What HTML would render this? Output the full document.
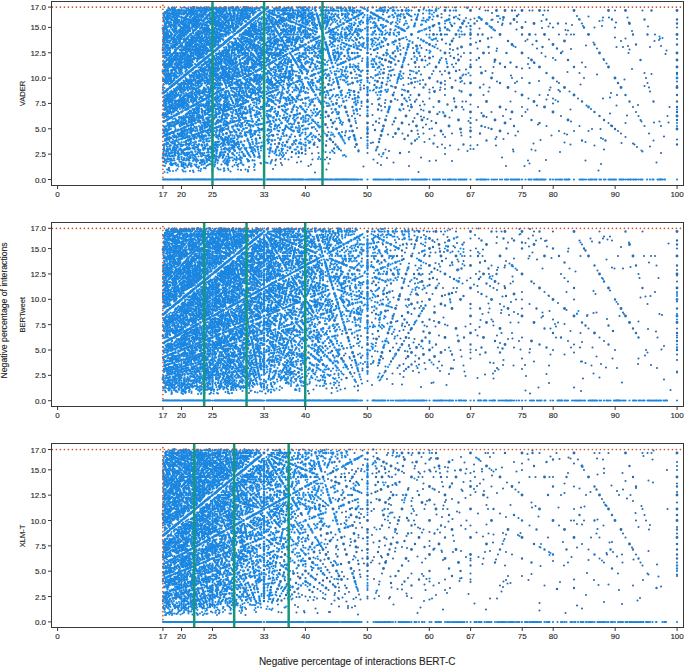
<!DOCTYPE html><html><head><meta charset="utf-8"><style>
html,body{margin:0;padding:0;background:#fff;}
body{width:685px;height:668px;overflow:hidden;}
svg{display:block;}
text{font-family:"Liberation Sans",sans-serif;fill:#262626;stroke:#262626;stroke-width:.12px;}
.xt{font-size:8px;text-anchor:middle;}
.yt{font-size:8px;text-anchor:end;}
.pl{font-size:7.6px;text-anchor:middle;}
.yl{font-size:8.67px;text-anchor:middle;}
.xl{font-size:10px;text-anchor:middle;}
.sp{fill:none;stroke:#383838;stroke-width:1;}
.tk{fill:none;stroke:#383838;stroke-width:1;}
.grn{stroke:#17967b;stroke-width:2.5;}
.sc path{fill:none;stroke:#1a86e0;stroke-linecap:round;}
.sc path.iso{stroke:#2a6cb0;}
.dot{fill:none;stroke:#cf5428;stroke-width:1.7;stroke-dasharray:0 4;stroke-linecap:round;}
</style></head><body><svg width="685" height="668" viewBox="0 0 685 668"><g class="sc" transform="scale(.5)"><path class="iso" d="M745 15h0m1 0h0m83 0h0m63 0h0m18 0h0m49 3h0m-136 3h0m148 0h0m5 0h0m54 0h0m29 0h0m6 0h0m24 0h0m7 0h0m134 0h0m55 0h0m-301 5h0m-138 1h0m37 1h0m-117 1h0m271 0h0m49 1h0m-167 0h0m-20 1h0m255 1h0m-160 0h0m183 1h0m-400 1h0m106 1h0m323 0h0m12 0h0m37 0h0m-323 1h0m17 1h0m36 2h0m-44 0h0m-22 0h0m-54 0h0m-42 1h0m160 0h0m-226 1h0m197 1h0m129 0h0m116 0h0m-148 2h0m-17 0h0m-38 0h0m-220 0h0m456 1h0m26 0h0m-321 1h0m-28 1h0m96 0h0m95 0h0m32 0h0m32 0h0m-20 3h0m-140 0h0m-135 0h0m335 2h0m92 1h0m-199 0h0m-164 0h0m173 2h0m83 0h0m41 0h0m124 0h0m-270 1h0m-342 0h0m217 1h0m74 2h0m98 1h0m5 1h0m-146 0h0m-91 0h0m-39 0h0m404 1h0m46 7h0m-162 0h0m-6 0h0m-9 0h0m-15 0h0m-47 0h0m-177 0h0m-4 0h0m-16 0h0m-21 0h0m66 5h0m311 1h0m-247 0h0m-147 1h0m415 1h0m-310 0h0m-34 0h0m447 1h0m-256 1h0m-43 0h0m-4 3h0m191 0h0m67 0h0m-122 3h0m-235 0h0m-153 2h0m93 0h0m173 2h0m-225 2h0m332 0h0m150 1h0m-66 0h0m-391 0h0m-98 0h0m264 2h0m202 0h0m13 0h0m54 0h0m-457 2h0m-17 0h0m-19 0h0m68 1h0m80 0h0m39 0h0m80 0h0m120 0h0m-52 1h0m-242 0h0m359 1h0m-353 1h0m-53 0h0m-79 0h0m-52 0h0m159 1h0m452 0h0m-340 1h0m132 1h0m132 3h0m-174 0h0m-105 0h0m-50 0h0m-29 0h0m-144 0h0m46 2h0m530 0h0m-415 1h0m-115 0h0m-59 0h0m98 3h0m61 0h0m190 1h0m-169 0h0m-56 0h0m-16 0h0m33 3h0m174 0h0m49 0h0m-381 1h0m98 1h0m69 0h0m315 0h0m1 2h0m-97 0h0m-158 0h0m-12 0h0m-90 1h0m-127 1h0m265 2h0m175 1h0m-95 1h0m144 1h0m-301 0h0m-53 0h0m197 1h0m-115 1h0m-37 0h0m-87 0h0m-51 2h0m405 3h0m-184 0h0m-26 0h0m-54 0h0m-58 0h0m-11 0h0m-7 0h0m-50 0h0m-5 0h0m283 2h0m-15 1h0m-276 1h0m496 0h0m-332 1h0m-13 1h0m-99 1h0m-95 0h0m-101 1h0m214 0h0m29 0h0m23 0h0m81 0h0m-91 1h0m-170 0h0m425 1h0m154 2h0m-130 0h0m-174 0h0m-178 1h0m496 1h0m-439 0h0m-129 0h0m-22 1h0m64 0h0m43 0h0m22 0h0m42 0h0m310 0h0m-405 1h0m136 1h0m16 0h0m81 0h0m-300 1h0m20 2h0m550 2h0m-124 0h0m-124 0h0m-20 0h0m-124 0h0m-69 0h0m-14 0h0m-51 0h0m-7 0h0m-55 0h0m-73 0h0m618 3h0m-403 1h0m65 1h0m167 1h0m-188 0h0m104 1h0m40 0h0m80 0h0m240 0h0m-433 1h0m-91 0h0m200 2h0m88 0h0m177 0h0m-366 1h0m-112 1h0m23 0h0m321 1h0m-194 0h0m-77 0h0m-83 1h0m-79 1h0m54 1h0m507 0h0m65 0h0m-56 3h0m-197 0h0m-122 0h0m-98 0h0m-15 0h0m-37 0h0m-101 2h0m162 1h0m-31 1h0m258 1h0m-18 0h0m-219 0h0m39 1h0m381 2h0m-161 0h0m-19 0h0m-89 0h0m-54 0h0m-392 1h0m274 1h0m-71 0h0m-172 1h0m606 0h0m12 4h0m-138 0h0m-17 0h0m-112 0h0m-77 0h0m-69 0h0m399 5h0m-14 2h0m-50 0h0m-50 0h0m-49 0h0m-198 0h0m-154 1h0m85 0h0m303 1h0m-260 0h0m-77 0h0m-21 0h0m36 1h0m24 0h0m-102 1h0m30 2h0m123 0h0m63 0h0m16 0h0m7 0h0m89 0h0m95 0h0m-346 3h0m-164 0h0m500 1h0m-362 1h0m78 1h0m27 0h0m92 0h0m335 1h0m-436 1h0m234 0h0m99 0h0m60 0h0m-417 1h0m-54 0h0m8 2h0m97 0h0m57 0h0m32 0h0m88 0h0m222 0h0m73 0h0m-648 2h0m-28 2h0m57 0h0m87 0h0m375 0h0m-41 1h0m-86 0h0m-43 0h0m-85 0h0m-85 0h0m-79 2h0m56 0h0m28 0h0m57 0h0m368 3h0m-221 0h0m-68 0h0m-319 2h0m299 0h0m257 1h0m-475 3h0m509 1h0m-534 0h0m-24 1h0m8 0h0m69 0h0m233 0h0m38 0h0m78 0h0m155 0h0m58 0h0m-493 1h0m131 1h0m-74 1h0m-51 0h0m-19 1h0m112 0h0m-182 1h0m-49 0h0m145 1h0m166 0h0m260 2h0m-328 0h0m-90 2h0m74 0h0m382 1h0m-36 0h0m-141 0h0m-443 0h0m-53 0h0m662 2h0m29 0h0m-86 1h0m-34 0h0m-459 0h0m-46 0h0m73 3h0m33 0h0m34 0h0m224 0h0m-330 1h0m476 1h0m100 1h0m-33 0h0m-130 0h0m-66 0h0m-429 2h0m71 0h0m235 0h0m-29 1h0m-95 0h0m-191 0h0m59 1h0m263 0h0m-113 1h0m-5 1h0m325 0h0m17 0h0m-366 3h0m-201 1h0m484 0h0m30 0h0m29 0h0m59 0h0m-200 1h0m-379 1h0m27 0h0m238 1h0m-117 2h0m42 0h0m57 0h0m112 0h0m113 0h0m113 0h0m56 0h0m-462 1h0m-253 1h0m55 0h0m138 0h0m110 0h0m248 0h0m-31 2h0m-72 0h0m-108 0h0m-54 0h0m-179 0h0m-100 2h0m52 0h0m27 0h0m659 0h0m-77 1h0m-258 0h0m-52 0h0m-51 0h0m-104 0h0m-64 2h0m480 0h0m-195 2h0m-16 0h0m-132 0h0m495 1h0m-273 1h0m-531 0h0m757 1h0m-654 1h0m-164 0h0m360 2h0m322 0h0m-42 1h0m-383 0h0m-4 1h0m501 0h0m23 1h0m-199 0h0m-421 0h0m-96 1h0m719 1h0m-128 0h0m-257 0h0m71 1h0m234 1h0m-197 0h0m-51 0h0m-41 0h0m400 2h0m-26 1h0m-399 0h0m-165 0h0m-75 0h0m-16 2h0m116 0h0m155 0h0m57 2h0m-176 1h0m146 0h0m109 0h0m37 0h0m145 0h0m75 2h0m-212 0h0m-319 0h0m-70 0h0m-107 0h0m203 1h0m157 0h0m350 1h0m-258 0h0m-310 0h0m-66 1h0m167 0h0m302 0h0m202 2h0m-555 0h0m-32 0h0m-66 0h0m-32 0h0m-13 1h0m266 1h0m-279 0h0m147 1h0m-220 4h0m45 1h0m14 0h0m407 1h0m-162 0h0m-188 0h0m120 1h0m-114 2h0m-99 0h0m-9 1h0m25 0h0m48 0h0m25 0h0m97 0h0m345 1h0m-564 1h0m23 0h0m321 0h0m184 0h0m115 0h0m-267 1h0m-45 0h0m-257 1h0m711 2h0m-526 0h0m-193 0h0m-73 1h0m41 0h0m193 0h0m304 1h0m-402 0h0m-135 0h0m680 1h0m-580 1h0m-179 0h0m108 1h0m13 0h0m198 0h0m287 2h0m-37 0h0m-194 0h0m-201 0h0m-152 1h0m262 0h0m-229 1h0m48 4h0m107 1h0m-162 0h0m-9 1h0m27 0h0m688 1h0m-817 1h0m45 0h0m654 0h0m-583 1h0m-35 0h0m-74 1h0m450 0h0m-207 1h0" stroke-width="4.20"/><path class="iso" d="M900 21h0m124 0h0m279 0h0m-269 11h0m-126 3h0m446 4h0m-65 0h0m-65 0h0m-65 0h0m-66 0h0m-144 8h0m72 0h0m95 0h0m238 0h0m-413 5h0m-37 0h0m-14 3h0m278 0h0m-387 4h0m148 10h0m27 0h0m9 0h0m79 0h0m222 0h0m29 0h0m-319 8h0m-92 2h0m189 3h0m-57 0h0m-56 0h0m-343 3h0m101 0h0m636 4h0m-82 0h0m-83 0h0m-289 0h0m77 5h0m108 0h0m29 3h0m-199 0h0m-167 3h0m374 6h0m-109 0h0m-72 0h0m-113 0h0m-113 0h0m-11 0h0m63 4h0m-78 2h0m102 1h0m167 3h0m-50 0h0m-144 2h0m517 2h0m-145 0h0m-339 2h0m-19 1h0m-87 0h0m187 2h0m143 0h0m47 0h0m-68 2h0m-209 2h0m357 5h0m-115 0h0m-23 0h0m-115 0h0m17 8h0m-111 1h0m292 3h0m261 0h0m-572 5h0m-123 10h0m216 2h0m125 3h0m59 0h0m177 0h0m-385 3h0m-78 0h0m-24 1h0m211 5h0m-113 0h0m-197 0h0m71 4h0m202 4h0m-206 2h0m637 5h0m-103 0h0m-447 0h0m-153 5h0m257 2h0m-99 0h0m21 6h0m334 0h0m95 0h0m48 0h0m47 0h0m-459 6h0m-137 0h0m-129 2h0m725 3h0m-649 0h0m51 5h0m43 0h0m555 5h0m-165 0h0m-606 0h0m17 3h0m275 1h0m-40 0h0m364 4h0m-408 4h0m-129 4h0m401 0h0m145 0h0m146 0h0m-528 3h0m-38 0h0m-36 0h0m120 3h0m69 0h0m138 0h0m145 6h0m-196 0h0m-65 0h0m-339 3h0m606 3h0m-247 0h0m-233 2h0m73 2h0m137 5h0m-144 4h0m-243 0h0m162 3h0m-215 2h0m239 2h0m50 0h0m402 3h0m-47 0h0m-191 0h0m-143 0h0m-164 3h0m92 0h0m109 3h0m-44 0h0m-152 2h0m256 0h0m427 0h0m-702 2h0m103 3h0m-152 4h0m8 3h0m35 0h0m71 0h0m-133 3h0m20 2h0m196 0h0m-272 5h0" stroke-width="4.80"/><path class="iso" d="M804 21h0m34 0h0m52 0h0m51 0h0m52 0h0m17 0h0m34 0h0m35 0h0m69 0h0m69 0h0m34 0h0m103 0h0m-479 11h0m-66 3h0m198 0h0m21 4h0m-195 0h0m45 8h0m47 0h0m48 0h0m95 0h0m191 0h0m-393 5h0m55 3h0m123 0h0m310 14h0m-177 0h0m-88 0h0m-30 0h0m-59 0h0m-59 0h0m-29 0h0m-30 0h0m-15 0h0m-44 0h0m-110 10h0m86 0h0m330 3h0m-225 0h0m-128 7h0m83 0h0m82 0h0m83 0h0m82 0h0m-273 3h0m90 2h0m431 12h0m-155 0h0m-155 0h0m-77 0h0m-77 0h0m-104 0h0m-51 0h0m124 10h0m495 4h0m-291 0h0m-73 0h0m-73 0h0m-73 0h0m-73 0h0m11 5h0m48 0h0m524 9h0m-137 0h0m-138 0h0m-138 0h0m-69 0h0m-68 0h0m-184 0h0m115 8h0m228 4h0m-65 0h0m-131 0h0m-65 0h0m33 10h0m124 0h0m62 0h0m62 0h0m123 0h0m124 0h0m-475 7h0m-50 3h0m59 0h0m59 0h0m59 0h0m59 0h0m-284 3h0m21 6h0m113 0h0m113 0h0m112 0h0m113 0h0m113 0h0m112 0h0m-485 8h0m-53 0h0m-108 0h0m27 7h0m51 0h0m52 0h0m103 0h0m103 0h0m104 0h0m-80 13h0m-95 0h0m-95 0h0m-96 0h0m-47 0h0m-62 4h0m131 2h0m-246 5h0m88 0h0m44 0h0m45 0h0m88 0h0m89 0h0m88 0h0m89 0h0m17 10h0m-82 0h0m-83 0h0m-82 0h0m-166 0h0m-41 0h0m5 8h0m78 0h0m77 0h0m78 0h0m77 0h0m387 0h0m-218 8h0m-146 0h0m-73 0h0m-73 0h0m-73 0h0m-73 0h0m-101 6h0m69 0h0m69 0h0m69 0h0m206 0h0m-359 3h0m51 3h0m65 0h0m66 0h0m65 0h0m456 6h0m-433 0h0m-124 0h0m-124 0h0m-27 4h0m59 0h0m59 0h0m118 0h0m59 0h0m59 0h0m-209 5h0m-56 0h0m-282 0h0m93 4h0m108 0h0m54 0h0m54 0h0m-234 3h0m132 4h0m-21 3h0m-65 3h0m-16 3h0m70 2h0m85 0h0m-158 5h0" stroke-width="5.80"/><path d="M388 14h0m25 0h0m74 0h0m37 0h0m74 0h0m13 0h0m37 0h0m286 1h0m-1 0h0m-140 0h0m-27 0h0m-42 0h0m-1 0h0m-62 0h0m-15 0h0m-44 0h0m-4 0h0m-4 0h0m-70 0h0m-10 0h0m-1 0h0m-12 0h0m-29 0h0m-30 0h0m-12 0h0m-11 0h0m-5 0h0m-5 0h0m-6 0h0m-7 0h0m-15 0h0m-11 0h0m-3 0h0m-18 0h0m-1 0h0m2 1h0m13 0h0m20 0h0m12 0h0m3 0h0m9 0h0m18 0h0m5 0h0m4 0h0m16 0h0m14 0h0m13 0h0m12 0h0m10 0h0m10 0h0m6 0h0m10 0h0m9 0h0m17 0h0m3 0h0m15 0h0m9 0h0m17 0h0m9 0h0m35 0h0m35 0h0m4 0h0m13 0h0m7 0h0m8 0h0m3 0h0m26 0h0m26 0h0m2 0h0m19 0h0m31 0h0m35 0h0m87 0h0m-58 1h0m-97 0h0m-21 0h0m-32 0h0m-27 0h0m-14 0h0m-4 0h0m-20 0h0m-32 0h0m-16 0h0m-12 0h0m-17 0h0m-3 0h0m-10 0h0m-6 0h0m-7 0h0m-11 0h0m-15 0h0m-15 0h0m-1 0h0m-14 0h0m-2 0h0m-10 0h0m-6 0h0m-12 0h0m-6 0h0m-14 0h0m-4 0h0m-5 0h0m-9 0h0m-6 0h0m-1 0h0m-23 0h0m-11 0h0m-5 0h0m-5 0h0m-8 0h0m-26 0h0m-11 0h0m5 1h0m3 0h0m39 0h0m13 0h0m11 0h0m1 0h0m7 0h0m4 0h0m26 0h0m3 0h0m8 0h0m25 0h0m6 0h0m5 0h0m15 0h0m2 0h0m20 0h0m19 0h0m14 0h0m8 0h0m33 0h0m1 0h0m18 0h0m42 0h0m25 0h0m38 0h0m142 0h0m-25 1h0m-203 0h0m-35 0h0m-53 0h0m-25 0h0m-52 0h0m-20 0h0m-19 0h0m-9 0h0m-44 0h0m-6 0h0m-4 0h0m-19 0h0m-18 0h0m-5 2h0m1 0h0m2 0h0m1 0h0m21 0h0m5 0h0m11 0h0m10 0h0m9 0h0m2 0h0m1 0h0m2 0h0m7 0h0m2 0h0m2 0h0m1 0h0m8 0h0m22 0h0m7 0h0m15 0h0m1 0h0m2 0h0m5 0h0m1 0h0m7 0h0m2 0h0m1 0h0m1 0h0m1 0h0m7 0h0m4 0h0m10 0h0m2 0h0m1 0h0m7 0h0m4 0h0m18 0h0m6 0h0m1 0h0m2 0h0m2 0h0m7 0h0m2 0h0m2 0h0m7 0h0m7 0h0m2 0h0m9 0h0m1 0h0m4 0h0m1 0h0m1 0h0m1 0h0m10 0h0m19 0h0m19 0h0m5 0h0m3 0h0m6 0h0m1 0h0m4 0h0m1 0h0m1 0h0m7 0h0m2 0h0m2 0h0m3 0h0m16 0h0m7 0h0m10 0h0m8 0h0m4 0h0m37 0h0m31 0h0m6 0h0m2 0h0m14 0h0m42 0h0m11 0h0m43 0h0m-230 2h0m-143 0h0m-43 0h0m-1 0h0m-98 0h0m-9 0h0m-11 0h0m-42 1h0m14 0h0m8 0h0m5 0h0m2 0h0m10 0h0m2 0h0m8 0h0m9 0h0m7 0h0m7 0h0m2 0h0m8 0h0m21 0h0m2 0h0m10 0h0m8 0h0m7 0h0m16 0h0m10 0h0m4 0h0m2 0h0m11 0h0m1 0h0m8 0h0m12 0h0m13 0h0m12 0h0m37 0h0m10 0h0m4 0h0m1 0h0m7 0h0m97 0h0m4 0h0m10 0h0m48 0h0m101 1h0m-94 0h0m-32 0h0m-29 0h0m-18 0h0m-70 0h0m-6 0h0m-8 0h0m-25 0h0m-16 0h0m-3 0h0m-28 0h0m-15 0h0m-14 0h0m-27 0h0m-14 0h0m-9 0h0m-31 0h0m-16 0h0m-12 0h0m-19 0h0m-4 0h0m-12 0h0m-6 0h0m-25 0h0m-2 0h0m-5 1h0m8 0h0m10 0h0m7 0h0m3 0h0m21 0h0m10 0h0m6 0h0m18 0h0m27 0h0m16 0h0m6 0h0m20 0h0m16 0h0m8 0h0m2 0h0m34 0h0m1 0h0m15 0h0m2 0h0m17 0h0m3 0h0m12 0h0m17 0h0m17 0h0m27 0h0m74 0h0m19 0h0m46 0h0m1 1h0m-45 0h0m-62 0h0m-20 0h0m-8 0h0m-33 0h0m-6 0h0m-10 0h0m-3 0h0m-8 0h0m-8 0h0m-6 0h0m-8 0h0m-6 0h0m-47 0h0m-1 0h0m-12 0h0m-8 0h0m-24 0h0m-15 0h0m-1 0h0m-20 0h0m-15 0h0m-36 0h0m-28 0h0m-9 0h0m-12 0h0m-10 0h0m25 1h0m30 0h0m3 0h0m10 0h0m27 0h0m6 0h0m9 0h0m42 0h0m4 0h0m6 0h0m15 0h0m12 0h0m14 0h0m40 0h0m35 0h0m76 0h0m2 0h0m116 0h0m14 0h0m48 1h0m-34 0h0m-33 0h0m-93 0h0m-27 0h0m-48 0h0m-3 0h0m-24 0h0m-7 0h0m-4 0h0m-27 0h0m-2 0h0m-24 0h0m-5 0h0m-15 0h0m-31 0h0m-5 0h0m-34 0h0m-21 0h0m-20 0h0m-13 0h0m-5 0h0m-22 0h0m-4 0h0m-6 0h0m-9 0h0m-12 0h0m-9 1h0m6 0h0m61 0h0m7 0h0m11 0h0m13 0h0m14 0h0m28 0h0m19 0h0m9 0h0m5 0h0m6 0h0m22 0h0m32 0h0m7 0h0m35 0h0m32 0h0m6 0h0m28 0h0m61 0h0m6 0h0m65 1h0m-47 0h0m-48 0h0m-64 0h0m-16 0h0m-9 0h0m-5 0h0m-7 0h0m-5 0h0m-12 0h0m-7 0h0m-2 0h0m-80 0h0m-17 0h0m-1 0h0m-7 0h0m-24 0h0m-11 0h0m-10 0h0m-3 0h0m-5 0h0m-4 0h0m-13 0h0m-5 0h0m-25 0h0m-33 0h0m-12 0h0m28 1h0m1 0h0m48 0h0m15 0h0m42 0h0m3 0h0m70 0h0m4 0h0m49 0h0m9 0h0m18 0h0m40 0h0m40 0h0m46 0h0m80 0h0m14 0h0m162 0h0m-85 1h0m-45 0h0m-44 0h0m-22 0h0m-88 0h0m-45 0h0m-66 0h0m-3 0h0m-19 0h0m-4 0h0m-18 0h0m-16 0h0m-6 0h0m-23 0h0m-17 0h0m-39 0h0m-4 0h0m-53 0h0m-8 0h0m-44 0h0m-5 0h0m-14 1h0m4 0h0m12 0h0m7 0h0m19 0h0m1 0h0m34 0h0m25 0h0m21 0h0m2 0h0m12 0h0m1 0h0m15 0h0m16 0h0m3 0h0m23 0h0m55 0h0m10 0h0m17 0h0m12 0h0m2 0h0m6 0h0m25 0h0m14 0h0m62 0h0m15 0h0m46 0h0m46 1h0m-47 0h0m-44 0h0m-3 0h0m-14 0h0m-18 0h0m-15 0h0m-16 0h0m-25 0h0m-68 0h0m-6 0h0m-24 0h0m-9 0h0m-8 0h0m-42 0h0m-5 0h0m-11 0h0m-29 0h0m-5 0h0m-16 0h0m-25 0h0m-8 0h0m-4 0h0m-27 0h0m-10 0h0m-2 0h0m-7 0h0m-12 1h0m33 0h0m18 0h0m18 0h0m8 0h0m22 0h0m6 0h0m8 0h0m45 0h0m3 0h0m24 0h0m9 0h0m18 0h0m18 0h0m9 0h0m7 0h0m2 0h0m21 0h0m6 0h0m9 0h0m2 0h0m2 0h0m23 0h0m18 0h0m15 0h0m14 0h0m5 0h0m11 0h0m54 0h0m85 0h0m113 0h0m40 1h0m-84 0h0m-121 0h0m-45 0h0m-33 0h0m-31 0h0m-50 0h0m-9 0h0m-20 0h0m-29 0h0m-30 0h0m-4 0h0m-12 0h0m-9 0h0m-3 0h0m-11 0h0m-1 0h0m-45 0h0m-4 0h0m-8 0h0m-20 0h0m-15 0h0m-89 0h0m9 1h0m17 0h0m20 0h0m37 0h0m5 0h0m44 0h0m24 0h0m15 0h0m9 0h0m38 0h0m16 0h0m20 0h0m25 0h0m49 0h0m102 0h0m401 0h0m-304 1h0m-54 0h0m-61 0h0m-76 0h0m-4 0h0m-35 0h0m-9 0h0m-27 0h0m-38 0h0m-22 0h0m-5 0h0m-27 0h0m-16 0h0m-22 0h0m-28 0h0m-2 0h0m-8 0h0m-5 0h0m-26 0h0m-2 0h0m-2 0h0m-48 0h0m-10 0h0m1 1h0m17 0h0m7 0h0m11 0h0m27 0h0m1 0h0m11 0h0m34 0h0m1 0h0m12 0h0m3 0h0m17 0h0m36 0h0m28 0h0m11 0h0m19 0h0m1 0h0m11 0h0m54 0h0m35 0h0m17 0h0m9 0h0m10 0h0m12 0h0m145 0h0m37 0h0m112 0h0m199 1h0m-358 0h0m-3 0h0m-49 0h0m-60 0h0m-12 0h0m-25 0h0m-24 0h0m-61 0h0m-12 0h0m-8 0h0m-60 0h0m-57 0h0m-9 0h0m-14 0h0m-23 0h0m-1 0h0m-30 0h0m-15 0h0m-13 0h0m-1 0h0m-16 0h0m42 1h0m3 0h0m18 0h0m11 0h0m16 0h0m48 0h0m11 0h0m8 0h0m4 0h0m31 0h0m14 0h0m10 0h0m23 0h0m13 0h0m6 0h0m42 0h0m68 0h0m90 0h0m39 0h0m39 0h0m-196 1h0m-56 0h0m-24 0h0m-33 0h0m-29 0h0m-18 0h0m-44 0h0m-6 0h0m-13 0h0m-15 0h0m-23 0h0m-11 0h0m-1 0h0m-33 0h0m-9 0h0m-14 0h0m-13 0h0m-3 0h0m-9 0h0m10 1h0m22 0h0m5 0h0m48 0h0m7 0h0m25 0h0m35 0h0m29 0h0m30 0h0m77 0h0m38 0h0m5 0h0m9 0h0m1 0h0m12 0h0m25 0h0m3 0h0m20 0h0m7 0h0m37 0h0m14 0h0m53 0h0m48 1h0m-108 0h0m-43 0h0m-40 0h0m-53 0h0m-4 0h0m-13 0h0m-15 0h0m-7 0h0m-4 0h0m-9 0h0m-16 0h0m-30 0h0m-15 0h0m-26 0h0m-9 0h0m-10 0h0m-25 0h0m-9 0h0m-10 0h0m-7 0h0m-7 0h0m-2 0h0m-13 0h0m-3 0h0m-10 0h0m-3 0h0m-26 0h0m-2 0h0m-4 0h0m-11 0h0m-15 0h0m-15 0h0m-3 0h0m14 1h0m5 0h0m4 0h0m33 0h0m8 0h0m11 0h0m11 0h0m24 0h0m13 0h0m8 0h0m14 0h0m20 0h0m23 0h0m7 0h0m4 0h0m22 0h0m53 0h0m139 0h0m144 1h0m-76 0h0m-4 0h0m-91 0h0m-8 0h0m-8 0h0m-4 0h0m-24 0h0m-12 0h0m-14 0h0m-3 0h0m-16 0h0m-22 0h0m-3 0h0m-37 0h0m-14 0h0m-5 0h0m-10 0h0m-4 0h0m-11 0h0m-4 0h0m-35 0h0m-2 0h0m-6 0h0m-4 0h0m-36 0h0m-9 0h0m-6 0h0m-31 0h0m-9 0h0m-17 0h0m-32 0h0m30 1h0m8 0h0m1 0h0m23 0h0m9 0h0m10 0h0m9 0h0m2 0h0m16 0h0m9 0h0m53 0h0m2 0h0m31 0h0m13 0h0m13 0h0m67 0h0m11 0h0m15 0h0m20 0h0m120 0h0m180 0h0m-73 1h0m-58 0h0m-1 0h0m-122 0h0m-38 0h0m-57 0h0m-30 0h0m-27 0h0m-17 0h0m-2 0h0m-12 0h0m-15 0h0m-3 0h0m-11 0h0m-15 0h0m-17 0h0m-12 0h0m-19 0h0m-12 0h0m-9 0h0m-4 0h0m-15 0h0m-13 0h0m-1 0h0m-19 0h0m-30 0h0m-4 0h0m-9 0h0m16 1h0m3 0h0m8 0h0m10 0h0m4 0h0m16 0h0m23 0h0m47 0h0m24 0h0m20 0h0m5 0h0m40 0h0m31 0h0m21 0h0m42 0h0m21 0h0m21 0h0m21 0h0m63 0h0m42 0h0m21 0h0m13 0h0m-92 1h0m-96 0h0m-21 0h0m-2 0h0m-12 0h0m-18 0h0m-20 0h0m-11 0h0m-23 0h0m-45 0h0m-10 0h0m-30 0h0m-20 0h0m-29 0h0m-10 0h0m-33 0h0m-39 1h0m15 0h0m29 0h0m11 0h0m3 0h0m8 0h0m20 0h0m17 0h0m4 0h0m3 0h0m3 0h0m3 0h0m15 0h0m41 0h0m6 0h0m2 0h0m45 0h0m20 0h0m29 0h0m92 0h0m75 0h0m19 0h0m188 0h0m187 0h0m-338 1h0m-11 0h0m-24 0h0m-23 0h0m-35 0h0m-58 0h0m-31 0h0m-5 0h0m-11 0h0m-40 0h0m-31 0h0m-3 0h0m-16 0h0m-34 0h0m-17 0h0m-17 0h0m-13 0h0m-4 0h0m-64 0h0m-20 0h0m-10 0h0m-14 0h0m-10 0h0m-9 1h0m39 0h0m1 0h0m10 0h0m11 0h0m6 0h0m46 0h0m21 0h0m15 0h0m66 0h0m1 0h0m28 0h0m9 0h0m27 0h0m34 0h0m339 0h0m-102 1h0m-62 0h0m-67 0h0m-3 0h0m-62 0h0m-54 0h0m-5 0h0m-24 0h0m-12 0h0m-3 0h0m-112 0h0m-13 0h0m-47 0h0m-2 0h0m-4 0h0m-7 0h0m-24 0h0m-30 0h0m-18 1h0m70 0h0m5 0h0m9 0h0m15 0h0m8 0h0m2 0h0m4 0h0m5 0h0m3 0h0m6 0h0m14 0h0m3 0h0m11 0h0m11 0h0m1 0h0m25 0h0m10 0h0m9 0h0m18 0h0m19 0h0m9 0h0m9 0h0m3 0h0m52 0h0m8 0h0m97 0h0m124 1h0m-27 0h0m-39 0h0m-84 0h0m-17 0h0m-44 0h0m-11 0h0m-29 0h0m-90 0h0m-11 0h0m-3 0h0m-80 0h0m-27 0h0m-6 0h0m-3 0h0m-38 0h0m-6 0h0m35 1h0m15 0h0m2 0h0m42 0h0m24 0h0m17 0h0m9 0h0m8 0h0m64 0h0m36 0h0m17 0h0m17 0h0m33 0h0m17 0h0m17 0h0m134 0h0m-61 1h0m-56 0h0m-14 0h0m-78 0h0m-54 0h0m-26 0h0m-20 0h0m-5 0h0m-14 0h0m-7 0h0m-4 0h0m-15 0h0m-17 0h0m-14 0h0m-15 0h0m-27 0h0m-8 0h0m-11 0h0m-21 0h0m-6 0h0m-40 1h0m11 0h0m9 0h0m10 0h0m20 0h0m21 0h0m50 0h0m7 0h0m14 0h0m10 0h0m2 0h0m13 0h0m5 0h0m9 0h0m12 0h0m40 0h0m13 0h0m38 0h0m40 0h0m13 0h0m28 0h0m21 0h0m81 0h0m1 0h0m37 1h0m-55 0h0m-18 0h0m-9 0h0m-46 0h0m-145 0h0m-6 0h0m-18 0h0m-4 0h0m-9 0h0m-12 0h0m-61 0h0m-5 0h0m-37 0h0m-9 0h0m-35 0h0m-10 0h0m-4 0h0m-15 0h0m17 1h0m8 0h0m6 0h0m19 0h0m1 0h0m5 0h0m11 0h0m14 0h0m2 0h0m4 0h0m35 0h0m2 0h0m9 0h0m14 0h0m2 0h0m8 0h0m15 0h0m10 0h0m17 0h0m34 0h0m5 0h0m30 0h0m15 0h0m15 0h0m66 0h0m10 0h0m90 0h0m30 0h0m83 1h0m-162 0h0m-39 0h0m-22 0h0m-17 0h0m-26 0h0m-13 0h0m-13 0h0m-51 0h0m-33 0h0m-51 0h0m-7 0h0m-21 0h0m-19 0h0m-8 0h0m-7 0h0m-68 0h0m-14 0h0m-14 0h0m-4 0h0m-5 1h0m11 0h0m19 0h0m27 0h0m11 0h0m15 0h0m4 0h0m12 0h0m36 0h0m57 0h0m7 0h0m8 0h0m12 0h0m18 0h0m15 0h0m19 0h0m57 0h0m9 0h0m1 0h0m34 0h0m11 0h0m34 0h0m19 0h0m71 0h0m105 1h0m-146 0h0m-15 0h0m-5 0h0m-60 0h0m-7 0h0m-16 0h0m-2 0h0m-17 0h0m-1 0h0m-3 0h0m-7 0h0m-7 0h0m-2 0h0m-8 0h0m-30 0h0m-8 0h0m-3 0h0m-16 0h0m-6 0h0m-18 0h0m-9 0h0m-20 0h0m-7 0h0m-13 0h0m-3 0h0m-17 0h0m-21 0h0m-9 0h0m-9 0h0m-18 0h0m-7 0h0m-6 0h0m-5 0h0m-2 0h0m-13 0h0m-8 0h0m-5 0h0m-16 0h0m-5 0h0m-4 0h0m-6 0h0m-1 0h0m-5 0h0m-1 0h0m-5 0h0m-7 0h0m-11 0h0m-4 0h0m15 1h0m12 0h0m9 0h0m2 0h0m4 0h0m44 0h0m1 0h0m15 0h0m30 0h0m1 0h0m13 0h0m13 0h0m2 0h0m8 0h0m2 0h0m3 0h0m2 0h0m11 0h0m10 0h0m9 0h0m23 0h0m6 0h0m26 0h0m38 0h0m26 0h0m30 0h0m66 0h0m39 0h0m-15 1h0m-72 0h0m-144 0h0m-31 0h0m-8 0h0m-5 0h0m-40 0h0m-20 0h0m-30 0h0m-1 0h0m-8 0h0m-13 0h0m-6 0h0m-7 0h0m-4 0h0m-47 0h0m-3 0h0m-2 0h0m1 2h0m13 0h0m12 0h0m16 0h0m23 0h0m5 0h0m12 0h0m17 0h0m1 0h0m5 0h0m11 0h0m4 0h0m2 0h0m27 0h0m2 0h0m3 0h0m1 0h0m1 0h0m15 0h0m1 0h0m3 0h0m3 0h0m8 0h0m8 0h0m11 0h0m26 0h0m10 0h0m20 0h0m4 0h0m13 0h0m4 0h0m1 0h0m15 0h0m2 0h0m29 0h0m1 0h0m1 0h0m2 0h0m2 0h0m2 0h0m3 0h0m23 0h0m3 0h0m2 0h0m15 0h0m29 0h0m9 0h0m7 0h0m11 0h0m28 0h0m61 0h0m60 0h0m5 0h0m-422 2h0m-106 0h0m-3 0h0m-14 0h0m-13 0h0m-1 0h0m-4 0h0m-5 0h0m-25 1h0m3 0h0m3 0h0m5 0h0m7 0h0m7 0h0m10 0h0m1 0h0m22 0h0m5 0h0m2 0h0m2 0h0m27 0h0m10 0h0m9 0h0m8 0h0m14 0h0m13 0h0m18 0h0m6 0h0m3 0h0m22 0h0m25 0h0m6 0h0m107 0h0m28 0h0m22 0h0m77 0h0m526 1h0m-628 0h0m-66 0h0m-14 0h0m-3 0h0m-12 0h0m-27 0h0m-2 0h0m-15 0h0m-38 0h0m-15 0h0m-34 0h0m-27 0h0m-2 0h0m-13 0h0m-2 0h0m-4 0h0m-23 0h0m-25 0h0m-21 0h0m-6 0h0m-8 0h0m4 1h0m10 0h0m52 0h0m9 0h0m24 0h0m31 0h0m38 0h0m15 0h0m49 0h0m14 0h0m13 0h0m6 0h0m28 0h0m11 0h0m10 0h0m11 0h0m10 0h0m11 0h0m22 0h0m22 0h0m88 0h0m-53 1h0m-49 0h0m-25 0h0m-49 0h0m-11 0h0m-14 0h0m-13 0h0m-62 0h0m-12 0h0m-4 0h0m-84 0h0m-8 0h0m-35 0h0m-18 0h0m-47 1h0m3 0h0m11 0h0m17 0h0m25 0h0m5 0h0m19 0h0m8 0h0m2 0h0m5 0h0m12 0h0m40 0h0m13 0h0m3 0h0m34 0h0m13 0h0m48 0h0m27 0h0m6 0h0m56 0h0m74 0h0m19 0h0m39 0h0m518 0h0m-5 1h0m-516 0h0m-52 0h0m-25 0h0m-27 0h0m-5 0h0m-15 0h0m-31 0h0m-1 0h0m-34 0h0m-13 0h0m-21 0h0m-2 0h0m-39 0h0m-2 0h0m-17 0h0m-38 0h0m-14 0h0m-8 0h0m-15 0h0m-3 0h0m-6 0h0m-23 0h0m-7 0h0m-8 0h0m-30 0h0m-18 0h0m-15 0h0m-2 0h0m15 1h0m15 0h0m10 0h0m12 0h0m47 0h0m26 0h0m13 0h0m15 0h0m9 0h0m13 0h0m7 0h0m5 0h0m15 0h0m59 0h0m36 0h0m1 0h0m37 0h0m76 0h0m29 0h0m95 0h0m-5 1h0m-49 0h0m-72 0h0m-7 0h0m-86 0h0m-42 0h0m-30 0h0m-3 0h0m-21 0h0m-3 0h0m-22 0h0m-4 0h0m-3 0h0m-7 0h0m-3 0h0m-1 0h0m-13 0h0m-13 0h0m-13 0h0m-13 0h0m-12 0h0m-1 0h0m-7 0h0m-6 0h0m-27 0h0m-5 0h0m-13 0h0m-1 0h0m-4 0h0m-5 0h0m-10 0h0m-6 0h0m-9 0h0m-26 0h0m17 1h0m37 0h0m5 0h0m9 0h0m17 0h0m36 0h0m24 0h0m23 0h0m7 0h0m1 0h0m47 0h0m15 0h0m15 0h0m1 0h0m8 0h0m7 0h0m89 0h0m20 0h0m161 0h0m453 0h0m-547 1h0m-24 0h0m-2 0h0m-53 0h0m-16 0h0m-35 0h0m-4 0h0m-12 0h0m-24 0h0m-26 0h0m-2 0h0m-1 0h0m-13 0h0m-3 0h0m-4 0h0m-32 0h0m-65 0h0m-27 0h0m-7 0h0m-2 0h0m-15 0h0m-26 0h0m-8 0h0m-17 0h0m-17 0h0m-10 1h0m3 0h0m30 0h0m27 0h0m15 0h0m8 0h0m13 0h0m12 0h0m90 0h0m4 0h0m19 0h0m5 0h0m2 0h0m26 0h0m25 0h0m36 0h0m19 0h0m8 0h0m39 0h0m56 0h0m112 0h0m-86 1h0m-119 0h0m-38 0h0m-70 0h0m-11 0h0m-3 0h0m-60 0h0m-48 0h0m-36 0h0m-12 0h0m-12 0h0m-12 0h0m-39 1h0m6 0h0m19 0h0m6 0h0m7 0h0m6 0h0m2 0h0m16 0h0m8 0h0m61 0h0m4 0h0m18 0h0m20 0h0m3 0h0m23 0h0m13 0h0m8 0h0m7 0h0m18 0h0m3 0h0m3 0h0m22 0h0m3 0h0m30 0h0m31 0h0m69 0h0m10 0h0m21 0h0m21 0h0m38 0h0m27 1h0m-88 0h0m-13 0h0m-67 0h0m-22 0h0m-72 0h0m-13 0h0m-4 0h0m-34 0h0m-5 0h0m-42 0h0m-42 0h0m-17 0h0m-52 0h0m-5 0h0m-15 0h0m-23 0h0m-6 0h0m-3 0h0m-2 0h0m3 1h0m22 0h0m3 0h0m10 0h0m43 0h0m6 0h0m3 0h0m60 0h0m14 0h0m11 0h0m18 0h0m143 0h0m24 0h0m24 0h0m17 0h0m31 0h0m66 0h0m29 0h0m-110 1h0m-19 0h0m-36 0h0m-25 0h0m-12 0h0m-8 0h0m-5 0h0m-55 0h0m-31 0h0m-5 0h0m-17 0h0m-29 0h0m-4 0h0m-25 0h0m-9 0h0m-7 0h0m-27 0h0m-13 0h0m-14 0h0m-32 0h0m-13 0h0m-1 0h0m-1 0h0m-14 0h0m-2 0h0m-13 0h0m110 1h0m88 0h0m26 0h0m321 1h0m-84 0h0m-29 0h0m-4 0h0m-7 0h0m-5 0h0m-22 0h0m-14 0h0m-25 0h0m-16 0h0m-6 0h0m-16 0h0m-45 0h0m-9 0h0m-26 0h0m-3 0h0m-12 0h0m-7 0h0m-37 0h0m-10 0h0m-14 0h0m-2 0h0m-24 0h0m-21 0h0m-12 0h0m-12 0h0m-12 0h0m-18 0h0m-29 0h0m-2 0h0m-19 0h0m-2 0h0m-2 0h0m4 1h0m4 0h0m20 0h0m24 0h0m15 0h0m21 0h0m4 0h0m11 0h0m2 0h0m5 0h0m21 0h0m20 0h0m2 0h0m9 0h0m5 0h0m1 0h0m8 0h0m1 0h0m4 0h0m15 0h0m41 0h0m37 0h0m38 0h0m15 0h0m6 0h0m53 0h0m15 0h0m26 1h0m-30 0h0m-47 0h0m-32 0h0m-19 0h0m-18 0h0m-18 0h0m-6 0h0m-7 0h0m-20 0h0m-20 0h0m-34 0h0m-1 0h0m-17 0h0m-10 0h0m-6 0h0m-25 0h0m-12 0h0m-6 0h0m-36 0h0m-7 0h0m-11 0h0m-19 0h0m-15 0h0m-4 1h0m27 0h0m5 0h0m10 0h0m67 0h0m67 0h0m46 0h0m10 0h0m13 0h0m10 0h0m17 0h0m48 0h0m61 0h0m4 0h0m17 0h0m65 0h0m227 0h0m-233 1h0m-49 0h0m-20 0h0m-37 0h0m-24 0h0m-61 0h0m-36 0h0m-25 0h0m-1 0h0m-7 0h0m-6 0h0m-15 0h0m-13 0h0m-16 0h0m-27 0h0m-16 0h0m-1 0h0m-10 0h0m-5 0h0m-20 0h0m-2 0h0m-3 0h0m-9 0h0m-4 0h0m-15 0h0m-22 0h0m-15 1h0m9 0h0m3 0h0m16 0h0m4 0h0m31 0h0m5 0h0m3 0h0m14 0h0m8 0h0m24 0h0m6 0h0m5 0h0m14 0h0m2 0h0m7 0h0m20 0h0m14 0h0m5 0h0m66 0h0m27 0h0m45 0h0m18 0h0m9 0h0m36 0h0m-103 1h0m-14 0h0m-35 0h0m-6 0h0m-70 0h0m-50 0h0m-36 0h0m-45 0h0m-16 0h0m-4 0h0m-3 0h0m-6 0h0m-5 1h0m23 0h0m17 0h0m18 0h0m8 0h0m1 0h0m8 0h0m13 0h0m16 0h0m16 0h0m16 0h0m3 0h0m12 0h0m1 0h0m16 0h0m16 0h0m17 0h0m40 0h0m23 0h0m17 0h0m29 0h0m40 0h0m47 0h0m-17 1h0m-15 0h0m-1 0h0m-49 0h0m-9 0h0m-54 0h0m-4 0h0m-43 0h0m-28 0h0m-5 0h0m-11 0h0m-6 0h0m-52 0h0m-21 0h0m-7 0h0m-1 0h0m-14 0h0m-8 0h0m-7 0h0m-2 0h0m-4 0h0m-4 0h0m-23 0h0m-11 0h0m-6 0h0m8 1h0m27 0h0m9 0h0m6 0h0m7 0h0m13 0h0m18 0h0m6 0h0m30 0h0m17 0h0m3 0h0m9 0h0m6 0h0m18 0h0m51 0h0m10 0h0m9 0h0m9 0h0m27 0h0m35 0h0m36 0h0m15 0h0m2 0h0m42 0h0m-22 1h0m-32 0h0m-36 0h0m-24 0h0m-51 0h0m-5 0h0m-20 0h0m-59 0h0m-24 0h0m-51 0h0m-29 0h0m-3 0h0m-35 0h0m-19 0h0m0 1h0m44 0h0m10 0h0m4 0h0m7 0h0m19 0h0m8 0h0m52 0h0m4 0h0m25 0h0m20 0h0m9 0h0m20 0h0m9 0h0m35 0h0m12 0h0m33 0h0m9 0h0m84 0h0m66 0h0m32 0h0m26 1h0m-193 0h0m-20 0h0m-27 0h0m-32 0h0m-19 0h0m-2 0h0m-14 0h0m-9 0h0m-15 0h0m-7 0h0m-7 0h0m-5 0h0m-20 0h0m-30 0h0m-4 0h0m-48 0h0m-7 0h0m-3 0h0m-2 0h0m-9 0h0m-5 0h0m-3 0h0m-43 1h0m15 0h0m27 0h0m21 0h0m14 0h0m9 0h0m8 0h0m10 0h0m8 0h0m1 0h0m16 0h0m12 0h0m6 0h0m17 0h0m14 0h0m9 0h0m12 0h0m17 0h0m88 0h0m3 0h0m53 0h0m95 0h0m6 0h0m65 1h0m-27 0h0m-158 0h0m-20 0h0m-12 0h0m-7 0h0m-9 0h0m-43 0h0m-1 0h0m-12 0h0m-1 0h0m-9 0h0m-2 0h0m-27 0h0m-9 0h0m-10 0h0m-3 0h0m-21 0h0m-10 0h0m-23 0h0m-3 0h0m-26 0h0m-11 0h0m-3 0h0m-7 0h0m-2 0h0m-5 0h0m-4 0h0m-2 0h0m-5 0h0m-17 0h0m-38 0h0m-5 0h0m11 1h0m35 0h0m6 0h0m11 0h0m55 0h0m32 0h0m52 0h0m4 0h0m136 0h0m188 2h0m-191 0h0m-1 0h0m-1 0h0m-20 0h0m-6 0h0m-34 0h0m-44 0h0m-3 0h0m-1 0h0m-4 0h0m-10 0h0m-6 0h0m-2 0h0m-3 0h0m-8 0h0m-29 0h0m-2 0h0m-5 0h0m-22 0h0m-14 0h0m-7 0h0m-6 0h0m-3 0h0m-23 0h0m-1 0h0m-4 0h0m-1 0h0m-2 0h0m-2 0h0m-34 0h0m-5 0h0m-6 0h0m-4 0h0m-2 0h0m-1 0h0m-12 0h0m-1 0h0m-1 0h0m-2 0h0m-2 0h0m-4 0h0m-4 0h0m11 1h0m4 0h0m27 0h0m45 0h0m10 0h0m9 0h0m10 0h0m15 0h0m26 0h0m34 0h0m5 0h0m25 0h0m48 0h0m10 0h0m171 1h0m-99 0h0m-19 0h0m-51 0h0m-32 0h0m-14 0h0m-33 0h0m-12 0h0m-25 0h0m-5 0h0m-23 0h0m-10 0h0m-7 0h0m-11 0h0m-1 0h0m-1 0h0m-11 0h0m-1 0h0m-19 0h0m-2 0h0m-4 0h0m-25 0h0m-5 0h0m-5 0h0m-5 0h0m-5 0h0m25 1h0m6 0h0m9 0h0m10 0h0m3 0h0m16 0h0m18 0h0m1 0h0m13 0h0m20 0h0m24 0h0m10 0h0m17 0h0m20 0h0m30 0h0m9 0h0m8 0h0m2 0h0m13 0h0m2 0h0m4 0h0m55 0h0m15 0h0m130 1h0m-249 0h0m-14 0h0m-12 0h0m-35 0h0m-5 0h0m-5 0h0m-6 0h0m-22 0h0m-63 0h0m-4 0h0m-24 0h0m-3 0h0m-4 0h0m-4 0h0m-18 0h0m-6 0h0m-7 1h0m5 0h0m17 0h0m28 0h0m1 0h0m37 0h0m14 0h0m14 0h0m13 0h0m22 0h0m13 0h0m9 0h0m4 0h0m13 0h0m25 0h0m7 0h0m4 0h0m4 0h0m86 0h0m25 0h0m26 0h0m76 0h0m7 1h0m-60 0h0m-23 0h0m-29 0h0m-34 0h0m-20 0h0m-30 0h0m-27 0h0m-6 0h0m-76 0h0m-33 0h0m-9 0h0m-5 0h0m-20 0h0m-8 0h0m-13 0h0m-2 0h0m-22 0h0m-21 0h0m-11 1h0m16 0h0m19 0h0m15 0h0m22 0h0m25 0h0m69 0h0m19 0h0m28 0h0m11 0h0m104 0h0m38 0h0m20 0h0m18 1h0m-64 0h0m-38 0h0m-16 0h0m-10 0h0m-9 0h0m-24 0h0m-64 0h0m-10 0h0m-2 0h0m-42 0h0m-1 0h0m-15 0h0m-34 0h0m-10 0h0m-14 0h0m-3 0h0m-7 0h0m-11 0h0m-1 0h0m-8 0h0m-5 0h0m-14 1h0m21 0h0m48 0h0m2 0h0m9 0h0m35 0h0m11 0h0m1 0h0m9 0h0m4 0h0m32 0h0m12 0h0m1 0h0m10 0h0m16 0h0m124 0h0m32 0h0m12 0h0m69 0h0m53 1h0m-50 0h0m-49 0h0m-111 0h0m-30 0h0m-16 0h0m-27 0h0m-2 0h0m-4 0h0m-13 0h0m-37 0h0m-23 0h0m-34 0h0m-5 0h0m-4 0h0m-17 0h0m-11 0h0m-10 0h0m-48 0h0m-13 0h0m7 1h0m7 0h0m12 0h0m2 0h0m7 0h0m28 0h0m5 0h0m1 0h0m39 0h0m14 0h0m5 0h0m45 0h0m22 0h0m22 0h0m22 0h0m28 0h0m46 0h0m28 0h0m24 0h0m93 1h0m-38 0h0m-4 0h0m-63 0h0m-38 0h0m-25 0h0m-42 0h0m-5 0h0m-37 0h0m-22 0h0m-20 0h0m-43 0h0m-4 0h0m-5 0h0m-16 0h0m-7 0h0m-23 0h0m-10 0h0m-7 0h0m-7 0h0m-5 0h0m-20 0h0m-5 0h0m-5 0h0m-1 1h0m7 0h0m1 0h0m20 0h0m13 0h0m3 0h0m9 0h0m34 0h0m3 0h0m10 0h0m7 0h0m20 0h0m36 0h0m3 0h0m5 0h0m9 0h0m57 0h0m16 0h0m20 0h0m13 0h0m80 0h0m133 1h0m-45 0h0m-42 0h0m-73 0h0m-5 0h0m-19 0h0m-68 0h0m-11 0h0m-6 0h0m-25 0h0m-2 0h0m-31 0h0m-9 0h0m-48 0h0m-42 0h0m-13 0h0m-20 0h0m-12 0h0m-15 0h0m-21 1h0m11 0h0m23 0h0m64 0h0m25 0h0m101 0h0m44 0h0m62 0h0m150 1h0m-64 0h0m-70 0h0m-59 0h0m-14 0h0m-10 0h0m-8 0h0m-19 0h0m-29 0h0m-21 0h0m-16 0h0m-26 0h0m-18 0h0m-7 0h0m-9 0h0m-5 0h0m-11 0h0m-16 0h0m-1 0h0m-10 0h0m-21 0h0m-16 0h0m-25 0h0m-1 1h0m29 0h0m1 0h0m19 0h0m14 0h0m10 0h0m34 0h0m4 0h0m30 0h0m52 0h0m14 0h0m24 0h0m14 0h0m68 0h0m105 0h0m144 0h0m-133 1h0m-106 0h0m-18 0h0m-12 0h0m-6 0h0m-7 0h0m-11 0h0m-21 0h0m-20 0h0m-13 0h0m-13 0h0m-8 0h0m-15 0h0m-7 0h0m-11 0h0m-12 0h0m-6 0h0m-16 0h0m-17 0h0m-19 0h0m-2 0h0m-5 0h0m-4 0h0m-1 0h0m-7 0h0m-27 0h0m-6 0h0m-3 0h0m-4 0h0m-32 0h0m-1 0h0m0 1h0m8 0h0m25 0h0m22 0h0m35 0h0m17 0h0m24 0h0m71 0h0m28 0h0m8 0h0m191 0h0m47 0h0m-122 1h0m-13 0h0m-7 0h0m-22 0h0m-100 0h0m-21 0h0m-11 0h0m-22 0h0m-3 0h0m-13 0h0m-1 0h0m-5 0h0m-9 0h0m-15 0h0m-9 0h0m-3 0h0m-20 0h0m-10 0h0m-44 0h0m-15 0h0m-12 0h0m6 1h0m1 0h0m9 0h0m15 0h0m77 0h0m27 0h0m17 0h0m8 0h0m4 0h0m23 0h0m6 0h0m6 0h0m13 0h0m9 0h0m8 0h0m35 0h0m33 0h0m38 0h0m53 0h0m177 0h0m-151 1h0m-225 0h0m-12 0h0m-10 0h0m-18 0h0m-51 0h0m-14 0h0m-15 0h0m-1 0h0m-7 0h0m-8 0h0m-6 0h0m-26 0h0m-15 0h0m-2 0h0m-7 1h0m11 0h0m7 0h0m5 0h0m6 0h0m4 0h0m12 0h0m9 0h0m3 0h0m13 0h0m43 0h0m23 0h0m33 0h0m18 0h0m7 0h0m4 0h0m4 0h0m24 0h0m23 0h0m8 0h0m11 0h0m28 0h0m54 0h0m2 0h0m29 0h0m46 0h0m102 1h0m-50 0h0m-150 0h0m-60 0h0m-9 0h0m-33 0h0m-28 0h0m-10 0h0m-10 0h0m-23 0h0m-18 0h0m-9 0h0m-27 0h0m-22 0h0m-3 0h0m-8 0h0m-10 0h0m-10 0h0m-33 0h0m-12 1h0m8 0h0m5 0h0m9 0h0m3 0h0m23 0h0m2 0h0m13 0h0m32 0h0m10 0h0m22 0h0m6 0h0m70 0h0m37 0h0m13 0h0m19 0h0m40 0h0m93 0h0m-19 1h0m-6 0h0m-75 0h0m-28 0h0m-75 0h0m-10 0h0m-37 0h0m-22 0h0m-19 0h0m-8 0h0m-11 0h0m-11 0h0m-10 0h0m-11 0h0m-10 0h0m-1 0h0m-17 0h0m-2 0h0m-23 0h0m-3 0h0m-5 0h0m-4 2h0m1 0h0m10 0h0m1 0h0m14 0h0m15 0h0m4 0h0m2 0h0m2 0h0m3 0h0m20 0h0m10 0h0m2 0h0m1 0h0m8 0h0m9 0h0m18 0h0m4 0h0m15 0h0m1 0h0m19 0h0m12 0h0m12 0h0m2 0h0m25 0h0m10 0h0m3 0h0m8 0h0m21 0h0m22 0h0m3 0h0m38 0h0m43 0h0m31 0h0m28 0h0m3 0h0m-174 1h0m-49 0h0m-94 0h0m-6 0h0m-28 0h0m-9 0h0m-19 0h0m-39 0h0m21 1h0m14 0h0m7 0h0m6 0h0m39 0h0m3 0h0m10 0h0m12 0h0m14 0h0m13 0h0m3 0h0m11 0h0m10 0h0m30 0h0m24 0h0m37 0h0m20 0h0m5 0h0m51 0h0m95 0h0m-63 1h0m-17 0h0m-34 0h0m-3 0h0m-65 0h0m-17 0h0m-16 0h0m-9 0h0m-8 0h0m-1 0h0m-20 0h0m-30 0h0m-17 0h0m-17 0h0m-33 0h0m-18 0h0m-1 0h0m-16 0h0m-17 0h0m-3 0h0m-2 1h0m13 0h0m25 0h0m24 0h0m25 0h0m26 0h0m37 0h0m11 0h0m23 0h0m79 0h0m105 0h0m71 1h0m-25 0h0m-54 0h0m-27 0h0m-27 0h0m-41 0h0m-5 0h0m-45 0h0m-17 0h0m-75 0h0m-27 0h0m-15 0h0m-4 0h0m-22 0h0m-4 0h0m-15 0h0m-11 0h0m-27 0h0m28 1h0m9 0h0m44 0h0m45 0h0m26 0h0m9 0h0m177 0h0m67 0h0m34 0h0m-3 1h0m-133 0h0m-32 0h0m-75 0h0m-27 0h0m-21 0h0m-6 0h0m-30 0h0m-23 0h0m-20 0h0m-3 0h0m-1 0h0m-16 0h0m-13 0h0m-9 0h0m-39 0h0m-6 0h0m16 1h0m7 0h0m52 0h0m1 0h0m3 0h0m3 0h0m6 0h0m12 0h0m8 0h0m11 0h0m11 0h0m7 0h0m26 0h0m9 0h0m2 0h0m58 0h0m12 0h0m8 0h0m81 0h0m12 0h0m150 0h0m4 1h0m-132 0h0m-17 0h0m-1 0h0m-8 0h0m-25 0h0m-28 0h0m-13 0h0m-9 0h0m-4 0h0m-20 0h0m-7 0h0m-11 0h0m-24 0h0m-4 0h0m-13 0h0m-14 0h0m-26 0h0m-26 0h0m-16 0h0m-33 0h0m-37 0h0m-15 0h0m-14 0h0m1 1h0m28 0h0m4 0h0m14 0h0m1 0h0m11 0h0m3 0h0m29 0h0m4 0h0m25 0h0m11 0h0m16 0h0m3 0h0m11 0h0m56 0h0m33 0h0m5 0h0m31 0h0m25 0h0m43 0h0m75 0h0m-312 1h0m-114 1h0m4 0h0m12 0h0m5 0h0m6 0h0m5 0h0m10 0h0m10 0h0m7 0h0m23 0h0m8 0h0m4 0h0m25 0h0m2 0h0m4 0h0m5 0h0m7 0h0m9 0h0m6 0h0m12 0h0m38 0h0m15 0h0m48 0h0m65 0h0m274 0h0m-286 1h0m-37 0h0m-9 0h0m-27 0h0m-10 0h0m-6 0h0m-21 0h0m-6 0h0m-4 0h0m-41 0h0m-15 0h0m-27 0h0m-2 0h0m-12 0h0m-4 0h0m-2 0h0m-25 0h0m-16 0h0m-13 0h0m-18 0h0m-19 0h0m-9 0h0m5 1h0m56 0h0m32 0h0m4 0h0m44 0h0m16 0h0m4 0h0m3 0h0m9 0h0m33 0h0m16 0h0m4 0h0m12 0h0m48 0h0m17 0h0m26 0h0m13 0h0m13 0h0m78 0h0m593 1h0m-422 0h0m-5 0h0m-235 0h0m-43 0h0m-90 0h0m-38 0h0m-7 0h0m-1 0h0m-35 0h0m-24 0h0m-8 0h0m-3 0h0m-12 0h0m-2 0h0m-6 0h0m-17 0h0m-17 0h0m-26 0h0m-26 0h0m-5 1h0m20 0h0m19 0h0m8 0h0m4 0h0m6 0h0m7 0h0m11 0h0m3 0h0m25 0h0m25 0h0m20 0h0m29 0h0m7 0h0m12 0h0m21 0h0m22 0h0m115 0h0m67 0h0m-94 1h0m-34 0h0m-47 0h0m-53 0h0m-7 0h0m-6 0h0m-5 0h0m-21 0h0m-6 0h0m-23 0h0m-6 0h0m-23 0h0m-23 0h0m-10 0h0m-10 0h0m-5 0h0m-1 0h0m-10 0h0m-10 0h0m-6 0h0m-6 0h0m-11 0h0m-3 1h0m17 0h0m19 0h0m56 0h0m2 0h0m5 0h0m9 0h0m16 0h0m11 0h0m1 0h0m2 0h0m11 0h0m13 0h0m50 0h0m7 0h0m15 0h0m3 0h0m10 0h0m16 0h0m25 0h0m25 0h0m157 0h0m-5 1h0m-102 0h0m-6 0h0m-50 0h0m-42 0h0m-16 0h0m-18 0h0m-50 0h0m-4 0h0m-18 0h0m-19 0h0m-1 0h0m-18 0h0m-24 0h0m-10 0h0m-32 0h0m-31 0h0m-23 1h0m1 0h0m3 0h0m14 0h0m3 0h0m10 0h0m1 0h0m14 0h0m2 0h0m17 0h0m4 0h0m8 0h0m38 0h0m4 0h0m7 0h0m17 0h0m13 0h0m73 0h0m3 0h0m4 0h0m3 0h0m2 0h0m103 0h0m-64 1h0m-35 0h0m-89 0h0m-36 0h0m-12 0h0m-89 1h0m18 0h0m38 0h0m10 0h0m1 0h0m12 0h0m8 0h0m3 0h0m16 0h0m43 0h0m6 0h0m14 0h0m3 0h0m18 0h0m15 0h0m17 0h0m11 0h0m11 0h0m3 0h0m46 0h0m14 0h0m50 0h0m4 0h0m32 0h0m60 0h0m22 0h0m-6 2h0m-20 0h0m-6 0h0m-179 0h0m-33 0h0m-6 0h0m-41 0h0m-13 0h0m-4 0h0m-3 0h0m-14 0h0m-1 0h0m-7 0h0m-1 0h0m-25 0h0m-8 0h0m-5 0h0m-6 0h0m-22 0h0m-1 0h0m-12 0h0m-34 0h0m-8 0h0m-1 0h0m-11 0h0m-1 0h0m-12 0h0m-1 0h0m-5 0h0m-4 0h0m-5 0h0m-6 0h0m-1 0h0m3 1h0m30 0h0m16 0h0m12 0h0m4 0h0m12 0h0m3 0h0m15 0h0m15 0h0m28 0h0m26 0h0m9 0h0m35 0h0m17 0h0m53 0h0m62 0h0m15 0h0m114 1h0m-72 0h0m-37 0h0m-12 0h0m-30 0h0m-1 0h0m-20 0h0m-41 0h0m-42 0h0m-12 0h0m-14 0h0m-3 0h0m-30 0h0m-23 0h0m-27 0h0m-42 0h0m-30 0h0m-1 0h0m-9 0h0m-1 0h0m-19 1h0m2 0h0m11 0h0m5 0h0m20 0h0m9 0h0m21 0h0m14 0h0m2 0h0m20 0h0m8 0h0m11 0h0m13 0h0m53 0h0m5 0h0m10 0h0m20 0h0m5 0h0m26 0h0m55 0h0m81 0h0m15 0h0m15 0h0m30 0h0m60 0h0m84 1h0m-359 0h0m-24 0h0m-13 0h0m-17 0h0m-11 0h0m-6 0h0m-18 0h0m-12 0h0m-56 0h0m-4 0h0m-13 0h0m-11 0h0m-7 0h0m-5 0h0m-24 0h0m-5 0h0m-7 0h0m14 1h0m8 0h0m14 0h0m12 0h0m2 0h0m16 0h0m57 0h0m19 0h0m61 0h0m67 0h0m93 0h0m80 0h0m20 0h0m40 0h0m-100 1h0m-67 0h0m-30 0h0m-17 0h0m-5 0h0m-12 0h0m-12 0h0m-14 0h0m-10 0h0m-5 0h0m-30 0h0m-25 0h0m-12 0h0m-14 0h0m-9 0h0m-9 0h0m-2 0h0m-1 0h0m-2 0h0m-37 0h0m-8 0h0m-30 0h0m-15 0h0m-26 0h0m-1 0h0m-6 1h0m8 0h0m8 0h0m1 0h0m10 0h0m58 0h0m51 0h0m10 0h0m2 0h0m8 0h0m5 0h0m38 0h0m21 0h0m6 0h0m41 0h0m89 0h0m30 0h0m72 1h0m-55 0h0m-73 0h0m-113 0h0m-15 0h0m-25 0h0m-32 0h0m-22 0h0m-2 0h0m-3 0h0m-29 0h0m-54 0h0m-5 0h0m-30 0h0m4 1h0m1 0h0m9 0h0m19 0h0m7 0h0m24 0h0m4 0h0m13 0h0m15 0h0m1 0h0m3 0h0m21 0h0m19 0h0m10 0h0m3 0h0m55 0h0m7 0h0m23 0h0m126 1h0m-59 0h0m-16 0h0m-42 0h0m-34 0h0m-11 0h0m-15 0h0m-31 0h0m-3 0h0m-14 0h0m-33 0h0m-4 0h0m-7 0h0m-16 0h0m-31 0h0m-4 0h0m-17 0h0m-4 0h0m-3 0h0m-7 0h0m-9 0h0m-13 0h0m1 1h0m10 0h0m20 0h0m2 0h0m7 0h0m3 0h0m68 0h0m13 0h0m12 0h0m9 0h0m1 0h0m4 0h0m83 0h0m7 0h0m32 0h0m78 0h0m43 1h0m-115 0h0m-14 0h0m-46 0h0m-66 0h0m-4 0h0m-14 0h0m-31 0h0m-42 0h0m-25 0h0m-17 0h0m-1 1h0m23 0h0m45 0h0m9 0h0m30 0h0m30 0h0m16 0h0m53 0h0m12 0h0m57 0h0m6 0h0m5 0h0m132 1h0m-171 0h0m-38 0h0m-10 0h0m-9 0h0m-16 0h0m-13 0h0m-29 0h0m-19 0h0m-18 0h0m-48 0h0m-16 0h0m-13 0h0m-19 0h0m-2 1h0m1 0h0m12 0h0m2 0h0m11 0h0m32 0h0m22 0h0m7 0h0m50 0h0m66 0h0m34 0h0m29 0h0m177 0h0m-22 2h0m-42 0h0m-127 0h0m-3 0h0m-6 0h0m-9 0h0m-22 0h0m-1 0h0m-6 0h0m-13 0h0m-18 0h0m-18 0h0m-13 0h0m-6 0h0m-1 0h0m-2 0h0m-4 0h0m-6 0h0m-32 0h0m-3 0h0m-3 0h0m-7 0h0m-13 0h0m-24 0h0m-11 0h0m-18 0h0m-2 0h0m-24 1h0m10 0h0m26 0h0m20 0h0m3 0h0m1 0h0m48 0h0m4 0h0m27 0h0m27 0h0m54 0h0m44 0h0m2 0h0m19 0h0m145 0h0m-151 1h0m-12 0h0m-20 0h0m-32 0h0m-25 0h0m-23 0h0m-15 0h0m-14 0h0m-4 0h0m-24 0h0m-16 0h0m-2 0h0m-10 0h0m-3 0h0m-14 0h0m-9 0h0m-11 0h0m-11 0h0m-11 0h0m-14 0h0m10 1h0m9 0h0m4 0h0m24 0h0m2 0h0m5 0h0m18 0h0m26 0h0m32 0h0m1 0h0m22 0h0m4 0h0m41 0h0m33 0h0m55 0h0m22 0h0m22 0h0m67 0h0m69 1h0m-28 0h0m-28 0h0m-110 0h0m-3 0h0m-2 0h0m-16 0h0m-15 0h0m-5 0h0m-90 0h0m-62 0h0m-32 0h0m-38 0h0m-49 1h0m8 0h0m18 0h0m70 0h0m3 0h0m9 0h0m86 0h0m45 0h0m98 0h0m72 0h0m73 0h0m2 1h0m-64 0h0m-6 0h0m-38 0h0m-18 0h0m-25 0h0m-18 0h0m-48 0h0m-15 0h0m-27 0h0m-1 0h0m-13 0h0m-9 0h0m-18 0h0m-25 0h0m-43 0h0m-34 0h0m-7 0h0m-33 0h0m-18 0h0m-7 0h0m-10 0h0m-1 1h0m16 0h0m3 0h0m41 0h0m2 0h0m4 0h0m27 0h0m27 0h0m27 0h0m8 0h0m11 0h0m20 0h0m89 0h0m168 1h0m-40 0h0m-132 0h0m-30 0h0m-40 0h0m-8 0h0m-15 0h0m-27 0h0m-9 0h0m-8 0h0m-1 0h0m-13 0h0m-25 0h0m-9 0h0m-15 0h0m-8 0h0m-46 0h0m-5 0h0m-4 1h0m21 0h0m53 0h0m7 0h0m16 0h0m12 0h0m8 0h0m10 0h0m31 0h0m2 0h0m21 0h0m21 0h0m17 0h0m5 0h0m64 0h0m130 0h0m15 0h0m-21 1h0m-17 0h0m-36 0h0m-17 0h0m-83 0h0m-41 0h0m-36 0h0m-6 0h0m-14 0h0m-14 0h0m-1 0h0m-35 0h0m-9 0h0m-28 0h0m-25 0h0m-9 0h0m-36 0h0m-17 0h0m7 1h0m7 0h0m15 0h0m15 0h0m7 0h0m23 0h0m1 0h0m15 0h0m60 0h0m6 0h0m40 0h0m13 0h0m62 0h0m43 0h0m14 0h0m39 0h0m-128 1h0m-53 0h0m-10 0h0m-11 0h0m-15 0h0m-6 0h0m-52 0h0m-1 0h0m-20 0h0m-3 0h0m-8 0h0m-4 0h0m-17 0h0m1 1h0m26 0h0m34 0h0m11 0h0m2 0h0m32 0h0m15 0h0m5 0h0m24 0h0m-23 1h0m-14 0h0m-62 0h0m-29 0h0m-14 0h0m-24 1h0m2 0h0m7 0h0m3 0h0m18 0h0m27 0h0m4 0h0m4 0h0m18 0h0m6 0h0m2 0h0m22 0h0m5 0h0m3 0h0m39 0h0m6 0h0m26 0h0m6 0h0m5 0h0m86 0h0m12 0h0m5 0h0m9 0h0m7 0h0m3 0h0m79 0h0m6 0h0m-161 1h0m-112 0h0m-4 0h0m-18 0h0m-52 0h0m-22 0h0m-16 0h0m-15 0h0m-32 0h0m3 1h0m21 0h0m1 0h0m24 0h0m34 0h0m9 0h0m1 0h0m14 0h0m19 0h0m17 0h0m8 0h0m10 0h0m7 0h0m1 0h0m25 0h0m15 0h0m2 0h0m152 0h0m24 0h0m-45 1h0m-7 0h0m-68 0h0m-3 0h0m-31 0h0m-42 0h0m-19 0h0m-19 0h0m-1 0h0m-21 0h0m-20 0h0m-9 0h0m-25 0h0m-4 0h0m-16 0h0m-34 0h0m-12 0h0m-13 1h0m19 0h0m29 0h0m6 0h0m37 0h0m20 0h0m30 0h0m7 0h0m23 0h0m78 0h0m115 0h0m127 1h0m-100 0h0m-3 0h0m-17 0h0m-20 0h0m-43 0h0m-40 0h0m-10 0h0m-10 0h0m-41 0h0m-31 0h0m-8 0h0m-42 0h0m-8 0h0m-20 0h0m-9 0h0m-16 0h0m-9 0h0m-13 0h0m-12 0h0m-1 0h0m-20 0h0m-17 0h0m8 1h0m50 0h0m14 0h0m14 0h0m9 0h0m6 0h0m18 0h0m33 0h0m20 0h0m25 0h0m22 0h0m22 0h0m2 0h0m43 0h0m71 1h0m-54 0h0m-37 0h0m-16 0h0m-99 0h0m-27 0h0m-15 0h0m-33 0h0m-1 0h0m-14 0h0m-22 0h0m-21 0h0m-6 0h0m-6 0h0m2 1h0m4 0h0m21 0h0m8 0h0m2 0h0m12 0h0m27 0h0m1 0h0m23 0h0m16 0h0m21 0h0m37 0h0m1 0h0m29 0h0m49 0h0m40 0h0m-4 1h0m-26 0h0m-54 0h0m-28 0h0m-10 0h0m-28 0h0m-14 0h0m-28 0h0m-17 0h0m-10 0h0m-10 0h0m-6 0h0m-9 0h0m-14 0h0m-9 0h0m-31 0h0m61 1h0m81 0h0m45 0h0m12 0h0m24 0h0m49 0h0m24 0h0m49 0h0m146 0h0m291 0h0m-299 1h0m-97 0h0m-131 0h0m-43 0h0m-5 0h0m-19 0h0m-29 0h0m-15 0h0m-9 0h0m-11 0h0m-28 0h0m-4 0h0m-16 0h0m-16 0h0m-16 0h0m-10 0h0m-11 0h0m-4 0h0m-4 0h0m-8 1h0m4 0h0m2 0h0m13 0h0m20 0h0m18 0h0m21 0h0m7 0h0m4 0h0m13 0h0m109 0h0m13 0h0m254 1h0m-151 0h0m-14 0h0m-4 0h0m-72 0h0m-36 0h0m-2 0h0m-50 0h0m-8 0h0m-19 0h0m-70 0h0m-6 0h0m-5 0h0m-14 0h0m-3 0h0m-16 0h0m-2 0h0m-10 0h0m7 1h0m28 0h0m51 0h0m33 0h0m42 0h0m133 0h0m90 1h0m-8 0h0m-67 0h0m-19 0h0m-75 0h0m-41 0h0m-30 0h0m-62 0h0m-1 0h0m-15 0h0m-1 0h0m-12 0h0m-7 0h0m-7 0h0m-5 0h0m-7 0h0m-9 0h0m-10 0h0m-12 1h0m16 0h0m42 0h0m31 0h0m38 0h0m33 0h0m25 0h0m46 0h0m164 0h0m-66 1h0m-87 0h0m-21 0h0m-15 0h0m-16 0h0m-32 0h0m-15 0h0m-55 0h0m-23 0h0m-25 0h0m-38 1h0m21 0h0m1 0h0m13 0h0m1 0h0m36 0h0m9 0h0m7 0h0m12 0h0m9 0h0m32 0h0m4 0h0m168 1h0m-71 0h0m-20 0h0m-1 0h0m-38 0h0m-12 0h0m-20 0h0m-21 0h0m-8 0h0m-21 0h0m-58 0h0m-13 0h0m-4 0h0m-2 0h0m-15 0h0m-6 0h0m10 1h0m11 0h0m9 0h0m14 0h0m51 0h0m13 0h0m20 0h0m19 0h0m53 0h0m56 0h0m94 1h0m-115 0h0m-1 0h0m-59 0h0m-40 0h0m-4 0h0m-14 0h0m-17 0h0m-8 0h0m-13 0h0m-15 0h0m-1 0h0m-9 0h0m-10 0h0m-5 0h0m-5 0h0m-7 0h0m-12 0h0m-17 1h0m8 0h0m10 0h0m18 0h0m9 0h0m8 0h0m1 0h0m14 0h0m16 0h0m5 0h0m36 0h0m17 0h0m25 0h0m30 0h0m5 0h0m4 0h0m26 0h0m3 0h0m22 0h0m12 0h0m11 0h0m43 0h0m2 0h0m22 0h0m45 0h0m-198 1h0m-39 0h0m-4 0h0m-73 0h0m-16 0h0m-10 0h0m-9 0h0m-9 0h0m-2 0h0m-7 0h0m-13 0h0m-13 1h0m15 0h0m14 0h0m77 0h0m14 0h0m2 0h0m6 0h0m1 0h0m25 0h0m41 0h0m3 0h0m15 0h0m2 0h0m25 0h0m23 0h0m24 0h0m62 0h0m-174 1h0m-21 0h0m-29 0h0m-6 0h0m-27 0h0m-11 0h0m-13 0h0m-28 0h0m-14 0h0m-22 1h0m14 0h0m5 0h0m14 0h0m25 0h0m24 0h0m5 0h0m7 0h0m19 0h0m17 0h0m16 0h0m2 0h0m9 0h0m25 0h0m80 0h0m-46 1h0m-22 0h0m-43 0h0m-23 0h0m-12 0h0m-9 0h0m-4 0h0m-39 0h0m-47 0h0m-11 0h0m-7 0h0m-2 1h0m10 0h0m19 0h0m5 0h0m8 0h0m1 0h0m11 0h0m4 0h0m6 0h0m2 0h0m21 0h0m7 0h0m9 0h0m8 0h0m5 0h0m12 0h0m18 0h0m15 0h0m12 0h0m15 0h0m6 0h0m20 0h0m31 0h0m778 1h0m-740 0h0m-7 0h0m-36 0h0m-7 0h0m-43 0h0m-44 0h0m-28 0h0m-13 0h0m-43 0h0m-4 0h0m-56 1h0m3 0h0m34 0h0m51 0h0m10 0h0m12 0h0m3 0h0m9 0h0m51 0h0m271 0h0m24 1h0m-179 0h0m-113 0h0m-14 0h0m-56 0h0m-23 0h0m-5 0h0m-18 0h0m-13 0h0m-29 0h0m-18 1h0m13 0h0m20 0h0m14 0h0m3 0h0m25 0h0m1 0h0m12 0h0m2 0h0m54 0h0m23 0h0m14 0h0m20 0h0m1 0h0m16 0h0m58 0h0m31 0h0m74 0h0m-173 1h0m-93 0h0m-9 0h0m-1 0h0m-18 0h0m-64 0h0m-8 0h0m-2 0h0m-8 1h0m39 0h0m19 0h0m2 0h0m11 0h0m1 0h0m17 0h0m5 0h0m30 0h0m4 0h0m52 0h0m113 0h0m7 0h0m28 0h0m7 0h0m4 0h0m202 0h0m7 0h0m-208 1h0m-53 0h0m-69 0h0m-43 0h0m-98 0h0m-27 0h0m-41 0h0m-20 1h0m16 0h0m16 0h0m17 0h0m3 0h0m3 0h0m27 0h0m81 0h0m5 0h0m6 0h0m20 0h0m115 0h0m251 0h0m-152 1h0m-108 0h0m-54 0h0m-39 0h0m-6 0h0m-27 0h0m-13 0h0m-3 0h0m-6 0h0m-14 0h0m-12 0h0m-16 0h0m-48 0h0m-16 0h0m2 1h0m4 0h0m26 0h0m10 0h0m30 0h0m3 0h0m23 0h0m10 0h0m71 0h0m23 0h0m102 0h0m38 0h0m-263 1h0m-3 0h0m-27 0h0m-5 0h0m-6 0h0m-12 0h0m-27 0h0m-18 0h0m-11 0h0m-15 0h0m4 1h0m1 0h0m19 0h0m19 0h0m34 0h0m5 0h0m8 0h0m2 0h0m10 0h0m19 0h0m9 0h0m51 0h0m19 0h0m40 0h0m19 0h0m26 0h0m3 0h0m79 0h0m-62 1h0m-9 0h0m-7 0h0m-25 0h0m-38 0h0m-14 0h0m-1 0h0m-6 0h0m-57 0h0m-31 0h0m-40 0h0m-7 0h0m-9 0h0m-7 0h0m-3 0h0m-47 1h0m35 0h0m27 0h0m12 0h0m50 0h0m66 0h0m38 0h0m46 0h0m5 0h0m8 0h0m12 0h0m-93 1h0m-94 0h0m-12 0h0m-29 0h0m-66 0h0m-1 0h0m-7 0h0m4 1h0m11 0h0m14 0h0m17 0h0m21 0h0m2 0h0m22 0h0m10 0h0m52 0h0m3 0h0m26 0h0m4 0h0m20 0h0m13 0h0m26 0h0m14 0h0m63 0h0m-5 1h0m-25 0h0m-14 0h0m-11 0h0m-26 0h0m-2 0h0m-23 0h0m-76 0h0m-25 0h0m-11 0h0m-14 0h0m-2 0h0m-57 0h0m-27 0h0m-5 1h0m38 0h0m34 0h0m28 0h0m38 0h0m6 0h0m6 0h0m14 0h0m36 0h0m19 0h0m94 0h0m32 1h0m-80 0h0m-7 0h0m-8 0h0m-6 0h0m-36 0h0m-12 0h0m-21 0h0m-25 0h0m-16 0h0m-12 0h0m-21 0h0m-15 0h0m-10 0h0m-35 0h0m-19 0h0m-4 1h0m5 0h0m15 0h0m25 0h0m57 0h0m56 0h0m14 0h0m10 0h0m30 0h0m44 0h0m15 0h0m-80 1h0m-110 0h0m-46 0h0m-3 0h0m-42 0h0m16 1h0m6 0h0m31 0h0m3 0h0m4 0h0m2 0h0m18 0h0m1 0h0m48 0h0m63 0h0m43 0h0m6 0h0m30 0h0m73 0h0m-89 1h0m-31 0h0m-14 0h0m-27 0h0m-27 0h0m-15 0h0m-2 0h0m-35 0h0m-2 0h0m-22 0h0m-1 0h0m-19 0h0m-40 0h0m-3 0h0m-21 0h0m24 1h0m1 0h0m15 0h0m5 0h0m9 0h0m3 0h0m11 0h0m1 0h0m60 0h0m12 0h0m17 0h0m10 0h0m116 0h0m11 0h0m84 0h0m-29 1h0m-12 0h0m-260 0h0m-29 0h0m-9 0h0m-18 0h0m-3 0h0m-6 0h0m-18 1h0m22 0h0m6 0h0m17 0h0m11 0h0m13 0h0m15 0h0m27 0h0m4 0h0m11 0h0m1 0h0m24 0h0m11 0h0m59 0h0m41 0h0m17 0h0m24 0h0m56 1h0m-50 0h0m-173 0h0m-28 0h0m-14 0h0m-6 0h0m-7 0h0m-3 0h0m-22 0h0m-3 0h0m-25 0h0m-8 0h0m-5 0h0m-7 1h0m4 0h0m2 0h0m4 0h0m4 0h0m17 0h0m5 0h0m13 0h0m17 0h0m31 0h0m4 0h0m46 0h0m3 0h0m138 0h0m8 0h0m49 0h0m674 0h0m-773 1h0m-125 0h0m-45 0h0m-46 0h0m-11 0h0m-17 0h0m16 1h0m21 0h0m12 0h0m29 0h0m38 0h0m23 0h0m22 0h0m12 0h0m13 0h0m1 0h0m16 0h0m3 0h0m35 0h0m10 0h0m31 0h0m15 1h0m-17 0h0m-146 0h0m-86 0h0m-17 0h0m-2 0h0m-1 0h0m-24 0h0m-5 1h0m6 0h0m6 0h0m11 0h0m14 0h0m8 0h0m1 0h0m21 0h0m8 0h0m11 0h0m3 0h0m55 0h0m11 0h0m11 0h0m105 1h0m-79 0h0m-28 0h0m-3 0h0m-18 0h0m-8 0h0m-16 0h0m-30 0h0m-9 0h0m-11 0h0m-18 0h0m-9 0h0m-15 0h0m-36 1h0m12 0h0m59 0h0m54 0h0m15 0h0m13 0h0m5 0h0m113 0h0m756 0h0m-712 1h0m-178 0h0m-52 0h0m-52 0h0m-12 0h0m2 1h0m22 0h0m10 0h0m7 0h0m15 0h0m1 0h0m9 0h0m21 0h0m22 0h0m25 0h0m19 0h0m41 0h0m33 0h0m7 0h0m3 0h0m43 0h0m11 1h0m-68 0h0m-11 0h0m-44 0h0m-67 0h0m-37 0h0m-42 0h0m-4 1h0m1 0h0m52 0h0m11 0h0m11 0h0m4 0h0m47 0h0m2 0h0m60 0h0m23 0h0m19 0h0m4 0h0m16 1h0m-1 0h0m-37 0h0m-187 0h0m-5 0h0m-3 0h0m-5 0h0m-36 1h0m9 0h0m27 0h0m3 0h0m13 0h0m58 0h0m23 0h0m61 0h0m44 0h0m51 0h0m135 0h0m-160 1h0m-64 0h0m-75 0h0m-27 0h0m-18 0h0m-2 0h0m-43 0h0m-4 0h0m-12 0h0m-10 0h0m-15 0h0m34 1h0m49 0h0m14 0h0m9 0h0m6 0h0m75 0h0m42 0h0m3 0h0m27 1h0m-11 0h0m-29 0h0m-20 0h0m-17 0h0m-3 0h0m-12 0h0m-58 0h0m-1 0h0m-29 0h0m-1 0h0m-8 0h0m-11 0h0m-11 0h0m-9 0h0m-7 0h0m-3 0h0m-35 1h0m2 0h0m31 0h0m8 0h0m14 0h0m10 0h0m6 0h0m21 0h0m7 0h0m30 0h0m25 0h0m25 0h0m2 0h0m32 0h0m25 0h0m124 0h0m7 0h0m36 0h0m-351 1h0m-49 1h0m12 0h0m1 0h0m15 0h0m4 0h0m49 0h0m9 0h0m19 0h0m20 0h0m9 0h0m21 0h0m8 0h0m10 0h0m29 0h0m55 0h0m3 0h0m92 1h0m-28 0h0m-52 0h0m-6 0h0m-86 0h0m-23 0h0m-25 0h0m-32 0h0m-19 0h0m-7 0h0m-31 0h0m-49 1h0m10 0h0m18 0h0m4 0h0m15 0h0m20 0h0m100 0h0m150 1h0m-47 0h0m-65 0h0m-47 0h0m-75 0h0m-57 0h0m-4 0h0m-26 0h0m10 1h0m9 0h0m18 0h0m8 0h0m9 0h0m11 0h0m31 0h0m14 0h0m52 0h0m13 0h0m107 1h0m-55 0h0m-2 0h0m-44 0h0m-78 0h0m-28 0h0m-13 0h0m-2 0h0m-55 0h0m0 1h0m26 0h0m5 0h0m5 0h0m4 0h0m14 0h0m10 0h0m30 0h0m33 0h0m28 0h0m27 0h0m18 0h0m9 0h0m76 0h0m43 0h0m-35 1h0m-108 0h0m-13 0h0m-27 0h0m-43 0h0m-8 0h0m-3 0h0m-5 0h0m-3 0h0m-8 0h0m-3 0h0m-41 0h0m-36 0h0m-1 1h0m17 0h0m18 0h0m5 0h0m27 0h0m6 0h0m11 0h0m22 0h0m1 0h0m22 0h0m12 0h0m36 0h0m34 0h0m29 0h0m48 1h0m-53 0h0m-81 0h0m-44 0h0m-6 0h0m-46 0h0m-20 0h0m-6 0h0m-21 0h0m-13 0h0m8 1h0m16 0h0m6 0h0m9 0h0m10 0h0m14 0h0m2 0h0m13 0h0m4 0h0m206 0h0m10 0h0m76 0h0m9 0h0m129 0h0m-381 1h0m-4 0h0m-18 0h0m-2 0h0m-93 0h0m-3 0h0m6 1h0m10 0h0m34 0h0m13 0h0m21 0h0m34 0h0m14 0h0m87 0h0m141 0h0m-202 1h0m-28 0h0m-2 0h0m-15 0h0m-8 0h0m-25 0h0m-1 0h0m-51 0h0m-24 0h0m-11 1h0m107 0h0m9 0h0m4 0h0m25 0h0m61 0h0m100 0h0m49 0h0m149 0h0m372 0h0m-508 1h0m-73 0h0m-24 0h0m-24 0h0m-38 0h0m-35 0h0m-9 0h0m-21 0h0m-17 0h0m-11 0h0m-3 0h0m-97 0h0m-10 0h0m44 1h0m73 0h0m81 0h0m26 0h0m102 0h0m49 1h0m-95 0h0m-104 0h0m-173 1h0m13 0h0m46 0h0m48 0h0m14 0h0m9 0h0m44 0h0m75 0h0m-112 1h0m-13 0h0m-15 0h0m-9 0h0m-23 0h0m-34 0h0m-49 1h0m23 0h0m12 0h0m38 0h0m42 0h0m19 0h0m222 1h0m-60 0h0m-18 0h0m-11 0h0m-1 0h0m-11 0h0m-22 0h0m-28 0h0m-15 0h0m-25 0h0m-21 0h0m-1 0h0m-13 0h0m-10 0h0m-67 0h0m-14 0h0m-15 0h0m-15 0h0m8 1h0m94 0h0m12 0h0m3 0h0m59 0h0m100 0h0m117 1h0m-45 0h0m-92 0h0m-62 0h0m-37 0h0m-120 0h0m-1 0h0m-19 0h0m-11 0h0m-3 0h0m13 1h0m16 0h0m1 0h0m1 0h0m13 0h0m9 0h0m34 0h0m9 0h0m8 0h0m26 0h0m31 0h0m85 0h0m16 1h0m-43 0h0m-36 0h0m-43 0h0m-14 0h0m-35 0h0m-7 0h0m-25 0h0m-5 0h0m-6 0h0m-32 0h0m-35 1h0m14 0h0m15 0h0m33 0h0m21 0h0m26 0h0m4 0h0m12 0h0m11 0h0m3 0h0m4 1h0m-3 0h0m-38 0h0m-3 0h0m-10 0h0m-19 0h0m-12 0h0m-19 0h0m-12 0h0m-4 0h0m-7 0h0m-9 1h0m28 0h0m27 0h0m81 0h0m41 0h0m14 0h0m41 0h0m-44 1h0m-43 0h0m-10 0h0m-3 0h0m-45 0h0m-9 0h0m-64 0h0m-19 1h0m7 0h0m57 0h0m30 0h0m20 0h0m33 0h0m100 0h0m6 0h0m22 0h0m-104 1h0m-30 0h0m-10 0h0m-9 0h0m-20 0h0m-20 0h0m-2 0h0m-29 0h0m-28 0h0m-23 1h0m18 0h0m27 0h0m33 0h0m77 0h0m6 0h0m4 0h0m29 0h0m89 1h0m-48 0h0m-86 0h0m-19 0h0m-27 0h0m-1 0h0m-11 0h0m-8 0h0m-22 0h0m-8 0h0m-28 1h0m6 0h0m16 0h0m22 0h0m70 0h0m42 0h0m27 0h0m30 0h0m187 0h0m188 0h0m-349 1h0m-3 0h0m-128 0h0m-27 0h0m-3 0h0m-9 0h0m-25 0h0m-2 0h0m-6 0h0m-37 0h0m6 1h0m43 0h0m55 0h0m36 0h0m18 0h0m54 0h0m100 1h0m-100 0h0m-6 0h0m-36 0h0m-97 0h0m-9 0h0m-64 0h0m-1 0h0m-6 0h0m-9 0h0m-4 1h0m10 0h0m87 0h0m41 0h0m81 0h0m115 1h0m-103 0h0m-52 0h0m-9 0h0m-137 0h0m-29 0h0m-9 1h0m6 0h0m67 0h0m27 0h0m6 0h0m9 0h0m75 0h0m143 1h0m-181 0h0m-46 0h0m-12 0h0m-7 0h0m-34 0h0m-17 0h0m-17 0h0m8 1h0m3 0h0m16 0h0m12 0h0m20 0h0m4 0h0m65 0h0m92 0h0m6 0h0m-23 1h0m-31 0h0m-114 0h0m-37 0h0m-40 0h0m36 1h0m15 0h0m62 0h0m78 0h0m248 0h0m-299 1h0m-61 0h0m-15 0h0m-16 0h0m-15 0h0m-21 1h0m30 0h0m3 0h0m12 0h0m23 0h0m22 0h0m15 0h0m34 0h0m20 0h0m65 0h0m5 0h0m121 0h0m-3 1h0m-128 0h0m-89 0h0m-44 0h0m-15 0h0m-39 0h0m-20 0h0m-2 0h0m-1 0h0m-12 0h0m-4 0h0m-1 1h0m12 0h0m32 0h0m14 0h0m40 0h0m3 0h0m25 0h0m30 0h0m276 1h0m-71 0h0m-126 0h0m-85 0h0m-28 0h0m-18 0h0m-14 0h0m-24 0h0m-17 0h0m-38 0h0m-2 0h0m-5 1h0m21 0h0m21 0h0m62 0h0m34 0h0m28 0h0m15 0h0m49 0h0m73 0h0m-173 1h0m-3 0h0m-51 0h0m-53 0h0m10 1h0m13 0h0m31 0h0m9 0h0m7 0h0m4 0h0m13 0h0m35 0h0m4 0h0m-10 1h0m-23 0h0m-115 0h0m-7 0h0m12 1h0m2 0h0m12 0h0m8 0h0m12 0h0m38 0h0m3 0h0m3 0h0m59 0h0m16 0h0m76 0h0m66 0h0m5 0h0m-161 1h0m-46 0h0m-3 0h0m-24 0h0m-65 1h0m23 0h0m3 0h0m19 0h0m5 0h0m9 0h0m3 0h0m12 0h0m33 0h0m56 0h0m39 0h0m-35 1h0m-4 0h0m-39 0h0m-7 0h0m-5 0h0m-35 0h0m-40 0h0m-7 0h0m-23 0h0m-4 0h0m-5 1h0m46 0h0m19 0h0m3 0h0m45 0h0m90 0h0m-47 1h0m-41 0h0m-33 0h0m-19 0h0m-44 0h0m-23 0h0m-3 0h0m-6 1h0m34 0h0m2 0h0m30 0h0m21 0h0m128 0h0m-10 1h0m-49 0h0m-11 0h0m-21 0h0m-21 0h0m-5 0h0m-23 0h0m-35 0h0m68 1h0m46 0h0m54 0h0m6 1h0m-91 0h0m-40 0h0m-27 0h0m-12 0h0m-23 0h0m-16 0h0m8 1h0m23 0h0m15 0h0m42 0h0m33 0h0m24 0h0m32 0h0m-24 1h0m-55 0h0m-5 0h0m-2 0h0m-5 0h0m-11 0h0m-14 0h0m-4 0h0m-19 0h0m-5 0h0m-9 0h0m-14 1h0m3 0h0m22 0h0m10 0h0m4 0h0m22 0h0m13 0h0m40 0h0m13 0h0m5 0h0m13 0h0m23 0h0m-55 1h0m-82 0h0m-20 0h0m-26 0h0m3 1h0m33 0h0m29 0h0m21 0h0m16 0h0m47 1h0m-47 0h0m-31 0h0m-16 0h0m-16 0h0m-9 0h0m18 1h0m19 0h0m114 0h0m-139 1h0m28 1h0m11 0h0m3 0h0m24 0h0m21 1h0m-45 0h0m-56 1h0m47 0h0m23 0h0m51 1h0m-35 0h0m-4 0h0m-99 0h0m-2 0h0m-2 0h0m3 1h0m28 0h0m92 0h0m39 0h0m-47 1h0m-52 0h0m-11 0h0m-34 0h0m-12 1h0m6 0h0m55 0h0m47 0h0m-77 1h0m-4 0h0m-38 1h0m6 1h0" stroke-width="4.20"/><path d="M425 14h0m50 0h0m312 1h0m-17 0h0m-70 0h0m-18 0h0m-6 0h0m-23 0h0m-13 0h0m-10 0h0m-11 0h0m-13 0h0m-23 0h0m-6 0h0m-41 0h0m-74 0h0m-118 1h0m38 0h0m12 0h0m7 0h0m46 0h0m11 0h0m38 0h0m77 0h0m-39 1h0m-15 0h0m-14 0h0m-46 0h0m-38 0h0m-7 0h0m-6 0h0m-35 0h0m-36 0h0m95 1h0m27 0h0m12 0h0m144 0h0m52 0h0m245 3h0m-100 0h0m-51 0h0m-6 0h0m-2 0h0m-39 0h0m-25 0h0m-32 0h0m-51 0h0m-19 0h0m-15 0h0m-6 0h0m-12 0h0m-14 0h0m-35 0h0m-3 0h0m-11 0h0m-10 0h0m-15 0h0m-13 0h0m-2 0h0m-17 0h0m-1 0h0m-16 0h0m-1 0h0m-3 0h0m-14 0h0m-15 0h0m-6 0h0m-10 0h0m-9 0h0m-14 0h0m-5 0h0m-6 0h0m-2 3h0m13 0h0m40 0h0m24 0h0m38 0h0m98 0h0m197 1h0m-141 0h0m-94 0h0m-62 0h0m-3 0h0m-6 0h0m-8 0h0m-40 0h0m-54 0h0m3 1h0m11 0h0m22 0h0m2 0h0m48 0h0m1 0h0m46 0h0m18 0h0m37 0h0m74 0h0m28 0h0m34 0h0m49 0h0m18 0h0m134 1h0m-45 0h0m-171 0h0m-10 0h0m-22 0h0m-45 0h0m-23 0h0m-1 0h0m-21 0h0m-40 0h0m-28 0h0m-33 0h0m-10 0h0m-33 0h0m-14 0h0m-4 0h0m-6 0h0m-14 0h0m29 1h0m17 0h0m34 0h0m25 0h0m13 0h0m63 0h0m25 0h0m1 0h0m24 0h0m13 0h0m63 0h0m25 0h0m165 1h0m-29 0h0m-58 0h0m-86 0h0m-29 0h0m-29 0h0m-26 0h0m-30 0h0m-74 0h0m-32 1h0m108 0h0m133 0h0m67 0h0m34 0h0m33 0h0m-211 1h0m-146 0h0m-18 0h0m-36 0h0m-18 0h0m-61 0h0m7 1h0m40 0h0m40 0h0m26 0h0m14 0h0m40 0h0m90 0h0m194 1h0m-89 0h0m-133 0h0m-66 0h0m-6 0h0m-38 0h0m-4 0h0m-18 0h0m-53 0h0m-13 0h0m154 1h0m222 1h0m-303 0h0m-52 0h0m-49 1h0m18 0h0m48 0h0m14 0h0m9 0h0m54 0h0m35 0h0m1 0h0m28 0h0m116 0h0m53 0h0m28 0h0m28 0h0m-18 1h0m-116 0h0m-61 0h0m-59 0h0m-20 0h0m-11 0h0m-9 0h0m-19 0h0m-2 0h0m-18 0h0m-58 0h0m-1 0h0m-1 0h0m-19 0h0m34 1h0m37 0h0m313 1h0m-218 0h0m-32 0h0m-18 0h0m-4 0h0m-38 0h0m-23 0h0m-4 0h0m-48 0h0m18 1h0m1 0h0m11 0h0m14 0h0m4 0h0m88 0h0m1 0h0m18 0h0m53 0h0m7 0h0m46 0h0m282 1h0m-243 0h0m-25 0h0m-48 0h0m-25 0h0m-72 0h0m-21 0h0m-4 0h0m-121 0h0m-6 1h0m7 0h0m32 0h0m39 0h0m129 0h0m33 0h0m126 1h0m-96 0h0m-193 0h0m-16 0h0m-16 0h0m-44 1h0m27 0h0m7 0h0m51 0h0m4 0h0m10 0h0m8 0h0m10 0h0m6 0h0m21 0h0m27 0h0m64 0h0m19 0h0m2 0h0m26 0h0m38 0h0m77 1h0m-175 0h0m-2 0h0m-50 0h0m-70 0h0m-6 0h0m-29 0h0m-34 0h0m-18 0h0m-12 2h0m33 0h0m22 0h0m4 0h0m69 0h0m10 0h0m13 0h0m31 0h0m48 0h0m13 0h0m43 0h0m8 0h0m31 0h0m96 0h0m79 0h0m-480 1h0m28 1h0m13 0h0m40 0h0m11 0h0m40 0h0m29 0h0m17 0h0m4 0h0m79 0h0m3 0h0m148 1h0m-54 0h0m-74 0h0m-7 0h0m-54 0h0m-17 0h0m-28 0h0m-35 0h0m-1 0h0m-20 0h0m-7 0h0m-27 0h0m-8 0h0m-21 0h0m-21 0h0m-21 0h0m-23 0h0m6 1h0m42 0h0m44 0h0m21 0h0m372 1h0m-113 0h0m-131 0h0m-81 0h0m-29 0h0m-3 0h0m-6 0h0m-34 0h0m-73 0h0m-23 1h0m13 0h0m4 0h0m19 0h0m15 0h0m9 0h0m8 0h0m38 0h0m48 0h0m23 0h0m10 0h0m13 0h0m70 0h0m1 0h0m46 0h0m47 0h0m-198 1h0m-160 1h0m104 0h0m62 0h0m10 0h0m15 0h0m47 0h0m62 0h0m51 0h0m11 0h0m-71 1h0m-129 0h0m-4 0h0m-70 0h0m-14 0h0m-5 0h0m-18 0h0m-19 0h0m-41 1h0m99 0h0m21 0h0m137 0h0m26 0h0m185 0h0m-200 1h0m-17 0h0m-17 0h0m-96 0h0m-4 0h0m-17 0h0m-17 0h0m-25 0h0m-42 0h0m-5 0h0m-11 0h0m-17 0h0m-4 1h0m46 0h0m84 0h0m46 0h0m47 0h0m16 0h0m29 0h0m92 0h0m160 0h0m92 0h0m46 0h0m-323 1h0m-53 0h0m-29 0h0m-20 0h0m-63 0h0m-71 0h0m-8 0h0m-68 1h0m25 0h0m48 0h0m73 0h0m15 0h0m94 0h0m91 0h0m37 0h0m73 0h0m72 0h0m37 0h0m-167 1h0m-172 0h0m-198 0h0m19 1h0m26 0h0m26 0h0m51 0h0m233 0h0m103 0h0m-227 1h0m-39 0h0m-29 0h0m-34 0h0m-11 0h0m-22 0h0m-23 0h0m-1 0h0m-21 0h0m-68 0h0m-28 1h0m40 0h0m28 0h0m20 0h0m12 0h0m23 0h0m17 0h0m15 0h0m2 0h0m18 0h0m45 0h0m20 0h0m20 0h0m203 0h0m-235 1h0m-76 0h0m-91 0h0m9 1h0m383 2h0m-43 0h0m-163 0h0m-4 0h0m-8 0h0m-2 0h0m-23 0h0m-23 0h0m-29 0h0m-2 0h0m-2 0h0m-5 0h0m-27 0h0m-7 0h0m-8 0h0m-23 0h0m-3 0h0m-21 0h0m-2 0h0m-2 0h0m-19 0h0m-1 0h0m-5 0h0m-6 0h0m-1 0h0m-31 3h0m12 0h0m9 0h0m55 0h0m29 0h0m8 0h0m243 1h0m-45 0h0m-192 0h0m-18 0h0m-52 0h0m-39 0h0m-10 1h0m5 0h0m21 0h0m22 0h0m20 0h0m29 0h0m16 0h0m22 0h0m20 0h0m2 0h0m21 0h0m16 0h0m6 0h0m13 0h0m31 0h0m43 0h0m4 0h0m240 1h0m-124 0h0m-75 0h0m-99 0h0m-148 0h0m-25 0h0m-6 0h0m-27 1h0m5 0h0m35 0h0m210 0h0m58 0h0m57 0h0m152 1h0m-103 0h0m-183 0h0m-63 0h0m-12 0h0m-82 0h0m-56 0h0m-29 1h0m76 0h0m19 0h0m38 0h0m77 0h0m288 1h0m-86 0h0m-199 0h0m-79 0h0m-51 0h0m-77 0h0m-2 1h0m30 0h0m62 0h0m258 1h0m-108 0h0m-13 0h0m-73 0h0m-15 0h0m-9 0h0m-25 0h0m-68 0h0m-5 0h0m-12 0h0m-12 0h0m-8 0h0m41 1h0m25 0h0m56 0h0m19 0h0m4 0h0m324 0h0m-284 2h0m-37 0h0m-26 0h0m-20 0h0m-1 0h0m-15 0h0m-6 0h0m-18 0h0m-24 0h0m-42 0h0m123 1h0m31 0h0m134 0h0m151 0h0m-146 1h0m-47 0h0m-24 0h0m-95 0h0m-52 0h0m-8 0h0m-27 0h0m-6 0h0m-3 0h0m-3 1h0m19 0h0m55 0h0m19 0h0m18 0h0m23 0h0m33 0h0m92 0h0m-77 2h0m-143 0h0m-17 0h0m-12 0h0m-7 0h0m-31 0h0m-11 0h0m134 1h0m63 0h0m16 0h0m22 0h0m128 1h0m-68 0h0m-24 0h0m-35 0h0m-12 0h0m-43 0h0m-36 0h0m-37 0h0m-1 0h0m-35 0h0m-11 0h0m-35 0h0m-12 0h0m-15 0h0m13 1h0m13 0h0m32 0h0m9 0h0m24 0h0m33 0h0m211 0h0m33 0h0m-59 1h0m-26 0h0m-118 0h0m-39 0h0m-40 0h0m-31 0h0m-8 0h0m-22 0h0m115 1h0m9 0h0m27 0h0m117 0h0m108 0h0m134 0h0m-499 1h0m-44 0h0m14 1h0m96 0h0m46 0h0m46 0h0m23 0h0m15 0h0m54 0h0m10 0h0m105 0h0m100 1h0m-160 0h0m-20 0h0m-80 0h0m-40 0h0m-12 0h0m-28 0h0m-120 0h0m6 1h0m53 0h0m88 0h0m53 0h0m18 0h0m221 1h0m-63 0h0m-127 0h0m-64 0h0m-16 0h0m-32 0h0m-63 0h0m-38 0h0m-31 0h0m-28 1h0m8 0h0m6 0h0m37 0h0m81 0h0m27 0h0m8 0h0m18 0h0m26 0h0m27 0h0m26 0h0m53 0h0m26 0h0m-84 1h0m-113 0h0m-29 0h0m-5 0h0m-14 0h0m-30 0h0m-38 0h0m-11 0h0m-31 0h0m73 1h0m32 0h0m141 0h0m70 0h0m-228 1h0m-78 0h0m3 3h0m28 0h0m2 0h0m8 0h0m12 0h0m39 0h0m2 0h0m3 0h0m22 0h0m14 0h0m8 0h0m22 0h0m9 0h0m44 0h0m33 0h0m20 0h0m5 0h0m49 0h0m4 0h0m32 0h0m-155 2h0m-49 0h0m-93 0h0m-41 0h0m-19 0h0m-7 0h0m-9 1h0m8 0h0m43 0h0m19 0h0m15 0h0m34 0h0m3 0h0m31 0h0m26 0h0m25 0h0m14 0h0m2 0h0m3 0h0m99 0h0m-21 1h0m-65 0h0m-22 0h0m-26 0h0m-104 0h0m-22 0h0m-22 0h0m-22 0h0m-21 0h0m60 1h0m26 0h0m25 0h0m126 0h0m89 1h0m-58 0h0m-33 0h0m-30 0h0m-21 0h0m-54 0h0m-13 0h0m-33 0h0m-15 0h0m-19 0h0m-33 0h0m47 1h0m188 0h0m168 0h0m76 0h0m-351 1h0m-36 0h0m-6 0h0m-8 0h0m-14 0h0m-39 0h0m-1 0h0m-45 0h0m40 1h0m30 0h0m237 1h0m-50 0h0m-50 0h0m-162 1h0m37 0h0m111 0h0m213 1h0m-30 0h0m-59 0h0m-48 0h0m-11 0h0m-29 0h0m-30 0h0m-8 0h0m-69 0h0m-11 0h0m-10 0h0m-21 0h0m-12 0h0m-9 0h0m-21 0h0m-19 0h0m7 1h0m5 0h0m48 0h0m1 0h0m10 0h0m22 0h0m439 1h0m-72 0h0m-73 0h0m-134 0h0m-67 0h0m-6 0h0m-34 0h0m-29 0h0m-4 0h0m-2 0h0m-34 0h0m-6 0h0m-37 0h0m-4 0h0m-20 0h0m-6 0h0m-4 0h0m-9 2h0m24 0h0m21 0h0m21 0h0m20 0h0m41 0h0m42 0h0m20 0h0m42 0h0m28 0h0m36 1h0m-218 0h0m-13 0h0m-44 1h0m26 0h0m27 0h0m2 0h0m42 0h0m126 0h0m81 1h0m-47 0h0m-143 0h0m-8 0h0m-40 0h0m-82 1h0m16 0h0m16 0h0m65 0h0m3 0h0m38 0h0m81 0h0m9 0h0m32 0h0m20 0h0m129 1h0m-300 0h0m-1 0h0m-70 0h0m-8 0h0m-22 0h0m-14 1h0m72 0h0m20 0h0m31 0h0m303 1h0m-17 0h0m-46 0h0m-50 0h0m-20 0h0m-71 0h0m-23 0h0m-25 0h0m-2 0h0m-28 0h0m-39 0h0m-35 0h0m-49 0h0m-29 1h0m6 0h0m20 0h0m5 0h0m34 0h0m1 0h0m37 0h0m43 0h0m80 0h0m49 0h0m71 0h0m-156 1h0m-14 0h0m-34 0h0m-77 0h0m-62 0h0m142 1h0m231 2h0m-5 0h0m-7 0h0m-86 0h0m-24 0h0m-78 0h0m-4 0h0m-12 0h0m-16 0h0m-30 0h0m-1 0h0m-74 0h0m-19 0h0m-14 0h0m83 1h0m81 1h0m-66 0h0m-5 0h0m-26 0h0m-15 0h0m-27 0h0m-3 0h0m-21 1h0m50 0h0m20 0h0m15 0h0m4 0h0m7 0h0m12 0h0m20 0h0m25 0h0m17 0h0m127 1h0m-67 0h0m-23 0h0m-84 0h0m-6 0h0m-7 0h0m-38 0h0m-45 0h0m41 1h0m156 0h0m13 0h0m27 0h0m27 0h0m91 1h0m-67 0h0m-159 0h0m-159 0h0m9 1h0m21 0h0m57 0h0m57 0h0m19 0h0m283 1h0m-166 0h0m-26 0h0m-51 0h0m-144 0h0m-33 0h0m12 1h0m25 0h0m50 0h0m12 0h0m26 0h0m27 0h0m1 0h0m65 0h0m1 0h0m64 0h0m80 0h0m-194 1h0m-75 0h0m-56 0h0m1 2h0m22 0h0m65 0h0m119 0h0m-71 1h0m-64 0h0m-2 0h0m-20 0h0m-87 0h0m-20 1h0m59 0h0m14 0h0m89 0h0m78 0h0m176 1h0m-320 0h0m-36 0h0m-7 0h0m-43 0h0m-16 1h0m36 0h0m77 0h0m51 0h0m253 1h0m-64 0h0m-95 0h0m-118 0h0m-52 0h0m-54 1h0m29 0h0m47 0h0m37 0h0m13 0h0m26 0h0m162 1h0m-82 0h0m-23 0h0m-21 0h0m-21 0h0m-7 0h0m-54 0h0m-18 0h0m-5 0h0m-13 0h0m-29 0h0m-24 0h0m-18 0h0m-18 0h0m-18 0h0m67 1h0m15 0h0m53 0h0m57 0h0m-24 1h0m-150 1h0m49 0h0m36 0h0m22 0h0m10 0h0m70 0h0m25 0h0m19 0h0m62 0h0m10 0h0m-142 2h0m-45 0h0m-123 1h0m18 0h0m87 0h0m26 0h0m44 0h0m122 0h0m-14 1h0m-48 0h0m-15 0h0m-10 0h0m-10 0h0m-62 0h0m-25 0h0m-8 0h0m-7 0h0m-33 0h0m-68 0h0m33 1h0m196 0h0m121 0h0m-264 1h0m-69 0h0m19 1h0m120 0h0m60 0h0m-11 1h0m-24 0h0m-47 0h0m-24 0h0m-48 0h0m-71 0h0m88 1h0m122 0h0m84 0h0m52 1h0m-49 0h0m-10 0h0m-59 0h0m-108 0h0m-20 0h0m-32 0h0m-3 0h0m-4 0h0m-59 0h0m1 1h0m30 0h0m14 0h0m6 0h0m58 0h0m43 0h0m33 0h0m159 1h0m-70 0h0m-24 0h0m-69 0h0m-94 0h0m-23 0h0m-24 0h0m72 1h0m39 0h0m213 0h0m-33 1h0m-144 0h0m-24 0h0m-33 0h0m-30 0h0m-29 0h0m-7 0h0m-51 1h0m46 0h0m45 0h0m69 0h0m-9 1h0m-37 0h0m-58 0h0m-19 0h0m-22 0h0m-17 0h0m0 1h0m214 0h0m84 2h0m-8 0h0m-25 0h0m-70 0h0m-17 0h0m-135 0h0m-12 0h0m-11 0h0m-4 0h0m-33 0h0m136 1h0m79 1h0m-19 0h0m-18 0h0m-19 0h0m-55 0h0m-37 0h0m-40 0h0m-17 1h0m89 0h0m22 0h0m66 0h0m43 1h0m-190 0h0m-3 0h0m-28 0h0m25 1h0m156 0h0m146 0h0m36 0h0m73 0h0m-265 1h0m-43 0h0m-43 0h0m-44 0h0m-16 0h0m-6 0h0m-22 1h0m124 0h0m225 1h0m-54 0h0m-207 0h0m-22 0h0m-31 0h0m-18 0h0m-20 1h0m21 0h0m43 0h0m85 0h0m65 0h0m106 0h0m-180 1h0m-87 0h0m-30 1h0m80 0h0m26 0h0m50 0h0m3 0h0m52 0h0m77 1h0m-84 0h0m-21 0h0m-84 0h0m-42 0h0m-63 0h0m-7 1h0m38 0h0m52 0h0m74 0h0m31 0h0m-190 1h0m-11 1h0m3 0h0m6 0h0m42 0h0m15 0h0m47 0h0m56 0h0m95 0h0m103 0h0m9 0h0m-288 2h0m-51 0h0m-27 0h0m-7 0h0m-2 0h0m5 1h0m4 0h0m36 0h0m90 0h0m52 0h0m-118 1h0m-43 0h0m-27 1h0m2 0h0m31 0h0m9 0h0m20 0h0m38 0h0m2 0h0m82 0h0m34 0h0m16 0h0m50 0h0m142 2h0m-173 0h0m-50 0h0m-148 0h0m-56 1h0m59 0h0m39 0h0m98 0h0m109 1h0m-33 0h0m-15 0h0m-70 0h0m-65 0h0m-120 1h0m48 0h0m25 0h0m48 0h0m25 0h0m12 0h0m12 0h0m73 0h0m42 1h0m-39 0h0m-24 0h0m-42 0h0m-29 0h0m-79 0h0m-2 0h0m-13 0h0m-5 0h0m-29 0h0m-8 0h0m-21 0h0m37 1h0m346 1h0m-87 0h0m-64 0h0m-32 0h0m-8 0h0m-55 0h0m-26 0h0m-14 0h0m-8 0h0m-59 2h0m58 0h0m18 0h0m19 0h0m38 0h0m18 0h0m19 0h0m57 0h0m68 1h0m-164 0h0m-23 0h0m-47 0h0m-70 0h0m-12 0h0m150 1h0m46 0h0m78 0h0m31 0h0m-157 1h0m-37 0h0m-92 0h0m12 1h0m38 0h0m7 0h0m46 0h0m-16 1h0m-32 0h0m-12 0h0m-47 0h0m96 1h0m30 0h0m181 0h0m-183 1h0m-2 0h0m-43 0h0m-2 0h0m-21 0h0m-5 0h0m-17 0h0m-23 0h0m-31 1h0m255 1h0m-65 0h0m-23 0h0m-8 0h0m-44 0h0m-31 0h0m-48 0h0m-5 0h0m-23 2h0m2 0h0m35 0h0m17 0h0m69 1h0m-43 0h0m-44 0h0m-22 0h0m-15 1h0m64 0h0m29 0h0m58 0h0m115 0h0m29 0h0m144 0h0m-150 1h0m-150 0h0m-35 0h0m-93 0h0m3 1h0m34 0h0m17 0h0m15 0h0m48 0h0m5 0h0m101 0h0m162 1h0m-28 0h0m-113 0h0m-28 0h0m-28 0h0m-57 0h0m-141 0h0m-1 1h0m49 0h0m62 0h0m22 0h0m84 2h0m-7 0h0m-54 0h0m-22 0h0m-55 0h0m-27 0h0m-49 0h0m-7 0h0m96 1h0m50 1h0m-41 0h0m-48 0h0m-53 0h0m19 1h0m80 0h0m54 0h0m216 0h0m-33 1h0m-220 0h0m-120 0h0m115 2h0m34 0h0m53 0h0m53 0h0m52 0h0m-88 2h0m-26 0h0m-77 0h0m-7 0h0m-71 0h0m-10 2h0m13 0h0m6 0h0m19 0h0m38 0h0m-33 1h0m-13 0h0m-6 0h0m-15 0h0m-13 1h0m38 0h0m169 0h0m37 0h0m75 0h0m-67 1h0m-167 0h0m-60 0h0m41 1h0m164 2h0m-73 0h0m-80 0h0m-11 0h0m-58 1h0m18 0h0m35 0h0m76 1h0m-47 0h0m-119 0h0m86 1h0m36 0h0m84 1h0m-23 0h0m-47 0h0m-47 0h0m-59 1h0m17 0h0m70 0h0m87 0h0m-40 1h0m-81 0h0m-45 0h0m-32 2h0m4 0h0m46 0h0m22 0h0m47 0h0m66 0h0m163 1h0m-100 0h0m-33 0h0m-67 0h0m-37 1h0m66 0h0m45 0h0m-212 1h0m-13 1h0m76 0h0m6 0h0m5 0h0m119 0h0m11 0h0m5 0h0m49 0h0m-166 1h0m-109 1h0m64 0h0m28 0h0m15 0h0m156 1h0m-64 0h0m-63 0h0m-98 1h0m15 0h0m27 0h0m20 0h0m141 2h0m-46 0h0m-6 0h0m-72 0h0m-3 0h0m-104 1h0m61 0h0m101 0h0m20 0h0m61 0h0m17 1h0m-61 0h0m-151 0h0m-52 1h0m20 0h0m14 0h0m66 0h0m123 1h0m-118 0h0m-49 0h0m-63 2h0m78 0h0m84 1h0m-58 0h0m-69 0h0m62 2h0m-32 1h0m-37 0h0m-18 0h0m-1 0h0m26 1h0m55 0h0m55 0h0m28 0h0m165 0h0m-277 1h0m-40 1h0m62 0h0m54 0h0m216 0h0m-206 1h0m-77 0h0m-21 1h0m81 0h0m26 0h0m53 0h0m-35 1h0m-51 0h0m-9 0h0m-43 0h0m-31 2h0m2 0h0m23 0h0m11 0h0m40 0h0m-61 1h0m-50 0h0m5 1h0m42 0h0m8 0h0m67 1h0m-73 0h0m-6 0h0m-18 0h0m-28 2h0m357 0h0m48 0h0m-199 1h0m-70 0h0m-47 0h0m-6 0h0m-41 0h0m-23 0h0m107 1h0m49 1h0m-142 1h0m45 0h0m65 1h0m-139 1h0m194 1h0m-195 0h0m17 1h0m128 0h0m64 0h0m-70 1h0m-42 0h0m-52 0h0m-11 0h0m65 1h0m303 0h0m-234 2h0m-162 0h0m36 1h0m220 0h0m-67 1h0m-22 0h0m-40 0h0m-75 0h0m18 1h0m259 1h0m-248 0h0m-59 0h0m-33 1h0m46 0h0m2 0h0m72 0h0m80 0h0m150 0h0m-126 1h0m-36 0h0m-73 0h0m-18 0h0m-79 0h0m-10 0h0m13 1h0m18 0h0m-39 1h0m28 2h0m35 0h0m103 0h0m51 0h0m52 0h0m-46 1h0m-67 0h0m-67 0h0m-51 0h0m30 1h0m50 0h0m152 1h0m-59 0h0m-33 0h0m-149 1h0m76 0h0m127 0h0m32 0h0m-105 1h0m-31 0h0m-31 0h0m-31 0h0m-44 0h0m7 2h0m30 0h0m61 0h0m60 0h0m45 0h0m-54 1h0m-118 0h0m-24 1h0m57 0h0m76 0h0m29 0h0m-10 1h0m-84 0h0m-62 1h0m28 0h0m27 0h0m28 0h0m73 1h0m-81 0h0m-53 0h0m-6 1h0m-6 1h0m-25 0h0m-10 1h0m30 0h0m20 0h0m5 0h0m76 0h0m-14 1h0m-97 0h0m-24 0h0m-4 1h0m143 0h0m23 0h0m-14 1h0m-46 0h0m-23 0h0m-17 0h0m-5 0h0m40 1h0m67 0h0m-51 1h0m-118 1h0m128 0h0m-48 1h0m-5 0h0m-62 0h0m37 1h0m21 0h0m55 0h0m-88 1h0m-23 1h0m39 4h0m-45 4h0m31 0h0m79 1h0" stroke-width="4.80"/><path d="M388 15h0m63 0h0m15 0h0m23 0h0m4 0h0m42 0h0m24 0h0m-120 1h0m-40 1h0m42 0h0m431 4h0m-13 0h0m-42 0h0m-31 0h0m-10 0h0m-7 0h0m-5 0h0m-29 0h0m-30 0h0m-5 0h0m-7 0h0m-10 0h0m-17 0h0m-14 0h0m-9 0h0m-12 0h0m-14 0h0m-6 0h0m-14 0h0m-17 0h0m-10 0h0m-7 0h0m-35 0h0m-29 0h0m-5 0h0m-7 0h0m-10 0h0m-8 0h0m-10 0h0m-13 0h0m-6 0h0m-4 0h0m-11 0h0m-15 0h0m-6 0h0m-13 0h0m-10 0h0m-8 0h0m-10 0h0m-7 0h0m-5 0h0m-3 0h0m31 6h0m7 0h0m22 0h0m23 0h0m316 1h0m-25 0h0m-25 0h0m-76 0h0m-25 0h0m-102 0h0m-25 0h0m-76 0h0m-50 0h0m3 1h0m29 0h0m28 0h0m29 0h0m29 0h0m29 0h0m29 0h0m28 0h0m29 0h0m115 0h0m27 1h0m-67 0h0m-34 0h0m-33 0h0m-67 0h0m-33 0h0m-34 0h0m-33 0h0m-34 0h0m-33 0h0m166 1h0m279 1h0m-40 0h0m-40 0h0m-40 0h0m-40 0h0m-40 0h0m-40 0h0m-40 0h0m-40 0h0m-40 0h0m-40 0h0m-40 0h0m-19 1h0m45 0h0m22 0h0m66 0h0m155 0h0m334 2h0m-99 0h0m-100 0h0m-49 0h0m-50 0h0m-24 0h0m-25 0h0m-25 0h0m-25 0h0m-25 0h0m-24 0h0m-25 0h0m-25 0h0m-25 0h0m-24 0h0m-25 0h0m-25 0h0m-25 0h0m2 1h0m29 0h0m56 0h0m28 0h0m28 0h0m85 0h0m28 0h0m56 0h0m-112 1h0m-10 0h0m-137 0h0m-58 2h0m10 0h0m11 0h0m22 0h0m33 0h0m32 0h0m33 0h0m32 0h0m33 0h0m33 0h0m32 0h0m33 0h0m32 0h0m33 0h0m65 0h0m131 0h0m65 0h0m-435 2h0m-97 0h0m-24 0h0m-25 0h0m-24 0h0m-10 1h0m38 0h0m39 0h0m39 0h0m38 0h0m39 0h0m39 0h0m39 0h0m38 0h0m39 0h0m39 0h0m38 0h0m155 0h0m-491 1h0m-102 1h0m56 0h0m2 0h0m53 0h0m32 0h0m23 0h0m27 0h0m14 0h0m14 0h0m82 0h0m-243 1h0m-57 2h0m15 0h0m16 0h0m8 0h0m24 0h0m24 0h0m8 0h0m16 0h0m16 0h0m31 0h0m32 0h0m16 0h0m48 0h0m47 0h0m48 0h0m48 0h0m47 0h0m-128 3h0m-54 0h0m-54 0h0m-27 0h0m-68 0h0m-40 0h0m-26 0h0m-27 0h0m-27 0h0m67 1h0m355 1h0m-75 0h0m-37 0h0m-38 0h0m-37 0h0m-38 0h0m-37 0h0m-38 0h0m-37 0h0m-38 0h0m-38 0h0m126 1h0m23 0h0m494 2h0m-124 0h0m-62 0h0m-31 0h0m-31 0h0m-62 0h0m-62 0h0m-62 0h0m-62 0h0m-21 0h0m-10 0h0m-31 0h0m-21 0h0m-10 0h0m-10 0h0m-21 0h0m-31 0h0m135 1h0m228 1h0m-53 0h0m-105 0h0m-26 0h0m-27 0h0m-26 0h0m-53 0h0m-26 0h0m-27 0h0m-26 0h0m19 2h0m23 0h0m23 0h0m22 0h0m23 0h0m46 0h0m46 0h0m23 0h0m23 0h0m46 0h0m46 0h0m46 0h0m46 0h0m46 0h0m91 0h0m-455 1h0m-61 0h0m-45 1h0m36 0h0m37 0h0m36 0h0m37 0h0m36 0h0m36 0h0m37 0h0m36 0h0m37 0h0m-3 1h0m-60 0h0m-31 0h0m-30 0h0m-30 0h0m-30 0h0m-30 0h0m-31 0h0m-30 0h0m-30 0h0m-30 0h0m21 1h0m25 0h0m104 0h0m51 0h0m26 0h0m52 0h0m27 1h0m-225 0h0m-13 1h0m60 0h0m324 4h0m-15 0h0m-29 0h0m-18 0h0m-12 0h0m-15 0h0m-8 0h0m-6 0h0m-30 0h0m-25 0h0m-4 0h0m-6 0h0m-9 0h0m-15 0h0m-12 0h0m-17 0h0m-10 0h0m-8 0h0m-12 0h0m-8 0h0m-7 0h0m-8 0h0m-6 0h0m-5 0h0m-25 0h0m-25 0h0m-4 0h0m-6 0h0m-9 0h0m-15 0h0m-12 0h0m-17 0h0m-13 0h0m-5 0h0m-12 0h0m-8 0h0m-7 0h0m-8 0h0m32 4h0m25 0h0m27 0h0m138 1h0m-152 0h0m-60 1h0m25 0h0m74 0h0m25 0h0m25 0h0m25 0h0m74 0h0m105 1h0m-57 0h0m-58 0h0m-29 0h0m-28 0h0m-29 0h0m-29 0h0m-29 0h0m-29 0h0m-28 0h0m-29 0h0m10 1h0m35 0h0m34 0h0m34 0h0m35 0h0m34 0h0m35 0h0m34 0h0m34 0h0m35 0h0m69 0h0m-143 1h0m-191 0h0m-72 1h0m43 0h0m21 0h0m21 0h0m43 0h0m43 0h0m42 0h0m22 0h0m21 0h0m43 0h0m43 0h0m-143 2h0m-90 0h0m-7 0h0m-24 0h0m-73 0h0m6 1h0m19 0h0m10 0h0m28 0h0m28 0h0m28 0h0m28 0h0m28 0h0m29 0h0m28 0h0m28 0h0m28 0h0m56 0h0m57 0h0m56 0h0m56 0h0m-354 2h0m-143 1h0m33 0h0m34 0h0m33 0h0m34 0h0m33 0h0m34 0h0m33 0h0m67 0h0m-107 1h0m-95 0h0m-24 0h0m-24 0h0m-48 0h0m10 3h0m28 0h0m13 0h0m14 0h0m7 0h0m21 0h0m20 0h0m7 0h0m14 0h0m14 0h0m7 0h0m20 0h0m42 0h0m13 0h0m28 0h0m41 0h0m41 0h0m42 0h0m82 0h0m-304 2h0m-47 0h0m-94 0h0m-29 1h0m33 0h0m33 0h0m32 0h0m33 0h0m32 0h0m33 0h0m33 0h0m32 0h0m33 0h0m-258 1h0m-48 1h0m27 0h0m27 0h0m26 0h0m27 0h0m27 0h0m27 0h0m27 0h0m27 0h0m27 0h0m27 0h0m54 0h0m54 0h0m54 0h0m54 0h0m-311 2h0m-46 0h0m-46 0h0m-45 0h0m-13 1h0m37 0h0m3 0h0m40 0h0m40 0h0m40 0h0m40 0h0m40 0h0m40 0h0m80 0h0m40 0h0m40 0h0m-255 1h0m-202 1h0m31 0h0m32 0h0m32 0h0m32 0h0m31 0h0m32 0h0m64 0h0m63 0h0m-197 1h0m-26 0h0m-27 0h0m-26 0h0m-53 0h0m25 1h0m12 0h0m28 0h0m17 0h0m23 0h0m22 0h0m23 0h0m-82 1h0m-62 4h0m16 0h0m15 0h0m4 0h0m6 0h0m13 0h0m8 0h0m5 0h0m26 0h0m26 0h0m5 0h0m8 0h0m13 0h0m10 0h0m15 0h0m16 0h0m10 0h0m13 0h0m8 0h0m31 0h0m31 0h0m20 0h0m11 0h0m15 0h0m26 0h0m13 0h0m77 0h0m39 0h0m26 0h0m-485 3h0m88 1h0m87 0h0m-59 1h0m-101 0h0m-25 0h0m-16 1h0m30 0h0m60 0h0m31 0h0m30 0h0m30 0h0m91 0h0m30 0h0m87 1h0m-38 0h0m-37 0h0m-38 0h0m-37 0h0m-38 0h0m-37 0h0m-38 0h0m-37 0h0m-38 0h0m-38 0h0m10 1h0m171 0h0m288 2h0m-50 0h0m-49 0h0m-50 0h0m-49 0h0m-50 0h0m-49 0h0m-25 0h0m-25 0h0m-25 0h0m-24 0h0m-25 0h0m-25 0h0m-25 0h0m147 1h0m191 1h0m-177 0h0m-27 0h0m-3 0h0m-59 0h0m-29 0h0m-30 0h0m-17 2h0m36 0h0m37 0h0m24 0h0m12 0h0m12 0h0m25 0h0m24 0h0m12 0h0m36 0h0m25 0h0m12 0h0m36 0h0m37 0h0m36 0h0m-356 2h0m4 1h0m29 0h0m57 0h0m29 0h0m29 0h0m29 0h0m28 0h0m188 2h0m-48 0h0m-48 0h0m-47 0h0m-48 0h0m-24 0h0m-8 0h0m-16 0h0m-47 0h0m-48 0h0m-24 0h0m-24 0h0m26 1h0m21 0h0m20 0h0m262 1h0m-36 0h0m-35 0h0m-36 0h0m-35 0h0m-35 0h0m-36 0h0m-35 0h0m-36 0h0m-35 0h0m-35 0h0m12 2h0m29 0h0m3 0h0m25 0h0m22 0h0m6 0h0m28 0h0m13 0h0m23 0h0m49 0h0m28 0h0m169 0h0m-320 1h0m-83 4h0m13 0h0m11 0h0m7 0h0m8 0h0m20 0h0m27 0h0m7 0h0m11 0h0m10 0h0m4 0h0m9 0h0m23 0h0m12 0h0m15 0h0m19 0h0m28 0h0m7 0h0m11 0h0m23 0h0m34 0h0m35 0h0m46 0h0m23 0h0m23 0h0m-410 3h0m83 1h0m45 0h0m45 0h0m-2 1h0m-27 0h0m-27 0h0m-27 0h0m-27 0h0m-26 0h0m-27 0h0m-27 0h0m19 1h0m33 0h0m34 0h0m33 0h0m34 0h0m33 0h0m34 0h0m33 0h0m-183 1h0m-57 0h0m-8 1h0m45 0h0m44 0h0m44 0h0m44 0h0m45 0h0m44 0h0m44 0h0m44 0h0m-153 1h0m-105 0h0m-27 0h0m-26 0h0m-27 0h0m-26 0h0m17 3h0m33 0h0m33 0h0m32 0h0m33 0h0m32 0h0m33 0h0m33 0h0m65 0h0m196 0h0m-305 2h0m-51 0h0m-26 0h0m-78 0h0m-25 0h0m-19 1h0m43 0h0m42 0h0m43 0h0m43 0h0m42 0h0m43 0h0m43 0h0m43 0h0m128 0h0m-80 2h0m-64 0h0m-31 0h0m-64 0h0m-32 0h0m-32 0h0m-31 0h0m-32 0h0m-32 0h0m-32 0h0m-31 0h0m5 1h0m50 0h0m26 0h0m935 4h0m-557 0h0m-21 0h0m-83 0h0m-20 0h0m-62 0h0m-41 0h0m-21 0h0m-21 0h0m-10 0h0m-6 0h0m-25 0h0m-25 0h0m-16 0h0m-9 0h0m-12 0h0m-12 0h0m-9 0h0m-10 0h0m-6 0h0m-25 0h0m-21 0h0m-4 0h0m-6 0h0m2 4h0m24 0h0m21 0h0m3 0h0m18 0h0m20 0h0m84 0h0m95 1h0m-61 0h0m-30 0h0m-15 0h0m-15 0h0m-30 0h0m-31 0h0m-30 0h0m-30 0h0m-30 0h0m8 2h0m20 0h0m40 0h0m20 0h0m20 0h0m40 0h0m40 0h0m80 0h0m40 0h0m40 0h0m40 0h0m-290 1h0m-48 0h0m-24 0h0m-2 2h0m30 0h0m29 0h0m30 0h0m29 0h0m30 0h0m29 0h0m59 0h0m59 0h0m-27 3h0m-39 0h0m-39 0h0m-39 0h0m-38 0h0m-39 0h0m-39 0h0m-38 0h0m-2 1h0m29 0h0m115 0h0m57 0h0m29 0h0m-117 1h0m-119 4h0m29 0h0m9 0h0m19 0h0m19 0h0m9 0h0m28 0h0m28 0h0m10 0h0m18 0h0m19 0h0m38 0h0m37 0h0m19 0h0m113 0h0m18 0h0m-372 3h0m-22 0h0m32 1h0m27 0h0m28 0h0m27 0h0m28 0h0m124 1h0m-36 0h0m-37 0h0m-72 0h0m-37 0h0m-36 0h0m-37 0h0m-36 0h0m64 1h0m364 2h0m-108 0h0m-54 0h0m-54 0h0m-27 0h0m-27 0h0m-54 0h0m-27 0h0m-26 0h0m-54 0h0m75 1h0m240 1h0m-35 0h0m-36 0h0m-35 0h0m-35 0h0m-71 0h0m-36 0h0m-35 0h0m-35 0h0m-2 1h0m79 0h0m278 4h0m-52 0h0m-51 0h0m-17 0h0m-35 0h0m-34 0h0m-17 0h0m-18 0h0m-8 0h0m-26 0h0m-34 0h0m-18 0h0m-17 0h0m-8 0h0m20 3h0m25 0h0m26 0h0m25 0h0m50 0h0m51 0h0m39 2h0m-100 0h0m-29 0h0m-5 0h0m-33 0h0m-2 0h0m-32 0h0m-33 0h0m-12 2h0m25 0h0m50 0h0m49 0h0m25 0h0m25 0h0m49 0h0m50 0h0m49 0h0m50 0h0m-138 2h0m-33 0h0m-33 0h0m-32 0h0m-33 0h0m-32 0h0m-33 0h0m-33 0h0m15 1h0m73 0h0m-64 1h0m-37 2h0m8 0h0m15 0h0m16 0h0m32 0h0m32 0h0m16 0h0m24 0h0m23 0h0m48 0h0m48 0h0m47 0h0m48 0h0m-291 3h0m-24 0h0m-40 1h0m31 0h0m31 0h0m31 0h0m31 0h0m124 0h0m-187 1h0m-19 0h0m-29 1h0m46 0h0m45 0h0m46 0h0m46 0h0m46 0h0m46 0h0m46 0h0m46 0h0m-174 2h0m-121 0h0m-30 0h0m-30 0h0m-30 0h0m13 1h0m113 0h0m724 2h0m-398 0h0m-177 0h0m-89 0h0m-44 0h0m-29 0h0m-15 0h0m-15 0h0m-29 0h0m-30 0h0m-15 0h0m10 4h0m29 0h0m86 0h0m252 1h0m-42 0h0m-86 0h0m-43 0h0m-42 0h0m-43 0h0m-43 0h0m-42 0h0m-43 0h0m68 2h0m28 0h0m28 0h0m323 3h0m-165 0h0m-41 0h0m-42 0h0m-27 0h0m-14 0h0m-41 0h0m-42 0h0m-41 0h0m-32 3h0m54 0h0m26 0h0m108 0h0m116 1h0m-40 0h0m-40 0h0m-40 0h0m-40 0h0m-40 0h0m-40 0h0m-40 0h0m-29 2h0m26 0h0m80 0h0m79 0h0m69 2h0m-39 0h0m-39 0h0m-25 0h0m-13 0h0m-39 0h0m-26 0h0m-13 0h0m-38 0h0m-5 3h0m25 0h0m123 1h0m-38 0h0m-37 0h0m-38 0h0m-38 0h0m-2 1h0m25 0h0m25 0h0m25 0h0m74 0h0m138 3h0m-73 0h0m-72 0h0m-37 0h0m-36 0h0m-25 0h0m-12 0h0m-36 0h0m19 2h0m72 0h0m186 1h0m-36 0h0m-35 0h0m-35 0h0m-36 0h0m-35 0h0m-36 0h0m-35 0h0m-35 0h0m28 3h0m35 0h0m34 0h0m34 0h0m69 0h0m35 0h0m-132 2h0m-68 0h0m-13 1h0m33 0h0m34 0h0m33 0h0m67 0h0m120 3h0m-65 0h0m-66 0h0m-32 0h0m-33 0h0m-65 0h0m-33 0h0m-5 3h0m31 0h0m32 0h0m32 0h0m302 3h0m-124 0h0m-62 0h0m-62 0h0m-31 0h0m-31 0h0m-21 0h0m-41 0h0m-31 0h0m-5 2h0m30 0h0m60 0h0m61 0h0m109 2h0m-59 0h0m-29 0h0m-30 0h0m-59 0h0m-29 0h0m-30 0h0m-7 3h0m2 0h0m29 0h0m28 0h0m58 0h0m217 2h0m-56 0h0m-56 0h0m-57 0h0m-28 0h0m-84 0h0m-28 0h0m-29 0h0m-5 2h0m111 0h0m154 2h0m-108 0h0m-54 0h0m-53 0h0m-27 0h0m-27 0h0m21 2h0m27 0h0m26 0h0m278 1h0m-52 0h0m-51 0h0m-103 0h0m-52 0h0m-52 0h0m-25 0h0m15 4h0m50 0h0m49 0h0m50 0h0m49 0h0m50 0h0m99 0h0m-303 1h0m-73 0h0m19 2h0m24 0h0m24 0h0m24 0h0m24 0h0m47 0h0m48 0h0m48 0h0m28 3h0m-92 0h0m-46 0h0m-46 0h0m-45 0h0m-46 0h0m86 1h0m171 2h0m-89 0h0m-44 0h0m-22 0h0m-22 0h0m-44 0h0m-45 0h0m-7 2h0m43 0h0m42 0h0m43 0h0m43 0h0m85 0h0m26 2h0m-41 0h0m-42 0h0m-41 0h0m-41 0h0m-42 0h0m-41 0h0m-8 3h0m40 0h0m40 0h0m80 0h0m160 0h0m-95 2h0m-39 0h0m-39 0h0m-38 0h0m-39 0h0m-39 0h0m-38 0h0m-8 2h0m38 0h0m38 0h0m37 0h0m38 0h0m-11 1h0m-73 0h0m-37 0h0m-36 0h0m29 2h0m35 0h0m36 0h0m35 0h0m36 0h0m35 0h0m-81 2h0m-34 0h0m-75 1h0m33 0h0m67 0h0m-9 2h0m-65 0h0m-33 0h0m-5 1h0m31 0h0m32 0h0m64 0h0m31 0h0m-164 1h0m-5 2h0m90 0h0m23 1h0m-94 1h0m57 0h0m55 4h0m-132 0h0m51 4h0m-26 7h0" stroke-width="5.80"/><path d="M326 359h0m1 0h0m1 0h0m1 0h0m1 0h0m1 0h0m1 0h0m2 0h0m1 0h0m1 0h0m2 0h0m1 0h0m1 0h0m2 0h0m1 0h0m2 0h0m1 0h0m2 0h0m2 0h0m1 0h0m1 0h0m1 0h0m1 0h0m1 0h0m1 0h0m1 0h0m1 0h0m1 0h0m1 0h0m3 0h0m3 0h0m1 0h0m1 0h0m1 0h0m1 0h0m2 0h0m1 0h0m1 0h0m1 0h0m1 0h0m1 0h0m1 0h0m1 0h0m1 0h0m1 0h0m1 0h0m1 0h0m1 0h0m1 0h0m1 0h0m1 0h0m1 0h0m1 0h0m2 0h0m1 0h0m1 0h0m1 0h0m1 0h0m1 0h0m1 0h0m1 0h0m1 0h0m1 0h0m1 0h0m1 0h0m1 0h0m1 0h0m1 0h0m1 0h0m1 0h0m1 0h0m1 0h0m1 0h0m1 0h0m1 0h0m1 0h0m1 0h0m2 0h0m1 0h0m1 0h0m1 0h0m1 0h0m1 0h0m4 0h0m4 0h0m1 0h0m2 0h0m1 0h0m1 0h0m1 0h0m1 0h0m1 0h0m1 0h0m1 0h0m2 0h0m1 0h0m1 0h0m1 0h0m1 0h0m1 0h0m1 0h0m1 0h0m1 0h0m1 0h0m1 0h0m1 0h0m1 0h0m2 0h0m1 0h0m1 0h0m1 0h0m1 0h0m1 0h0m2 0h0m2 0h0m1 0h0m1 0h0m1 0h0m2 0h0m2 0h0m1 0h0m1 0h0m1 0h0m1 0h0m1 0h0m1 0h0m1 0h0m1 0h0m1 0h0m1 0h0m1 0h0m1 0h0m1 0h0m1 0h0m2 0h0m2 0h0m1 0h0m1 0h0m1 0h0m2 0h0m1 0h0m1 0h0m2 0h0m1 0h0m1 0h0m1 0h0m1 0h0m1 0h0m1 0h0m1 0h0m1 0h0m1 0h0m1 0h0m1 0h0m2 0h0m1 0h0m1 0h0m1 0h0m1 0h0m1 0h0m1 0h0m1 0h0m1 0h0m1 0h0m1 0h0m2 0h0m1 0h0m4 0h0m5 0h0m1 0h0m1 0h0m1 0h0m1 0h0m1 0h0m1 0h0m1 0h0m1 0h0m1 0h0m1 0h0m1 0h0m1 0h0m1 0h0m1 0h0m1 0h0m1 0h0m1 0h0m1 0h0m1 0h0m2 0h0m1 0h0m1 0h0m1 0h0m1 0h0m1 0h0m1 0h0m1 0h0m1 0h0m1 0h0m1 0h0m2 0h0m1 0h0m1 0h0m1 0h0m1 0h0m1 0h0m1 0h0m1 0h0m1 0h0m2 0h0m1 0h0m1 0h0m2 0h0m2 0h0m1 0h0m1 0h0m1 0h0m1 0h0m1 0h0m1 0h0m1 0h0m1 0h0m1 0h0m1 0h0m2 0h0m1 0h0m1 0h0m1 0h0m1 0h0m1 0h0m1 0h0m1 0h0m1 0h0m1 0h0m1 0h0m1 0h0m1 0h0m1 0h0m4 0h0m3 0h0m2 0h0m1 0h0m1 0h0m1 0h0m2 0h0m1 0h0m1 0h0m1 0h0m1 0h0m1 0h0m1 0h0m1 0h0m1 0h0m1 0h0m1 0h0m2 0h0m2 0h0m1 0h0m1 0h0m1 0h0m1 0h0m1 0h0m1 0h0m1 0h0m1 0h0m1 0h0m2 0h0m2 0h0m1 0h0m1 0h0m1 0h0m1 0h0m2 0h0m1 0h0m1 0h0m1 0h0m3 0h0m1 0h0m1 0h0m1 0h0m1 0h0m2 0h0m3 0h0m1 0h0m1 0h0m1 0h0m1 0h0m1 0h0m1 0h0m1 0h0m1 0h0m1 0h0m2 0h0m1 0h0m1 0h0m1 0h0m1 0h0m1 0h0m1 0h0m1 0h0m1 0h0m1 0h0m1 0h0m1 0h0m1 0h0m1 0h0m1 0h0m1 0h0m1 0h0m2 0h0m1 0h0m1 0h0m2 0h0m1 0h0m1 0h0m1 0h0m2 0h0m1 0h0m1 0h0m1 0h0m2 0h0m1 0h0m2 0h0m2 0h0m4 0h0m3 0h0m11 0h0m12 0h0m2 0h0m1 0h0m1 0h0m2 0h0m2 0h0m1 0h0m1 0h0m2 0h0m3 0h0m2 0h0m3 0h0m2 0h0m2 0h0m2 0h0m3 0h0m1 0h0m1 0h0m1 0h0m1 0h0m1 0h0m1 0h0m4 0h0m5 0h0m4 0h0m2 0h0m2 0h0m2 0h0m3 0h0m2 0h0m1 0h0m4 0h0m1 0h0m4 0h0m1 0h0m6 0h0m3 0h0m1 0h0m3 0h0m1 0h0m2 0h0m3 0h0m2 0h0m2 0h0m2 0h0m2 0h0m1 0h0m1 0h0m3 0h0m1 0h0m1 0h0m1 0h0m2 0h0m5 0h0m7 0h0m1 0h0m2 0h0m3 0h0m2 0h0m1 0h0m3 0h0m1 0h0m1 0h0m6 0h0m4 0h0m5 0h0m3 0h0m1 0h0m1 0h0m1 0h0m3 0h0m4 0h0m1 0h0m3 0h0m5 0h0m2 0h0m2 0h0m2 0h0m2 0h0m3 0h0m1 0h0m3 0h0m1 0h0m8 0h0m12 0h0m2 0h0m1 0h0m4 0h0m1 0h0m2 0h0m2 0h0m2 0h0m2 0h0m1 0h0m3 0h0m4 0h0m6 0h0m4 0h0m3 0h0m4 0h0m6 0h0m4 0h0m6 0h0m3 0h0m1 0h0m2 0h0m5 0h0m1 0h0m2 0h0m2 0h0m2 0h0m3 0h0m1 0h0m2 0h0m2 0h0m2 0h0m1 0h0m5 0h0m7 0h0m6 0h0m1 0h0m3 0h0m2 0h0m5 0h0m2 0h0m2 0h0m1 0h0m1 0h0m1 0h0m1 0h0m3 0h0m2 0h0m2 0h0m1 0h0m1 0h0m2 0h0m2 0h0m2 0h0m9 0h0m1 0h0m5 0h0m5 0h0m3 0h0m4 0h0m2 0h0m2 0h0m2 0h0m5 0h0m3 0h0m1 0h0m3 0h0m1 0h0m1 0h0m1 0h0m9 0h0m11 0h0m2 0h0m3 0h0m1 0h0m3 0h0m4 0h0m5 0h0m3 0h0m2 0h0m1 0h0m2 0h0m4 0h0m2 0h0m2 0h0m6 0h0m3 0h0m6 0h0m3 0h0m6 0h0m3 0h0m1 0h0m3 0h0m3 0h0m1 0h0m2 0h0m2 0h0m7 0h0m1 0h0m2 0h0m1 0h0m3 0h0m1 0h0m4 0h0m4 0h0m2 0h0m2 0h0m2 0h0m1 0h0m4 0h0m1 0h0m3 0h0m2 0h0m1 0h0m4 0h0m4 0h0m2 0h0m2 0h0m9 0h0m6 0h0m5 0h0m2 0h0m8 0h0m2 0h0m2 0h0m1 0h0m1 0h0m1 0h0m1 0h0m2 0h0m4 0h0m1 0h0m24 0h0" stroke-width="4.40"/><path class="iso" d="M957 457h0m103 1h0m-21 0h0m-294 0h0m155 1h0m-75 1h0m22 1h0m438 2h0m-86 0h0m-93 0h0m-38 0h0m-65 0h0m-10 0h0m-81 0h0m-30 0h0m-15 0h0m-8 0h0m-5 0h0m33 6h0m152 0h0m-89 1h0m-102 0h0m-19 1h0m237 0h0m-331 1h0m473 1h0m12 0h0m-226 1h0m-99 0h0m-53 1h0m364 2h0m-25 0h0m-99 0h0m-25 0h0m-33 0h0m-66 0h0m-17 0h0m-143 1h0m417 1h0m-340 0h0m-52 0h0m-18 0h0m267 2h0m21 0h0m66 0h0m65 0h0m-134 1h0m94 1h0m-315 1h0m-112 0h0m35 1h0m98 0h0m38 0h0m88 0h0m242 0h0m-207 1h0m-58 0h0m-79 0h0m-101 1h0m29 0h0m495 0h0m-514 1h0m-57 1h0m398 0h0m-257 3h0m-57 0h0m208 1h0m36 0h0m148 1h0m-470 0h0m138 1h0m-97 1h0m15 1h0m51 0h0m73 0h0m185 0h0m217 0h0m-388 2h0m-185 2h0m160 0h0m195 2h0m-231 0h0m-17 1h0m68 0h0m109 1h0m-194 0h0m-10 0h0m-51 0h0m28 1h0m-13 1h0m25 2h0m460 3h0m-8 0h0m-14 0h0m-52 0h0m-75 0h0m-102 0h0m-94 0h0m-24 0h0m-12 0h0m-81 0h0m-44 0h0m299 4h0m-46 1h0m-29 0h0m-136 0h0m-168 0h0m191 2h0m159 0h0m139 0h0m-201 3h0m-85 0h0m-10 1h0m-174 1h0m555 1h0m-427 1h0m-53 1h0m34 0h0m167 0h0m-218 1h0m30 3h0m69 0h0m29 0h0m54 0h0m27 0h0m303 0h0m-433 2h0m381 1h0m-37 1h0m-215 0h0m-13 0h0m89 2h0m54 0h0m90 0h0m17 0h0m108 3h0m-320 0h0m-40 0h0m-119 0h0m-40 0h0m-53 1h0m413 0h0m-44 2h0m-192 0h0m-78 0h0m-133 3h0m529 2h0m-155 0h0m-144 0h0m-26 0h0m-93 0h0m-14 0h0m509 3h0m-329 2h0m-125 1h0m61 0h0m356 2h0m-38 0h0m-75 0h0m-75 0h0m-188 0h0m-137 0h0m30 2h0m40 1h0m60 2h0m420 2h0m-218 0h0m-110 0h0m-206 0h0m-165 0h0m102 2h0m50 1h0m-63 1h0m86 0h0m48 0h0m47 0h0m72 0h0m24 0h0m47 0h0m-120 2h0m-174 2h0m73 0h0m162 1h0m-29 0h0m-25 0h0m-138 0h0m69 4h0m21 0h0m7 0h0m73 0h0m-142 3h0m149 1h0m226 1h0m-478 0h0m43 1h0m402 0h0m167 2h0m-44 0h0m-177 0h0m-44 0h0m-45 0h0m-88 0h0m-44 0h0m-59 2h0m338 2h0m-326 0h0m-65 0h0m21 1h0m69 1h0m-54 0h0m261 1h0m204 1h0m-203 0h0m-125 1h0m32 0h0m286 0h0m-518 1h0m14 1h0m494 0h0m-133 4h0m-104 0h0m-12 0h0m-221 0h0m-45 0h0m-5 2h0m593 2h0m-510 0h0m178 1h0m94 2h0m-139 1h0m318 1h0m-59 0h0m-177 0h0m-59 0h0m-234 1h0m27 2h0m49 1h0m166 1h0m-139 0h0m-125 1h0m95 2h0m102 1h0m38 0h0m65 0h0m89 3h0m-130 0h0m-227 1h0m323 1h0m-71 2h0m218 1h0m-53 0h0m-108 0h0m-108 0h0m-233 0h0m258 1h0m185 0h0m167 2h0m-35 0h0m-283 0h0m-71 0h0m-142 0h0m-35 0h0m230 2h0m157 0h0m149 0h0m-85 2h0m-65 0h0m-88 0h0m-199 3h0m196 0h0m-332 2h0m463 1h0m-108 1h0m-123 0h0m-22 1h0m-93 2h0m-73 0h0m-3 1h0m194 0h0m291 0h0m-161 2h0m-79 0h0m-16 0h0m-277 0h0m31 2h0m30 0h0m324 1h0m-188 0h0m-113 1h0m62 0h0m-72 1h0m31 1h0m46 0h0m92 0h0m125 2h0m-181 0h0m-60 0h0m-17 0h0m-44 0h0m149 1h0m395 3h0m-177 0h0m-76 0h0m195 1h0m-507 1h0m-87 0h0m105 1h0m14 0h0m130 0h0m190 2h0m-342 0h0m513 1h0m-151 3h0m-137 0h0m-21 0h0m-319 2h0m61 0h0m39 0h0m210 3h0m-39 0h0m-40 0h0m-37 0h0m-83 0h0m-73 1h0m36 1h0m-49 2h0m335 0h0m68 0h0m87 0h0m116 0h0m39 0h0m-536 1h0m-71 1h0m42 0h0m12 0h0m224 0h0m-9 1h0m-187 0h0m-21 4h0m230 0h0m98 0h0m72 0h0m-44 2h0m-337 1h0m173 1h0m-223 0h0m-25 0h0m41 1h0m355 2h0m-310 0h0m-20 1h0m510 2h0m-621 0h0m-47 1h0m525 2h0m-25 0h0m-18 0h0m-114 0h0m-32 0h0m-98 0h0m-33 0h0m-79 0h0m-62 0h0m-30 1h0m152 1h0m-26 0h0m240 1h0m263 1h0m-282 0h0m-100 0h0m-51 1h0m31 0h0m31 0h0m154 0h0m124 0h0m62 0h0m-391 2h0m-91 0h0m-55 1h0m60 0h0m480 2h0m-147 0h0m-89 0h0m-118 0h0m-284 1h0m135 1h0m-101 0h0m25 2h0m244 0h0m141 0h0m28 0h0m225 0h0m-64 2h0m-459 0h0m-143 0h0m56 2h0m179 0h0m270 0h0m-494 1h0m67 3h0m46 0h0m129 0h0m103 0h0m181 0h0m52 0h0m77 3h0m-347 0h0m-99 0h0m-161 2h0m417 1h0m-2 0h0m-94 0h0m-190 0h0m-48 0h0m150 2h0m191 1h0m-184 0h0m-138 0h0m-107 2h0m65 0h0m395 0h0m74 0h0m-409 1h0m-29 0h0m-136 1h0m304 0h0m44 0h0m252 0h0m-119 1h0m-85 0h0m-71 0h0m-100 0h0m-43 0h0m-128 0h0m15 2h0m441 2h0m-508 0h0m91 1h0m40 0h0m40 0h0m119 0h0m240 0h0m80 0h0m-408 1h0m-181 0h0m-59 0h0m185 1h0m193 0h0m-47 1h0m-371 0h0m99 2h0m265 1h0m-110 0h0m-54 0h0m-18 0h0m121 1h0m425 0h0m0 2h0m-516 0h0m-129 1h0m478 1h0m-201 0h0m-201 0h0m-26 0h0m-90 1h0m131 0h0m98 0h0m195 0h0m-123 1h0m-283 0h0m244 3h0m121 0h0m-347 1h0m102 1h0m392 1h0m-506 1h0m262 0h0m211 1h0m-179 0h0m-213 1h0m554 1h0m-606 0h0m-39 0h0m-129 0h0m181 3h0m509 3h0m-377 0h0m-4 1h0m235 0h0m-374 1h0m-63 0h0m124 1h0m19 1h0m-60 1h0m149 0h0m-177 1h0m-38 0h0m-45 0h0m83 1h0m-7 1h0m133 1h0m306 1h0m-71 0h0m-413 1h0m9 0h0m17 1h0m-37 0h0m-26 2h0m54 0h0m660 1h0m-625 1h0m335 0h0m111 1h0m-546 0h0m-106 2h0m153 2h0m-165 0h0m-34 0h0m-28 1h0m95 0h0m87 0h0m341 0h0m101 0h0" stroke-width="4.20"/><path class="iso" d="M749 463h0m234 0h0m96 0h0m172 0h0m-244 14h0m-142 4h0m98 0h0m65 0h0m326 0h0m-155 4h0m-155 0h0m-238 4h0m24 0h0m95 0h0m429 0h0m-458 4h0m-30 1h0m302 3h0m-62 0h0m-62 0h0m-31 0h0m-209 4h0m367 0h0m-291 2h0m-86 9h0m65 0h0m97 0h0m162 0h0m-311 6h0m-72 2h0m34 0h0m201 2h0m-86 0h0m-121 3h0m141 0h0m56 0h0m169 0h0m225 6h0m-82 0h0m-83 0h0m-320 6h0m54 0h0m54 0h0m-278 4h0m164 3h0m130 4h0m-165 0h0m38 8h0m92 2h0m-50 0h0m-49 0h0m-112 5h0m316 0h0m145 0h0m-235 4h0m-191 0h0m-30 3h0m107 0h0m426 6h0m-137 0h0m-138 0h0m-275 8h0m169 2h0m-130 0h0m189 2h0m49 4h0m-85 0h0m-43 0h0m-128 0h0m474 7h0m-395 6h0m106 3h0m-51 3h0m-39 0h0m-22 6h0m131 0h0m113 0h0m281 0h0m-602 11h0m52 4h0m-95 3h0m76 2h0m74 2h0m-50 0h0m-74 2h0m110 3h0m-31 1h0m350 0h0m53 6h0m-46 0h0m-82 6h0m177 0h0m-40 5h0m-470 0h0m91 1h0m507 3h0m-82 0h0m-166 0h0m-289 0h0m-82 0h0m-20 5h0m562 4h0m-155 0h0m-194 0h0m-77 0h0m-135 3h0m638 4h0m-364 0h0m-118 7h0m69 0h0m138 0h0m138 0h0m-566 3h0m312 3h0m130 0h0m-88 2h0m-318 0h0m667 3h0m-574 2h0m-116 0h0m-47 3h0m354 0h0m29 0h0m-96 4h0m-238 2h0m56 4h0m64 2h0m52 0h0m21 3h0m-77 3h0m41 6h0m-24 2h0m18 3h0m85 3h0m-131 5h0m-160 1h0m89 2h0m-7 11h0" stroke-width="4.80"/><path class="iso" d="M735 463h0m103 0h0m34 0h0m69 0h0m69 0h0m34 0h0m104 0h0m206 0h0m-495 14h0m-222 4h0m196 0h0m65 0h0m361 8h0m-191 0h0m-95 0h0m-95 0h0m-19 8h0m495 15h0m-88 0h0m-89 0h0m-88 0h0m-89 0h0m-88 0h0m-30 0h0m-59 0h0m-59 0h0m-29 0h0m21 10h0m185 9h0m-82 0h0m-144 9h0m200 0h0m439 8h0m-155 0h0m-155 0h0m-77 0h0m-77 0h0m-52 0h0m-26 0h0m-26 0h0m58 15h0m146 0h0m364 13h0m-137 0h0m-138 0h0m-138 0h0m-69 0h0m-68 0h0m-69 0h0m32 12h0m66 0h0m65 0h0m130 0h0m-229 4h0m-2 7h0m20 0h0m42 0h0m62 0h0m62 0h0m123 0h0m-224 9h0m-59 0h0m-32 9h0m113 0h0m112 0h0m113 0h0m113 0h0m-471 5h0m45 3h0m53 0h0m382 7h0m-103 0h0m-104 0h0m-103 0h0m-103 0h0m-103 0h0m-66 9h0m685 4h0m-95 0h0m-191 0h0m-95 0h0m-95 0h0m-96 0h0m-143 0h0m184 12h0m89 0h0m88 0h0m189 9h0m-248 0h0m-82 0h0m-83 0h0m-83 0h0m3 9h0m39 0h0m77 0h0m78 0h0m77 0h0m-214 3h0m91 4h0m73 0h0m146 0h0m-53 7h0m-206 0h0m-69 0h0m98 6h0m26 5h0m-62 0h0m-92 5h0m59 0h0m59 0h0m59 0h0m-35 4h0m-139 4h0m54 0h0m54 0h0m53 0h0m-186 4h0m76 3h0m-113 9h0m-35 5h0m124 0h0m-138 11h0" stroke-width="5.80"/><path d="M338 457h0m34 0h0m12 0h0m4 0h0m19 0h0m7 0h0m23 0h0m10 0h0m31 0h0m47 0h0m24 0h0m12 0h0m13 0h0m105 0h0m21 0h0m11 0h0m59 0h0m23 0h0m-27 1h0m-3 0h0m-81 0h0m-21 0h0m-21 0h0m-25 0h0m-26 0h0m-16 0h0m-2 0h0m-15 0h0m-21 0h0m-20 0h0m-19 0h0m-16 0h0m-25 0h0m-76 0h0m-12 0h0m-4 0h0m-10 0h0m-7 0h0m-1 0h0m-12 1h0m9 0h0m9 0h0m3 0h0m15 0h0m25 0h0m5 0h0m4 0h0m9 0h0m17 0h0m21 0h0m34 0h0m33 0h0m8 0h0m8 0h0m1 0h0m14 0h0m2 0h0m1 0h0m12 0h0m4 0h0m2 0h0m9 0h0m4 0h0m4 0h0m22 0h0m13 0h0m2 0h0m15 0h0m40 0h0m4 0h0m29 0h0m1 0h0m45 0h0m34 0h0m26 0h0m-7 1h0m-54 0h0m-42 0h0m-14 0h0m-42 0h0m-60 0h0m-31 0h0m-13 0h0m-45 0h0m-4 0h0m-10 0h0m-12 0h0m-3 0h0m-13 0h0m-4 0h0m-4 0h0m-4 0h0m-1 0h0m-3 0h0m-5 0h0m-7 0h0m-63 0h0m-6 0h0m-4 0h0m-3 0h0m-2 0h0m-11 0h0m-5 0h0m-9 0h0m-2 0h0m-2 1h0m12 0h0m5 0h0m9 0h0m10 0h0m54 0h0m6 0h0m12 0h0m8 0h0m16 0h0m25 0h0m1 0h0m10 0h0m12 0h0m9 0h0m39 0h0m47 0h0m28 0h0m6 0h0m3 0h0m45 0h0m7 0h0m138 0h0m61 0h0m-5 2h0m-78 0h0m-2 0h0m-16 0h0m-3 0h0m-27 0h0m-3 0h0m-3 0h0m-14 0h0m-34 0h0m-20 0h0m-12 0h0m-35 0h0m-19 0h0m-4 0h0m-2 0h0m-10 0h0m-25 0h0m-7 0h0m-1 0h0m-1 0h0m-13 0h0m-5 0h0m-9 0h0m-1 0h0m-2 0h0m-1 0h0m-3 0h0m-4 0h0m-19 0h0m-2 0h0m-1 0h0m-2 0h0m-1 0h0m-3 0h0m-2 0h0m-5 0h0m-19 0h0m-1 0h0m-9 0h0m-7 0h0m-11 0h0m-16 0h0m-3 0h0m-1 0h0m-4 0h0m-13 0h0m-6 0h0m-3 0h0m-6 0h0m-1 0h0m-4 0h0m-2 0h0m-1 0h0m-10 0h0m-6 0h0m-18 0h0m-21 0h0m-3 0h0m-1 0h0m-2 0h0m7 3h0m7 0h0m14 0h0m27 0h0m18 0h0m3 0h0m14 0h0m4 0h0m11 0h0m5 0h0m17 0h0m12 0h0m33 0h0m9 0h0m11 0h0m10 0h0m22 0h0m3 0h0m1 0h0m9 0h0m15 0h0m1 0h0m82 0h0m3 0h0m4 0h0m22 0h0m92 1h0m-112 0h0m-17 0h0m-41 0h0m-6 0h0m-20 0h0m-1 0h0m-14 0h0m-3 0h0m-15 0h0m-8 0h0m-1 0h0m-14 0h0m-1 0h0m-12 0h0m-12 0h0m-18 0h0m-11 0h0m-3 0h0m-4 0h0m-3 0h0m-21 0h0m-2 0h0m-8 0h0m-2 0h0m-4 0h0m-3 0h0m-5 0h0m-12 0h0m-5 0h0m-4 0h0m-11 0h0m-8 0h0m-23 0h0m-2 0h0m-18 0h0m-1 0h0m-10 0h0m-2 0h0m4 1h0m8 0h0m12 0h0m14 0h0m28 0h0m9 0h0m6 0h0m8 0h0m8 0h0m5 0h0m11 0h0m10 0h0m5 0h0m25 0h0m7 0h0m12 0h0m1 0h0m9 0h0m27 0h0m18 0h0m8 0h0m6 0h0m23 0h0m5 0h0m19 0h0m31 0h0m13 0h0m6 0h0m22 0h0m16 0h0m17 0h0m18 0h0m62 0h0m13 0h0m223 0h0m-232 1h0m-53 0h0m-52 0h0m-20 0h0m-75 0h0m-10 0h0m-37 0h0m-9 0h0m-21 0h0m-39 0h0m-4 0h0m-32 0h0m-13 0h0m-19 0h0m-10 0h0m-5 0h0m-17 0h0m-4 0h0m-10 0h0m-7 0h0m-5 0h0m-6 0h0m-2 0h0m-20 0h0m-13 1h0m4 0h0m12 0h0m11 0h0m48 0h0m9 0h0m32 0h0m36 0h0m18 0h0m12 0h0m20 0h0m4 0h0m11 0h0m11 0h0m34 0h0m51 0h0m6 0h0m26 0h0m7 0h0m23 0h0m21 0h0m1 0h0m24 0h0m33 0h0m2 0h0m25 1h0m-45 0h0m-5 0h0m-117 0h0m-27 0h0m-8 0h0m-14 0h0m-24 0h0m-7 0h0m-14 0h0m-13 0h0m-14 0h0m-13 0h0m-4 0h0m-10 0h0m-19 0h0m-12 0h0m-23 0h0m-13 0h0m-7 0h0m-20 0h0m-13 0h0m-20 0h0m-11 0h0m-23 0h0m-4 1h0m32 0h0m35 0h0m3 0h0m4 0h0m39 0h0m14 0h0m17 0h0m4 0h0m12 0h0m11 0h0m10 0h0m25 0h0m16 0h0m11 0h0m191 0h0m101 1h0m-63 0h0m-1 0h0m-3 0h0m-67 0h0m-50 0h0m-22 0h0m-21 0h0m-19 0h0m-17 0h0m-2 0h0m-20 0h0m-33 0h0m-27 0h0m-27 0h0m-8 0h0m-15 0h0m-14 0h0m-10 0h0m-8 0h0m-20 0h0m-11 0h0m-3 0h0m-2 0h0m-12 0h0m-2 0h0m-3 0h0m-21 0h0m-10 0h0m34 1h0m17 0h0m11 0h0m2 0h0m3 0h0m12 0h0m42 0h0m3 0h0m23 0h0m28 0h0m12 0h0m14 0h0m43 0h0m18 0h0m25 0h0m20 0h0m7 0h0m100 0h0m13 0h0m27 0h0m120 0h0m-2 1h0m-139 0h0m-17 0h0m-9 0h0m-20 0h0m-15 0h0m-23 0h0m-48 0h0m-40 0h0m-10 0h0m-4 0h0m-30 0h0m-1 0h0m-21 0h0m-1 0h0m-50 0h0m-23 0h0m-21 0h0m-18 0h0m-13 0h0m-43 0h0m-8 0h0m-10 0h0m-20 1h0m16 0h0m4 0h0m23 0h0m24 0h0m10 0h0m17 0h0m4 0h0m4 0h0m5 0h0m1 0h0m4 0h0m37 0h0m8 0h0m17 0h0m10 0h0m15 0h0m12 0h0m19 0h0m10 0h0m49 0h0m27 0h0m21 0h0m46 0h0m122 1h0m-87 0h0m-29 0h0m-33 0h0m-71 0h0m-65 0h0m-4 0h0m-9 0h0m-16 0h0m-41 0h0m-11 0h0m-17 0h0m-17 0h0m-9 0h0m-37 0h0m-32 0h0m-26 0h0m4 1h0m5 0h0m1 0h0m4 0h0m12 0h0m10 0h0m12 0h0m7 0h0m4 0h0m11 0h0m7 0h0m4 0h0m9 0h0m35 0h0m1 0h0m2 0h0m16 0h0m6 0h0m3 0h0m1 0h0m44 0h0m15 0h0m20 0h0m13 0h0m22 0h0m31 0h0m38 0h0m77 0h0m19 1h0m-56 0h0m-41 0h0m-16 0h0m-42 0h0m-1 0h0m-20 0h0m-39 0h0m-24 0h0m-4 0h0m-31 0h0m-15 0h0m-12 0h0m-34 0h0m-37 0h0m-10 0h0m-10 0h0m-1 0h0m-23 0h0m-10 1h0m9 0h0m27 0h0m31 0h0m6 0h0m25 0h0m13 0h0m8 0h0m15 0h0m3 0h0m4 0h0m15 0h0m4 0h0m11 0h0m31 0h0m4 0h0m2 0h0m16 0h0m8 0h0m11 0h0m1 0h0m9 0h0m10 0h0m55 0h0m65 0h0m70 0h0m-44 1h0m-11 0h0m-20 0h0m-35 0h0m-59 0h0m-6 0h0m-17 0h0m-5 0h0m-5 0h0m-29 0h0m-6 0h0m-3 0h0m-60 0h0m-62 0h0m-3 0h0m-10 0h0m-11 0h0m-2 0h0m-10 0h0m-42 0h0m-17 1h0m12 0h0m21 0h0m2 0h0m12 0h0m28 0h0m19 0h0m8 0h0m2 0h0m10 0h0m1 0h0m1 0h0m22 0h0m25 0h0m9 0h0m10 0h0m16 0h0m13 0h0m17 0h0m4 0h0m10 0h0m41 0h0m28 0h0m252 0h0m-198 1h0m-48 0h0m-4 0h0m-17 0h0m-16 0h0m-121 0h0m-5 0h0m-13 0h0m-58 0h0m-4 0h0m-14 0h0m-3 0h0m-23 0h0m-9 0h0m-17 0h0m-1 0h0m-11 0h0m-3 1h0m15 0h0m6 0h0m2 0h0m66 0h0m7 0h0m3 0h0m8 0h0m6 0h0m15 0h0m12 0h0m32 0h0m15 0h0m30 0h0m41 0h0m93 0h0m479 1h0m-310 0h0m-97 0h0m-39 0h0m-32 0h0m-5 0h0m-32 0h0m-18 0h0m-29 0h0m-33 0h0m-6 0h0m-29 0h0m-12 0h0m-2 0h0m-15 0h0m-12 0h0m-6 0h0m-5 0h0m-12 0h0m-14 0h0m-16 0h0m-4 0h0m-10 0h0m-2 0h0m-22 0h0m-3 0h0m-17 0h0m-18 0h0m-4 0h0m-3 0h0m-16 0h0m18 1h0m2 0h0m14 0h0m5 0h0m3 0h0m48 0h0m2 0h0m22 0h0m7 0h0m17 0h0m8 0h0m16 0h0m25 0h0m9 0h0m17 0h0m19 0h0m27 0h0m54 0h0m30 0h0m12 0h0m72 0h0m11 0h0m-33 1h0m-3 0h0m-49 0h0m-17 0h0m-46 0h0m-4 0h0m-20 0h0m-53 0h0m-4 0h0m-13 0h0m-24 0h0m-11 0h0m-17 0h0m-4 0h0m-14 0h0m-32 0h0m-3 0h0m-26 0h0m-26 0h0m-35 0h0m-13 0h0m3 1h0m13 0h0m7 0h0m13 0h0m2 0h0m19 0h0m11 0h0m10 0h0m2 0h0m13 0h0m1 0h0m2 0h0m15 0h0m7 0h0m1 0h0m6 0h0m74 0h0m21 0h0m38 0h0m1 0h0m23 0h0m20 0h0m46 0h0m37 0h0m8 0h0m58 0h0m66 1h0m-32 0h0m-86 0h0m-3 0h0m-14 0h0m-48 0h0m-3 0h0m-11 0h0m-19 0h0m-54 0h0m-3 0h0m-5 0h0m-3 0h0m-14 0h0m-14 0h0m-5 0h0m-12 0h0m-5 0h0m-3 0h0m-2 0h0m-3 0h0m-28 0h0m-18 0h0m-18 0h0m-1 0h0m-3 0h0m-2 0h0m-45 0h0m-7 0h0m-52 0h0m47 1h0m74 0h0m8 0h0m33 0h0m58 0h0m247 1h0m-93 0h0m-36 0h0m-12 0h0m-4 0h0m-47 0h0m-25 0h0m-8 0h0m-5 0h0m-3 0h0m-15 0h0m-17 0h0m-12 0h0m-3 0h0m-3 0h0m-23 0h0m-10 0h0m-19 0h0m-8 0h0m-12 0h0m-6 0h0m-32 0h0m-14 0h0m-1 0h0m-9 0h0m-2 0h0m-3 0h0m-10 0h0m-9 0h0m-9 0h0m-14 1h0m27 0h0m4 0h0m6 0h0m18 0h0m7 0h0m20 0h0m7 0h0m2 0h0m10 0h0m32 0h0m12 0h0m13 0h0m9 0h0m2 0h0m9 0h0m2 0h0m12 0h0m7 0h0m10 0h0m7 0h0m2 0h0m6 0h0m17 0h0m37 0h0m5 0h0m42 0h0m42 0h0m8 0h0m41 0h0m36 0h0m104 0h0m-198 1h0m-58 0h0m-3 0h0m-22 0h0m-57 0h0m-3 0h0m-18 0h0m-1 0h0m-9 0h0m-13 0h0m-27 0h0m-4 0h0m-3 0h0m-24 0h0m-14 0h0m-18 0h0m-22 0h0m-5 0h0m-11 0h0m-29 0h0m-3 0h0m-10 0h0m-5 0h0m18 1h0m6 0h0m32 0h0m6 0h0m17 0h0m14 0h0m6 0h0m23 0h0m9 0h0m15 0h0m19 0h0m17 0h0m8 0h0m9 0h0m17 0h0m2 0h0m32 0h0m26 0h0m135 0h0m83 0h0m-36 1h0m-47 0h0m-6 0h0m-17 0h0m-23 0h0m-12 0h0m-21 0h0m-35 0h0m-2 0h0m-24 0h0m-23 0h0m-21 0h0m-1 0h0m-14 0h0m-13 0h0m-44 0h0m-1 0h0m-23 0h0m-5 0h0m-2 0h0m-5 0h0m-23 0h0m-13 0h0m-15 0h0m-7 0h0m-12 0h0m-12 0h0m-28 0h0m-10 0h0m-7 1h0m1 0h0m14 0h0m2 0h0m9 0h0m2 0h0m6 0h0m9 0h0m25 0h0m9 0h0m18 0h0m13 0h0m3 0h0m28 0h0m6 0h0m3 0h0m5 0h0m8 0h0m27 0h0m1 0h0m12 0h0m16 0h0m18 0h0m28 0h0m17 0h0m2 0h0m32 0h0m7 0h0m18 0h0m9 0h0m34 0h0m85 0h0m127 1h0m-31 0h0m-140 0h0m-62 0h0m-36 0h0m-21 0h0m-41 0h0m-26 0h0m-3 0h0m-39 0h0m-10 0h0m-4 0h0m-3 0h0m-8 0h0m-22 0h0m-13 0h0m-25 0h0m-37 0h0m-12 0h0m-10 0h0m-30 0h0m-10 0h0m-12 0h0m0 1h0m4 0h0m13 0h0m14 0h0m29 0h0m2 0h0m47 0h0m16 0h0m6 0h0m28 0h0m12 0h0m12 0h0m35 0h0m13 0h0m21 0h0m7 0h0m29 0h0m42 0h0m271 0h0m-179 1h0m-23 0h0m-3 0h0m-27 0h0m-39 0h0m-14 0h0m-5 0h0m-23 0h0m-55 0h0m-9 0h0m-13 0h0m-13 0h0m-2 0h0m-16 0h0m-2 0h0m-7 0h0m-26 0h0m-4 0h0m-27 0h0m-8 0h0m-21 0h0m-24 0h0m-13 0h0m-4 0h0m-27 0h0m-4 0h0m-2 0h0m-2 0h0m-2 1h0m15 0h0m13 0h0m5 0h0m20 0h0m47 0h0m1 0h0m1 0h0m77 0h0m22 0h0m11 0h0m12 0h0m33 0h0m4 0h0m44 0h0m29 0h0m58 0h0m65 0h0m-133 1h0m-14 0h0m-57 0h0m-23 0h0m-23 0h0m-30 0h0m-58 0h0m-14 0h0m-17 0h0m-15 0h0m-6 0h0m-19 0h0m-21 0h0m-18 0h0m7 1h0m3 0h0m3 0h0m14 0h0m4 0h0m8 0h0m2 0h0m14 0h0m34 0h0m7 0h0m1 0h0m1 0h0m13 0h0m7 0h0m11 0h0m10 0h0m33 0h0m11 0h0m10 0h0m7 0h0m15 0h0m32 0h0m14 0h0m5 0h0m5 0h0m30 0h0m32 0h0m17 0h0m15 0h0m18 0h0m121 0h0m71 1h0m-215 0h0m-4 0h0m-18 0h0m-36 0h0m-10 0h0m-27 0h0m-36 0h0m-33 0h0m-58 0h0m-13 0h0m-33 0h0m-6 0h0m-3 0h0m-12 0h0m-11 0h0m-13 0h0m-7 0h0m-32 1h0m15 0h0m7 0h0m74 0h0m33 0h0m11 0h0m71 0h0m17 0h0m181 0h0m15 0h0m153 0h0m-26 1h0m-151 0h0m-61 0h0m-45 0h0m-14 0h0m-16 0h0m-12 0h0m-13 0h0m-74 0h0m-22 0h0m-7 0h0m-9 0h0m-18 0h0m-10 0h0m-10 0h0m-6 0h0m-19 0h0m-32 0h0m-2 0h0m-8 0h0m-6 0h0m-24 0h0m-1 0h0m-3 0h0m-3 1h0m4 0h0m41 0h0m6 0h0m22 0h0m30 0h0m26 0h0m4 0h0m8 0h0m11 0h0m11 0h0m34 0h0m9 0h0m13 0h0m18 0h0m21 0h0m51 0h0m57 0h0m22 0h0m23 0h0m213 1h0m-184 0h0m-14 0h0m-6 0h0m-20 0h0m-62 0h0m-1 0h0m-17 0h0m-37 0h0m-13 0h0m-5 0h0m-18 0h0m-27 0h0m-9 0h0m-39 0h0m-6 0h0m-7 0h0m-10 0h0m-9 0h0m-1 0h0m-19 0h0m-17 0h0m-18 0h0m-8 0h0m-9 0h0m-8 0h0m-4 0h0m-24 0h0m-12 0h0m-20 0h0m-2 0h0m-2 0h0m4 1h0m19 0h0m22 0h0m1 0h0m14 0h0m1 0h0m12 0h0m10 0h0m45 0h0m14 0h0m1 0h0m29 0h0m30 0h0m9 0h0m6 0h0m56 0h0m93 0h0m224 0h0m-198 1h0m-48 0h0m-11 0h0m-2 0h0m-23 0h0m-22 0h0m-68 0h0m-43 0h0m-11 0h0m-9 0h0m-2 0h0m-12 0h0m-11 0h0m-9 0h0m-27 0h0m-3 0h0m-5 0h0m-4 0h0m-4 0h0m-4 0h0m-2 0h0m-14 0h0m-16 0h0m-6 0h0m-2 0h0m-6 0h0m-13 0h0m-1 0h0m-5 0h0m13 1h0m59 0h0m42 0h0m1 0h0m52 0h0m134 0h0m283 2h0m-136 0h0m-4 0h0m-3 0h0m-29 0h0m-2 0h0m-3 0h0m-4 0h0m-63 0h0m-4 0h0m-5 0h0m-7 0h0m-5 0h0m-28 0h0m-1 0h0m-1 0h0m-6 0h0m-18 0h0m-1 0h0m-12 0h0m-20 0h0m-7 0h0m-17 0h0m-5 0h0m-5 0h0m-4 0h0m-10 0h0m-2 0h0m-1 0h0m-14 0h0m-5 0h0m-1 0h0m-19 0h0m-3 0h0m-20 0h0m-6 0h0m-1 0h0m-2 0h0m-8 0h0m-7 0h0m-7 0h0m-13 0h0m-9 0h0m-32 0h0m-3 0h0m-4 0h0m-12 0h0m-8 0h0m-2 0h0m-16 0h0m-1 2h0m6 0h0m15 0h0m14 0h0m15 0h0m18 0h0m4 0h0m19 0h0m25 0h0m22 0h0m10 0h0m1 0h0m8 0h0m24 0h0m13 0h0m3 0h0m3 0h0m26 0h0m17 0h0m49 0h0m13 0h0m9 0h0m144 1h0m-73 0h0m-126 0h0m-27 0h0m-14 0h0m-8 0h0m-15 0h0m-20 0h0m-7 0h0m-31 0h0m-15 0h0m-1 0h0m-16 0h0m-12 0h0m-5 0h0m-31 0h0m-16 0h0m-11 0h0m-10 0h0m-4 0h0m-4 0h0m-2 0h0m-10 1h0m3 0h0m7 0h0m4 0h0m19 0h0m42 0h0m6 0h0m13 0h0m3 0h0m4 0h0m14 0h0m10 0h0m11 0h0m18 0h0m1 0h0m21 0h0m8 0h0m16 0h0m6 0h0m17 0h0m15 0h0m3 0h0m17 0h0m13 0h0m39 0h0m71 0h0m39 0h0m30 0h0m56 1h0m-50 0h0m-82 0h0m-4 0h0m-38 0h0m-1 0h0m-23 0h0m-13 0h0m-30 0h0m-19 0h0m-2 0h0m-17 0h0m-31 0h0m-4 0h0m-33 0h0m-13 0h0m-33 0h0m-25 0h0m-7 0h0m-4 0h0m-12 0h0m-18 0h0m-10 0h0m-7 0h0m-4 0h0m-22 1h0m4 0h0m6 0h0m13 0h0m3 0h0m24 0h0m7 0h0m3 0h0m33 0h0m10 0h0m12 0h0m15 0h0m13 0h0m4 0h0m9 0h0m14 0h0m13 0h0m1 0h0m15 0h0m11 0h0m20 0h0m46 0h0m11 0h0m70 0h0m60 0h0m-85 1h0m-11 0h0m-5 0h0m-15 0h0m-20 0h0m-43 0h0m-28 0h0m-35 0h0m-4 0h0m-11 0h0m-62 0h0m-17 0h0m-31 0h0m-32 0h0m-15 0h0m-2 1h0m6 0h0m9 0h0m13 0h0m12 0h0m4 0h0m8 0h0m2 0h0m47 0h0m2 0h0m23 0h0m18 0h0m18 0h0m7 0h0m6 0h0m9 0h0m15 0h0m13 0h0m22 0h0m14 0h0m14 0h0m48 0h0m12 0h0m185 1h0m-153 0h0m-31 0h0m-26 0h0m-11 0h0m-10 0h0m-17 0h0m-13 0h0m-11 0h0m-33 0h0m-20 0h0m-7 0h0m-21 0h0m-9 0h0m-20 0h0m-38 0h0m-2 0h0m-78 1h0m3 0h0m46 0h0m10 0h0m26 0h0m4 0h0m7 0h0m7 0h0m22 0h0m3 0h0m6 0h0m9 0h0m54 0h0m27 0h0m75 0h0m24 0h0m29 0h0m16 0h0m91 0h0m-4 1h0m-24 0h0m-67 0h0m-6 0h0m-13 0h0m-50 0h0m-9 0h0m-25 0h0m-6 0h0m-15 0h0m-3 0h0m-12 0h0m-34 0h0m-13 0h0m-51 0h0m-2 0h0m-9 0h0m-10 0h0m-27 0h0m-12 0h0m-12 0h0m-17 0h0m-7 0h0m-25 0h0m-4 0h0m-8 0h0m16 1h0m3 0h0m6 0h0m2 0h0m28 0h0m6 0h0m7 0h0m19 0h0m17 0h0m16 0h0m1 0h0m41 0h0m22 0h0m80 0h0m9 0h0m30 0h0m13 0h0m36 0h0m68 0h0m93 1h0m-197 0h0m-65 0h0m-6 0h0m-2 0h0m-21 0h0m-13 0h0m-22 0h0m-21 0h0m-9 0h0m-27 0h0m-22 0h0m-8 0h0m-84 0h0m-21 0h0m16 1h0m11 0h0m24 0h0m11 0h0m12 0h0m6 0h0m4 0h0m3 0h0m4 0h0m8 0h0m2 0h0m84 0h0m10 0h0m1 0h0m3 0h0m28 0h0m64 0h0m15 0h0m5 0h0m21 0h0m21 0h0m103 1h0m-8 0h0m-42 0h0m-65 0h0m-26 0h0m-38 0h0m-11 0h0m-53 0h0m-8 0h0m-39 0h0m-28 0h0m-6 0h0m-10 0h0m-9 0h0m-3 0h0m-1 0h0m-5 0h0m-21 0h0m-13 0h0m-26 0h0m-6 0h0m-7 0h0m-3 0h0m-19 0h0m-3 0h0m17 1h0m14 0h0m30 0h0m17 0h0m10 0h0m40 0h0m12 0h0m2 0h0m12 0h0m2 0h0m2 0h0m12 0h0m28 0h0m14 0h0m14 0h0m14 0h0m29 0h0m12 0h0m28 0h0m115 0h0m119 0h0m47 0h0m-144 1h0m-65 0h0m-42 0h0m-7 0h0m-31 0h0m-58 0h0m-5 0h0m-5 0h0m-26 0h0m-4 0h0m-15 0h0m-15 0h0m-19 0h0m-22 0h0m-4 0h0m-15 0h0m-10 0h0m-5 0h0m-3 0h0m-28 0h0m-12 0h0m-18 0h0m-7 0h0m-8 0h0m-1 0h0m-14 0h0m-8 0h0m-7 0h0m3 1h0m10 0h0m18 0h0m50 0h0m4 0h0m10 0h0m38 0h0m20 0h0m6 0h0m10 0h0m3 0h0m102 0h0m90 0h0m52 0h0m162 0h0m-63 1h0m-116 0h0m-5 0h0m-7 0h0m-41 0h0m-13 0h0m-16 0h0m-13 0h0m-4 0h0m-27 0h0m-3 0h0m-19 0h0m-17 0h0m-19 0h0m-2 0h0m-3 0h0m-21 0h0m-11 0h0m-14 0h0m-14 0h0m-8 0h0m-10 0h0m-3 0h0m-31 0h0m-15 0h0m-1 0h0m-11 0h0m-11 0h0m-3 0h0m-3 0h0m-4 0h0m-2 0h0m-30 0h0m-15 0h0m-4 0h0m19 1h0m11 0h0m12 0h0m10 0h0m3 0h0m25 0h0m5 0h0m14 0h0m2 0h0m6 0h0m11 0h0m44 0h0m32 0h0m23 0h0m2 0h0m13 0h0m29 0h0m65 0h0m374 1h0m-284 0h0m-7 0h0m-146 0h0m-18 0h0m-19 0h0m-27 0h0m-9 0h0m-12 0h0m-10 0h0m-14 0h0m-7 0h0m-20 0h0m-10 0h0m-10 0h0m-26 0h0m-8 0h0m-7 0h0m-8 0h0m-15 0h0m-15 0h0m-21 1h0m28 0h0m46 0h0m8 0h0m16 0h0m20 0h0m3 0h0m2 0h0m38 0h0m2 0h0m5 0h0m23 0h0m23 0h0m50 0h0m8 0h0m1 0h0m12 0h0m12 0h0m4 0h0m26 0h0m16 0h0m6 0h0m18 0h0m11 0h0m12 0h0m47 0h0m23 0h0m24 0h0m-52 1h0m-17 0h0m-95 0h0m-25 0h0m-12 0h0m-1 0h0m-24 0h0m-9 0h0m-24 0h0m-17 0h0m-18 0h0m-12 0h0m-30 0h0m-10 0h0m-5 0h0m-8 0h0m-5 0h0m-3 0h0m-9 0h0m-1 0h0m-10 0h0m-14 0h0m-25 0h0m-25 0h0m-6 0h0m-21 0h0m-7 0h0m-4 0h0m-1 0h0m24 1h0m29 0h0m13 0h0m55 0h0m6 0h0m4 0h0m57 0h0m43 0h0m20 0h0m9 0h0m14 0h0m30 0h0m47 0h0m160 0h0m193 1h0m-189 0h0m-67 0h0m-135 0h0m-58 0h0m-45 0h0m-23 0h0m-4 0h0m-7 0h0m-20 0h0m-9 0h0m-3 0h0m-11 0h0m-4 0h0m-27 0h0m-34 0h0m-19 0h0m-2 0h0m-22 0h0m-26 1h0m7 0h0m5 0h0m2 0h0m2 0h0m10 0h0m9 0h0m28 0h0m16 0h0m8 0h0m40 0h0m9 0h0m7 0h0m48 0h0m14 0h0m3 0h0m2 0h0m14 0h0m24 0h0m49 0h0m31 0h0m10 0h0m253 1h0m-118 0h0m-18 0h0m-112 0h0m-3 0h0m-6 0h0m-5 0h0m-12 0h0m-18 0h0m-5 0h0m-23 0h0m-12 0h0m-11 0h0m-65 0h0m-15 0h0m-14 0h0m-9 0h0m-3 0h0m-9 0h0m-9 0h0m-48 0h0m-10 0h0m-13 0h0m-1 0h0m-13 0h0m-4 0h0m-28 0h0m-5 1h0m31 0h0m2 0h0m14 0h0m12 0h0m35 0h0m33 0h0m10 0h0m16 0h0m4 0h0m10 0h0m7 0h0m7 0h0m29 0h0m7 0h0m30 0h0m40 0h0m40 0h0m80 0h0m79 1h0m-63 0h0m-16 0h0m-53 0h0m-67 0h0m-22 0h0m-17 0h0m-1 0h0m-4 0h0m-1 0h0m-21 0h0m-13 0h0m-14 0h0m-4 0h0m-6 0h0m-3 0h0m-19 0h0m-9 0h0m-12 0h0m-1 0h0m-16 0h0m-3 0h0m-6 0h0m-21 0h0m-5 0h0m-10 0h0m-8 0h0m-14 0h0m-4 0h0m-4 0h0m-14 0h0m-4 0h0m-5 0h0m-4 0h0m-19 0h0m-3 0h0m3 1h0m12 0h0m10 0h0m10 0h0m10 0h0m16 0h0m14 0h0m10 0h0m10 0h0m9 0h0m20 0h0m9 0h0m29 0h0m12 0h0m4 0h0m41 0h0m14 0h0m20 0h0m24 0h0m29 0h0m7 0h0m5 0h0m37 0h0m91 1h0m-6 0h0m-38 0h0m-48 0h0m-71 0h0m-11 0h0m-10 0h0m-9 0h0m-15 0h0m-1 0h0m-2 0h0m-35 0h0m-80 0h0m-3 0h0m-2 0h0m-1 0h0m-35 0h0m-15 0h0m-18 0h0m-11 0h0m-5 0h0m-2 0h0m-24 1h0m9 0h0m5 0h0m15 0h0m6 0h0m10 0h0m1 0h0m16 0h0m5 0h0m11 0h0m2 0h0m8 0h0m9 0h0m1 0h0m11 0h0m23 0h0m18 0h0m8 0h0m9 0h0m15 0h0m20 0h0m17 0h0m5 0h0m31 0h0m52 0h0m1 0h0m11 0h0m14 0h0m21 0h0m110 0h0m-22 1h0m-16 0h0m-94 0h0m-50 0h0m-13 0h0m-59 0h0m-18 0h0m-17 0h0m-7 0h0m-15 0h0m-9 0h0m-12 0h0m-7 0h0m-3 0h0m-25 0h0m-1 0h0m-12 0h0m-2 0h0m-14 0h0m-2 0h0m-12 0h0m-4 0h0m-2 0h0m-8 0h0m-4 0h0m-11 0h0m-1 0h0m-12 0h0m-7 0h0m-2 1h0m30 0h0m10 0h0m19 0h0m11 0h0m2 0h0m21 0h0m9 0h0m7 0h0m6 0h0m19 0h0m70 0h0m34 0h0m11 0h0m39 0h0m23 0h0m83 0h0m37 2h0m-5 0h0m-42 0h0m-95 0h0m-27 0h0m-3 0h0m-50 0h0m-11 0h0m-11 0h0m-11 0h0m-22 0h0m-8 0h0m-20 0h0m-2 0h0m-1 0h0m-6 0h0m-9 0h0m-3 0h0m-5 0h0m-22 0h0m-1 0h0m-9 0h0m-14 0h0m-11 0h0m-11 0h0m-7 0h0m-4 0h0m-3 0h0m-11 0h0m-6 0h0m-1 0h0m-3 2h0m2 0h0m5 0h0m2 0h0m20 0h0m17 0h0m9 0h0m2 0h0m3 0h0m4 0h0m2 0h0m12 0h0m1 0h0m11 0h0m41 0h0m3 0h0m8 0h0m20 0h0m48 0h0m15 0h0m3 0h0m16 0h0m47 0h0m82 0h0m83 0h0m54 0h0m-161 1h0m-30 0h0m-10 0h0m-36 0h0m-16 0h0m-14 0h0m-14 0h0m-28 0h0m-9 0h0m-11 0h0m-24 0h0m-3 0h0m-48 0h0m-2 0h0m-40 0h0m-1 0h0m-8 0h0m-7 0h0m-10 0h0m-38 0h0m17 1h0m4 0h0m23 0h0m11 0h0m2 0h0m5 0h0m9 0h0m7 0h0m40 0h0m2 0h0m11 0h0m8 0h0m3 0h0m11 0h0m11 0h0m19 0h0m2 0h0m2 0h0m45 0h0m8 0h0m21 0h0m46 0h0m15 0h0m5 0h0m9 0h0m12 0h0m45 0h0m260 0h0m-5 1h0m-258 0h0m-11 0h0m-14 0h0m-21 0h0m-13 0h0m-17 0h0m-25 0h0m-38 0h0m-24 0h0m-52 0h0m-6 0h0m-7 0h0m-22 0h0m-3 0h0m-38 0h0m-35 0h0m-12 0h0m-23 0h0m-5 0h0m-1 0h0m-12 0h0m-6 0h0m-7 0h0m19 1h0m23 0h0m19 0h0m6 0h0m5 0h0m2 0h0m3 0h0m25 0h0m1 0h0m90 0h0m5 0h0m14 0h0m42 0h0m13 0h0m17 0h0m5 0h0m55 0h0m19 0h0m27 0h0m15 0h0m61 0h0m-128 1h0m-3 0h0m-75 0h0m-22 0h0m-26 0h0m-25 0h0m-42 0h0m-4 0h0m-11 0h0m-10 0h0m-7 0h0m-27 0h0m-10 0h0m-6 0h0m-25 0h0m-23 0h0m-2 0h0m-9 0h0m-10 1h0m16 0h0m19 0h0m25 0h0m24 0h0m50 0h0m13 0h0m22 0h0m6 0h0m4 0h0m27 0h0m4 0h0m10 0h0m34 0h0m6 0h0m31 0h0m11 0h0m13 0h0m14 0h0m27 0h0m10 0h0m4 0h0m15 0h0m29 0h0m174 0h0m60 0h0m-266 1h0m-42 0h0m-43 0h0m-5 0h0m-45 0h0m-14 0h0m-13 0h0m-17 0h0m-31 0h0m-14 0h0m-7 0h0m-14 0h0m-11 0h0m-6 0h0m-7 0h0m-42 0h0m-3 0h0m-20 0h0m-10 0h0m-40 0h0m-3 0h0m0 1h0m4 0h0m66 0h0m50 0h0m4 0h0m29 0h0m3 0h0m63 0h0m78 0h0m4 0h0m66 0h0m290 0h0m223 0h0m-431 1h0m-68 0h0m-37 0h0m-9 0h0m-83 0h0m-37 0h0m-19 0h0m-3 0h0m-34 0h0m-6 0h0m-12 0h0m-19 0h0m-10 0h0m-5 0h0m-3 0h0m-1 0h0m-4 0h0m-4 0h0m-10 0h0m-10 0h0m-3 0h0m-5 0h0m-8 0h0m-8 0h0m-3 0h0m-18 0h0m-25 0h0m1 1h0m17 0h0m26 0h0m9 0h0m4 0h0m7 0h0m27 0h0m11 0h0m1 0h0m10 0h0m6 0h0m6 0h0m14 0h0m1 0h0m13 0h0m25 0h0m4 0h0m19 0h0m40 0h0m163 0h0m29 0h0m30 0h0m29 0h0m90 1h0m-126 0h0m-10 0h0m-11 0h0m-189 0h0m-5 0h0m-5 0h0m-30 0h0m-14 0h0m-33 0h0m-28 0h0m-4 0h0m-17 0h0m-16 0h0m-33 0h0m-4 0h0m-28 0h0m-32 1h0m1 0h0m50 0h0m3 0h0m4 0h0m9 0h0m2 0h0m11 0h0m10 0h0m1 0h0m28 0h0m12 0h0m3 0h0m13 0h0m1 0h0m52 0h0m38 0h0m2 0h0m99 0h0m21 0h0m2 0h0m1 0h0m19 0h0m-36 1h0m-58 0h0m-1 0h0m-8 0h0m-2 0h0m-23 0h0m-5 0h0m-6 0h0m-37 0h0m-6 0h0m-19 0h0m-5 0h0m-10 0h0m-42 0h0m-4 0h0m-14 0h0m-56 0h0m-3 0h0m-10 0h0m-13 0h0m-4 0h0m-10 1h0m1 0h0m1 0h0m52 0h0m22 0h0m4 0h0m35 0h0m64 0h0m17 0h0m17 0h0m48 0h0m30 0h0m49 0h0m40 0h0m9 0h0m113 0h0m-250 1h0m-6 0h0m-4 0h0m-112 0h0m-12 0h0m-40 0h0m-12 0h0m-12 0h0m-14 0h0m-15 0h0m-2 0h0m-17 0h0m-2 0h0m-11 1h0m17 0h0m36 0h0m5 0h0m5 0h0m17 0h0m7 0h0m20 0h0m9 0h0m9 0h0m35 0h0m1 0h0m12 0h0m6 0h0m76 0h0m14 0h0m63 0h0m19 0h0m9 0h0m33 0h0m112 0h0m-133 1h0m-25 0h0m-7 0h0m-8 0h0m-47 0h0m-8 0h0m-1 0h0m-21 0h0m-27 0h0m-3 0h0m-36 0h0m-8 0h0m-19 0h0m-9 0h0m-7 0h0m-3 0h0m-7 0h0m-13 0h0m-17 0h0m-20 0h0m-35 0h0m-6 0h0m-7 0h0m-4 0h0m-2 0h0m-3 0h0m-31 1h0m16 0h0m41 0h0m25 0h0m6 0h0m1 0h0m15 0h0m24 0h0m20 0h0m4 0h0m17 0h0m2 0h0m25 0h0m17 0h0m15 0h0m19 0h0m47 0h0m102 1h0m-14 0h0m-27 0h0m-53 0h0m-28 0h0m-15 0h0m-8 0h0m-18 0h0m-2 0h0m-32 0h0m-51 0h0m-26 0h0m-14 0h0m-17 0h0m-8 0h0m-39 0h0m-14 0h0m-7 0h0m-3 0h0m-1 0h0m-9 0h0m-6 0h0m-5 0h0m5 1h0m2 0h0m4 0h0m26 0h0m8 0h0m14 0h0m3 0h0m35 0h0m4 0h0m1 0h0m16 0h0m6 0h0m4 0h0m20 0h0m46 0h0m1 0h0m5 0h0m11 0h0m11 0h0m43 0h0m44 0h0m44 0h0m36 0h0m158 1h0m-154 0h0m-57 0h0m-56 0h0m-27 0h0m-29 0h0m-3 0h0m-1 0h0m-20 0h0m-81 0h0m-3 0h0m-22 0h0m-26 0h0m-9 0h0m-4 0h0m-4 0h0m-9 0h0m-13 0h0m-12 0h0m-14 0h0m-5 0h0m29 1h0m20 0h0m10 0h0m11 0h0m11 0h0m12 0h0m19 0h0m17 0h0m11 0h0m13 0h0m6 0h0m50 0h0m1 0h0m9 0h0m1 0h0m11 0h0m2 0h0m16 0h0m11 0h0m19 0h0m30 0h0m18 0h0m2 0h0m20 0h0m20 0h0m5 0h0m11 0h0m144 0h0m-120 1h0m-44 0h0m-8 0h0m-44 0h0m-13 0h0m-48 0h0m-44 0h0m-17 0h0m-15 0h0m-33 0h0m-46 0h0m-11 0h0m-35 0h0m-14 0h0m-31 0h0m1 1h0m5 0h0m14 0h0m4 0h0m19 0h0m5 0h0m3 0h0m10 0h0m9 0h0m3 0h0m3 0h0m13 0h0m7 0h0m4 0h0m19 0h0m23 0h0m2 0h0m26 0h0m18 0h0m12 0h0m13 0h0m16 0h0m3 0h0m21 0h0m4 0h0m11 0h0m11 0h0m14 0h0m16 0h0m10 0h0m59 0h0m124 0h0m4 2h0m-7 0h0m-62 0h0m-48 0h0m-32 0h0m-3 0h0m-3 0h0m-37 0h0m-19 0h0m-16 0h0m-6 0h0m-16 0h0m-21 0h0m-2 0h0m-15 0h0m-3 0h0m-5 0h0m-3 0h0m-2 0h0m-27 0h0m-2 0h0m-13 0h0m-30 0h0m-14 0h0m-20 0h0m-4 0h0m-16 0h0m-3 0h0m-3 0h0m-28 0h0m-3 0h0m-14 0h0m-13 0h0m-16 0h0m-2 0h0m6 2h0m29 0h0m2 0h0m8 0h0m13 0h0m11 0h0m12 0h0m12 0h0m2 0h0m8 0h0m42 0h0m12 0h0m11 0h0m2 0h0m12 0h0m4 0h0m8 0h0m1 0h0m22 0h0m34 0h0m12 0h0m16 0h0m6 0h0m36 0h0m105 0h0m69 1h0m-136 0h0m-14 0h0m-8 0h0m-23 0h0m-20 0h0m-17 0h0m-2 0h0m-15 0h0m-25 0h0m-9 0h0m-16 0h0m-3 0h0m-13 0h0m-16 0h0m-2 0h0m-9 0h0m-4 0h0m-24 0h0m-14 0h0m-7 0h0m-6 0h0m-14 0h0m-7 0h0m-6 0h0m-10 0h0m-3 0h0m-32 0h0m-11 0h0m-2 0h0m-15 0h0m-15 0h0m70 1h0m9 0h0m2 0h0m65 0h0m14 0h0m15 0h0m29 0h0m21 0h0m36 0h0m11 0h0m20 0h0m38 0h0m21 0h0m76 0h0m14 0h0m63 0h0m-150 1h0m-43 0h0m-11 0h0m-9 0h0m-49 0h0m-37 0h0m-13 0h0m-13 0h0m-27 0h0m-20 0h0m-13 0h0m-12 0h0m-9 0h0m-15 0h0m-26 0h0m-15 0h0m-14 0h0m-15 0h0m-13 0h0m6 1h0m20 0h0m31 0h0m10 0h0m11 0h0m3 0h0m27 0h0m32 0h0m67 0h0m67 0h0m10 0h0m15 0h0m3 0h0m5 0h0m117 0h0m15 0h0m-22 1h0m-19 0h0m-19 0h0m-56 0h0m-39 0h0m-19 0h0m-10 0h0m-1 0h0m-13 0h0m-3 0h0m-13 0h0m-9 0h0m-3 0h0m-12 0h0m-12 0h0m-20 0h0m-28 0h0m-1 0h0m-5 0h0m-4 0h0m-19 0h0m-31 0h0m-13 0h0m-12 0h0m-1 0h0m-26 0h0m-10 0h0m-2 0h0m-2 0h0m6 1h0m11 0h0m39 0h0m12 0h0m44 0h0m9 0h0m73 0h0m7 0h0m29 0h0m8 0h0m11 0h0m38 0h0m60 0h0m24 0h0m110 0h0m-220 1h0m-5 0h0m-53 0h0m-34 0h0m-16 0h0m-14 0h0m-2 0h0m-27 0h0m-6 0h0m-9 0h0m-7 0h0m-14 0h0m-8 0h0m-47 0h0m-12 0h0m17 1h0m12 0h0m9 0h0m10 0h0m25 0h0m11 0h0m33 0h0m5 0h0m26 0h0m3 0h0m21 0h0m7 0h0m4 0h0m34 0h0m24 0h0m79 0h0m26 0h0m-8 1h0m-28 0h0m-29 0h0m-3 0h0m-59 0h0m-45 0h0m-3 0h0m-84 0h0m-11 0h0m-4 0h0m-27 0h0m-2 0h0m-3 0h0m-2 0h0m-10 0h0m-9 0h0m-5 0h0m-29 0h0m16 1h0m4 0h0m9 0h0m24 0h0m2 0h0m9 0h0m4 0h0m50 0h0m28 0h0m13 0h0m24 0h0m3 0h0m3 0h0m36 0h0m62 0h0m38 0h0m65 0h0m22 0h0m608 0h0m-661 1h0m-82 0h0m-136 0h0m-43 0h0m-22 0h0m-5 0h0m-20 0h0m-10 0h0m-29 0h0m-6 0h0m-8 0h0m5 1h0m16 0h0m10 0h0m50 0h0m9 0h0m8 0h0m9 0h0m3 0h0m6 0h0m1 0h0m43 0h0m23 0h0m26 0h0m30 0h0m7 0h0m36 0h0m17 0h0m13 0h0m6 0h0m33 0h0m15 0h0m11 0h0m10 0h0m29 0h0m-189 1h0m-42 0h0m-16 0h0m-12 0h0m-20 0h0m-15 0h0m-1 0h0m-34 0h0m-47 0h0m-11 0h0m-21 0h0m-14 0h0m6 1h0m25 0h0m26 0h0m3 0h0m3 0h0m17 0h0m4 0h0m30 0h0m81 0h0m11 0h0m6 0h0m11 0h0m4 0h0m5 0h0m6 0h0m49 0h0m14 0h0m88 0h0m20 0h0m619 0h0m-651 1h0m-16 0h0m-4 0h0m-39 0h0m-55 0h0m-13 0h0m-24 0h0m-18 0h0m-16 0h0m-2 0h0m-4 0h0m-23 0h0m-8 0h0m-1 0h0m-8 0h0m-9 0h0m-2 0h0m-18 0h0m-27 0h0m-4 0h0m-5 0h0m-14 0h0m-2 0h0m-21 0h0m-9 0h0m-8 0h0m-6 0h0m-13 0h0m-4 1h0m29 0h0m10 0h0m7 0h0m3 0h0m2 0h0m30 0h0m20 0h0m13 0h0m9 0h0m14 0h0m9 0h0m39 0h0m5 0h0m32 0h0m18 0h0m38 0h0m14 0h0m49 0h0m74 1h0m-63 0h0m-42 0h0m-63 0h0m-36 0h0m-6 0h0m-7 0h0m-35 0h0m-63 0h0m-34 0h0m-5 0h0m-55 0h0m-5 1h0m4 0h0m3 0h0m14 0h0m14 0h0m32 0h0m10 0h0m5 0h0m25 0h0m25 0h0m14 0h0m15 0h0m9 0h0m4 0h0m2 0h0m12 0h0m4 0h0m10 0h0m13 0h0m24 0h0m16 0h0m94 0h0m47 0h0m1 0h0m7 0h0m5 1h0m-11 0h0m-11 0h0m-179 0h0m-3 0h0m-8 0h0m-19 0h0m-2 0h0m-4 0h0m-12 0h0m-1 0h0m-11 0h0m-6 0h0m-14 0h0m-27 0h0m-17 0h0m-4 0h0m-4 0h0m-11 0h0m-4 0h0m-8 0h0m-30 0h0m-1 0h0m-22 0h0m-5 2h0m3 0h0m5 0h0m6 0h0m6 0h0m26 0h0m2 0h0m3 0h0m7 0h0m7 0h0m7 0h0m2 0h0m8 0h0m44 0h0m12 0h0m5 0h0m4 0h0m36 0h0m15 0h0m66 0h0m3 0h0m7 0h0m57 0h0m3 0h0m22 0h0m22 0h0m6 0h0m4 0h0m-175 1h0m-35 0h0m-9 0h0m-1 0h0m-10 0h0m-9 0h0m-10 0h0m-2 0h0m-13 0h0m-11 0h0m-34 0h0m-11 0h0m-6 0h0m-9 0h0m-9 0h0m-18 0h0m-2 0h0m-21 1h0m4 0h0m9 0h0m18 0h0m1 0h0m27 0h0m22 0h0m2 0h0m9 0h0m7 0h0m6 0h0m2 0h0m10 0h0m21 0h0m15 0h0m1 0h0m49 0h0m11 0h0m8 0h0m6 0h0m2 0h0m15 0h0m7 0h0m5 0h0m3 0h0m6 0h0m25 0h0m10 0h0m3 0h0m18 0h0m5 0h0m31 0h0m9 0h0m47 0h0m-59 1h0m-61 0h0m-61 0h0m-61 0h0m-10 0h0m-20 0h0m-21 0h0m-20 0h0m-10 0h0m-6 0h0m-17 0h0m-38 0h0m-9 0h0m-2 1h0m22 0h0m12 0h0m3 0h0m34 0h0m13 0h0m4 0h0m8 0h0m21 0h0m31 0h0m10 0h0m10 0h0m36 0h0m21 0h0m14 0h0m2 0h0m3 0h0m58 0h0m73 0h0m510 1h0m-332 0h0m-121 0h0m-30 0h0m-15 0h0m-15 0h0m-31 0h0m-4 0h0m-54 0h0m-25 0h0m-9 0h0m-43 0h0m-26 0h0m-5 0h0m-5 0h0m-7 0h0m-23 0h0m-25 0h0m-8 0h0m-21 0h0m-9 0h0m-14 0h0m-20 0h0m-56 1h0m30 0h0m3 0h0m7 0h0m7 0h0m34 0h0m9 0h0m14 0h0m9 0h0m4 0h0m5 0h0m8 0h0m2 0h0m18 0h0m17 0h0m43 0h0m5 0h0m31 0h0m27 0h0m7 0h0m40 0h0m80 0h0m166 0h0m-177 1h0m-13 0h0m-6 0h0m-6 0h0m-12 0h0m-48 0h0m-46 0h0m-1 0h0m-24 0h0m-8 0h0m-32 0h0m-10 0h0m-22 0h0m-23 0h0m-7 0h0m-5 0h0m-2 0h0m-15 0h0m-7 0h0m-8 0h0m-9 0h0m-6 0h0m-5 0h0m-10 0h0m-15 0h0m-45 0h0m13 1h0m1 0h0m17 0h0m9 0h0m13 0h0m1 0h0m28 0h0m11 0h0m17 0h0m11 0h0m32 0h0m31 0h0m1 0h0m66 0h0m13 0h0m38 0h0m2 0h0m134 0h0m-42 1h0m-37 0h0m-32 0h0m-5 0h0m-5 0h0m-18 0h0m-7 0h0m-24 0h0m-43 0h0m-21 0h0m-23 0h0m-15 0h0m-12 0h0m-93 0h0m-5 0h0m-8 0h0m-16 0h0m-8 0h0m-31 0h0m5 1h0m4 0h0m22 0h0m9 0h0m4 0h0m11 0h0m54 0h0m27 0h0m21 0h0m70 0h0m13 0h0m13 0h0m19 0h0m126 0h0m88 1h0m-59 0h0m-59 0h0m-47 0h0m-1 0h0m-46 0h0m-23 0h0m-16 0h0m-8 0h0m-8 0h0m-27 0h0m-40 0h0m-8 0h0m-9 0h0m-20 0h0m-30 0h0m-10 0h0m-7 0h0m-2 0h0m-13 0h0m-2 0h0m-7 0h0m-9 0h0m-1 0h0m-17 0h0m-8 0h0m-13 1h0m7 0h0m3 0h0m10 0h0m30 0h0m2 0h0m27 0h0m16 0h0m28 0h0m58 0h0m13 0h0m32 0h0m6 0h0m21 0h0m21 0h0m26 0h0m6 0h0m6 0h0m47 0h0m40 0h0m85 0h0m-36 1h0m-99 0h0m-26 0h0m-7 0h0m-21 0h0m-45 0h0m-17 0h0m-45 0h0m-4 0h0m-3 0h0m-12 0h0m-2 0h0m-14 0h0m-19 0h0m-49 0h0m-4 0h0m-5 0h0m-4 0h0m-20 0h0m-15 0h0m-8 0h0m-21 0h0m-1 0h0m-7 1h0m30 0h0m32 0h0m4 0h0m2 0h0m29 0h0m17 0h0m5 0h0m4 0h0m22 0h0m5 0h0m44 0h0m6 0h0m48 0h0m12 0h0m17 0h0m14 0h0m101 0h0m58 0h0m37 1h0m-33 0h0m-93 0h0m-46 0h0m-23 0h0m-9 0h0m-25 0h0m-13 0h0m-10 0h0m-8 0h0m-1 0h0m-3 0h0m-16 0h0m-20 0h0m-15 0h0m-23 0h0m-19 0h0m-30 0h0m-15 0h0m-11 0h0m-1 0h0m-19 0h0m-7 0h0m-10 0h0m-4 0h0m-16 0h0m-2 1h0m12 0h0m26 0h0m11 0h0m8 0h0m29 0h0m16 0h0m12 0h0m1 0h0m32 0h0m4 0h0m6 0h0m14 0h0m22 0h0m11 0h0m10 0h0m47 0h0m180 0h0m-111 1h0m-103 0h0m-20 0h0m-1 0h0m-27 0h0m-93 0h0m-87 0h0m-16 1h0m27 0h0m8 0h0m22 0h0m8 0h0m21 0h0m9 0h0m43 0h0m8 0h0m6 0h0m3 0h0m7 0h0m10 0h0m3 0h0m13 0h0m2 0h0m18 0h0m4 0h0m5 0h0m42 0h0m3 0h0m6 0h0m20 0h0m3 0h0m33 0h0m12 0h0m30 0h0m15 0h0m14 0h0m-168 1h0m-65 0h0m-47 0h0m-76 0h0m-27 1h0m12 0h0m1 0h0m1 0h0m23 0h0m10 0h0m15 0h0m17 0h0m4 0h0m4 0h0m10 0h0m4 0h0m22 0h0m16 0h0m19 0h0m3 0h0m12 0h0m17 0h0m16 0h0m3 0h0m2 0h0m27 0h0m22 0h0m13 0h0m22 0h0m22 0h0m5 0h0m11 0h0m64 1h0m-10 0h0m-12 0h0m-67 0h0m-32 0h0m-1 0h0m-11 0h0m-24 0h0m-19 0h0m-11 0h0m-7 0h0m-7 0h0m-9 0h0m-21 0h0m-6 0h0m-4 0h0m-11 0h0m-14 0h0m-1 0h0m-1 0h0m-10 0h0m-9 0h0m-21 0h0m-13 0h0m-3 0h0m-14 0h0m-4 0h0m-23 0h0m-3 0h0m-8 0h0m-2 0h0m-1 0h0m-19 0h0m24 1h0m16 0h0m23 0h0m4 0h0m25 0h0m5 0h0m12 0h0m85 0h0m1 0h0m10 0h0m28 0h0m11 0h0m30 0h0m41 0h0m3 0h0m49 0h0m17 0h0m27 0h0m409 1h0m-422 0h0m-37 0h0m-18 0h0m-47 0h0m-17 0h0m-73 0h0m-4 0h0m-11 0h0m-5 0h0m-31 0h0m-61 0h0m-6 0h0m-12 0h0m-2 0h0m-1 0h0m-12 0h0m-9 0h0m-7 0h0m-3 0h0m-1 0h0m-18 0h0m-10 0h0m16 1h0m7 0h0m69 0h0m14 0h0m6 0h0m13 0h0m49 0h0m27 0h0m30 0h0m10 0h0m69 0h0m54 0h0m10 1h0m-9 0h0m-13 0h0m-17 0h0m-26 0h0m-33 0h0m-18 0h0m-4 0h0m-11 0h0m-6 0h0m-37 0h0m-41 0h0m-5 0h0m-2 0h0m-13 0h0m-2 0h0m-8 0h0m-23 0h0m-16 0h0m-40 0h0m-6 0h0m-23 0h0m-23 0h0m-16 0h0m9 1h0m8 0h0m9 0h0m9 0h0m31 0h0m5 0h0m49 0h0m4 0h0m26 0h0m1 0h0m42 0h0m48 0h0m5 0h0m4 0h0m36 0h0m45 0h0m18 0h0m38 0h0m-84 1h0m-16 0h0m-15 0h0m-30 0h0m-76 0h0m-13 0h0m-18 0h0m-4 0h0m-11 0h0m-5 0h0m-11 0h0m-23 0h0m-12 0h0m-10 0h0m-14 0h0m-3 0h0m-5 0h0m-24 0h0m5 1h0m18 0h0m18 0h0m7 0h0m32 0h0m10 0h0m1 0h0m52 0h0m27 0h0m6 0h0m21 0h0m13 0h0m5 0h0m48 0h0m13 0h0m28 0h0m18 0h0m46 0h0m2 0h0m126 0h0m313 0h0m94 1h0m-94 0h0m-435 0h0m-55 0h0m-80 0h0m-141 0h0m-20 0h0m-1 0h0m-5 0h0m-1 0h0m-14 0h0m-15 0h0m-15 0h0m-27 0h0m-7 0h0m-11 0h0m34 1h0m11 0h0m42 0h0m5 0h0m23 0h0m12 0h0m123 0h0m39 0h0m72 0h0m73 0h0m-87 1h0m-51 0h0m-14 0h0m-1 0h0m-10 0h0m-6 0h0m-6 0h0m-17 0h0m-13 0h0m-22 0h0m-17 0h0m-24 0h0m-3 0h0m-7 0h0m-10 0h0m-9 0h0m-13 0h0m-21 0h0m-1 0h0m-17 0h0m-13 0h0m-65 0h0m-1 1h0m11 0h0m19 0h0m26 0h0m7 0h0m11 0h0m8 0h0m3 0h0m10 0h0m8 0h0m2 0h0m21 0h0m21 0h0m29 0h0m5 0h0m6 0h0m35 0h0m8 0h0m10 0h0m51 0h0m35 0h0m110 1h0m-76 0h0m-20 0h0m-16 0h0m-87 0h0m-19 0h0m-10 0h0m-23 0h0m-3 0h0m-4 0h0m-3 0h0m-19 0h0m-7 0h0m-13 0h0m-31 0h0m-25 0h0m-1 0h0m-25 0h0m-6 0h0m-15 0h0m-7 0h0m-14 0h0m-3 0h0m-11 2h0m3 0h0m3 0h0m6 0h0m2 0h0m16 0h0m6 0h0m4 0h0m26 0h0m10 0h0m4 0h0m10 0h0m52 0h0m7 0h0m3 0h0m8 0h0m9 0h0m2 0h0m2 0h0m5 0h0m14 0h0m15 0h0m29 0h0m15 0h0m43 0h0m11 0h0m22 0h0m113 0h0m-11 1h0m-157 0h0m-82 0h0m-50 0h0m-41 0h0m-9 0h0m-13 0h0m-34 0h0m-4 0h0m-14 0h0m-4 0h0m-16 0h0m-10 1h0m4 0h0m1 0h0m15 0h0m29 0h0m6 0h0m10 0h0m12 0h0m43 0h0m29 0h0m19 0h0m10 0h0m28 0h0m5 0h0m10 0h0m15 0h0m29 0h0m30 0h0m13 0h0m12 0h0m76 0h0m46 1h0m-84 0h0m-55 0h0m-101 0h0m-30 0h0m-18 0h0m-47 0h0m-5 0h0m-1 0h0m-20 0h0m-2 0h0m-39 0h0m-39 0h0m18 1h0m8 0h0m13 0h0m9 0h0m25 0h0m5 0h0m20 0h0m3 0h0m1 0h0m14 0h0m2 0h0m26 0h0m4 0h0m5 0h0m5 0h0m29 0h0m61 0h0m20 0h0m60 0h0m40 0h0m659 1h0m-718 0h0m-9 0h0m-4 0h0m-10 0h0m-22 0h0m-105 0h0m-27 0h0m-36 0h0m-18 0h0m-9 0h0m-21 0h0m-4 0h0m-21 0h0m-4 0h0m-14 1h0m8 0h0m1 0h0m8 0h0m6 0h0m12 0h0m4 0h0m10 0h0m4 0h0m26 0h0m9 0h0m19 0h0m5 0h0m25 0h0m12 0h0m14 0h0m33 0h0m94 0h0m93 0h0m6 0h0m112 1h0m-343 0h0m-27 0h0m-5 0h0m-28 0h0m-33 0h0m-5 0h0m-5 0h0m-14 0h0m-12 0h0m-34 0h0m3 1h0m36 0h0m13 0h0m42 0h0m46 0h0m29 0h0m8 0h0m1 0h0m30 0h0m5 0h0m14 0h0m96 0h0m8 0h0m40 0h0m133 1h0m-137 0h0m-75 0h0m-3 0h0m-94 0h0m-21 0h0m-32 0h0m-5 0h0m-4 0h0m-35 0h0m-19 0h0m-65 0h0m-8 1h0m2 0h0m30 0h0m12 0h0m15 0h0m24 0h0m7 0h0m6 0h0m3 0h0m4 0h0m2 0h0m17 0h0m18 0h0m15 0h0m33 0h0m11 0h0m28 0h0m23 0h0m1 0h0m12 0h0m15 0h0m4 0h0m90 0h0m16 0h0m38 1h0m-48 0h0m-95 0h0m-5 0h0m-3 0h0m-3 0h0m-1 0h0m-72 0h0m-10 0h0m-2 0h0m-15 0h0m-24 0h0m-2 0h0m-36 0h0m-13 0h0m-10 0h0m-7 0h0m-3 0h0m-21 0h0m-4 0h0m-37 0h0m-16 0h0m-2 1h0m18 0h0m43 0h0m103 0h0m92 1h0m-22 0h0m-25 0h0m-6 0h0m-26 0h0m-28 0h0m-14 0h0m-5 0h0m-3 0h0m-6 0h0m-5 0h0m-8 0h0m-9 0h0m-19 0h0m-23 0h0m-16 0h0m-5 0h0m-9 0h0m-23 1h0m6 0h0m38 0h0m18 0h0m32 0h0m38 0h0m6 0h0m17 0h0m1 0h0m57 0h0m16 0h0m31 0h0m12 0h0m24 0h0m20 0h0m26 0h0m434 0h0m-375 1h0m-60 0h0m-8 0h0m-32 0h0m-11 0h0m-42 0h0m-18 0h0m-22 0h0m-26 0h0m-28 0h0m-19 0h0m-3 0h0m-20 0h0m-11 0h0m-13 0h0m-1 0h0m-13 0h0m-13 0h0m-11 0h0m-16 0h0m-20 0h0m-22 1h0m11 0h0m10 0h0m27 0h0m19 0h0m18 0h0m19 0h0m18 0h0m19 0h0m18 0h0m12 0h0m44 0h0m21 0h0m15 0h0m1 0h0m110 0h0m29 0h0m30 0h0m17 0h0m-155 1h0m-20 0h0m-38 0h0m-26 0h0m-6 0h0m-2 0h0m-59 0h0m-6 0h0m-40 0h0m-6 0h0m-6 0h0m-19 0h0m-42 1h0m17 0h0m7 0h0m27 0h0m38 0h0m2 0h0m13 0h0m18 0h0m19 0h0m21 0h0m19 0h0m14 0h0m5 0h0m50 0h0m100 0h0m78 0h0m17 1h0m-4 0h0m-30 0h0m-10 0h0m-5 0h0m-76 0h0m-89 0h0m-12 0h0m-71 0h0m-9 0h0m-8 0h0m-14 0h0m-23 0h0m-10 0h0m-16 0h0m-19 0h0m-53 1h0m14 0h0m11 0h0m7 0h0m53 0h0m5 0h0m13 0h0m15 0h0m32 0h0m25 0h0m9 0h0m22 0h0m59 0h0m11 0h0m20 0h0m39 0h0m8 0h0m12 0h0m71 0h0m7 0h0m-205 1h0m-60 0h0m-30 0h0m-38 0h0m-7 0h0m-6 0h0m-5 0h0m-3 0h0m-30 0h0m-1 0h0m-12 0h0m-17 0h0m-15 0h0m53 1h0m267 0h0m71 0h0m34 1h0m-96 0h0m-11 0h0m-36 0h0m-10 0h0m-28 0h0m-3 0h0m-40 0h0m-4 0h0m-4 0h0m-43 0h0m-7 0h0m-3 0h0m-22 0h0m-10 0h0m-28 0h0m-3 0h0m-21 0h0m-32 0h0m-18 0h0m-15 0h0m-2 0h0m38 1h0m13 0h0m32 0h0m12 0h0m17 0h0m7 0h0m6 0h0m13 0h0m25 0h0m3 0h0m44 0h0m38 0h0m37 0h0m29 0h0m56 1h0m-18 0h0m-6 0h0m-81 0h0m-42 0h0m-76 0h0m-28 0h0m-10 0h0m-12 0h0m-10 0h0m-17 0h0m-4 0h0m-6 0h0m-12 0h0m-1 0h0m-48 1h0m13 0h0m25 0h0m24 0h0m47 0h0m11 0h0m2 0h0m11 0h0m15 0h0m58 0h0m7 0h0m7 0h0m19 0h0m1 0h0m11 0h0m142 0h0m58 0h0m-61 1h0m-74 0h0m-29 0h0m-26 0h0m-8 0h0m-55 0h0m-17 0h0m-2 0h0m-11 0h0m-36 0h0m-25 0h0m-9 0h0m-17 0h0m-11 0h0m-15 0h0m-19 0h0m-20 1h0m14 0h0m4 0h0m21 0h0m5 0h0m6 0h0m28 0h0m8 0h0m7 0h0m49 0h0m9 0h0m9 0h0m11 0h0m7 0h0m56 0h0m22 0h0m55 0h0m6 0h0m25 0h0m28 0h0m22 0h0m-75 1h0m-136 0h0m-13 0h0m-16 0h0m-28 0h0m-34 0h0m-53 0h0m-21 0h0m-9 1h0m33 0h0m8 0h0m8 0h0m5 0h0m13 0h0m13 0h0m20 0h0m12 0h0m2 0h0m15 0h0m72 0h0m5 0h0m21 0h0m21 0h0m3 0h0m8 0h0m10 0h0m18 0h0m9 0h0m141 0h0m-78 1h0m-76 0h0m-11 0h0m-17 0h0m-30 0h0m-7 0h0m-47 0h0m-16 0h0m-5 0h0m-23 0h0m-16 0h0m-26 0h0m-10 0h0m-4 0h0m-1 0h0m-26 0h0m-8 0h0m-9 0h0m-3 0h0m-19 0h0m-9 1h0m5 0h0m20 0h0m4 0h0m2 0h0m3 0h0m4 0h0m12 0h0m2 0h0m15 0h0m12 0h0m34 0h0m3 0h0m17 0h0m18 0h0m17 0h0m45 0h0m19 0h0m41 0h0m1 0h0m18 0h0m66 0h0m-168 1h0m-12 0h0m-117 0h0m-18 0h0m-19 0h0m-9 0h0m-9 0h0m-3 0h0m-17 1h0m1 0h0m17 0h0m10 0h0m14 0h0m14 0h0m13 0h0m19 0h0m5 0h0m15 0h0m1 0h0m18 0h0m15 0h0m9 0h0m23 0h0m17 0h0m28 0h0m11 0h0m57 0h0m18 0h0m67 0h0m-50 1h0m-15 0h0m-12 0h0m-40 0h0m-5 0h0m-36 0h0m-27 0h0m-33 0h0m-39 0h0m-54 0h0m-22 0h0m-1 0h0m-3 0h0m-32 0h0m22 1h0m34 0h0m1 0h0m8 0h0m5 0h0m16 0h0m16 0h0m34 0h0m11 0h0m8 0h0m8 0h0m9 0h0m27 0h0m820 1h0m-683 0h0m-42 0h0m-14 0h0m-22 0h0m-18 0h0m-28 0h0m-19 0h0m-33 0h0m-40 0h0m-6 0h0m-16 0h0m-8 0h0m-3 0h0m-7 0h0m-14 0h0m-19 0h0m-1 0h0m-4 0h0m-12 0h0m-12 0h0m-18 0h0m28 1h0m50 0h0m18 0h0m66 0h0m40 0h0m14 0h0m65 0h0m174 1h0m-124 0h0m-2 0h0m-31 0h0m-9 0h0m-117 0h0m-14 0h0m-13 0h0m-13 0h0m-12 0h0m-26 0h0m-14 0h0m-2 0h0m-27 0h0m-18 0h0m-18 0h0m-15 0h0m-2 0h0m39 1h0m22 0h0m43 0h0m13 0h0m45 0h0m143 1h0m-12 0h0m-20 0h0m-7 0h0m-39 0h0m-15 0h0m-62 0h0m-3 0h0m-11 0h0m-13 0h0m-2 0h0m-10 0h0m-6 0h0m-29 0h0m-3 0h0m-70 0h0m-4 0h0m-4 0h0m1 1h0m16 0h0m38 0h0m1 0h0m5 0h0m2 0h0m6 0h0m6 0h0m3 0h0m5 0h0m12 0h0m10 0h0m2 0h0m7 0h0m19 0h0m5 0h0m1 0h0m21 0h0m25 0h0m11 0h0m41 0h0m22 0h0m18 0h0m30 0h0m138 1h0m-162 0h0m-38 0h0m-19 0h0m-39 0h0m-8 0h0m-11 0h0m-19 0h0m-9 0h0m-19 0h0m-10 0h0m-19 0h0m-11 0h0m-24 0h0m-20 0h0m-22 0h0m10 1h0m4 0h0m2 0h0m7 0h0m8 0h0m11 0h0m2 0h0m4 0h0m11 0h0m6 0h0m25 0h0m17 0h0m10 0h0m3 0h0m4 0h0m11 0h0m38 0h0m44 0h0m8 0h0m16 0h0m48 0h0m9 0h0m13 0h0m43 0h0m-83 1h0m-7 0h0m-1 0h0m-32 0h0m-21 0h0m-5 0h0m-27 0h0m-18 0h0m-15 0h0m-10 0h0m-37 0h0m-37 0h0m-19 0h0m-9 0h0m-36 0h0m19 1h0m6 0h0m9 0h0m19 0h0m8 0h0m10 0h0m9 0h0m19 0h0m57 0h0m8 0h0m57 0h0m17 0h0m33 0h0m3 0h0m46 0h0m75 0h0m-148 1h0m-29 0h0m-63 0h0m-12 0h0m-14 0h0m-10 0h0m-59 0h0m-1 0h0m-36 0h0m-6 0h0m-21 0h0m16 1h0m6 0h0m5 0h0m16 0h0m10 0h0m30 0h0m2 0h0m15 0h0m14 0h0m2 0h0m9 0h0m73 0h0m6 0h0m27 0h0m34 0h0m6 0h0m43 0h0m209 0h0m0 1h0m-84 0h0m-10 0h0m-45 0h0m-144 0h0m-43 0h0m-86 0h0m-7 0h0m-8 0h0m-16 0h0m-36 0h0m-12 0h0m-9 0h0m-29 1h0m21 0h0m16 0h0m4 0h0m6 0h0m8 0h0m18 0h0m22 0h0m31 0h0m36 0h0m23 0h0m67 0h0m10 0h0m44 0h0m1 0h0m2 0h0m-40 1h0m-42 0h0m-114 0h0m-14 0h0m-29 0h0m-41 0h0m-10 0h0m-23 1h0m1 0h0m28 0h0m12 0h0m3 0h0m57 0h0m11 0h0m1 0h0m7 0h0m7 0h0m4 0h0m31 0h0m5 0h0m165 0h0m24 0h0m35 0h0m18 0h0m124 0h0m-116 1h0m-29 0h0m-40 0h0m-70 0h0m-21 0h0m-18 0h0m-40 0h0m-6 0h0m-18 0h0m-2 0h0m-8 0h0m-25 0h0m-2 0h0m-15 0h0m-7 0h0m-7 0h0m-49 0h0m-6 0h0m-5 0h0m-3 0h0m-6 0h0m-6 0h0m-22 0h0m-3 1h0m23 0h0m5 0h0m30 0h0m12 0h0m11 0h0m47 0h0m23 0h0m28 0h0m27 0h0m813 1h0m-585 0h0m-23 0h0m-46 0h0m-75 0h0m-74 0h0m-46 0h0m-18 0h0m-2 0h0m-12 0h0m-37 0h0m-4 0h0m-12 0h0m-20 0h0m-27 0h0m-10 0h0m-2 0h0m-26 0h0m-2 1h0m3 0h0m2 0h0m5 0h0m11 0h0m11 0h0m5 0h0m4 0h0m6 0h0m18 0h0m13 0h0m10 0h0m1 0h0m6 0h0m14 0h0m73 0h0m10 0h0m22 0h0m18 0h0m5 0h0m3 0h0m17 0h0m34 0h0m144 1h0m-90 0h0m-45 0h0m-33 0h0m-34 0h0m-45 0h0m-23 0h0m-18 0h0m-28 0h0m-10 0h0m-7 0h0m-24 0h0m-25 0h0m-34 0h0m-8 0h0m-1 0h0m-12 0h0m7 1h0m30 0h0m5 0h0m22 0h0m5 0h0m33 0h0m2 0h0m23 0h0m3 0h0m6 0h0m5 0h0m62 0h0m33 0h0m62 0h0m11 0h0m78 0h0m33 0h0m67 0h0m24 1h0m-99 0h0m-99 0h0m-33 0h0m-53 0h0m-11 0h0m-11 0h0m-23 0h0m-1 0h0m-39 0h0m-11 0h0m-16 0h0m-17 0h0m-16 0h0m-24 0h0m-8 0h0m-18 0h0m-7 0h0m-18 0h0m-12 1h0m52 0h0m1 0h0m13 0h0m19 0h0m21 0h0m13 0h0m27 0h0m82 0h0m23 0h0m223 1h0m-54 0h0m-125 0h0m-10 0h0m-26 0h0m-39 0h0m-26 0h0m-4 0h0m-40 0h0m-7 0h0m-37 0h0m-7 0h0m-5 0h0m-5 0h0m-13 0h0m-28 0h0m-18 0h0m4 1h0m3 0h0m10 0h0m12 0h0m4 0h0m2 0h0m9 0h0m21 0h0m7 0h0m10 0h0m31 0h0m20 0h0m2 0h0m55 0h0m4 0h0m15 0h0m2 0h0m79 0h0m-18 1h0m-79 0h0m-12 0h0m-16 0h0m-5 0h0m-4 0h0m-1 0h0m-25 0h0m-5 0h0m-3 0h0m-17 0h0m-1 0h0m-6 0h0m-7 0h0m-4 0h0m-7 0h0m-1 0h0m-19 0h0m-2 0h0m-21 0h0m-11 0h0m-29 0h0m-3 0h0m-21 0h0m38 1h0m1 0h0m9 0h0m29 0h0m3 0h0m21 0h0m14 0h0m13 0h0m15 0h0m23 0h0m63 0h0m12 0h0m7 0h0m21 0h0m42 0h0m105 0h0m-65 1h0m-3 0h0m-41 0h0m-82 0h0m-15 0h0m-58 0h0m-5 0h0m-16 0h0m-4 0h0m-8 0h0m-3 0h0m-9 0h0m-7 0h0m-1 0h0m-8 0h0m-4 0h0m-25 0h0m-25 0h0m-1 0h0m-15 0h0m-15 0h0m7 1h0m9 0h0m24 0h0m3 0h0m26 0h0m46 0h0m16 0h0m36 0h0m26 0h0m42 0h0m14 0h0m6 0h0m41 0h0m5 0h0m104 1h0m-62 0h0m-27 0h0m-16 0h0m-75 0h0m-17 0h0m-26 0h0m-50 0h0m-15 0h0m-16 0h0m-45 0h0m-14 0h0m-32 0h0m-1 0h0m-4 0h0m-3 1h0m5 0h0m16 0h0m11 0h0m1 0h0m32 0h0m8 0h0m71 0h0m20 0h0m61 0h0m20 0h0m17 0h0m44 0h0m107 0h0m-115 1h0m-27 0h0m-53 0h0m-20 0h0m-20 0h0m-20 0h0m-19 0h0m-24 0h0m-17 0h0m-7 0h0m-46 0h0m-47 0h0m1 1h0m47 0h0m1 0h0m41 0h0m4 0h0m15 0h0m17 0h0m47 0h0m10 0h0m4 0h0m10 0h0m31 0h0m15 0h0m60 0h0m37 0h0m60 1h0m-101 0h0m-57 0h0m-9 0h0m-15 0h0m-33 0h0m-39 0h0m-31 0h0m-42 0h0m-17 0h0m-59 0h0m2 1h0m14 0h0m8 0h0m32 0h0m18 0h0m15 0h0m23 0h0m6 0h0m16 0h0m14 0h0m6 0h0m16 0h0m7 0h0m13 0h0m19 0h0m3 0h0m4 0h0m33 0h0m2 0h0m10 0h0m84 0h0m43 1h0m-14 0h0m-29 0h0m-74 0h0m-8 0h0m-33 0h0m-144 0h0m-2 0h0m-27 0h0m-7 0h0m-2 0h0m-10 0h0m-5 0h0m-2 1h0m9 0h0m14 0h0m28 0h0m11 0h0m18 0h0m15 0h0m10 0h0m11 0h0m3 0h0m5 0h0m3 0h0m34 0h0m49 0h0m12 0h0m1 0h0m13 0h0m51 1h0m-14 0h0m-28 0h0m-14 0h0m-127 0h0m-2 0h0m-26 0h0m-8 0h0m-23 0h0m-9 0h0m-13 0h0m-3 0h0m-24 0h0m-17 0h0m24 1h0m14 0h0m14 0h0m14 0h0m9 0h0m46 0h0m28 0h0m15 0h0m69 0h0m14 0h0m20 0h0m116 1h0m-87 0h0m-27 0h0m-9 0h0m-6 0h0m-13 0h0m-5 0h0m-19 0h0m-3 0h0m-43 0h0m-3 0h0m-6 0h0m-2 0h0m-35 0h0m-8 0h0m-55 0h0m-11 0h0m-16 0h0m-40 0h0m10 1h0m23 0h0m19 0h0m11 0h0m1 0h0m24 0h0m5 0h0m12 0h0m1 0h0m1 0h0m17 0h0m8 0h0m2 0h0m3 0h0m6 0h0m8 0h0m8 0h0m2 0h0m18 0h0m36 0h0m26 0h0m27 0h0m2 0h0m18 0h0m23 0h0m25 0h0m116 1h0m-54 0h0m-59 0h0m-72 0h0m-31 0h0m-45 0h0m-49 0h0m-5 0h0m-18 0h0m-31 0h0m-5 0h0m-17 0h0m-29 0h0m-7 0h0m-17 0h0m-22 1h0m1 0h0m52 0h0m1 0h0m8 0h0m17 0h0m9 0h0m32 0h0m40 0h0m17 0h0m17 0h0m20 0h0m51 0h0m12 0h0m24 0h0m-26 1h0m-43 0h0m-21 0h0m-11 0h0m-24 0h0m-18 0h0m-37 0h0m-19 0h0m-39 0h0m-3 0h0m-38 1h0m10 0h0m17 0h0m17 0h0m21 0h0m14 0h0m18 0h0m74 0h0m83 0h0m14 0h0m82 1h0m-43 0h0m-38 0h0m-5 0h0m-8 0h0m-52 0h0m-43 0h0m-9 0h0m-43 0h0m-8 0h0m-9 0h0m-86 0h0m-2 0h0m-6 0h0m-6 0h0m-3 0h0m-4 0h0m-8 1h0m77 0h0m5 0h0m3 0h0m26 0h0m17 0h0m5 0h0m29 0h0m22 0h0m26 0h0m19 0h0m85 1h0m-45 0h0m-12 0h0m-59 0h0m-18 0h0m-29 0h0m-9 0h0m-3 0h0m-9 0h0m-32 0h0m-9 0h0m-13 0h0m-12 0h0m-13 0h0m-12 0h0m-9 0h0m-4 0h0m-3 0h0m-10 0h0m-12 0h0m18 1h0m5 0h0m2 0h0m2 0h0m16 0h0m4 0h0m5 0h0m23 0h0m3 0h0m15 0h0m1 0h0m3 0h0m4 0h0m16 0h0m1 0h0m9 0h0m20 0h0m24 0h0m29 0h0m13 0h0m8 0h0m4 0h0m21 0h0m70 0h0m41 0h0m19 1h0m-35 0h0m-63 0h0m-2 0h0m-59 0h0m-6 0h0m-65 0h0m-15 0h0m-18 0h0m-98 0h0m-11 0h0m-5 0h0m11 1h0m51 0h0m18 0h0m12 0h0m12 0h0m6 0h0m30 0h0m2 0h0m11 0h0m5 0h0m7 0h0m36 0h0m6 0h0m10 0h0m33 0h0m5 0h0m19 0h0m61 0h0m12 0h0m37 0h0m24 1h0m-64 0h0m-75 0h0m-20 0h0m-20 0h0m-8 0h0m-23 0h0m-60 0h0m-4 0h0m-93 0h0m-24 0h0m-6 0h0m25 1h0m19 0h0m16 0h0m29 0h0m33 0h0m15 0h0m1 0h0m63 0h0m15 0h0m16 0h0m17 0h0m143 0h0m133 1h0m-252 0h0m-31 0h0m-21 0h0m-10 0h0m-21 0h0m-15 0h0m-4 0h0m-7 0h0m-2 0h0m-13 0h0m-27 0h0m-4 0h0m-5 0h0m-11 0h0m-6 0h0m-56 0h0m-29 0h0m-1 0h0m-17 0h0m-2 1h0m46 0h0m8 0h0m38 0h0m18 0h0m13 0h0m7 0h0m4 0h0m35 0h0m223 0h0m14 0h0m-150 1h0m-63 0h0m-6 0h0m-38 0h0m-10 0h0m-34 0h0m-9 0h0m-3 0h0m-17 0h0m-3 0h0m-60 0h0m-3 1h0m1 0h0m10 0h0m8 0h0m14 0h0m2 0h0m26 0h0m14 0h0m17 0h0m5 0h0m9 0h0m8 0h0m8 0h0m37 0h0m8 0h0m60 0h0m27 0h0m15 0h0m25 0h0m93 0h0m53 1h0m-62 0h0m-130 0h0m-7 0h0m-78 0h0m-18 0h0m-30 0h0m-44 0h0m-7 0h0m-7 0h0m-45 0h0m-3 1h0m12 0h0m41 0h0m8 0h0m12 0h0m20 0h0m14 0h0m22 0h0m3 0h0m5 0h0m23 0h0m2 0h0m33 0h0m7 0h0m17 0h0m2 0h0m3 0h0m10 0h0m11 0h0m32 0h0m12 0h0m17 1h0m-5 0h0m-15 0h0m-58 0h0m-30 0h0m-13 0h0m-12 0h0m-2 0h0m-34 0h0m-2 0h0m-5 0h0m-17 0h0m-12 0h0m-17 0h0m-3 0h0m-66 0h0m-3 0h0m-6 0h0m-4 0h0m-2 0h0m-17 0h0m60 1h0m20 0h0m18 0h0m23 0h0m72 0h0m309 0h0m-140 1h0m-105 0h0m-11 0h0m-42 0h0m-16 0h0m-5 0h0m-24 0h0m-9 0h0m-9 0h0m-10 0h0m-32 0h0m-2 0h0m-61 0h0m-11 0h0m-4 0h0m-6 0h0m-8 0h0m64 1h0m16 0h0m14 0h0m27 0h0m44 0h0m46 0h0m41 0h0m62 0h0m21 0h0m103 0h0m-89 1h0m-54 0h0m-14 0h0m-16 0h0m-70 0h0m-23 0h0m-4 0h0m-10 0h0m-13 0h0m-2 0h0m-3 0h0m-51 0h0m-42 0h0m-8 0h0m-30 0h0m-3 0h0m-13 0h0m4 1h0m7 0h0m106 0h0m107 0h0m13 0h0m13 0h0m-13 1h0m-71 0h0m-26 0h0m-2 0h0m-17 0h0m-20 0h0m-2 0h0m-2 0h0m-25 0h0m-1 0h0m-2 0h0m-17 0h0m-17 0h0m-3 0h0m-11 0h0m-2 0h0m-13 0h0m-7 1h0m76 0h0m9 0h0m29 0h0m13 0h0m16 0h0m16 0h0m78 0h0m71 0h0m58 0h0m19 0h0m-63 1h0m-3 0h0m-114 0h0m-28 0h0m-21 0h0m-2 0h0m-49 0h0m-26 0h0m-1 0h0m-7 0h0m-19 0h0m-27 0h0m-22 0h0m26 1h0m36 0h0m33 0h0m6 0h0m7 0h0m75 0h0m100 0h0m62 0h0m38 0h0m-43 1h0m-40 0h0m-72 0h0m-78 0h0m-24 0h0m-46 0h0m-2 0h0m-50 0h0m-5 0h0m-19 0h0m42 1h0m10 0h0m6 0h0m30 0h0m3 0h0m31 0h0m12 0h0m5 0h0m72 0h0m114 0h0m54 0h0m1 1h0m-35 0h0m-100 0h0m-18 0h0m-6 0h0m-30 0h0m-18 0h0m-23 0h0m-9 0h0m-4 0h0m-38 0h0m-9 0h0m-11 0h0m-13 0h0m-18 0h0m-4 0h0m-14 0h0m-18 0h0m-10 0h0m3 1h0m18 0h0m28 0h0m6 0h0m25 0h0m2 0h0m8 0h0m18 0h0m17 0h0m3 0h0m6 0h0m16 0h0m10 0h0m35 0h0m17 0h0m18 0h0m14 0h0m3 0h0m183 1h0m-34 0h0m-86 0h0m-18 0h0m-51 0h0m-2 0h0m-7 0h0m-26 0h0m-17 0h0m-19 0h0m-23 0h0m-50 0h0m-2 0h0m-18 0h0m-51 0h0m-20 0h0m-8 0h0m-3 1h0m2 0h0m7 0h0m22 0h0m46 0h0m34 0h0m10 0h0m9 0h0m26 0h0m194 1h0m-7 0h0m-50 0h0m-10 0h0m-37 0h0m-49 0h0m-31 0h0m-19 0h0m-44 0h0m-24 0h0m-22 0h0m-11 0h0m-24 0h0m-8 0h0m-10 0h0m-2 0h0m20 1h0m4 0h0m5 0h0m20 0h0m26 0h0m11 0h0m3 0h0m13 0h0m65 0h0m36 0h0m18 0h0m26 0h0m5 0h0m16 0h0m98 0h0m33 0h0m-80 1h0m-25 0h0m-54 0h0m-16 0h0m-107 0h0m-16 0h0m-12 0h0m-66 0h0m-2 0h0m-4 0h0m-18 1h0m78 0h0m7 0h0m10 0h0m15 0h0m17 0h0m14 0h0m35 0h0m12 0h0m125 0h0m9 0h0m4 0h0m16 0h0m89 1h0m-124 0h0m-62 0h0m-109 0h0m-35 0h0m-1 0h0m-13 0h0m-16 0h0m-46 0h0m-7 0h0m-2 0h0m-19 0h0m63 1h0m43 0h0m17 0h0m8 0h0m136 0h0m15 0h0m9 0h0m36 0h0m105 1h0m-7 0h0m-194 0h0m-25 0h0m-42 0h0m-12 0h0m-5 0h0m-3 0h0m-17 0h0m-5 0h0m-34 0h0m-21 0h0m-16 0h0m-24 0h0m-20 0h0m-6 0h0m15 1h0m9 0h0m3 0h0m15 0h0m11 0h0m3 0h0m43 0h0m32 0h0m112 0h0m20 0h0m9 0h0m29 0h0m86 0h0m43 1h0m-7 0h0m-78 0h0m-33 0h0m-23 0h0m-56 0h0m-28 0h0m-24 0h0m-5 0h0m-14 0h0m-18 0h0m-20 0h0m-18 0h0m-19 0h0m-6 0h0m-83 0h0m6 1h0m12 0h0m28 0h0m23 0h0m9 0h0m23 0h0m4 0h0m19 0h0m106 0h0m9 0h0m32 0h0m9 0h0m14 0h0m41 0h0m5 1h0m-71 0h0m-24 0h0m-12 0h0m-2 0h0m-19 0h0m-24 0h0m-18 0h0m-63 0h0m-23 0h0m-14 0h0m-41 0h0m-6 1h0m14 0h0m27 0h0m23 0h0m17 0h0m49 0h0m13 0h0m5 0h0m40 0h0m21 0h0m27 0h0m3 0h0m76 0h0m92 1h0m-52 0h0m-78 0h0m-12 0h0m-91 0h0m-6 0h0m-2 0h0m-18 0h0m-54 0h0m-36 0h0m-37 0h0m-38 0h0m-10 1h0m23 0h0m10 0h0m18 0h0m66 0h0m16 0h0m1 0h0m46 0h0m34 0h0m29 0h0m3 0h0m9 0h0m59 0h0m5 0h0m113 1h0m-123 0h0m-55 0h0m-20 0h0m-80 0h0m-19 0h0m-8 0h0m-4 0h0m-50 0h0m-15 0h0m-22 0h0m-33 1h0m4 0h0m58 0h0m27 0h0m33 0h0m15 0h0m6 0h0m12 0h0m15 0h0m4 0h0m24 0h0m4 0h0m60 0h0m47 0h0m35 0h0m-68 1h0m-51 0h0m-27 0h0m-71 0h0m-6 0h0m-93 0h0m-9 0h0m-12 0h0m-9 0h0m71 1h0m49 0h0m11 0h0m35 0h0m53 0h0m27 0h0m46 0h0m92 0h0m-34 1h0m-10 0h0m-57 0h0m-9 0h0m-14 0h0m-11 0h0m-4 0h0m-41 0h0m-11 0h0m-23 0h0m-29 0h0m-22 0h0m-16 0h0m-14 0h0m-54 0h0m-11 0h0m-16 0h0m4 1h0m5 0h0m5 0h0m26 0h0m11 0h0m6 0h0m7 0h0m14 0h0m3 0h0m24 0h0m37 0h0m7 0h0m14 0h0m22 0h0m21 0h0m8 0h0m57 0h0m42 0h0m22 0h0m-52 1h0m-94 0h0m-11 0h0m-14 0h0m-28 0h0m-29 0h0m-13 0h0m-21 0h0m-21 0h0m-19 0h0m-4 0h0m-10 0h0m-11 0h0m-5 1h0m12 0h0m8 0h0m4 0h0m14 0h0m2 0h0m5 0h0m20 0h0m3 0h0m18 0h0m15 0h0m3 0h0m23 0h0m32 0h0m30 0h0m21 0h0m33 0h0m29 0h0m41 0h0m-37 1h0m-20 0h0m-80 0h0m-20 0h0m-40 0h0m-5 0h0m-8 0h0m-22 0h0m-10 0h0m-27 0h0m-43 0h0m-8 0h0m1 1h0m61 0h0m31 0h0m7 0h0m10 0h0m22 0h0m11 0h0m24 0h0m23 0h0m13 0h0m133 0h0m-20 1h0m-45 0h0m-7 0h0m-68 0h0m-24 0h0m-32 0h0m-5 0h0m-14 0h0m-37 0h0m-7 0h0m-50 0h0m-3 0h0m-11 0h0m-5 0h0m-3 0h0m-6 0h0m0 1h0m18 0h0m9 0h0m5 0h0m18 0h0m4 0h0m7 0h0m8 0h0m3 0h0m22 0h0m44 0h0m5 0h0m24 0h0m24 0h0m21 0h0m39 0h0m11 0h0m14 0h0m33 0h0m6 0h0m-86 1h0m-15 0h0m-46 0h0m-22 0h0m-13 0h0m-26 0h0m-13 0h0m-13 0h0m-35 0h0m-7 0h0m-5 0h0m-23 0h0m-12 1h0m23 0h0m17 0h0m10 0h0m16 0h0m4 0h0m4 0h0m11 0h0m18 0h0m5 0h0m8 0h0m16 0h0m10 0h0m7 0h0m5 0h0m5 0h0m17 0h0m17 0h0m11 0h0m11 0h0m-11 1h0m-6 0h0m-5 0h0m-58 0h0m-12 0h0m-12 0h0m-16 0h0m-4 0h0m-12 0h0m-24 0h0m-9 0h0m-3 0h0m-30 0h0m-5 0h0m-11 0h0m5 1h0m13 0h0m3 0h0m2 0h0m13 0h0m12 0h0m3 0h0m16 0h0m15 0h0m16 0h0m42 0h0m4 0h0m11 0h0m5 0h0m5 0h0m72 0h0m35 1h0m-46 0h0m-20 0h0m-34 0h0m-36 0h0m-9 0h0m-14 0h0m-41 0h0m-30 0h0m-12 0h0m-21 0h0m4 1h0m32 0h0m20 0h0m11 0h0m4 0h0m4 0h0m7 0h0m3 0h0m4 0h0m14 0h0m42 0h0m110 0h0m8 0h0m-52 1h0m-5 0h0m-14 0h0m-72 0h0m-21 0h0m-7 0h0m-3 0h0m-14 0h0m-31 0h0m-9 0h0m-5 0h0m-8 0h0m-9 0h0m-12 1h0m11 0h0m10 0h0m5 0h0m3 0h0m30 0h0m6 0h0m10 0h0m23 0h0m27 0h0m5 0h0m6 0h0m86 0h0m31 0h0m3 0h0m-44 1h0m-46 0h0m-103 0h0m-22 0h0m-25 0h0m-2 0h0m-8 0h0m-5 0h0m-8 0h0m23 1h0m12 0h0m42 0h0m21 0h0m57 0h0m16 0h0m19 0h0m79 0h0m76 0h0m-139 1h0m-12 0h0m-68 0h0m-57 0h0m-16 0h0m-13 0h0m-5 0h0m-13 0h0m-21 0h0m0 1h0m1 0h0m11 0h0m12 0h0m8 0h0m6 0h0m3 0h0m6 0h0m73 0h0m91 0h0m0 1h0m-27 0h0m-93 0h0m-78 1h0m19 0h0m8 0h0m12 0h0m20 0h0m6 0h0m25 0h0m22 0h0m3 1h0m-32 0h0m-6 0h0m-78 1h0m23 0h0m30 0h0m6 0h0m17 0h0" stroke-width="4.20"/><path d="M349 457h0m140 0h0m47 0h0m47 0h0m23 0h0m24 0h0m46 0h0m-27 1h0m-19 0h0m-32 0h0m-6 0h0m-77 0h0m-1 0h0m-21 0h0m-16 0h0m-5 0h0m-14 0h0m-28 0h0m-10 0h0m-11 0h0m-8 0h0m-13 0h0m-44 0h0m16 1h0m17 0h0m52 0h0m8 0h0m7 0h0m9 0h0m11 0h0m18 0h0m3 0h0m33 0h0m86 0h0m42 0h0m48 0h0m-18 1h0m-46 0h0m-69 0h0m-14 0h0m-54 0h0m-27 0h0m-45 0h0m-13 0h0m-6 0h0m-17 0h0m-5 0h0m-7 0h0m-8 1h0m157 0h0m307 2h0m-60 0h0m-69 0h0m-24 0h0m-16 0h0m-3 0h0m-40 0h0m-3 0h0m-8 0h0m-55 0h0m-2 0h0m-40 0h0m-18 0h0m-49 0h0m-6 0h0m-3 0h0m-17 0h0m-17 0h0m-30 0h0m-1 0h0m-9 0h0m-5 0h0m-9 0h0m-3 0h0m-7 0h0m-5 3h0m27 0h0m181 1h0m-117 0h0m-22 0h0m-39 0h0m-25 1h0m2 0h0m37 0h0m8 0h0m5 0h0m6 0h0m5 0h0m6 0h0m26 0h0m8 0h0m10 0h0m19 0h0m55 0h0m1 0h0m17 0h0m237 0h0m-12 1h0m-122 0h0m-61 0h0m-40 0h0m-21 0h0m-20 0h0m-20 0h0m-41 0h0m-10 0h0m-30 0h0m-32 1h0m13 0h0m44 0h0m36 0h0m15 0h0m6 0h0m39 0h0m24 0h0m51 0h0m15 0h0m10 0h0m25 0h0m10 0h0m41 0h0m76 0h0m-53 1h0m-29 0h0m-28 0h0m-63 0h0m-153 0h0m-15 0h0m-101 0h0m16 1h0m31 0h0m31 0h0m93 0h0m316 1h0m-67 0h0m-67 0h0m-33 0h0m-17 0h0m-82 0h0m-18 0h0m-34 0h0m-33 0h0m-60 0h0m-7 0h0m-30 0h0m-4 0h0m-14 0h0m-14 0h0m-4 0h0m-6 0h0m87 1h0m38 0h0m2 0h0m80 0h0m126 0h0m174 0h0m-255 1h0m-89 0h0m-34 0h0m-54 0h0m-22 0h0m-45 0h0m24 1h0m107 0h0m441 1h0m-380 0h0m-33 0h0m-58 0h0m-41 0h0m-66 0h0m1 1h0m18 0h0m89 0h0m54 0h0m19 0h0m143 0h0m18 0h0m179 0h0m-32 1h0m-84 0h0m-57 0h0m-32 0h0m-19 0h0m-5 0h0m-28 0h0m-26 0h0m-2 0h0m-38 0h0m-19 0h0m-28 0h0m-12 0h0m-2 0h0m-17 0h0m-11 0h0m-9 0h0m-47 0h0m-32 0h0m6 1h0m15 0h0m15 0h0m59 0h0m153 0h0m60 1h0m-174 0h0m-22 0h0m-9 0h0m-121 0h0m19 1h0m125 0h0m42 0h0m228 1h0m-122 0h0m-24 0h0m-24 0h0m-2 0h0m-23 0h0m-24 0h0m-6 0h0m-17 0h0m-1 0h0m-35 0h0m-14 0h0m-104 0h0m-23 0h0m56 1h0m119 0h0m119 0h0m151 1h0m-38 0h0m-201 0h0m-6 0h0m-43 0h0m-2 0h0m-14 0h0m-55 0h0m-9 0h0m-38 0h0m-32 0h0m-7 0h0m7 1h0m136 0h0m16 0h0m96 0h0m28 0h0m137 0h0m-13 1h0m-149 0h0m-22 0h0m-22 0h0m-21 0h0m-21 0h0m-1 0h0m-42 0h0m-21 0h0m-22 0h0m-21 0h0m-43 0h0m-6 2h0m19 0h0m19 0h0m6 0h0m23 0h0m4 0h0m2 0h0m3 0h0m5 0h0m33 0h0m11 0h0m8 0h0m4 0h0m54 0h0m14 0h0m5 0h0m6 0h0m40 0h0m11 0h0m5 0h0m8 0h0m95 0h0m-141 1h0m-215 1h0m69 0h0m4 0h0m58 0h0m188 1h0m-42 0h0m-9 0h0m-33 0h0m-42 0h0m-15 0h0m-48 0h0m-42 0h0m-21 0h0m-20 0h0m-22 0h0m-32 0h0m-10 0h0m67 1h0m79 0h0m81 0h0m54 0h0m27 0h0m27 0h0m54 0h0m56 1h0m-75 0h0m-62 0h0m-32 0h0m-294 0h0m32 1h0m5 0h0m24 0h0m30 0h0m13 0h0m6 0h0m75 0h0m23 0h0m117 0h0m5 1h0m-77 0h0m-8 0h0m-67 0h0m-17 0h0m-41 0h0m-27 0h0m-34 0h0m-45 1h0m62 0h0m42 0h0m20 0h0m62 0h0m42 0h0m134 0h0m-275 1h0m-29 0h0m84 1h0m94 0h0m12 0h0m6 0h0m73 0h0m105 0h0m-90 1h0m-133 0h0m-67 0h0m-17 0h0m-70 0h0m-14 0h0m-25 0h0m-29 1h0m138 0h0m38 0h0m46 0h0m46 0h0m130 0h0m122 0h0m-226 1h0m-41 0h0m-71 0h0m-91 0h0m-9 0h0m-16 0h0m-36 0h0m-20 0h0m13 1h0m3 0h0m179 0h0m116 0h0m12 0h0m182 0h0m-200 1h0m-99 0h0m-9 0h0m-74 0h0m-29 0h0m-70 0h0m-17 0h0m6 1h0m111 0h0m42 0h0m124 0h0m91 0h0m-89 1h0m-20 0h0m-23 0h0m-8 0h0m-26 0h0m-11 0h0m-15 0h0m-26 0h0m-14 0h0m-35 0h0m-22 0h0m-32 0h0m-51 0h0m-8 0h0m9 1h0m26 0h0m10 0h0m50 0h0m21 0h0m36 0h0m3 0h0m20 0h0m60 0h0m100 0h0m-87 1h0m-65 0h0m-5 0h0m-30 0h0m-30 0h0m-17 0h0m-32 0h0m-10 0h0m-30 0h0m-6 0h0m-3 0h0m-11 0h0m9 1h0m13 0h0m12 0h0m100 0h0m296 3h0m-80 0h0m-75 0h0m-3 0h0m-23 0h0m-2 0h0m-16 0h0m-10 0h0m-2 0h0m-32 0h0m-42 0h0m-3 0h0m-34 0h0m-10 0h0m-3 0h0m-14 0h0m-23 0h0m-2 0h0m-2 0h0m-12 0h0m-2 0h0m-16 0h0m-13 0h0m-20 0h0m-12 3h0m3 0h0m54 0h0m13 0h0m13 0h0m14 0h0m13 0h0m27 0h0m13 0h0m113 0h0m30 1h0m-61 0h0m-19 0h0m-97 0h0m-38 0h0m-12 0h0m-17 0h0m-17 0h0m-12 0h0m-15 1h0m43 0h0m12 0h0m25 0h0m7 0h0m30 0h0m13 0h0m22 0h0m21 0h0m43 0h0m12 0h0m25 0h0m99 0h0m25 0h0m-47 1h0m-149 0h0m-39 0h0m-27 0h0m-88 0h0m69 1h0m409 1h0m-34 0h0m-138 0h0m-35 0h0m-17 0h0m-137 0h0m-35 0h0m-34 0h0m-26 1h0m23 0h0m72 0h0m19 0h0m346 1h0m-129 0h0m-106 0h0m-221 0h0m-29 0h0m-7 0h0m-2 1h0m10 0h0m24 0h0m17 0h0m10 0h0m31 0h0m47 0h0m41 0h0m24 0h0m73 0h0m25 0h0m24 0h0m49 0h0m-150 1h0m-50 0h0m-34 0h0m-17 0h0m-44 0h0m-52 0h0m-17 1h0m24 0h0m89 0h0m75 0h0m56 0h0m16 1h0m-21 0h0m-27 0h0m-58 0h0m-20 0h0m-11 0h0m-15 0h0m-31 0h0m-30 0h0m-31 0h0m-8 0h0m-21 0h0m20 1h0m34 0h0m89 0h0m195 0h0m34 0h0m-55 1h0m-238 0h0m-4 0h0m-20 0h0m-21 0h0m-3 0h0m-12 0h0m-35 0h0m87 1h0m68 0h0m8 0h0m11 0h0m18 0h0m62 0h0m12 0h0m18 0h0m19 0h0m55 0h0m-285 1h0m-55 0h0m43 1h0m5 0h0m66 0h0m4 0h0m7 0h0m6 0h0m70 0h0m34 0h0m55 0h0m-232 1h0m-72 1h0m36 0h0m19 0h0m36 0h0m19 0h0m17 0h0m73 0h0m73 0h0m139 1h0m-93 0h0m-94 0h0m-23 0h0m-23 0h0m-117 0h0m-56 1h0m39 0h0m21 0h0m20 0h0m40 0h0m25 0h0m16 0h0m20 0h0m21 0h0m61 0h0m20 0h0m79 0h0m2 0h0m62 0h0m-292 1h0m-23 0h0m-56 0h0m-29 0h0m-30 0h0m-1 0h0m23 1h0m9 0h0m4 0h0m49 0h0m5 0h0m94 0h0m45 0h0m54 0h0m63 0h0m54 0h0m54 0h0m-288 1h0m-64 0h0m-37 0h0m-43 0h0m-12 1h0m23 0h0m39 0h0m29 0h0m21 0h0m48 0h0m23 0h0m267 1h0m-260 0h0m-47 0h0m-73 0h0m-17 1h0m18 0h0m18 0h0m53 0h0m18 0h0m106 0h0m44 0h0m64 0h0m-344 1h0m-49 1h0m14 0h0m68 0h0m45 0h0m23 0h0m8 0h0m37 0h0m16 0h0m6 0h0m99 0h0m14 0h0m-49 1h0m-59 0h0m-31 0h0m-8 0h0m-20 0h0m-42 0h0m-76 0h0m-11 0h0m-9 0h0m-22 1h0m21 0h0m65 0h0m45 0h0m157 0h0m-268 1h0m-21 2h0m6 0h0m5 0h0m20 0h0m18 0h0m4 0h0m10 0h0m17 0h0m6 0h0m1 0h0m27 0h0m29 0h0m20 0h0m3 0h0m15 0h0m4 0h0m23 0h0m18 0h0m6 0h0m46 0h0m40 0h0m58 0h0m5 0h0m48 0h0m-148 2h0m-33 0h0m-10 0h0m-61 0h0m-28 0h0m-141 1h0m16 0h0m56 0h0m13 0h0m34 0h0m36 0h0m49 0h0m75 1h0m-4 0h0m-57 0h0m-4 0h0m-22 0h0m-22 0h0m-29 0h0m-38 0h0m-19 0h0m-19 0h0m-3 0h0m-16 0h0m-3 0h0m-3 0h0m-32 0h0m-11 0h0m32 1h0m180 0h0m25 0h0m101 0h0m79 1h0m-91 0h0m-60 0h0m-140 0h0m-126 1h0m33 0h0m17 0h0m24 0h0m60 0h0m67 0h0m217 0h0m78 1h0m-38 0h0m-244 0h0m-38 0h0m-53 0h0m-14 0h0m-8 0h0m-33 0h0m-4 0h0m-38 0h0m-6 0h0m-3 1h0m4 0h0m18 0h0m21 0h0m21 0h0m15 0h0m7 0h0m37 0h0m27 0h0m85 0h0m8 0h0m216 1h0m-223 0h0m-99 0h0m-141 0h0m-8 0h0m-1 1h0m7 0h0m42 0h0m120 0h0m275 0h0m-76 1h0m-59 0h0m-29 0h0m-59 0h0m-148 0h0m-13 0h0m-51 1h0m21 0h0m9 0h0m33 0h0m21 0h0m63 0h0m21 0h0m21 0h0m4 0h0m59 0h0m42 0h0m21 0h0m-173 1h0m-46 0h0m-84 1h0m24 0h0m7 0h0m3 0h0m29 0h0m10 0h0m24 0h0m146 0h0m207 0h0m-307 1h0m-16 0h0m-16 0h0m-5 0h0m-47 0h0m-12 0h0m-16 0h0m-16 0h0m-7 0h0m-14 0h0m-25 0h0m53 1h0m4 0h0m21 0h0m20 0h0m3 0h0m18 0h0m41 0h0m21 0h0m41 0h0m62 0h0m109 1h0m-86 0h0m-88 0h0m-18 0h0m-15 0h0m-33 0h0m-33 0h0m-62 0h0m-18 0h0m-36 0h0m3 1h0m68 0h0m71 0h0m95 0h0m8 0h0m-62 1h0m-114 0h0m-21 1h0m21 0h0m40 0h0m102 0h0m140 1h0m-18 0h0m-204 0h0m-62 0h0m-16 0h0m-7 0h0m-25 0h0m110 1h0m78 0h0m56 0h0m56 0h0m-20 1h0m-15 0h0m-32 0h0m-28 0h0m-40 0h0m-2 0h0m-78 0h0m-10 0h0m-30 0h0m-11 0h0m-35 0h0m-14 0h0m43 1h0m31 0h0m16 0h0m39 0h0m140 0h0m-132 1h0m-41 0h0m-65 0h0m-34 0h0m17 2h0m2 0h0m22 0h0m40 0h0m3 0h0m34 0h0m19 0h0m8 0h0m28 0h0m54 0h0m11 0h0m13 0h0m117 0h0m58 0h0m91 0h0m-371 3h0m-40 0h0m-21 0h0m-13 0h0m-32 0h0m-19 0h0m-17 0h0m4 1h0m8 0h0m15 0h0m4 0h0m19 0h0m67 0h0m11 0h0m12 0h0m7 0h0m15 0h0m24 0h0m19 0h0m2 0h0m17 0h0m34 0h0m17 0h0m22 0h0m23 0h0m45 0h0m-101 1h0m-27 0h0m-27 0h0m-13 0h0m-45 0h0m-15 0h0m-62 0h0m-17 0h0m-58 0h0m30 1h0m67 0h0m218 0h0m67 0h0m-203 1h0m-95 0h0m-19 0h0m-19 0h0m-19 0h0m-12 1h0m52 0h0m44 0h0m44 0h0m21 1h0m-83 0h0m-16 0h0m-17 0h0m-7 0h0m-9 0h0m-50 0h0m-4 1h0m14 0h0m19 0h0m57 0h0m18 0h0m10 0h0m9 0h0m38 0h0m18 0h0m2 0h0m36 0h0m16 0h0m53 0h0m106 0h0m-140 1h0m-15 0h0m-234 1h0m4 0h0m23 0h0m32 0h0m23 0h0m10 0h0m38 0h0m65 0h0m22 0h0m43 0h0m5 0h0m6 0h0m11 0h0m-125 1h0m-151 0h0m54 1h0m74 0h0m10 0h0m8 0h0m172 0h0m-107 1h0m-161 0h0m-44 1h0m5 0h0m43 0h0m43 0h0m42 0h0m59 0h0m70 0h0m106 0h0m22 0h0m16 1h0m-32 0h0m-64 0h0m-31 0h0m-53 0h0m-128 0h0m-4 0h0m-14 0h0m-40 0h0m-6 0h0m-27 0h0m-26 1h0m43 0h0m100 0h0m76 0h0m51 0h0m50 0h0m76 0h0m-166 1h0m-42 0h0m-42 0h0m-57 0h0m-6 0h0m-21 0h0m-42 0h0m3 1h0m18 0h0m18 0h0m18 0h0m17 0h0m9 0h0m16 0h0m11 0h0m108 0h0m36 0h0m-152 1h0m-120 2h0m10 0h0m4 0h0m6 0h0m33 0h0m35 0h0m14 0h0m4 0h0m6 0h0m19 0h0m53 0h0m6 0h0m18 0h0m25 0h0m14 0h0m5 0h0m49 0h0m7 0h0m6 0h0m43 0h0m8 0h0m83 0h0m124 0h0m-444 1h0m-44 0h0m-52 1h0m41 0h0m46 0h0m22 0h0m30 0h0m18 0h0m11 0h0m136 1h0m-183 0h0m-21 0h0m-60 0h0m-21 0h0m-40 0h0m19 1h0m73 0h0m24 0h0m25 0h0m8 0h0m40 0h0m32 0h0m65 0h0m73 0h0m-39 1h0m-45 0h0m-69 0h0m-37 0h0m-152 0h0m0 1h0m99 0h0m40 0h0m80 0h0m140 0h0m40 0h0m-139 1h0m-72 0h0m-24 0h0m-24 0h0m-71 0h0m-71 0h0m-1 0h0m51 1h0m34 0h0m34 0h0m84 0h0m120 1h0m-59 0h0m-128 0h0m-39 0h0m-20 0h0m-39 0h0m-25 0h0m-30 0h0m66 1h0m13 0h0m219 1h0m-4 0h0m-71 0h0m-23 0h0m-23 0h0m-71 0h0m-9 0h0m-14 0h0m-23 0h0m-27 1h0m4 0h0m33 0h0m44 0h0m33 0h0m290 0h0m-101 1h0m-243 0h0m-13 0h0m-86 0h0m2 1h0m115 0h0m51 0h0m21 0h0m230 0h0m-119 1h0m-21 0h0m-36 0h0m-91 0h0m-23 0h0m-20 0h0m-3 0h0m-16 0h0m-76 0h0m-15 1h0m213 0h0m-181 1h0m-9 1h0m7 0h0m14 0h0m13 0h0m6 0h0m13 0h0m3 0h0m17 0h0m51 0h0m277 0h0m-365 2h0m-52 1h0m38 0h0m7 0h0m22 0h0m27 0h0m17 0h0m38 0h0m6 0h0m22 0h0m23 0h0m22 0h0m22 0h0m44 0h0m44 0h0m25 1h0m-55 0h0m-55 0h0m-110 0h0m-55 0h0m-29 1h0m56 0h0m89 0h0m20 0h0m141 0h0m149 0h0m-308 2h0m-18 0h0m-12 0h0m-21 0h0m-14 0h0m-8 0h0m-22 0h0m-21 0h0m-4 0h0m-7 0h0m-11 0h0m-35 0h0m62 1h0m40 0h0m54 0h0m108 0h0m-297 1h0m-1 1h0m43 0h0m42 0h0m43 0h0m21 0h0m22 0h0m85 0h0m116 0h0m-19 1h0m-71 0h0m-230 0h0m130 1h0m26 0h0m26 0h0m27 0h0m132 0h0m35 1h0m-243 0h0m-42 0h0m-28 0h0m-35 0h0m-15 0h0m-6 0h0m-4 0h0m-17 0h0m-13 0h0m-8 0h0m19 1h0m89 0h0m143 1h0m-43 0h0m-5 0h0m-36 0h0m-11 0h0m-15 0h0m-21 0h0m-20 0h0m-4 0h0m-32 0h0m-6 0h0m-5 0h0m-4 0h0m-56 0h0m0 3h0m14 0h0m6 0h0m28 0h0m13 0h0m20 0h0m20 0h0m20 0h0m21 0h0m8 0h0m12 0h0m81 0h0m59 0h0m23 0h0m7 1h0m-126 0h0m-55 0h0m-46 0h0m-84 0h0m40 1h0m217 0h0m34 0h0m67 0h0m-203 1h0m-20 0h0m-10 0h0m-50 0h0m-20 0h0m-29 0h0m-31 0h0m-27 0h0m2 1h0m50 0h0m99 0h0m57 0h0m58 0h0m91 0h0m-137 1h0m-59 0h0m-39 0h0m-20 0h0m-5 0h0m-34 0h0m-40 0h0m9 1h0m179 0h0m62 1h0m-73 0h0m-48 0h0m-17 0h0m-20 0h0m-12 0h0m-24 0h0m-49 0h0m-12 0h0m-15 1h0m36 0h0m19 0h0m3 0h0m48 0h0m7 0h0m39 0h0m2 0h0m17 0h0m39 0h0m-201 1h0m-10 1h0m30 0h0m3 0h0m93 0h0m17 0h0m62 0h0m25 0h0m8 0h0m56 0h0m206 0h0m-311 2h0m-3 0h0m-40 0h0m-141 0h0m14 1h0m47 0h0m1 0h0m37 0h0m8 0h0m11 0h0m38 0h0m37 0h0m8 0h0m23 0h0m24 0h0m70 0h0m20 1h0m-140 0h0m-46 0h0m-47 0h0m-5 0h0m-59 0h0m-13 0h0m-7 1h0m89 0h0m59 0h0m55 0h0m245 1h0m-46 0h0m-161 0h0m-92 0h0m-46 0h0m-38 0h0m-8 0h0m-38 0h0m-21 0h0m-20 1h0m16 0h0m39 0h0m331 1h0m-121 0h0m-61 0h0m-207 1h0m9 0h0m23 0h0m22 0h0m1 0h0m17 0h0m5 0h0m7 0h0m16 0h0m25 0h0m20 0h0m22 0h0m90 0h0m158 0h0m-299 1h0m-48 0h0m-5 0h0m-28 2h0m86 0h0m35 0h0m130 0h0m162 0h0m-388 1h0m-58 1h0m27 0h0m17 0h0m53 0h0m11 0h0m22 0h0m10 0h0m9 0h0m3 0h0m21 0h0m11 0h0m11 0h0m6 0h0m16 0h0m22 0h0m119 1h0m-57 0h0m-29 0h0m-14 0h0m-72 0h0m-134 0h0m-39 0h0m10 1h0m35 0h0m55 0h0m48 0h0m79 1h0m-9 0h0m-86 0h0m-12 0h0m-28 0h0m-68 0h0m-12 0h0m-8 0h0m-14 0h0m19 1h0m70 0h0m28 0h0m56 0h0m29 0h0m28 0h0m56 0h0m-87 1h0m-51 0h0m-12 0h0m-21 0h0m-42 0h0m-21 0h0m-21 0h0m-34 0h0m16 2h0m69 0h0m11 0h0m79 0h0m37 0h0m11 0h0m27 0h0m69 0h0m-110 2h0m-61 0h0m-12 0h0m-9 0h0m-28 0h0m-23 0h0m-9 0h0m-61 0h0m-8 1h0m54 0h0m188 0h0m27 0h0m49 0h0m-309 1h0m28 1h0m128 0h0m16 0h0m23 0h0m140 0h0m-6 1h0m-79 0h0m-79 0h0m-27 0h0m-26 0h0m-53 0h0m-73 1h0m39 0h0m20 0h0m19 0h0m35 0h0m5 0h0m19 0h0m79 0h0m83 2h0m-103 0h0m-129 0h0m-5 0h0m-27 0h0m-4 0h0m58 1h0m250 1h0m-50 0h0m-51 0h0m-9 0h0m-16 0h0m-25 0h0m-51 0h0m-25 0h0m-24 0h0m-19 0h0m-57 0h0m-1 0h0m-1 1h0m99 0h0m25 0h0m6 0h0m37 0h0m-36 1h0m-136 1h0m1 0h0m18 0h0m32 0h0m25 0h0m24 0h0m11 0h0m14 0h0m25 0h0m25 0h0m10 0h0m14 0h0m100 0h0m-108 1h0m-184 1h0m38 0h0m43 0h0m30 0h0m43 0h0m6 0h0m78 0h0m92 0h0m-256 1h0m-87 0h0m22 1h0m36 0h0m12 0h0m37 0h0m35 0h0m23 0h0m48 0h0m2 0h0m22 0h0m95 0h0m-178 1h0m-116 1h0m28 0h0m125 0h0m89 0h0m-122 1h0m-60 0h0m-10 0h0m-7 0h0m-4 0h0m-12 0h0m-2 0h0m-45 0h0m-7 0h0m3 2h0m4 0h0m28 0h0m31 0h0m5 0h0m29 0h0m59 0h0m10 0h0m34 0h0m29 0h0m-78 1h0m-24 0h0m-17 0h0m-17 0h0m-34 0h0m-64 1h0m23 0h0m22 0h0m23 0h0m45 0h0m11 0h0m42 0h0m37 0h0m141 1h0m-133 0h0m-103 0h0m-66 0h0m-16 0h0m-33 0h0m3 1h0m23 0h0m22 0h0m15 0h0m7 0h0m22 0h0m22 0h0m22 0h0m22 0h0m54 0h0m-200 1h0m-12 1h0m21 0h0m44 0h0m76 0h0m65 0h0m54 0h0m76 0h0m685 0h0m-1013 1h0m-1 0h0m32 1h0m13 0h0m48 0h0m24 0h0m8 0h0m63 0h0m32 0h0m32 0h0m32 0h0m31 0h0m-162 1h0m-42 0h0m-67 2h0m124 0h0m25 0h0m47 0h0m62 0h0m-13 2h0m-61 0h0m-30 0h0m-90 0h0m-28 0h0m-20 0h0m-21 0h0m36 1h0m261 2h0m-15 0h0m-103 0h0m-10 0h0m-35 0h0m-4 0h0m-10 0h0m-10 0h0m-118 0h0m-43 0h0m20 1h0m19 0h0m19 0h0m78 0h0m19 0h0m151 1h0m-29 0h0m-29 0h0m-86 0h0m-58 0h0m-27 0h0m-62 1h0m1 0h0m38 0h0m19 0h0m19 0h0m9 0h0m28 0h0m20 0h0m126 1h0m-65 0h0m-57 0h0m-112 0h0m103 1h0m29 1h0m-28 0h0m-82 0h0m-17 0h0m-18 0h0m-11 1h0m7 0h0m55 0h0m49 0h0m54 0h0m61 0h0m56 1h0m-278 0h0m46 1h0m3 0h0m54 0h0m17 0h0m18 0h0m182 1h0m-27 0h0m-26 0h0m-53 0h0m-52 0h0m-27 0h0m-26 0h0m-26 0h0m-27 0h0m-79 0h0m11 1h0m5 0h0m70 0h0m70 0h0m17 0h0m52 0h0m18 0h0m17 0h0m149 1h0m-327 0h0m-9 0h0m-8 0h0m-46 1h0m8 0h0m30 0h0m4 0h0m158 1h0m-25 0h0m-26 0h0m-50 0h0m-76 0h0m119 1h0m49 0h0m174 0h0m-301 1h0m-12 0h0m-63 1h0m6 0h0m42 0h0m73 0h0m2 0h0m47 0h0m16 1h0m-8 0h0m-39 0h0m-48 0h0m-69 0h0m-26 0h0m66 2h0m70 0h0m117 0h0m23 0h0m70 0h0m70 0h0m-241 1h0m-85 0h0m-7 0h0m-45 0h0m170 1h0m-133 1h0m-6 0h0m-13 0h0m-23 0h0m261 1h0m66 0h0m45 0h0m-315 1h0m-13 0h0m-31 0h0m-22 0h0m-21 0h0m-2 1h0m62 0h0m43 0h0m35 0h0m157 0h0m43 0h0m21 0h0m21 0h0m-260 1h0m-84 0h0m19 1h0m20 0h0m43 0h0m42 0h0m-27 1h0m-124 0h0m-3 1h0m20 0h0m12 0h0m29 0h0m20 0h0m20 0h0m20 0h0m61 0h0m52 0h0m142 1h0m-40 0h0m-40 0h0m-40 0h0m-100 0h0m-7 0h0m-33 0h0m-40 0h0m-40 0h0m-43 1h0m19 0h0m20 0h0m18 0h0m2 0h0m19 0h0m40 0h0m362 1h0m-213 0h0m-187 0h0m-45 0h0m-32 0h0m-7 0h0m2 1h0m14 0h0m19 0h0m59 0h0m55 0h0m96 0h0m68 1h0m-75 0h0m-57 0h0m-112 0h0m-23 1h0m19 0h0m37 0h0m55 0h0m93 0h0m157 1h0m-146 0h0m-89 0h0m-57 0h0m-91 0h0m-7 1h0m107 0h0m33 0h0m7 0h0m13 0h0m141 0h0m-188 1h0m-46 0h0m-39 1h0m138 0h0m52 0h0m21 2h0m-33 0h0m-105 0h0m-13 0h0m-33 0h0m-59 1h0m378 1h0m-127 0h0m-64 0h0m-16 0h0m-11 0h0m-68 0h0m-44 0h0m-51 0h0m91 1h0m182 1h0m-62 0h0m-93 0h0m-35 0h0m-94 1h0m121 0h0m30 0h0m30 0h0m30 0h0m30 0h0m78 1h0m-59 0h0m-88 0h0m-30 0h0m-29 0h0m21 1h0m58 0h0m131 1h0m-169 0h0m-28 0h0m-28 0h0m-28 0h0m-28 0h0m-29 0h0m-14 0h0m9 1h0m28 0h0m58 0h0m52 0h0m74 0h0m36 0h0m-10 1h0m-27 0h0m-54 0h0m-161 0h0m21 1h0m27 0h0m26 0h0m27 0h0m79 0h0m26 0h0m-86 1h0m-26 0h0m-26 0h0m-54 1h0m23 0h0m25 0h0m26 0h0m50 0h0m25 0h0m216 1h0m-198 0h0m-25 0h0m-50 0h0m-24 0h0m-60 1h0m5 0h0m19 0h0m78 0h0m25 0h0m170 0h0m-67 1h0m-70 0h0m-47 0h0m-24 0h0m-23 0h0m-23 0h0m-24 0h0m-27 1h0m23 0h0m23 0h0m91 0h0m9 1h0m-38 0h0m-28 0h0m-22 0h0m-17 0h0m-27 0h0m-19 0h0m-7 1h0m21 0h0m82 0h0m21 0h0m6 0h0m37 0h0m6 0h0m66 0h0m5 1h0m-84 0h0m-42 0h0m-84 0h0m53 1h0m40 0h0m48 0h0m13 0h0m21 0h0m-33 1h0m-40 0h0m-54 0h0m-40 0h0m-4 0h0m-36 0h0m9 1h0m4 0h0m15 0h0m4 0h0m110 0h0m-103 1h0m-29 1h0m44 0h0m49 0h0m5 0h0m13 0h0m31 0h0m5 0h0m36 1h0m-46 0h0m-40 0h0m-48 0h0m-9 1h0m64 1h0m-32 0h0m-57 0h0m-33 2h0m90 0h0m30 1h0m-32 1h0m48 0h0m74 1h0m-115 0h0m-54 2h0" stroke-width="4.80"/><path d="M396 457h0m23 0h0m23 0h0m24 0h0m47 0h0m46 0h0m18 1h0m-42 0h0m-84 0h0m-12 0h0m-91 5h0m3 0h0m5 0h0m7 0h0m10 0h0m8 0h0m10 0h0m13 0h0m6 0h0m15 0h0m15 0h0m6 0h0m5 0h0m2 0h0m6 0h0m7 0h0m3 0h0m8 0h0m10 0h0m7 0h0m5 0h0m3 0h0m3 0h0m23 0h0m26 0h0m4 0h0m5 0h0m7 0h0m10 0h0m7 0h0m10 0h0m14 0h0m20 0h0m15 0h0m6 0h0m14 0h0m17 0h0m10 0h0m12 0h0m71 0h0m10 0h0m18 0h0m13 0h0m-357 6h0m-120 1h0m3 0h0m43 0h0m7 0h0m15 0h0m11 0h0m12 0h0m13 0h0m9 0h0m16 0h0m25 0h0m26 0h0m46 0h0m4 0h0m64 1h0m-58 0h0m-29 0h0m-28 0h0m-29 0h0m-87 0h0m-28 0h0m-29 0h0m4 2h0m33 0h0m34 0h0m33 0h0m34 0h0m32 0h0m1 0h0m34 0h0m33 0h0m33 0h0m98 1h0m-40 0h0m-40 0h0m-20 0h0m-20 0h0m-20 0h0m-20 0h0m-40 0h0m-20 0h0m-20 0h0m-40 0h0m-40 0h0m-40 0h0m70 1h0m22 0h0m22 0h0m44 0h0m296 2h0m-50 0h0m-49 0h0m-50 0h0m-24 0h0m-25 0h0m-50 0h0m-49 0h0m-25 0h0m-25 0h0m-49 0h0m-50 0h0m-25 0h0m2 2h0m29 0h0m28 0h0m28 0h0m28 0h0m56 0h0m29 0h0m229 2h0m-65 0h0m-33 0h0m-65 0h0m-32 0h0m-33 0h0m-11 0h0m-22 0h0m-32 0h0m-33 0h0m-21 0h0m-11 0h0m-11 0h0m-22 0h0m-22 0h0m-11 0h0m15 2h0m24 0h0m25 0h0m24 0h0m49 0h0m194 0h0m22 2h0m-39 0h0m-38 0h0m-39 0h0m-39 0h0m-39 0h0m-38 0h0m-20 0h0m-19 0h0m-19 0h0m-20 0h0m-38 0h0m15 1h0m28 0h0m27 0h0m28 0h0m27 0h0m28 0h0m27 0h0m28 0h0m29 1h0m-255 2h0m8 0h0m15 0h0m16 0h0m8 0h0m24 0h0m32 0h0m16 0h0m16 0h0m8 0h0m23 0h0m32 0h0m16 0h0m48 0h0m47 0h0m16 0h0m32 0h0m48 0h0m47 0h0m-310 3h0m-30 0h0m-33 0h0m-78 1h0m27 0h0m27 0h0m26 0h0m54 0h0m27 0h0m27 0h0m27 0h0m54 0h0m153 1h0m-75 0h0m-37 0h0m-38 0h0m-37 0h0m-38 0h0m-19 0h0m-18 0h0m-19 0h0m-19 0h0m-37 0h0m-38 0h0m-38 0h0m9 1h0m47 0h0m46 0h0m117 0h0m238 2h0m-62 0h0m-62 0h0m-31 0h0m-31 0h0m-31 0h0m-31 0h0m-31 0h0m-31 0h0m-31 0h0m-16 0h0m-15 0h0m-31 0h0m-10 0h0m-21 0h0m-31 0h0m-6 2h0m26 0h0m27 0h0m14 0h0m12 0h0m53 0h0m53 0h0m52 0h0m53 0h0m-199 1h0m-17 0h0m-55 1h0m23 0h0m23 0h0m22 0h0m23 0h0m23 0h0m23 0h0m46 0h0m46 0h0m46 0h0m46 0h0m46 0h0m46 0h0m137 0h0m-374 1h0m-121 0h0m-66 1h0m36 0h0m37 0h0m36 0h0m37 0h0m36 0h0m36 0h0m37 0h0m36 0h0m110 0h0m36 0h0m-112 2h0m-60 0h0m-31 0h0m-30 0h0m-30 0h0m-30 0h0m-30 0h0m-31 0h0m-30 0h0m-30 0h0m-30 0h0m36 1h0m10 0h0m52 0h0m26 0h0m26 0h0m89 0h0m40 0h0m-78 1h0m-200 5h0m8 0h0m7 0h0m8 0h0m8 0h0m4 0h0m5 0h0m13 0h0m12 0h0m5 0h0m12 0h0m9 0h0m6 0h0m9 0h0m6 0h0m29 0h0m30 0h0m6 0h0m8 0h0m7 0h0m8 0h0m12 0h0m5 0h0m13 0h0m17 0h0m12 0h0m15 0h0m9 0h0m35 0h0m36 0h0m8 0h0m15 0h0m12 0h0m-331 4h0m-48 1h0m25 0h0m35 0h0m39 0h0m25 0h0m50 0h0m24 0h0m14 0h0m141 1h0m-57 0h0m-29 0h0m-29 0h0m-29 0h0m-28 0h0m-29 0h0m-29 0h0m-29 0h0m-29 0h0m-28 0h0m-29 0h0m10 2h0m35 0h0m34 0h0m34 0h0m35 0h0m34 0h0m35 0h0m34 0h0m103 0h0m-29 2h0m-43 0h0m-43 0h0m-43 0h0m-42 0h0m-43 0h0m-43 0h0m-42 0h0m-43 0h0m102 1h0m24 0h0m25 0h0m24 0h0m287 2h0m-56 0h0m-57 0h0m-56 0h0m-28 0h0m-28 0h0m-28 0h0m-29 0h0m-28 0h0m-28 0h0m-28 0h0m-28 0h0m-19 0h0m-9 0h0m-29 0h0m132 1h0m179 1h0m-34 0h0m-33 0h0m-33 0h0m-34 0h0m-33 0h0m-34 0h0m-33 0h0m-34 0h0m-33 0h0m3 1h0m96 0h0m24 0h0m47 0h0m72 0h0m95 0h0m-128 1h0m-185 0h0m-39 2h0m7 0h0m21 0h0m41 0h0m14 0h0m28 0h0m41 0h0m14 0h0m27 0h0m28 0h0m14 0h0m41 0h0m41 0h0m41 0h0m42 0h0m41 0h0m248 0h0m-535 3h0m-23 0h0m-24 0h0m-23 0h0m-47 0h0m-23 0h0m-6 1h0m33 0h0m33 0h0m32 0h0m33 0h0m32 0h0m33 0h0m33 0h0m32 0h0m33 0h0m32 0h0m66 0h0m81 2h0m-54 0h0m-54 0h0m-54 0h0m-54 0h0m-54 0h0m-54 0h0m-27 0h0m-27 0h0m-27 0h0m-26 0h0m-54 0h0m60 2h0m22 0h0m23 0h0m46 0h0m273 1h0m-80 0h0m-40 0h0m-40 0h0m-40 0h0m-40 0h0m-40 0h0m-40 0h0m-40 0h0m-40 0h0m-20 0h0m3 1h0m31 0h0m32 0h0m32 0h0m32 0h0m31 0h0m32 0h0m32 0h0m32 0h0m32 0h0m-8 2h0m-105 0h0m-13 0h0m-40 0h0m-26 0h0m-1 0h0m-26 0h0m-19 0h0m-7 0h0m-27 0h0m39 1h0m39 0h0m20 0h0m19 0h0m158 0h0m-292 1h0m-3 3h0m16 0h0m15 0h0m10 0h0m13 0h0m8 0h0m5 0h0m26 0h0m19 0h0m3 0h0m4 0h0m5 0h0m8 0h0m5 0h0m8 0h0m6 0h0m4 0h0m15 0h0m16 0h0m10 0h0m13 0h0m8 0h0m9 0h0m22 0h0m31 0h0m8 0h0m12 0h0m11 0h0m15 0h0m16 0h0m10 0h0m13 0h0m39 0h0m38 0h0m24 0h0m-339 4h0m-17 0h0m-87 0h0m14 1h0m25 0h0m26 0h0m25 0h0m76 0h0m76 0h0m93 1h0m-60 0h0m-61 0h0m-30 0h0m-30 0h0m-30 0h0m-30 0h0m-31 0h0m-30 0h0m-30 0h0m-15 0h0m-15 0h0m13 2h0m38 0h0m38 0h0m37 0h0m38 0h0m37 0h0m38 0h0m37 0h0m38 0h0m37 0h0m75 0h0m-275 1h0m-115 1h0m25 0h0m25 0h0m24 0h0m25 0h0m50 0h0m24 0h0m25 0h0m50 0h0m49 0h0m50 0h0m49 0h0m-83 2h0m-89 0h0m-59 0h0m-29 0h0m-30 0h0m-29 0h0m-30 0h0m-29 0h0m-30 0h0m121 1h0m445 2h0m-146 0h0m-36 0h0m-37 0h0m-36 0h0m-37 0h0m-36 0h0m-37 0h0m-36 0h0m-36 0h0m-37 0h0m-36 0h0m-37 0h0m-36 0h0m12 3h0m29 0h0m28 0h0m29 0h0m29 0h0m29 0h0m29 0h0m28 0h0m29 0h0m29 0h0m130 1h0m-48 0h0m-48 0h0m-47 0h0m-48 0h0m-48 0h0m-47 0h0m-24 0h0m-24 0h0m-24 0h0m-24 0h0m-23 0h0m130 2h0m21 0h0m165 1h0m-35 0h0m-36 0h0m-35 0h0m-35 0h0m-36 0h0m-35 0h0m-36 0h0m-17 0h0m-18 0h0m-35 0h0m12 1h0m29 0h0m28 0h0m28 0h0m28 0h0m28 0h0m28 0h0m57 0h0m56 0h0m-226 1h0m-24 0h0m-37 4h0m10 0h0m11 0h0m7 0h0m5 0h0m23 0h0m27 0h0m7 0h0m11 0h0m10 0h0m13 0h0m14 0h0m9 0h0m12 0h0m7 0h0m27 0h0m28 0h0m7 0h0m11 0h0m23 0h0m23 0h0m11 0h0m7 0h0m28 0h0m46 0h0m-325 3h0m-59 1h0m58 0h0m45 0h0m90 0h0m-29 1h0m-27 0h0m-27 0h0m-53 0h0m-27 0h0m-27 0h0m19 1h0m33 0h0m34 0h0m33 0h0m34 0h0m33 0h0m34 0h0m33 0h0m33 0h0m67 0h0m-149 1h0m-199 1h0m45 0h0m44 0h0m44 0h0m44 0h0m45 0h0m44 0h0m44 0h0m44 0h0m89 0h0m-137 2h0m-105 0h0m-53 0h0m-26 0h0m-26 0h0m-27 0h0m-26 0h0m-27 0h0m98 1h0m285 1h0m-33 0h0m-33 0h0m-32 0h0m-65 0h0m-33 0h0m-33 0h0m-21 0h0m-11 0h0m-33 0h0m-21 0h0m-11 0h0m-33 0h0m-33 0h0m5 2h0m25 0h0m26 0h0m26 0h0m26 0h0m51 0h0m26 0h0m26 0h0m26 0h0m91 2h0m-43 0h0m-43 0h0m-43 0h0m-42 0h0m-43 0h0m-43 0h0m-42 0h0m-43 0h0m9 1h0m31 0h0m32 0h0m32 0h0m32 0h0m31 0h0m32 0h0m32 0h0m32 0h0m-98 1h0m-75 0h0m-26 0h0m-25 0h0m-25 0h0m24 1h0m84 0h0m42 0h0m17 1h0m-178 3h0m31 0h0m25 0h0m6 0h0m10 0h0m9 0h0m12 0h0m12 0h0m9 0h0m10 0h0m6 0h0m4 0h0m21 0h0m41 0h0m21 0h0m21 0h0m16 0h0m25 0h0m41 0h0m21 0h0m62 0h0m619 0h0m-914 3h0m-106 1h0m24 0h0m49 0h0m97 0h0m125 1h0m-30 0h0m-31 0h0m-30 0h0m-60 0h0m-30 0h0m-31 0h0m-30 0h0m-30 0h0m-30 0h0m28 1h0m40 0h0m20 0h0m20 0h0m40 0h0m40 0h0m40 0h0m40 0h0m40 0h0m40 0h0m-226 1h0m-48 0h0m-24 0h0m-47 0h0m21 2h0m30 0h0m29 0h0m30 0h0m29 0h0m30 0h0m29 0h0m30 0h0m29 0h0m59 0h0m59 0h0m59 0h0m-275 2h0m-23 0h0m-94 0h0m-24 1h0m19 0h0m19 0h0m39 0h0m19 0h0m20 0h0m38 0h0m39 0h0m39 0h0m39 0h0m38 0h0m39 0h0m39 0h0m-72 2h0m-29 0h0m-144 0h0m-29 0h0m-29 0h0m-29 0h0m-28 0h0m-29 0h0m17 1h0m5 0h0m160 0h0m319 3h0m-112 0h0m-19 0h0m-38 0h0m-37 0h0m-19 0h0m-19 0h0m-37 0h0m-38 0h0m-7 0h0m-12 0h0m-18 0h0m-38 0h0m-19 0h0m-18 0h0m-19 0h0m-19 0h0m-9 0h0m-6 0h0m-23 0h0m85 3h0m131 1h0m-28 0h0m-27 0h0m-55 0h0m-55 0h0m-28 0h0m-28 0h0m-1 1h0m36 0h0m37 0h0m36 0h0m37 0h0m36 0h0m36 0h0m37 0h0m36 0h0m37 0h0m-286 2h0m-22 0h0m-21 0h0m-2 1h0m54 0h0m26 0h0m27 0h0m54 0h0m54 0h0m54 0h0m54 0h0m54 0h0m54 0h0m-45 3h0m-71 0h0m-71 0h0m-35 0h0m-35 0h0m-36 0h0m-35 0h0m-36 0h0m-35 0h0m-35 0h0m-2 1h0m26 0h0m27 0h0m26 0h0m27 0h0m26 0h0m26 0h0m158 0h0m-107 1h0m-88 0h0m-99 2h0m8 0h0m17 0h0m18 0h0m34 0h0m26 0h0m8 0h0m18 0h0m17 0h0m34 0h0m35 0h0m17 0h0m26 0h0m25 0h0m35 0h0m17 0h0m17 0h0m86 0h0m568 0h0m-784 4h0m-50 0h0m-51 0h0m-50 0h0m-26 0h0m-25 0h0m-25 0h0m7 1h0m33 0h0m34 0h0m33 0h0m34 0h0m33 0h0m34 0h0m33 0h0m-129 1h0m-117 1h0m25 0h0m25 0h0m25 0h0m24 0h0m25 0h0m50 0h0m49 0h0m50 0h0m49 0h0m50 0h0m49 0h0m-155 2h0m-32 0h0m-66 0h0m-32 0h0m-33 0h0m-32 0h0m-33 0h0m-33 0h0m-9 1h0m48 0h0m73 0h0m97 0h0m183 3h0m-48 0h0m-95 0h0m-48 0h0m-16 0h0m-32 0h0m-31 0h0m-16 0h0m-10 0h0m-6 0h0m-8 0h0m-24 0h0m-24 0h0m-8 0h0m-16 0h0m-9 0h0m-6 0h0m34 3h0m47 0h0m94 0h0m36 1h0m-31 0h0m-62 0h0m-31 0h0m-31 0h0m-62 0h0m13 2h0m46 0h0m45 0h0m46 0h0m46 0h0m46 0h0m46 0h0m46 0h0m46 0h0m-342 1h0m-43 1h0m30 0h0m30 0h0m30 0h0m31 0h0m60 0h0m60 0h0m61 0h0m106 4h0m-45 0h0m-44 0h0m-44 0h0m-15 0h0m-29 0h0m-30 0h0m-15 0h0m-14 0h0m-8 0h0m-22 0h0m-29 0h0m-15 0h0m-15 0h0m-7 0h0m-22 0h0m-30 0h0m-15 0h0m6 2h0m12 0h0m222 1h0m-86 0h0m-29 0h0m-29 0h0m-29 0h0m-28 0h0m-46 2h0m24 0h0m19 0h0m42 0h0m43 0h0m43 0h0m42 0h0m43 0h0m43 0h0m43 0h0m-77 1h0m-113 0h0m-84 0h0m-28 0h0m-29 0h0m6 1h0m168 0h0m97 2h0m-41 0h0m-42 0h0m-27 0h0m-14 0h0m-14 0h0m-27 0h0m-42 0h0m-13 0h0m-28 0h0m-28 0h0m24 2h0m133 1h0m-27 0h0m-27 0h0m-27 0h0m-53 0h0m-3 2h0m20 0h0m20 0h0m40 0h0m40 0h0m40 0h0m40 0h0m40 0h0m40 0h0m7 1h0m-79 0h0m-131 0h0m-53 0h0m-27 0h0m-26 0h0m25 1h0m158 0h0m148 2h0m-38 0h0m-39 0h0m-26 0h0m-13 0h0m-39 0h0m-25 0h0m-13 0h0m-13 0h0m-26 0h0m-39 0h0m-13 0h0m-25 0h0m15 2h0m5 0h0m25 0h0m26 0h0m75 0h0m109 1h0m-37 0h0m-38 0h0m-37 0h0m-38 0h0m-19 0h0m-18 0h0m-19 0h0m-19 0h0m-6 0h0m-32 0h0m23 2h0m408 2h0m-73 0h0m-36 0h0m-37 0h0m-36 0h0m-37 0h0m-24 0h0m-12 0h0m-36 0h0m-37 0h0m-36 0h0m-37 0h0m-36 0h0m115 2h0m197 2h0m-71 0h0m-35 0h0m-35 0h0m-36 0h0m-35 0h0m-36 0h0m-35 0h0m-35 0h0m231 1h0m107 2h0m-35 0h0m-34 0h0m-34 0h0m-35 0h0m-34 0h0m-35 0h0m-34 0h0m-34 0h0m-23 0h0m-12 0h0m75 2h0m186 1h0m-33 0h0m-67 0h0m-33 0h0m-34 0h0m-33 0h0m-34 0h0m-33 0h0m-7 3h0m33 0h0m33 0h0m32 0h0m44 0h0m21 0h0m66 0h0m32 0h0m33 0h0m65 0h0m65 0h0m-271 2h0m-95 0h0m-32 0h0m-31 0h0m8 1h0m168 0h0m221 2h0m-62 0h0m-62 0h0m-62 0h0m-31 0h0m-31 0h0m-31 0h0m-31 0h0m-31 0h0m-31 0h0m-31 0h0m-5 2h0m30 0h0m2 0h0m28 0h0m30 0h0m61 0h0m30 0h0m-53 1h0m-104 2h0m30 0h0m29 0h0m20 0h0m10 0h0m29 0h0m59 0h0m59 0h0m59 0h0m-99 2h0m-28 0h0m-116 0h0m-28 0h0m-29 0h0m-6 2h0m57 0h0m28 0h0m28 0h0m56 0h0m57 0h0m56 0h0m56 0h0m57 0h0m56 0h0m-263 2h0m-82 0h0m-28 0h0m-55 0h0m-28 0h0m-4 2h0m27 0h0m27 0h0m26 0h0m27 0h0m27 0h0m27 0h0m27 0h0m27 0h0m54 0h0m54 0h0m-309 1h0m7 1h0m27 0h0m252 2h0m-51 0h0m-52 0h0m-51 0h0m-52 0h0m-52 0h0m-30 2h0m50 0h0m267 1h0m-24 0h0m-25 0h0m-50 0h0m-49 0h0m-50 0h0m-25 0h0m-24 0h0m-25 0h0m-25 0h0m-5 2h0m329 1h0m-48 0h0m-47 0h0m-48 0h0m-48 0h0m-47 0h0m-48 0h0m-24 0h0m-24 0h0m19 2h0m47 0h0m23 0h0m316 1h0m-46 0h0m-46 0h0m-46 0h0m-46 0h0m-46 0h0m-46 0h0m-46 0h0m-45 0h0m-46 0h0m176 2h0m81 1h0m-44 0h0m-45 0h0m-44 0h0m-22 0h0m-22 0h0m-44 0h0m-45 0h0m192 1h0m57 1h0m-43 0h0m-42 0h0m-43 0h0m-43 0h0m-42 0h0m-43 0h0m34 3h0m21 0h0m20 0h0m42 0h0m41 0h0m41 0h0m42 0h0m123 0h0m-178 2h0m-40 0h0m-40 0h0m-40 0h0m-40 0h0m-7 2h0m38 0h0m39 0h0m39 0h0m38 0h0m20 0h0m19 0h0m39 0h0m39 0h0m38 0h0m-54 2h0m-75 0h0m-37 0h0m-38 0h0m-37 0h0m-38 0h0m-38 0h0m-6 2h0m36 0h0m37 0h0m73 0h0m36 0h0m36 0h0m73 0h0m-50 1h0m-35 0h0m-71 0h0m-35 0h0m-36 0h0m-35 0h0m-35 0h0m28 2h0m35 0h0m34 0h0m34 0h0m35 0h0m23 2h0m-33 0h0m-34 0h0m-33 0h0m-34 0h0m-33 0h0m-7 1h0m33 0h0m33 0h0m32 0h0m33 0h0m32 0h0m66 0h0m-76 1h0m-31 0h0m-64 0h0m-32 0h0m-6 2h0m31 0h0m31 0h0m62 0h0m31 0h0m-101 1h0m-30 0h0m-30 0h0m-6 1h0m30 0h0m29 0h0m148 0h0m-11 1h0m-57 0h0m-87 0h0m-57 0h0m45 2h0m27 0h0m28 0h0m19 1h0m-54 0h0m-53 0h0m-32 1h0m132 0h0m-85 1h0m-25 0h0m-5 1h0m45 1h0m-50 0h0m44 1h0m25 0h0m18 0h0m176 0h0m-272 4h0m53 4h0" stroke-width="5.80"/><path d="M326 801h0m1 0h0m1 0h0m1 0h0m1 0h0m1 0h0m1 0h0m1 0h0m1 0h0m1 0h0m1 0h0m1 0h0m1 0h0m1 0h0m1 0h0m2 0h0m1 0h0m1 0h0m1 0h0m1 0h0m2 0h0m1 0h0m1 0h0m1 0h0m1 0h0m1 0h0m1 0h0m1 0h0m1 0h0m1 0h0m1 0h0m1 0h0m1 0h0m3 0h0m2 0h0m1 0h0m1 0h0m1 0h0m1 0h0m1 0h0m1 0h0m1 0h0m1 0h0m1 0h0m1 0h0m1 0h0m1 0h0m1 0h0m1 0h0m1 0h0m1 0h0m1 0h0m1 0h0m1 0h0m1 0h0m1 0h0m1 0h0m1 0h0m1 0h0m2 0h0m1 0h0m1 0h0m1 0h0m1 0h0m1 0h0m1 0h0m1 0h0m1 0h0m1 0h0m1 0h0m2 0h0m1 0h0m1 0h0m1 0h0m1 0h0m1 0h0m1 0h0m1 0h0m3 0h0m1 0h0m1 0h0m1 0h0m1 0h0m1 0h0m1 0h0m1 0h0m1 0h0m4 0h0m4 0h0m1 0h0m1 0h0m1 0h0m1 0h0m1 0h0m1 0h0m1 0h0m1 0h0m1 0h0m1 0h0m1 0h0m1 0h0m1 0h0m1 0h0m1 0h0m1 0h0m1 0h0m1 0h0m1 0h0m1 0h0m1 0h0m1 0h0m1 0h0m1 0h0m2 0h0m1 0h0m1 0h0m1 0h0m1 0h0m1 0h0m1 0h0m1 0h0m1 0h0m1 0h0m1 0h0m1 0h0m3 0h0m2 0h0m1 0h0m1 0h0m1 0h0m1 0h0m1 0h0m1 0h0m1 0h0m2 0h0m1 0h0m1 0h0m1 0h0m1 0h0m1 0h0m2 0h0m2 0h0m1 0h0m1 0h0m1 0h0m1 0h0m1 0h0m1 0h0m1 0h0m2 0h0m1 0h0m1 0h0m1 0h0m1 0h0m2 0h0m1 0h0m1 0h0m1 0h0m1 0h0m1 0h0m1 0h0m1 0h0m1 0h0m1 0h0m1 0h0m1 0h0m1 0h0m1 0h0m1 0h0m1 0h0m1 0h0m1 0h0m1 0h0m1 0h0m2 0h0m3 0h0m5 0h0m1 0h0m1 0h0m1 0h0m1 0h0m1 0h0m1 0h0m1 0h0m1 0h0m1 0h0m1 0h0m1 0h0m1 0h0m1 0h0m1 0h0m2 0h0m1 0h0m1 0h0m1 0h0m1 0h0m1 0h0m1 0h0m1 0h0m1 0h0m1 0h0m1 0h0m1 0h0m1 0h0m1 0h0m1 0h0m1 0h0m2 0h0m1 0h0m1 0h0m1 0h0m1 0h0m1 0h0m1 0h0m1 0h0m1 0h0m1 0h0m2 0h0m3 0h0m2 0h0m1 0h0m1 0h0m1 0h0m1 0h0m1 0h0m2 0h0m1 0h0m2 0h0m1 0h0m1 0h0m1 0h0m1 0h0m1 0h0m1 0h0m1 0h0m1 0h0m1 0h0m1 0h0m1 0h0m1 0h0m1 0h0m1 0h0m1 0h0m1 0h0m3 0h0m3 0h0m1 0h0m1 0h0m1 0h0m1 0h0m1 0h0m1 0h0m1 0h0m1 0h0m2 0h0m1 0h0m1 0h0m1 0h0m1 0h0m1 0h0m1 0h0m1 0h0m2 0h0m1 0h0m1 0h0m1 0h0m1 0h0m1 0h0m1 0h0m1 0h0m1 0h0m1 0h0m2 0h0m2 0h0m2 0h0m1 0h0m1 0h0m1 0h0m1 0h0m1 0h0m1 0h0m1 0h0m1 0h0m1 0h0m1 0h0m1 0h0m1 0h0m2 0h0m1 0h0m1 0h0m2 0h0m2 0h0m1 0h0m1 0h0m1 0h0m1 0h0m1 0h0m1 0h0m1 0h0m1 0h0m1 0h0m1 0h0m2 0h0m1 0h0m2 0h0m1 0h0m1 0h0m1 0h0m1 0h0m1 0h0m1 0h0m1 0h0m1 0h0m1 0h0m1 0h0m2 0h0m1 0h0m1 0h0m1 0h0m1 0h0m1 0h0m2 0h0m1 0h0m1 0h0m1 0h0m1 0h0m1 0h0m1 0h0m1 0h0m1 0h0m2 0h0m1 0h0m1 0h0m1 0h0m1 0h0m4 0h0m2 0h0m2 0h0m11 0h0m10 0h0m1 0h0m1 0h0m1 0h0m1 0h0m1 0h0m2 0h0m3 0h0m1 0h0m2 0h0m1 0h0m3 0h0m1 0h0m1 0h0m2 0h0m1 0h0m2 0h0m2 0h0m5 0h0m1 0h0m5 0h0m4 0h0m5 0h0m3 0h0m3 0h0m2 0h0m2 0h0m3 0h0m2 0h0m2 0h0m1 0h0m1 0h0m2 0h0m4 0h0m1 0h0m3 0h0m3 0h0m3 0h0m1 0h0m2 0h0m1 0h0m3 0h0m1 0h0m2 0h0m2 0h0m2 0h0m2 0h0m2 0h0m1 0h0m1 0h0m1 0h0m2 0h0m4 0h0m6 0h0m8 0h0m2 0h0m3 0h0m2 0h0m2 0h0m2 0h0m2 0h0m1 0h0m1 0h0m1 0h0m2 0h0m1 0h0m4 0h0m2 0h0m4 0h0m3 0h0m1 0h0m1 0h0m3 0h0m2 0h0m6 0h0m5 0h0m1 0h0m1 0h0m2 0h0m1 0h0m1 0h0m4 0h0m2 0h0m3 0h0m9 0h0m7 0h0m8 0h0m1 0h0m1 0h0m2 0h0m1 0h0m1 0h0m5 0h0m2 0h0m1 0h0m1 0h0m2 0h0m6 0h0m4 0h0m3 0h0m1 0h0m1 0h0m1 0h0m1 0h0m7 0h0m3 0h0m4 0h0m2 0h0m4 0h0m1 0h0m1 0h0m1 0h0m3 0h0m3 0h0m2 0h0m1 0h0m2 0h0m4 0h0m5 0h0m5 0h0m6 0h0m7 0h0m9 0h0m3 0h0m2 0h0m3 0h0m6 0h0m2 0h0m3 0h0m3 0h0m1 0h0m6 0h0m2 0h0m10 0h0m5 0h0m9 0h0m1 0h0m2 0h0m1 0h0m1 0h0m2 0h0m1 0h0m1 0h0m5 0h0m2 0h0m2 0h0m3 0h0m8 0h0m4 0h0m3 0h0m2 0h0m3 0h0m3 0h0m2 0h0m3 0h0m4 0h0m2 0h0m7 0h0m3 0h0m1 0h0m2 0h0m2 0h0m1 0h0m1 0h0m2 0h0m2 0h0m1 0h0m2 0h0m5 0h0m3 0h0m6 0h0m5 0h0m1 0h0m3 0h0m4 0h0m7 0h0m2 0h0m2 0h0m1 0h0m1 0h0m1 0h0m1 0h0m1 0h0m1 0h0m1 0h0m3 0h0m4 0h0m2 0h0m3 0h0m8 0h0m7 0h0m2 0h0m1 0h0m3 0h0m5 0h0m2 0h0m2 0h0m4 0h0m2 0h0m2 0h0m6 0h0m2 0h0m2 0h0m1 0h0m3 0h0m3 0h0m2 0h0m3 0h0m2 0h0m2 0h0m3 0h0m2 0h0m2 0h0m5 0h0m3 0h0m1 0h0m2 0h0m1 0h0m20 0h0" stroke-width="4.40"/><path class="iso" d="M606 899h0m94 0h0m46 0h0m1 0h0m-149 1h0m127 1h0m134 0h0m206 0h0m242 0h0m-4 5h0m-8 0h0m-10 0h0m-68 0h0m-18 0h0m-10 0h0m-76 0h0m-34 0h0m-92 0h0m-11 0h0m-5 0h0m-107 0h0m-17 0h0m-22 0h0m-31 0h0m-18 0h0m-23 0h0m-44 0h0m346 2h0m-281 2h0m11 1h0m502 1h0m-540 1h0m354 0h0m-121 1h0m-58 0h0m-79 0h0m-36 0h0m330 1h0m-275 1h0m10 1h0m269 0h0m53 0h0m-75 1h0m-389 0h0m29 1h0m298 0h0m99 0h0m50 0h0m99 0h0m-400 1h0m56 2h0m393 2h0m-326 0h0m-432 1h0m229 0h0m104 0h0m-134 1h0m56 1h0m193 0h0m104 0h0m-200 2h0m-222 1h0m628 2h0m-524 0h0m-67 0h0m-79 2h0m206 0h0m114 1h0m-108 0h0m-27 0h0m-153 2h0m113 0h0m50 0h0m100 0h0m229 0h0m-244 1h0m-31 0h0m-210 0h0m-31 0h0m300 1h0m362 1h0m-20 0h0m-166 0h0m-124 0h0m-340 0h0m206 1h0m-188 1h0m-79 1h0m135 0h0m26 0h0m45 0h0m12 0h0m11 0h0m23 0h0m53 0h0m16 0h0m23 0h0m46 0h0m-196 1h0m-187 0h0m48 2h0m55 0h0m18 0h0m37 0h0m72 0h0m61 0h0m195 0h0m72 0h0m37 0h0m-314 1h0m-91 0h0m-95 0h0m-56 0h0m20 1h0m486 1h0m-404 0h0m193 2h0m-207 1h0m7 2h0m53 0h0m8 0h0m22 0h0m27 0h0m56 0h0m109 0h0m12 0h0m28 0h0m7 0h0m-450 4h0m68 1h0m243 0h0m330 2h0m-606 0h0m44 1h0m206 0h0m310 0h0m-324 2h0m-43 0h0m130 1h0m24 0h0m268 0h0m48 2h0m-225 0h0m-169 0h0m-113 0h0m-140 0h0m11 3h0m67 0h0m8 0h0m430 1h0m-269 1h0m194 1h0m-165 0h0m-97 0h0m-224 2h0m237 0h0m373 1h0m-455 0h0m48 1h0m141 0h0m153 0h0m-211 1h0m-102 0h0m-229 0h0m306 1h0m108 0h0m215 0h0m-12 3h0m-266 0h0m-43 0h0m-90 0h0m-80 0h0m27 2h0m96 0h0m73 0h0m86 0h0m144 0h0m173 0h0m-225 2h0m-135 0h0m-271 0h0m20 1h0m518 3h0m-23 0h0m-66 0h0m-50 0h0m-181 0h0m-135 0h0m-13 0h0m-97 0h0m279 5h0m-44 1h0m-106 0h0m429 1h0m-50 1h0m-300 0h0m-151 0h0m24 1h0m115 1h0m-207 0h0m20 2h0m118 0h0m31 0h0m412 0h0m-376 2h0m-148 1h0m321 0h0m145 0h0m146 0h0m-576 3h0m73 1h0m18 0h0m152 1h0m-48 0h0m-191 0h0m105 1h0m396 1h0m-70 0h0m-142 0h0m-248 0h0m346 1h0m-7 2h0m-45 0h0m-53 0h0m-360 1h0m631 2h0m-50 0h0m-137 0h0m-172 0h0m-81 0h0m-9 0h0m-37 0h0m-23 0h0m-50 0h0m-28 0h0m-23 0h0m40 3h0m-22 1h0m-51 1h0m222 0h0m5 2h0m-235 0h0m587 1h0m-271 1h0m-44 0h0m-133 0h0m-101 1h0m151 1h0m-269 1h0m131 0h0m98 0h0m456 0h0m-693 2h0m180 1h0m301 0h0m-65 1h0m-128 0h0m-85 0h0m-71 0h0m-36 0h0m97 1h0m248 1h0m-132 2h0m290 1h0m-425 0h0m58 2h0m105 0h0m209 0h0m6 0h0m20 0h0m104 0h0m20 0h0m-395 2h0m-188 1h0m71 2h0m-60 0h0m-38 2h0m113 0h0m359 0h0m10 1h0m-191 0h0m-143 0h0m470 1h0m-93 1h0m-89 0h0m-59 0h0m-118 0h0m-19 0h0m-32 3h0m387 0h0m77 0h0m-518 1h0m-58 0h0m-29 0h0m-25 0h0m-35 1h0m23 0h0m128 1h0m-198 0h0m118 1h0m171 0h0m264 0h0m103 1h0m-423 0h0m-28 0h0m12 5h0m94 1h0m-73 0h0m-36 0h0m-21 1h0m183 0h0m35 0h0m313 1h0m-108 0h0m-53 0h0m-216 0h0m-183 0h0m-123 2h0m316 0h0m25 0h0m24 1h0m-292 0h0m-27 0h0m189 1h0m-93 1h0m-124 1h0m277 0h0m285 2h0m-52 0h0m-17 0h0m-86 0h0m-310 0h0m-69 0h0m-51 0h0m60 2h0m283 1h0m-236 0h0m-72 0h0m-84 1h0m34 0h0m24 1h0m184 2h0m49 0h0m316 2h0m-98 0h0m-424 0h0m-77 1h0m122 0h0m46 0h0m193 0h0m233 0h0m-55 3h0m-159 0h0m-350 0h0m-135 1h0m250 2h0m-70 0h0m-94 0h0m-23 0h0m276 1h0m-55 2h0m-46 0h0m-106 1h0m64 0h0m438 0h0m110 0h0m-450 1h0m-23 0h0m-270 0h0m348 1h0m308 2h0m-501 0h0m-101 0h0m64 2h0m85 0h0m159 0h0m414 1h0m-317 0h0m-58 0h0m-132 1h0m436 1h0m-214 0h0m-42 0h0m-64 0h0m-22 0h0m-228 0h0m-92 0h0m76 2h0m95 0h0m478 0h0m-596 1h0m55 1h0m600 1h0m-28 0h0m-30 0h0m-190 0h0m-28 0h0m-288 3h0m54 0h0m472 1h0m-399 0h0m-100 0h0m13 1h0m184 0h0m25 0h0m186 0h0m-379 1h0m-137 0h0m98 2h0m61 0h0m65 0h0m90 0h0m26 0h0m232 0h0m-579 1h0m29 1h0m57 0h0m286 0h0m275 0h0m-90 1h0m-291 0h0m-170 1h0m29 0h0m196 0h0m165 1h0m-289 0h0m-45 0h0m-110 3h0m80 0h0m102 0h0m292 0h0m72 0h0m37 0h0m36 0h0m73 0h0m-794 1h0m168 1h0m7 0h0m24 0h0m206 1h0m-319 0h0m668 1h0m-29 2h0m-157 0h0m-118 0h0m71 1h0m-430 2h0m68 6h0m635 2h0m-646 0h0m-24 2h0m-25 1h0m-64 1h0m579 0h0m121 1h0m-59 0h0m-295 0h0m-118 0h0m-59 0h0m80 1h0m219 0h0m291 1h0m-57 0h0m-577 0h0m-86 0h0m-58 0h0m73 1h0m705 2h0m-310 0h0m-28 0h0m-169 0h0m-251 1h0m92 0h0m93 0h0m536 0h0m-596 1h0m-58 0h0m-52 2h0m205 0h0m107 0h0m-70 2h0m-105 0h0m-53 0h0m40 1h0m155 0h0m51 0h0m207 0h0m138 1h0m-98 0h0m-131 0h0m-45 0h0m-442 1h0m349 1h0m-160 1h0m100 0h0m148 0h0m113 1h0m-179 0h0m-63 2h0m143 0h0m-6 1h0m-339 0h0m82 2h0m46 0h0m45 0h0m368 0h0m-20 1h0m-551 1h0m44 0h0m177 0h0m133 0h0m89 0h0m177 0h0m56 2h0m-316 1h0m-223 1h0m-105 0h0m222 1h0m-105 2h0m-160 0h0m169 1h0m434 1h0m-348 0h0m-39 0h0m-116 0h0m-78 0h0m-16 2h0m37 0h0m325 1h0m-305 1h0m196 2h0m-224 0h0m-73 1h0m216 0h0m124 1h0m-247 0h0m-39 1h0m67 0h0m454 1h0m-300 0h0m-203 0h0m-65 0h0m154 2h0m56 0h0m-79 1h0m-124 0h0m-18 1h0m27 0h0m160 0h0m-68 1h0m-27 0h0m-39 1h0m30 0h0m147 0h0m457 0h0m-286 1h0m-14 0h0m-116 0h0m-86 0h0m-29 0h0m-14 0h0m-101 0h0m-58 0h0m-7 0h0m81 1h0m28 0h0m29 0h0m152 1h0m-138 0h0m-94 1h0m648 1h0m-606 0h0m-53 0h0m-62 1h0m294 0h0m-155 1h0m515 1h0m-129 2h0m-130 1h0m295 1h0m-581 0h0m-107 1h0m231 0h0m-197 1h0m564 1h0m-444 1h0m-14 0h0m-18 1h0m-82 1h0m108 1h0m137 0h0m-145 1h0m-65 1h0m533 0h0m-672 1h0m394 1h0m86 0h0m107 2h0m-471 1h0m-186 1h0m90 1h0m45 0h0m101 0h0m2 0h0m-51 1h0m-16 0h0m-30 0h0m72 1h0m200 0h0m296 0h0m-663 1h0m-83 2h0m331 0h0m-225 1h0" stroke-width="4.20"/><path class="iso" d="M817 906h0m55 0h0m138 0h0m55 0h0m-390 11h0m60 2h0m124 0h0m247 0h0m-427 4h0m-10 1h0m424 0h0m-320 3h0m33 5h0m262 0h0m191 0h0m-468 5h0m-38 0h0m17 1h0m89 2h0m-147 3h0m46 0h0m508 11h0m-133 0h0m-251 0h0m-130 0h0m-62 0h0m-8 0h0m-11 0h0m-50 0h0m42 7h0m37 1h0m13 2h0m43 0h0m43 0h0m105 3h0m-153 3h0m603 3h0m-82 0h0m-83 0h0m-83 0h0m-206 0h0m-296 4h0m589 2h0m-324 0h0m-53 0h0m-65 5h0m345 6h0m-258 0h0m-134 0h0m-21 0h0m6 6h0m91 0h0m-102 2h0m239 7h0m-182 5h0m-89 2h0m341 6h0m-287 0h0m198 12h0m130 0h0m131 0h0m65 0h0m130 0h0m-540 6h0m-95 0h0m-26 5h0m124 0h0m227 0h0m145 0h0m-307 10h0m-59 0h0m-59 0h0m-213 5h0m803 3h0m-281 0h0m-432 0h0m21 6h0m73 0h0m134 2h0m-53 0h0m-200 4h0m26 0h0m248 4h0m-121 0h0m-10 7h0m50 0h0m-14 3h0m-60 3h0m95 0h0m238 0h0m286 0h0m-681 4h0m176 2h0m505 5h0m-88 0h0m-45 0h0m-88 0h0m-44 0h0m-89 0h0m-133 0h0m-88 0h0m-89 0h0m23 5h0m43 0h0m598 5h0m-165 0h0m-83 0h0m-431 4h0m-112 1h0m481 3h0m233 0h0m77 0h0m-713 4h0m-52 4h0m401 0h0m73 0h0m-346 3h0m-35 0h0m122 3h0m137 0h0m283 6h0m-326 0h0m-370 3h0m32 0h0m95 0h0m266 2h0m-62 0h0m-62 0h0m-62 0h0m-167 3h0m49 2h0m-12 2h0m299 3h0m-113 0h0m-56 0h0m-81 4h0m54 0h0m130 3h0m-192 2h0m163 2h0m-149 0h0m-68 3h0m47 0h0m143 0h0m-116 3h0m-161 0h0m318 2h0m-152 3h0m-43 0h0m-86 0h0m151 2h0m455 0h0m165 0h0m-199 2h0m-519 0h0m24 2h0m6 4h0m-36 0h0m-17 6h0m-16 9h0m7 2h0m-35 1h0" stroke-width="4.80"/><path class="iso" d="M528 906h0m207 0h0m69 0h0m34 0h0m103 0h0m103 0h0m104 0h0m103 0h0m103 0h0m-479 11h0m-120 0h0m54 2h0m89 5h0m-65 0h0m-66 0h0m15 8h0m96 0h0m95 0h0m191 0h0m-243 8h0m-124 0h0m-131 3h0m688 11h0m-177 0h0m-88 0h0m-89 0h0m-88 0h0m-89 0h0m-59 0h0m-59 0h0m-59 0h0m25 10h0m7 3h0m15 6h0m83 0h0m83 0h0m82 0h0m83 0h0m-262 6h0m-27 11h0m51 0h0m104 0h0m77 0h0m77 0h0m155 0h0m155 0h0m-495 10h0m-100 0h0m-61 5h0m73 0h0m73 0h0m-205 5h0m27 8h0m46 0h0m23 0h0m69 0h0m68 0h0m69 0h0m138 0h0m138 0h0m137 0h0m-752 9h0m100 3h0m65 0h0m-54 4h0m22 7h0m62 0h0m62 0h0m124 0h0m123 0h0m124 0h0m124 0h0m-649 10h0m30 8h0m56 0h0m113 0h0m112 0h0m113 0h0m113 0h0m-534 8h0m-54 0h0m29 8h0m52 0h0m103 0h0m103 0h0m103 0h0m104 0h0m206 0h0m-644 7h0m-50 0h0m27 6h0m95 0h0m96 0h0m95 0h0m286 0h0m-547 6h0m-66 5h0m89 0h0m88 0h0m89 0h0m-284 5h0m-58 5h0m82 0h0m41 0h0m83 0h0m83 0h0m82 0h0m-51 8h0m-78 0h0m-77 0h0m-78 0h0m-38 0h0m6 8h0m73 0h0m73 0h0m146 0h0m-182 6h0m-69 0h0m36 6h0m65 0h0m-94 5h0m-62 0h0m-24 5h0m91 5h0m-78 4h0m83 3h0m-52 0h0m-70 4h0m91 13h0m-97 2h0" stroke-width="5.80"/><path d="M396 899h0m17 0h0m24 0h0m17 0h0m59 0h0m23 0h0m23 0h0m24 0h0m70 0h0m134 1h0m-142 0h0m-26 0h0m-61 0h0m-12 0h0m-11 0h0m-42 0h0m-42 0h0m-10 0h0m-26 0h0m-6 0h0m-31 0h0m-38 1h0m2 0h0m15 0h0m16 0h0m30 0h0m2 0h0m7 0h0m8 0h0m5 0h0m4 0h0m1 0h0m9 0h0m25 0h0m21 0h0m11 0h0m11 0h0m28 0h0m15 0h0m4 0h0m32 0h0m25 0h0m38 0h0m13 0h0m16 0h0m14 1h0m-48 0h0m-7 0h0m-14 0h0m-62 0h0m-43 0h0m-15 0h0m-8 0h0m-2 0h0m-13 0h0m-13 0h0m-8 0h0m-5 0h0m-5 0h0m-47 0h0m-5 0h0m-3 0h0m-14 0h0m-14 0h0m-3 0h0m-15 0h0m-9 0h0m-7 1h0m12 0h0m12 0h0m9 0h0m5 0h0m3 0h0m9 0h0m7 0h0m3 0h0m25 0h0m22 0h0m2 0h0m14 0h0m7 0h0m24 0h0m8 0h0m19 0h0m47 0h0m19 0h0m62 0h0m1 0h0m32 0h0m20 0h0m93 0h0m-156 1h0m-250 0h0m-25 0h0m-26 2h0m3 0h0m5 0h0m1 0h0m2 0h0m2 0h0m3 0h0m13 0h0m23 0h0m4 0h0m10 0h0m1 0h0m20 0h0m15 0h0m6 0h0m11 0h0m1 0h0m3 0h0m12 0h0m7 0h0m2 0h0m6 0h0m1 0h0m3 0h0m7 0h0m1 0h0m9 0h0m8 0h0m4 0h0m4 0h0m3 0h0m25 0h0m9 0h0m12 0h0m9 0h0m15 0h0m49 0h0m7 0h0m3 0h0m8 0h0m5 0h0m31 0h0m93 0h0m73 0h0m-236 2h0m-55 0h0m-24 0h0m-75 0h0m-28 0h0m-9 0h0m-9 0h0m-5 0h0m-5 0h0m-4 0h0m-1 0h0m-4 0h0m-6 0h0m-19 0h0m-16 0h0m-32 1h0m13 0h0m1 0h0m7 0h0m4 0h0m25 0h0m14 0h0m1 0h0m8 0h0m8 0h0m10 0h0m6 0h0m24 0h0m1 0h0m23 0h0m24 0h0m11 0h0m1 0h0m24 0h0m13 0h0m51 0h0m13 0h0m52 0h0m158 1h0m-128 0h0m-90 0h0m-32 0h0m-17 0h0m-2 0h0m-14 0h0m-2 0h0m-15 0h0m-13 0h0m-1 0h0m-33 0h0m-7 0h0m-9 0h0m-4 0h0m-1 0h0m-19 0h0m-7 0h0m-1 0h0m-7 0h0m-8 0h0m-6 0h0m-3 0h0m-9 0h0m-21 0h0m-4 0h0m-4 0h0m-13 0h0m-17 0h0m-2 0h0m-1 0h0m4 1h0m17 0h0m15 0h0m5 0h0m9 0h0m10 0h0m5 0h0m4 0h0m14 0h0m9 0h0m27 0h0m31 0h0m2 0h0m6 0h0m31 0h0m101 0h0m15 0h0m5 0h0m41 0h0m41 0h0m74 0h0m-5 1h0m-71 0h0m-33 0h0m-57 0h0m-45 0h0m-22 0h0m-77 0h0m-2 0h0m-11 0h0m-30 0h0m-10 0h0m-5 0h0m-12 0h0m-15 0h0m-7 0h0m-8 0h0m-12 0h0m-3 0h0m-44 0h0m14 1h0m14 0h0m3 0h0m24 0h0m3 0h0m10 0h0m8 0h0m4 0h0m42 0h0m55 0h0m13 0h0m25 0h0m25 0h0m4 0h0m22 0h0m15 0h0m23 0h0m8 0h0m4 0h0m25 0h0m50 0h0m1 0h0m76 0h0m-6 1h0m-228 0h0m-15 0h0m-11 0h0m-5 0h0m-26 0h0m-5 0h0m-15 0h0m-7 0h0m-5 0h0m-4 0h0m-31 0h0m-15 0h0m-28 0h0m-3 0h0m-29 0h0m-2 0h0m-15 0h0m-16 0h0m-5 1h0m6 0h0m18 0h0m12 0h0m3 0h0m34 0h0m5 0h0m28 0h0m34 0h0m2 0h0m13 0h0m11 0h0m74 0h0m117 0h0m268 0h0m-303 1h0m-78 0h0m-55 0h0m-36 0h0m-3 0h0m-6 0h0m-10 0h0m-8 0h0m-25 0h0m-8 0h0m-19 0h0m-48 0h0m-1 0h0m-12 0h0m-6 0h0m-6 0h0m15 1h0m2 0h0m20 0h0m3 0h0m10 0h0m4 0h0m18 0h0m8 0h0m6 0h0m27 0h0m7 0h0m9 0h0m71 0h0m87 0h0m36 0h0m304 0h0m-342 1h0m-13 0h0m-9 0h0m-48 0h0m-18 0h0m-12 0h0m-15 0h0m-12 0h0m-39 0h0m-11 0h0m-15 0h0m-7 0h0m-8 0h0m-29 0h0m-2 0h0m-25 0h0m-5 0h0m-12 1h0m42 0h0m5 0h0m3 0h0m6 0h0m11 0h0m42 0h0m4 0h0m6 0h0m2 0h0m21 0h0m14 0h0m35 0h0m21 0h0m155 0h0m9 1h0m-127 0h0m-36 0h0m-35 0h0m-19 0h0m-18 0h0m-16 0h0m-2 0h0m-18 0h0m-18 0h0m-13 0h0m-2 0h0m-2 0h0m-28 0h0m-8 0h0m-1 0h0m-22 0h0m-5 0h0m-8 0h0m-5 0h0m0 1h0m8 0h0m21 0h0m1 0h0m55 0h0m11 0h0m11 0h0m20 0h0m71 0h0m226 1h0m-104 0h0m-114 0h0m-14 0h0m-9 0h0m-16 0h0m-4 0h0m-39 0h0m-10 0h0m-38 0h0m-11 0h0m-34 0h0m-4 1h0m8 0h0m54 0h0m31 0h0m17 0h0m20 0h0m37 0h0m8 0h0m131 1h0m-100 0h0m-31 0h0m-5 0h0m-26 0h0m-1 0h0m-16 0h0m-8 0h0m-5 0h0m-1 0h0m-8 0h0m-4 0h0m-2 0h0m-31 0h0m-6 0h0m-20 0h0m-6 0h0m-62 0h0m1 1h0m2 0h0m6 0h0m16 0h0m11 0h0m18 0h0m21 0h0m6 0h0m13 0h0m1 0h0m12 0h0m9 0h0m9 0h0m19 0h0m16 0h0m18 0h0m17 0h0m11 0h0m43 0h0m123 0h0m53 0h0m-54 1h0m-48 0h0m-49 0h0m-23 0h0m-15 0h0m-15 0h0m-62 0h0m-6 0h0m-4 0h0m-19 0h0m-13 0h0m-16 0h0m-9 0h0m-24 0h0m-2 0h0m-10 0h0m-1 0h0m-12 0h0m-7 0h0m-3 0h0m-9 0h0m-5 0h0m-7 0h0m31 1h0m29 0h0m7 0h0m6 0h0m28 0h0m37 0h0m6 0h0m107 0h0m67 0h0m78 0h0m-31 1h0m-66 0h0m-5 0h0m-86 0h0m-13 0h0m-33 0h0m-14 0h0m-16 0h0m-12 0h0m-4 0h0m-15 0h0m-18 0h0m-1 0h0m-1 0h0m-9 0h0m-32 0h0m-2 0h0m-4 0h0m-4 0h0m-4 0h0m-6 0h0m-10 0h0m-4 0h0m-5 0h0m-12 0h0m-2 0h0m18 1h0m12 0h0m9 0h0m7 0h0m12 0h0m9 0h0m7 0h0m4 0h0m4 0h0m8 0h0m7 0h0m29 0h0m40 0h0m40 0h0m10 0h0m22 0h0m20 0h0m1 0h0m72 0h0m35 0h0m53 0h0m-10 1h0m-44 0h0m-70 0h0m-34 0h0m-1 0h0m-28 0h0m-24 0h0m-17 0h0m-18 0h0m-52 0h0m-7 0h0m-15 0h0m-13 0h0m-3 0h0m-13 0h0m-1 0h0m-14 0h0m-4 0h0m-17 0h0m-9 0h0m-6 0h0m-9 0h0m-7 0h0m18 1h0m30 0h0m2 0h0m59 0h0m33 0h0m280 1h0m-78 0h0m-18 0h0m-25 0h0m-19 0h0m-35 0h0m-39 0h0m-2 0h0m-11 0h0m-12 0h0m-6 0h0m-25 0h0m-54 0h0m-12 0h0m-4 0h0m-22 0h0m-15 0h0m-11 0h0m-14 0h0m-5 0h0m-2 0h0m-15 0h0m11 1h0m7 0h0m18 0h0m31 0h0m1 0h0m11 0h0m7 0h0m31 0h0m6 0h0m9 0h0m23 0h0m13 0h0m20 0h0m5 0h0m29 0h0m616 1h0m-396 0h0m-172 0h0m-1 0h0m-16 0h0m-52 0h0m-5 0h0m-14 0h0m-15 0h0m-17 0h0m-5 0h0m-31 0h0m-34 0h0m-8 0h0m-32 0h0m-28 1h0m28 0h0m8 0h0m23 0h0m12 0h0m15 0h0m9 0h0m47 0h0m47 0h0m45 0h0m54 0h0m27 0h0m36 1h0m-22 0h0m-145 0h0m-1 0h0m-15 0h0m-16 0h0m-44 0h0m-2 0h0m-3 0h0m-28 0h0m-1 0h0m-15 0h0m-16 0h0m-12 0h0m-4 0h0m-35 1h0m15 0h0m14 0h0m31 0h0m1 0h0m42 0h0m2 0h0m5 0h0m3 0h0m28 0h0m6 0h0m12 0h0m26 0h0m3 0h0m19 0h0m9 0h0m47 0h0m25 0h0m3 0h0m54 1h0m-93 0h0m-10 0h0m-17 0h0m-20 0h0m-35 0h0m-12 0h0m-68 0h0m-26 0h0m-25 0h0m-9 0h0m-25 0h0m-8 1h0m1 0h0m13 0h0m3 0h0m33 0h0m7 0h0m10 0h0m16 0h0m12 0h0m10 0h0m11 0h0m25 0h0m19 0h0m14 0h0m23 0h0m40 0h0m11 0h0m14 0h0m393 1h0m-360 0h0m-49 0h0m-15 0h0m-31 0h0m-4 0h0m-11 0h0m-42 0h0m-5 0h0m-6 0h0m-10 0h0m-69 0h0m-33 0h0m-6 0h0m-16 0h0m7 1h0m23 0h0m1 0h0m41 0h0m2 0h0m16 0h0m47 0h0m51 0h0m8 0h0m33 0h0m59 0h0m-63 1h0m-6 0h0m-8 0h0m-37 0h0m-3 0h0m-30 0h0m-9 0h0m-5 0h0m-10 0h0m-10 0h0m-41 0h0m-9 0h0m-44 0h0m9 1h0m6 0h0m3 0h0m28 0h0m37 0h0m22 0h0m2 0h0m2 0h0m19 0h0m4 0h0m34 0h0m15 0h0m23 0h0m46 0h0m140 0h0m-163 1h0m-14 0h0m-71 0h0m-21 0h0m-13 0h0m-19 0h0m-3 0h0m-28 0h0m-3 0h0m-21 0h0m-13 0h0m-34 0h0m11 1h0m2 0h0m11 0h0m5 0h0m4 0h0m4 0h0m157 0h0m13 0h0m29 0h0m23 0h0m150 1h0m-108 0h0m-26 0h0m-8 0h0m-46 0h0m-13 0h0m-30 0h0m-25 0h0m-17 0h0m-7 0h0m-9 0h0m-1 0h0m-16 0h0m-4 0h0m-14 0h0m-16 0h0m-16 0h0m-2 0h0m-6 0h0m-13 0h0m-24 1h0m13 0h0m6 0h0m10 0h0m39 0h0m34 0h0m2 0h0m8 0h0m47 0h0m28 0h0m47 0h0m33 0h0m28 0h0m30 0h0m76 1h0m-52 0h0m-164 0h0m-78 0h0m-18 0h0m-31 0h0m-12 0h0m-14 0h0m-10 0h0m-21 1h0m20 0h0m8 0h0m12 0h0m5 0h0m15 0h0m6 0h0m7 0h0m7 0h0m20 0h0m29 0h0m1 0h0m11 0h0m9 0h0m43 0h0m27 0h0m10 0h0m16 0h0m54 0h0m20 0h0m-51 1h0m-16 0h0m-47 0h0m-35 0h0m-12 0h0m-2 0h0m-2 0h0m-15 0h0m-1 0h0m-16 0h0m-21 0h0m-17 0h0m-11 0h0m-6 0h0m-18 0h0m-5 0h0m-4 0h0m-9 0h0m-7 0h0m-11 0h0m-18 0h0m-4 0h0m0 1h0m27 0h0m23 0h0m7 0h0m5 0h0m10 0h0m2 0h0m13 0h0m3 0h0m12 0h0m3 0h0m7 0h0m11 0h0m10 0h0m13 0h0m14 0h0m8 0h0m6 0h0m2 0h0m29 0h0m7 0h0m24 0h0m45 0h0m127 0h0m-122 1h0m-2 0h0m-4 0h0m-4 0h0m-71 0h0m-9 0h0m-42 0h0m-9 0h0m-9 0h0m-18 0h0m-1 0h0m-10 0h0m-4 0h0m-24 0h0m-7 0h0m-36 0h0m-2 0h0m-8 0h0m-6 0h0m-21 2h0m6 0h0m41 0h0m1 0h0m1 0h0m10 0h0m2 0h0m1 0h0m1 0h0m6 0h0m9 0h0m2 0h0m10 0h0m27 0h0m3 0h0m6 0h0m1 0h0m4 0h0m26 0h0m2 0h0m4 0h0m2 0h0m11 0h0m18 0h0m12 0h0m11 0h0m5 0h0m4 0h0m14 0h0m9 0h0m2 0h0m4 0h0m26 0h0m7 0h0m15 0h0m4 0h0m3 0h0m143 0h0m-304 2h0m-9 0h0m-9 0h0m-8 0h0m-29 0h0m-24 0h0m-8 0h0m-9 0h0m-13 0h0m-14 0h0m-19 0h0m-5 0h0m3 1h0m17 0h0m10 0h0m5 0h0m4 0h0m25 0h0m29 0h0m15 0h0m16 0h0m13 0h0m13 0h0m41 0h0m63 0h0m121 0h0m126 0h0m-182 1h0m-55 0h0m-16 0h0m-16 0h0m-9 0h0m-23 0h0m-11 0h0m-7 0h0m-11 0h0m-35 0h0m-9 0h0m-61 0h0m-9 0h0m-4 0h0m-4 0h0m-14 0h0m-9 0h0m-16 0h0m-5 0h0m-7 0h0m28 1h0m13 0h0m19 0h0m23 0h0m3 0h0m13 0h0m16 0h0m2 0h0m20 0h0m59 0h0m6 0h0m13 0h0m74 0h0m219 1h0m-223 0h0m-75 0h0m-16 0h0m-46 0h0m-46 0h0m-12 0h0m-6 0h0m-10 0h0m-7 0h0m-4 0h0m-21 0h0m-26 0h0m-7 0h0m1 1h0m3 0h0m27 0h0m3 0h0m10 0h0m61 0h0m7 0h0m29 0h0m86 0h0m14 0h0m58 0h0m15 1h0m-18 0h0m-120 0h0m-29 0h0m-46 0h0m-19 0h0m-11 0h0m-32 0h0m-35 0h0m13 1h0m1 0h0m8 0h0m2 0h0m14 0h0m2 0h0m6 0h0m7 0h0m5 0h0m8 0h0m13 0h0m16 0h0m5 0h0m19 0h0m29 0h0m9 0h0m12 0h0m7 0h0m9 0h0m8 0h0m5 0h0m17 0h0m38 0h0m22 1h0m-50 0h0m-36 0h0m-7 0h0m-32 0h0m-4 0h0m-17 0h0m-32 0h0m-7 0h0m-4 0h0m-25 0h0m-3 0h0m-4 0h0m-4 0h0m-3 0h0m-43 0h0m-12 1h0m2 0h0m19 0h0m18 0h0m15 0h0m9 0h0m1 0h0m16 0h0m7 0h0m13 0h0m14 0h0m20 0h0m2 0h0m13 0h0m7 0h0m5 0h0m10 0h0m1 0h0m1 0h0m18 0h0m6 0h0m8 0h0m41 0h0m97 0h0m92 0h0m5 0h0m-173 1h0m-92 0h0m-31 0h0m-8 0h0m-13 0h0m-16 0h0m-10 0h0m-13 0h0m-11 0h0m-24 0h0m-2 0h0m-2 0h0m-39 0h0m-11 1h0m21 0h0m5 0h0m3 0h0m28 0h0m3 0h0m76 0h0m10 0h0m19 0h0m37 0h0m24 0h0m33 0h0m47 0h0m4 0h0m5 0h0m4 0h0m-10 1h0m-51 0h0m-25 0h0m-23 0h0m-60 0h0m-4 0h0m-28 0h0m-2 0h0m-7 0h0m-14 0h0m-15 0h0m-14 0h0m-17 0h0m-7 0h0m-12 0h0m-13 0h0m-7 1h0m21 0h0m33 0h0m17 0h0m18 0h0m26 0h0m74 0h0m16 0h0m78 0h0m149 1h0m-117 0h0m-76 0h0m-14 0h0m-27 0h0m-73 0h0m-26 0h0m-15 0h0m-20 0h0m-34 0h0m-14 0h0m4 1h0m9 0h0m9 0h0m31 0h0m15 0h0m18 0h0m10 0h0m93 0h0m3 0h0m48 0h0m22 0h0m2 0h0m54 0h0m-41 1h0m-118 0h0m-25 0h0m-6 0h0m-14 0h0m-6 0h0m-5 0h0m-8 0h0m-33 0h0m-12 0h0m-4 0h0m-2 0h0m-4 0h0m-4 0h0m-5 0h0m-11 0h0m-2 0h0m-11 0h0m-10 0h0m-22 0h0m15 1h0m4 0h0m5 0h0m36 0h0m22 0h0m13 0h0m5 0h0m7 0h0m21 0h0m57 0h0m2 0h0m5 0h0m59 0h0m74 0h0m83 0h0m-282 1h0m-18 0h0m-49 0h0m-28 0h0m-24 1h0m20 0h0m1 0h0m13 0h0m2 0h0m8 0h0m15 0h0m6 0h0m8 0h0m7 0h0m11 0h0m8 0h0m10 0h0m26 0h0m4 0h0m7 0h0m8 0h0m6 0h0m4 0h0m9 0h0m11 0h0m53 0h0m18 0h0m36 0h0m21 0h0m61 0h0m-77 1h0m-94 0h0m-47 0h0m-15 0h0m-6 0h0m-26 0h0m-9 0h0m-26 0h0m-33 0h0m-2 0h0m-1 0h0m-44 1h0m1 0h0m38 0h0m47 0h0m15 0h0m13 0h0m82 0h0m5 0h0m44 0h0m4 0h0m126 0h0m33 0h0m-148 1h0m-45 0h0m-10 0h0m-4 0h0m-15 0h0m-13 0h0m-26 0h0m-11 0h0m-3 0h0m-20 0h0m-15 0h0m-5 0h0m-10 0h0m-56 0h0m-15 0h0m2 1h0m3 0h0m8 0h0m21 0h0m30 0h0m3 0h0m11 0h0m111 0h0m99 0h0m108 0h0m-50 1h0m-49 0h0m-6 0h0m-41 0h0m-88 0h0m-96 0h0m-10 0h0m-6 0h0m-2 0h0m-36 0h0m-14 0h0m1 1h0m18 0h0m5 0h0m17 0h0m1 0h0m57 0h0m1 0h0m9 0h0m19 0h0m7 0h0m10 0h0m2 0h0m33 0h0m23 0h0m20 0h0m14 0h0m137 0h0m-233 1h0m-17 0h0m-13 0h0m-33 0h0m-7 0h0m-3 0h0m-12 0h0m-25 0h0m-32 1h0m5 0h0m20 0h0m20 0h0m16 0h0m2 0h0m17 0h0m9 0h0m20 0h0m7 0h0m35 0h0m18 0h0m182 1h0m-16 0h0m-122 0h0m-74 0h0m-21 0h0m-7 0h0m-29 0h0m-29 0h0m-9 0h0m-20 0h0m-7 0h0m-10 0h0m-12 0h0m-4 0h0m7 1h0m12 0h0m21 0h0m6 0h0m41 0h0m4 0h0m1 0h0m4 0h0m8 0h0m1 0h0m11 0h0m24 0h0m67 0h0m29 0h0m53 0h0m53 0h0m66 0h0m-49 1h0m-40 0h0m-13 0h0m-35 0h0m-11 0h0m-59 0h0m-10 0h0m-9 0h0m-16 0h0m-17 0h0m-46 0h0m-10 0h0m-23 0h0m-45 0h0m-16 0h0m-6 1h0m47 0h0m23 0h0m12 0h0m1 0h0m16 0h0m53 0h0m3 0h0m15 0h0m71 0h0m15 0h0m-12 1h0m-20 0h0m-39 0h0m-9 0h0m-39 0h0m-6 0h0m-44 0h0m-26 0h0m-2 0h0m-3 0h0m-10 0h0m-11 0h0m-2 0h0m-2 0h0m-6 0h0m-1 0h0m-10 0h0m-12 0h0m-4 2h0m2 0h0m6 0h0m4 0h0m13 0h0m8 0h0m6 0h0m10 0h0m1 0h0m11 0h0m7 0h0m8 0h0m32 0h0m3 0h0m4 0h0m1 0h0m2 0h0m12 0h0m9 0h0m2 0h0m11 0h0m3 0h0m6 0h0m5 0h0m19 0h0m5 0h0m42 0h0m8 0h0m3 0h0m21 0h0m2 0h0m5 0h0m7 0h0m18 0h0m18 0h0m58 0h0m-226 2h0m-3 0h0m-3 0h0m-28 0h0m-17 0h0m-17 0h0m-12 0h0m-2 0h0m-24 0h0m-38 0h0m-1 1h0m9 0h0m20 0h0m2 0h0m23 0h0m4 0h0m13 0h0m8 0h0m13 0h0m13 0h0m1 0h0m25 0h0m22 0h0m9 0h0m22 0h0m41 0h0m21 0h0m45 0h0m6 0h0m9 0h0m-28 1h0m-53 0h0m-14 0h0m-17 0h0m-8 0h0m-111 0h0m-3 0h0m-62 0h0m-6 1h0m35 0h0m38 0h0m14 0h0m10 0h0m11 0h0m3 0h0m8 0h0m5 0h0m28 0h0m47 0h0m39 0h0m16 0h0m9 0h0m214 1h0m-144 0h0m-37 0h0m-30 0h0m-15 0h0m-26 0h0m-83 0h0m-3 0h0m-39 0h0m-15 0h0m-14 0h0m-7 0h0m-6 0h0m-11 0h0m-3 0h0m-28 0h0m-2 0h0m-5 0h0m-4 0h0m-9 0h0m4 1h0m2 0h0m58 0h0m35 0h0m10 0h0m46 0h0m8 0h0m42 0h0m33 0h0m149 1h0m-94 0h0m-27 0h0m-48 0h0m-6 0h0m-32 0h0m-24 0h0m-70 0h0m-43 0h0m-41 0h0m-3 0h0m1 1h0m21 0h0m10 0h0m12 0h0m1 0h0m1 0h0m10 0h0m17 0h0m14 0h0m85 0h0m3 0h0m7 0h0m11 0h0m12 0h0m30 0h0m22 0h0m43 0h0m43 0h0m42 0h0m96 1h0m-5 0h0m-69 0h0m-190 0h0m-50 0h0m-1 0h0m-15 0h0m-4 0h0m-27 0h0m-19 0h0m-4 0h0m-12 0h0m-11 0h0m-2 0h0m-4 0h0m-1 0h0m-20 0h0m-19 0h0m-10 0h0m-16 0h0m18 1h0m3 0h0m7 0h0m53 0h0m14 0h0m13 0h0m58 0h0m32 0h0m106 0h0m101 1h0m-118 0h0m-20 0h0m-38 0h0m-18 0h0m-19 0h0m-18 0h0m-10 0h0m-15 0h0m-3 0h0m-51 0h0m-26 0h0m-11 0h0m-22 0h0m-12 1h0m7 0h0m12 0h0m12 0h0m15 0h0m34 0h0m12 0h0m16 0h0m10 0h0m11 0h0m10 0h0m21 0h0m11 0h0m20 0h0m53 0h0m21 0h0m42 0h0m-73 1h0m-16 0h0m-17 0h0m-23 0h0m-42 0h0m-2 0h0m-40 0h0m-14 0h0m-9 0h0m-33 0h0m-10 0h0m-6 0h0m-21 0h0m-6 0h0m-6 0h0m-3 0h0m-11 0h0m15 1h0m90 0h0m2 0h0m23 0h0m6 0h0m58 0h0m44 0h0m31 0h0m3 0h0m49 0h0m66 0h0m92 0h0m-214 1h0m-70 0h0m-18 0h0m-13 0h0m-141 0h0m-14 0h0m2 1h0m10 0h0m7 0h0m16 0h0m16 0h0m16 0h0m16 0h0m4 0h0m25 0h0m3 0h0m13 0h0m2 0h0m1 0h0m17 0h0m1 0h0m72 0h0m11 0h0m20 0h0m21 0h0m19 0h0m22 0h0m-70 1h0m-17 0h0m-29 0h0m-3 0h0m-14 0h0m-7 0h0m-6 0h0m-18 0h0m-41 0h0m-7 0h0m-26 0h0m-10 0h0m-1 0h0m-9 0h0m-58 0h0m-10 1h0m4 0h0m7 0h0m12 0h0m36 0h0m4 0h0m23 0h0m8 0h0m18 0h0m16 0h0m38 0h0m9 0h0m99 0h0m55 1h0m-47 0h0m-40 0h0m-14 0h0m-22 0h0m-4 0h0m-29 0h0m-22 0h0m-40 0h0m-1 0h0m-19 0h0m-4 0h0m-13 0h0m-44 0h0m-9 0h0m-3 0h0m-16 1h0m5 0h0m36 0h0m10 0h0m50 0h0m11 0h0m3 0h0m8 0h0m77 0h0m14 0h0m15 0h0m5 0h0m10 0h0m13 0h0m72 0h0m27 0h0m33 1h0m-88 0h0m-36 0h0m-80 0h0m-32 0h0m-6 0h0m-10 0h0m-49 0h0m-27 0h0m-8 0h0m-6 0h0m-21 0h0m-2 0h0m-13 0h0m-8 0h0m-5 1h0m9 0h0m5 0h0m10 0h0m5 0h0m42 0h0m14 0h0m14 0h0m4 0h0m5 0h0m4 0h0m25 0h0m13 0h0m16 0h0m32 0h0m4 0h0m11 0h0m9 0h0m4 0h0m14 0h0m84 0h0m28 0h0m-65 1h0m-30 0h0m-24 0h0m-61 0h0m-25 0h0m-13 0h0m-13 0h0m-12 0h0m-21 0h0m-30 0h0m-14 0h0m-21 0h0m-18 1h0m26 0h0m17 0h0m11 0h0m1 0h0m19 0h0m1 0h0m6 0h0m3 0h0m2 0h0m12 0h0m6 0h0m6 0h0m6 0h0m8 0h0m18 0h0m42 0h0m2 0h0m8 0h0m30 0h0m66 0h0m94 0h0m-90 1h0m-45 0h0m-5 0h0m-43 0h0m-61 0h0m-22 0h0m-24 0h0m-31 0h0m-13 0h0m-51 0h0m3 1h0m7 0h0m43 0h0m18 0h0m3 0h0m9 0h0m1 0h0m13 0h0m5 0h0m90 0h0m74 0h0m82 0h0m43 1h0m-69 0h0m-38 0h0m-3 0h0m-58 0h0m-4 0h0m-1 0h0m-9 0h0m-34 0h0m-36 0h0m-19 0h0m-2 0h0m-6 0h0m-1 0h0m-21 0h0m-19 0h0m-24 0h0m-4 0h0m-2 0h0m-5 0h0m-13 0h0m-12 0h0m-2 0h0m-1 0h0m-9 2h0m1 0h0m78 0h0m19 0h0m10 0h0m6 0h0m19 0h0m31 0h0m7 0h0m25 0h0m19 0h0m10 0h0m23 0h0m16 1h0m-28 0h0m-78 0h0m-4 0h0m-14 0h0m-1 0h0m-12 0h0m-11 0h0m-3 0h0m-17 0h0m-10 0h0m-27 0h0m-23 0h0m-5 0h0m-34 0h0m27 1h0m22 0h0m2 0h0m10 0h0m34 0h0m17 0h0m12 0h0m5 0h0m14 0h0m3 0h0m21 0h0m13 0h0m16 0h0m41 0h0m4 0h0m52 0h0m209 0h0m-210 1h0m-30 0h0m-1 0h0m-14 0h0m-27 0h0m-25 0h0m-42 0h0m-20 0h0m-17 0h0m-7 0h0m-4 0h0m-9 0h0m-12 0h0m-34 0h0m-15 0h0m-1 0h0m-24 0h0m3 1h0m30 0h0m15 0h0m15 0h0m30 0h0m74 0h0m64 0h0m218 1h0m-3 0h0m-47 0h0m-17 0h0m-164 0h0m-15 0h0m-39 0h0m-4 0h0m-29 0h0m-9 0h0m-19 0h0m-38 0h0m-6 0h0m-1 0h0m-11 0h0m-1 0h0m-16 0h0m-8 0h0m-25 0h0m35 1h0m14 0h0m20 0h0m4 0h0m69 0h0m50 0h0m254 1h0m-111 0h0m-120 0h0m-53 0h0m-15 0h0m-16 0h0m-17 0h0m-1 0h0m-25 0h0m-17 0h0m-8 0h0m-1 0h0m-63 0h0m-4 1h0m6 0h0m1 0h0m21 0h0m11 0h0m22 0h0m41 0h0m2 0h0m1 0h0m12 0h0m15 0h0m31 0h0m20 0h0m10 0h0m16 0h0m13 0h0m13 0h0m14 0h0m39 0h0m53 0h0m0 1h0m-30 0h0m-57 0h0m-16 0h0m-19 0h0m-24 0h0m-14 0h0m-1 0h0m-17 0h0m-18 0h0m-8 0h0m-48 0h0m-10 0h0m-10 0h0m-19 0h0m-1 0h0m-35 0h0m-15 1h0m10 0h0m13 0h0m4 0h0m6 0h0m55 0h0m5 0h0m5 0h0m3 0h0m26 0h0m4 0h0m22 0h0m43 0h0m23 0h0m4 0h0m2 1h0m-95 0h0m-2 0h0m-20 0h0m-30 0h0m-13 0h0m-17 0h0m-9 0h0m-3 0h0m-32 1h0m25 0h0m33 0h0m6 0h0m8 0h0m27 0h0m17 0h0m1 0h0m13 0h0m64 0h0m22 0h0m12 0h0m72 1h0m-12 0h0m-118 0h0m-23 0h0m-14 0h0m-9 0h0m-2 0h0m-32 0h0m-3 0h0m-55 0h0m-10 0h0m-14 0h0m11 1h0m7 0h0m4 0h0m110 0h0m7 0h0m220 1h0m-131 0h0m-33 0h0m-6 0h0m-12 0h0m-5 0h0m-2 0h0m-29 0h0m-40 0h0m-1 0h0m-1 0h0m-4 0h0m-18 0h0m-11 0h0m-5 0h0m-73 0h0m28 1h0m14 0h0m56 0h0m29 0h0m3 0h0m10 0h0m77 0h0m16 0h0m32 0h0m47 0h0m32 1h0m-25 0h0m-3 0h0m-73 0h0m-63 0h0m-13 0h0m-89 0h0m-37 0h0m-12 0h0m-11 0h0m-12 0h0m-2 1h0m5 0h0m21 0h0m39 0h0m2 0h0m5 0h0m17 0h0m9 0h0m16 0h0m29 0h0m9 0h0m24 0h0m18 0h0m51 0h0m6 0h0m37 0h0m-78 1h0m-63 0h0m-1 0h0m-16 0h0m-2 0h0m-10 0h0m-16 0h0m-1 0h0m-24 0h0m-5 0h0m-19 0h0m-7 0h0m-12 0h0m-10 0h0m-1 0h0m-27 0h0m13 1h0m7 0h0m9 0h0m89 0h0m78 0h0m253 1h0m-110 0h0m-76 0h0m-15 0h0m-54 0h0m-13 0h0m-2 0h0m-4 0h0m-36 0h0m-7 0h0m-7 0h0m-18 0h0m-5 0h0m-13 0h0m-8 0h0m-7 0h0m-1 0h0m-2 0h0m-8 0h0m-16 0h0m-1 0h0m-28 0h0m-10 0h0m0 1h0m97 0h0m96 0h0m145 1h0m-30 0h0m-36 0h0m-41 0h0m-31 0h0m-3 0h0m-20 0h0m-29 0h0m-20 0h0m-2 0h0m-15 0h0m-18 0h0m-10 0h0m-3 0h0m-5 0h0m-39 0h0m-10 0h0m-19 0h0m-6 0h0m-3 0h0m-4 1h0m13 0h0m35 0h0m2 0h0m15 0h0m6 0h0m20 0h0m5 0h0m92 0h0m17 0h0m9 0h0m9 0h0m41 0h0m46 0h0m-38 1h0m-24 0h0m-19 0h0m-54 0h0m-60 0h0m-19 0h0m-14 0h0m-16 0h0m-3 0h0m-26 0h0m-8 0h0m-24 0h0m-3 0h0m11 1h0m15 0h0m28 0h0m4 0h0m6 0h0m38 0h0m27 0h0m63 0h0m30 0h0m46 0h0m90 0h0m-40 1h0m-86 0h0m-18 0h0m-34 0h0m-47 0h0m-5 0h0m-55 0h0m-13 0h0m-9 0h0m-43 0h0m0 1h0m15 0h0m9 0h0m19 0h0m2 0h0m30 0h0m1 0h0m7 0h0m63 0h0m10 0h0m33 0h0m7 0h0m28 0h0m65 0h0m20 0h0m44 1h0m-76 0h0m-34 0h0m-26 0h0m-33 0h0m-3 0h0m-14 0h0m-10 0h0m-23 0h0m-11 0h0m-24 0h0m-34 0h0m-15 0h0m-24 0h0m-12 0h0m-8 0h0m-10 0h0m44 1h0m13 0h0m3 0h0m23 0h0m7 0h0m33 0h0m13 0h0m13 0h0m50 0h0m69 0h0m28 1h0m-34 0h0m-81 0h0m-7 0h0m-25 0h0m-30 0h0m-10 0h0m-14 0h0m-26 0h0m-6 0h0m-22 0h0m-1 0h0m-7 0h0m-18 0h0m-10 0h0m-4 0h0m-10 0h0m11 1h0m3 0h0m10 0h0m29 0h0m5 0h0m16 0h0m2 0h0m5 0h0m35 0h0m38 0h0m4 0h0m9 0h0m7 0h0m13 0h0m23 0h0m47 0h0m15 0h0m8 0h0m47 0h0m6 0h0m41 0h0m-206 1h0m-38 0h0m-13 0h0m-10 0h0m-22 0h0m-19 0h0m-12 0h0m-11 0h0m-6 0h0m-25 1h0m22 0h0m10 0h0m42 0h0m3 0h0m48 0h0m20 0h0m77 0h0m30 0h0m29 0h0m-14 1h0m-19 0h0m-82 0h0m-29 0h0m-13 0h0m-10 0h0m-34 0h0m-30 0h0m-7 0h0m-6 0h0m-12 0h0m-32 0h0m48 1h0m7 0h0m10 0h0m6 0h0m5 0h0m2 0h0m8 0h0m43 0h0m22 0h0m46 0h0m46 0h0m27 0h0m29 1h0m-116 0h0m-24 0h0m-13 0h0m-3 0h0m-16 0h0m-18 0h0m-1 0h0m-19 0h0m-28 0h0m-16 0h0m-4 0h0m-29 0h0m-9 0h0m-4 1h0m12 0h0m29 0h0m6 0h0m11 0h0m11 0h0m20 0h0m3 0h0m16 0h0m18 0h0m10 0h0m24 0h0m80 0h0m183 1h0m-142 0h0m-2 0h0m-6 0h0m-9 0h0m-9 0h0m-5 0h0m-46 0h0m-100 0h0m-9 0h0m-14 0h0m-3 0h0m-3 0h0m-2 0h0m-1 0h0m-1 0h0m-9 0h0m-33 0h0m-2 0h0m-4 0h0m-4 0h0m-18 0h0m-2 2h0m19 0h0m8 0h0m16 0h0m17 0h0m6 0h0m9 0h0m9 0h0m7 0h0m8 0h0m2 0h0m123 0h0m21 0h0m50 1h0m-28 0h0m-63 0h0m-28 0h0m-14 0h0m-8 0h0m-6 0h0m-10 0h0m-19 0h0m-9 0h0m-28 0h0m-31 0h0m-11 0h0m-3 0h0m-10 0h0m-18 0h0m-2 1h0m12 0h0m11 0h0m11 0h0m3 0h0m19 0h0m11 0h0m1 0h0m6 0h0m15 0h0m9 0h0m4 0h0m33 0h0m12 0h0m48 0h0m1 0h0m4 0h0m22 0h0m121 0h0m111 1h0m-110 0h0m-69 0h0m-14 0h0m-14 0h0m-18 0h0m-23 0h0m-10 0h0m-9 0h0m-31 0h0m-4 0h0m-6 0h0m-6 0h0m-3 0h0m-38 0h0m-6 0h0m-7 0h0m-20 0h0m-25 0h0m-9 0h0m-12 0h0m-13 0h0m-8 0h0m23 1h0m37 0h0m60 0h0m7 0h0m20 0h0m16 0h0m109 0h0m-2 1h0m-41 0h0m-36 0h0m-22 0h0m-35 0h0m-8 0h0m-21 0h0m-1 0h0m-27 0h0m-5 0h0m-11 0h0m-20 0h0m-4 0h0m-9 0h0m-5 0h0m-28 1h0m19 0h0m12 0h0m5 0h0m3 0h0m3 0h0m18 0h0m48 0h0m25 0h0m9 0h0m49 0h0m41 0h0m92 0h0m-144 1h0m-99 0h0m-71 0h0m-12 0h0m-1 1h0m13 0h0m8 0h0m45 0h0m11 0h0m2 0h0m6 0h0m7 0h0m15 0h0m12 0h0m20 0h0m34 0h0m62 0h0m15 0h0m-30 1h0m-10 0h0m-21 0h0m-5 0h0m-61 0h0m-17 0h0m-44 0h0m-1 0h0m-3 0h0m-6 0h0m-1 0h0m-23 0h0m-19 0h0m-10 0h0m8 1h0m3 0h0m13 0h0m3 0h0m11 0h0m67 0h0m9 0h0m3 0h0m48 0h0m9 0h0m22 0h0m13 0h0m26 0h0m476 1h0m-525 0h0m-15 0h0m-3 0h0m-45 0h0m-4 0h0m-8 0h0m-30 0h0m-2 0h0m-11 0h0m-19 0h0m-10 0h0m-6 0h0m-15 0h0m-11 1h0m2 0h0m28 0h0m19 0h0m21 0h0m9 0h0m66 0h0m6 0h0m23 0h0m-65 1h0m-26 0h0m-52 0h0m-14 0h0m1 1h0m10 0h0m5 0h0m18 0h0m1 0h0m10 0h0m2 0h0m11 0h0m6 0h0m50 0h0m16 0h0m7 0h0m65 0h0m5 0h0m47 0h0m9 1h0m-45 0h0m-53 0h0m-51 0h0m-6 0h0m-9 0h0m-6 0h0m-46 0h0m-7 0h0m-15 0h0m-12 0h0m-31 1h0m12 0h0m25 0h0m21 0h0m29 0h0m46 0h0m42 0h0m53 0h0m5 0h0m44 0h0m-8 1h0m-7 0h0m-26 0h0m-28 0h0m-21 0h0m-1 0h0m-49 0h0m-31 0h0m-32 0h0m-2 0h0m-17 0h0m-30 0h0m-16 0h0m-9 0h0m-4 0h0m16 1h0m14 0h0m15 0h0m30 0h0m13 0h0m9 0h0m6 0h0m28 0h0m6 0h0m43 0h0m7 0h0m2 0h0m14 0h0m46 0h0m5 0h0m50 0h0m29 0h0m-28 1h0m-60 0h0m-13 0h0m-17 0h0m-10 0h0m-20 0h0m-72 0h0m-12 0h0m-3 0h0m-13 0h0m-42 0h0m-3 0h0m-15 0h0m-10 0h0m-2 0h0m-3 0h0m17 1h0m30 0h0m13 0h0m43 0h0m14 0h0m14 0h0m9 0h0m67 0h0m460 1h0m-272 0h0m-99 0h0m-38 0h0m-12 0h0m-76 0h0m-27 0h0m-4 0h0m-9 0h0m-5 0h0m-40 0h0m-5 0h0m-24 0h0m-16 0h0m-4 0h0m-3 0h0m-18 0h0m-12 0h0m-17 0h0m22 1h0m3 0h0m20 0h0m2 0h0m18 0h0m39 0h0m39 0h0m14 0h0m45 0h0m59 0h0m50 1h0m-33 0h0m-65 0h0m-34 0h0m-47 0h0m-9 0h0m-24 0h0m-27 0h0m-4 0h0m-7 0h0m-15 0h0m-13 0h0m-5 0h0m-27 0h0m19 1h0m21 0h0m18 0h0m1 0h0m9 0h0m11 0h0m1 0h0m8 0h0m2 0h0m8 0h0m19 0h0m20 0h0m77 0h0m11 0h0m91 0h0m-47 1h0m-40 0h0m-3 0h0m-52 0h0m-16 0h0m-26 0h0m-13 0h0m-6 0h0m-8 0h0m-16 0h0m-12 0h0m-11 0h0m-4 0h0m-17 0h0m-2 0h0m-2 0h0m-11 0h0m-7 0h0m-4 1h0m5 0h0m43 0h0m29 0h0m659 1h0m-433 0h0m-81 0h0m-2 0h0m-6 0h0m-4 0h0m-71 0h0m-12 0h0m-36 0h0m-17 0h0m-5 0h0m-27 0h0m-4 0h0m-2 0h0m-38 0h0m-11 0h0m-3 0h0m1 1h0m5 0h0m31 0h0m4 0h0m27 0h0m27 0h0m68 0h0m48 0h0m46 0h0m49 1h0m-70 0h0m-94 0h0m-10 0h0m-9 0h0m-8 0h0m-7 0h0m-4 0h0m-5 0h0m-13 0h0m-9 0h0m-10 0h0m-10 0h0m-1 0h0m-17 0h0m-6 0h0m-13 0h0m-10 0h0m28 1h0m2 0h0m17 0h0m9 0h0m25 0h0m27 0h0m54 0h0m34 0h0m59 0h0m38 0h0m8 0h0m-74 1h0m-18 0h0m-16 0h0m-48 0h0m-45 0h0m-5 0h0m-5 0h0m-2 0h0m-23 0h0m-22 0h0m-5 0h0m-27 0h0m-9 0h0m-5 0h0m75 1h0m10 0h0m10 0h0m21 0h0m110 0h0m516 1h0m-581 0h0m-7 0h0m-2 0h0m-61 0h0m-69 0h0m-9 0h0m-1 0h0m-1 0h0m-11 0h0m-8 0h0m-1 0h0m37 1h0m6 0h0m17 0h0m1 0h0m36 0h0m20 0h0m23 0h0m19 0h0m3 0h0m38 0h0m79 0h0m37 0h0m28 0h0m409 0h0m-470 1h0m-57 0h0m-90 0h0m-13 0h0m-32 0h0m-7 0h0m-60 0h0m-12 0h0m-8 0h0m-1 1h0m9 0h0m14 0h0m4 0h0m26 0h0m15 0h0m6 0h0m17 0h0m25 0h0m13 0h0m28 0h0m7 0h0m8 0h0m2 0h0m5 0h0m54 0h0m27 0h0m-63 1h0m-123 0h0m-31 0h0m-1 0h0m-35 0h0m-6 1h0m13 0h0m3 0h0m11 0h0m9 0h0m3 0h0m21 0h0m1 0h0m5 0h0m8 0h0m41 0h0m11 0h0m1 0h0m28 0h0m18 0h0m31 0h0m51 0h0m37 0h0m-147 1h0m-11 0h0m-8 0h0m-14 0h0m-28 0h0m-46 0h0m-1 0h0m-36 1h0m1 0h0m8 0h0m18 0h0m17 0h0m17 0h0m4 0h0m9 0h0m5 0h0m8 0h0m1 0h0m8 0h0m15 0h0m52 0h0m32 0h0m-24 1h0m-5 0h0m-81 0h0m-60 0h0m-9 0h0m-10 1h0m17 0h0m7 0h0m45 0h0m14 0h0m20 0h0m17 0h0m24 0h0m11 0h0m1 0h0m8 0h0m25 0h0m18 0h0m8 0h0m3 0h0m541 1h0m-584 0h0m-36 0h0m-30 0h0m-12 0h0m-7 0h0m-25 0h0m-11 0h0m-43 0h0m-10 0h0m-13 1h0m9 0h0m2 0h0m32 0h0m12 0h0m22 0h0m3 0h0m31 0h0m17 0h0m17 0h0m8 0h0m16 0h0m605 1h0m-493 0h0m-10 0h0m-4 0h0m-99 0h0m-14 0h0m-17 0h0m-53 0h0m-23 0h0m-1 0h0m-7 0h0m-2 0h0m-46 0h0m21 1h0m4 0h0m18 0h0m11 0h0m14 0h0m4 0h0m9 0h0m19 0h0m17 0h0m1 0h0m10 0h0m13 0h0m11 0h0m16 0h0m-15 1h0m-159 1h0m6 0h0m3 0h0m49 0h0m12 0h0m19 0h0m10 0h0m11 0h0m43 0h0m22 0h0m13 0h0m26 0h0m9 0h0m41 0h0m509 1h0m-548 0h0m-12 0h0m-68 0h0m-2 0h0m-3 0h0m-5 0h0m-7 0h0m-1 0h0m-22 0h0m-6 0h0m-9 0h0m-1 0h0m-39 0h0m-33 0h0m-9 0h0m86 1h0m101 0h0m25 1h0m-12 0h0m-28 0h0m-5 0h0m-23 0h0m-13 0h0m-18 0h0m-42 0h0m-48 0h0m-1 0h0m-7 0h0m-4 0h0m-5 0h0m-2 0h0m-5 0h0m-5 1h0m40 0h0m4 0h0m3 0h0m73 0h0m7 0h0m33 0h0m7 0h0m80 0h0m60 0h0m-74 1h0m-15 0h0m-22 0h0m-13 0h0m-19 0h0m-10 0h0m-1 0h0m-14 0h0m-34 0h0m-45 0h0m-9 0h0m-10 0h0m-17 0h0m-17 0h0m-4 0h0m-2 1h0m31 0h0m3 0h0m8 0h0m20 0h0m6 0h0m1 0h0m15 0h0m63 0h0m6 0h0m43 0h0m3 0h0m26 0h0m157 0h0m-183 1h0m-87 0h0m-13 0h0m-10 0h0m-13 0h0m-16 0h0m-13 0h0m-4 0h0m-22 0h0m-18 1h0m33 0h0m5 0h0m8 0h0m3 0h0m25 0h0m3 0h0m5 0h0m66 0h0m48 0h0m26 0h0m52 0h0m25 0h0m5 1h0m-137 0h0m-11 0h0m-2 0h0m-64 0h0m-13 0h0m-53 0h0m-22 1h0m9 0h0m11 0h0m28 0h0m19 0h0m3 0h0m2 0h0m14 0h0m9 0h0m7 0h0m3 0h0m28 0h0m101 1h0m-40 0h0m-14 0h0m-32 0h0m-4 0h0m-15 0h0m-19 0h0m-11 0h0m-14 0h0m-2 0h0m-15 0h0m-7 0h0m-2 0h0m-4 0h0m-17 0h0m-4 0h0m-10 0h0m-1 0h0m-5 0h0m-10 0h0m-2 1h0m10 0h0m16 0h0m21 0h0m10 0h0m37 0h0m32 0h0m81 0h0m38 0h0m12 0h0m607 0h0m-536 1h0m-57 0h0m-3 0h0m-96 0h0m-6 0h0m-3 0h0m-28 0h0m-46 0h0m-15 0h0m-1 0h0m-38 0h0m-8 0h0m-19 0h0m-19 0h0m19 1h0m8 0h0m9 0h0m2 0h0m26 0h0m6 0h0m11 0h0m47 0h0m2 0h0m45 0h0m18 0h0m24 0h0m22 0h0m1 0h0m12 0h0m21 0h0m68 0h0m-325 1h0m-13 1h0m9 0h0m3 0h0m2 0h0m32 0h0m11 0h0m7 0h0m40 0h0m14 0h0m78 0h0m6 0h0m6 0h0m132 1h0m-164 0h0m-25 0h0m-8 0h0m-1 0h0m-39 0h0m-23 0h0m-8 0h0m-15 0h0m-4 0h0m-12 0h0m-6 0h0m-4 0h0m-3 0h0m-18 0h0m-11 0h0m18 1h0m16 0h0m27 0h0m9 0h0m19 0h0m5 0h0m18 0h0m28 0h0m2 0h0m23 0h0m56 0h0m75 0h0m-52 1h0m-117 0h0m-77 0h0m-6 0h0m-39 0h0m25 1h0m22 0h0m36 0h0m30 0h0m5 0h0m21 0h0m61 0h0m35 0h0m35 0h0m70 0h0m-2 1h0m-39 0h0m-4 0h0m-62 0h0m-35 0h0m-87 0h0m-31 0h0m-8 0h0m-14 0h0m-12 0h0m-5 0h0m-4 0h0m-33 0h0m-5 1h0m4 0h0m24 0h0m2 0h0m12 0h0m31 0h0m12 0h0m12 0h0m14 0h0m31 0h0m34 0h0m40 0h0m23 0h0m32 0h0m-59 1h0m-11 0h0m-62 0h0m-94 0h0m-26 0h0m-23 0h0m-5 1h0m1 0h0m26 0h0m17 0h0m4 0h0m30 0h0m6 0h0m21 0h0m24 0h0m17 0h0m34 0h0m25 0h0m12 0h0m23 0h0m45 0h0m11 0h0m-55 1h0m-16 0h0m-51 0h0m-1 0h0m-28 0h0m-46 0h0m-14 0h0m-3 0h0m-3 0h0m-5 0h0m-9 0h0m-20 0h0m-38 0h0m-2 1h0m22 0h0m6 0h0m49 0h0m17 0h0m43 0h0m23 0h0m48 0h0m85 0h0m18 1h0m-15 0h0m-33 0h0m-73 0h0m-59 0h0m-16 0h0m-1 0h0m-13 0h0m-3 0h0m-11 0h0m-38 0h0m-1 0h0m-1 0h0m-32 0h0m-6 0h0m-6 0h0m-4 0h0m-3 1h0m6 0h0m6 0h0m9 0h0m6 0h0m6 0h0m29 0h0m3 0h0m6 0h0m6 0h0m16 0h0m38 0h0m5 0h0m83 0h0m47 0h0m-59 1h0m-83 0h0m-26 0h0m-14 0h0m-6 0h0m-31 0h0m-1 0h0m-25 0h0m10 1h0m56 0h0m8 0h0m13 0h0m76 0h0m63 0h0m2 1h0m-95 0h0m-58 0h0m-6 0h0m-24 0h0m-2 0h0m-4 0h0m-2 0h0m-4 0h0m-22 0h0m-18 0h0m-1 1h0m18 0h0m8 0h0m1 0h0m24 0h0m7 0h0m15 0h0m38 0h0m21 0h0m42 0h0m40 0h0m32 1h0m-6 0h0m-41 0h0m-89 0h0m-10 0h0m-3 0h0m-2 0h0m-28 0h0m-29 0h0m-30 0h0m-4 0h0m-6 0h0m-2 1h0m34 0h0m26 0h0m9 0h0m28 0h0m112 0h0m-34 1h0m-10 0h0m-89 0h0m-37 0h0m-15 0h0m-14 0h0m-1 0h0m-3 0h0m-10 1h0m10 0h0m74 0h0m107 0h0m21 1h0m-83 0h0m-2 0h0m-4 0h0m-18 0h0m-22 0h0m-40 0h0m-6 0h0m-15 0h0m-24 0h0m9 1h0m48 0h0m4 0h0m4 0h0m3 0h0m6 0h0m46 0h0m59 0h0m167 0h0m-153 1h0m-29 0h0m-47 0h0m-5 0h0m-34 0h0m-60 0h0m-15 0h0m13 1h0m21 0h0m10 0h0m9 0h0m42 0h0m12 0h0m14 0h0m10 0h0m11 0h0m11 0h0m3 0h0m34 0h0m9 0h0m15 0h0m13 0h0m7 0h0m-13 1h0m-96 0h0m-19 0h0m-83 0h0m-12 0h0m21 1h0m21 0h0m41 0h0m18 0h0m34 0h0m6 0h0m15 0h0m14 0h0m24 1h0m-40 0h0m-87 0h0m-37 0h0m-36 0h0m-9 0h0m23 1h0m28 0h0m3 0h0m20 0h0m18 0h0m9 0h0m61 0h0m28 0h0m188 0h0m-82 1h0m-55 0h0m-14 0h0m-46 0h0m-28 0h0m-2 0h0m-34 0h0m-55 0h0m-2 0h0m-15 1h0m82 0h0m171 1h0m-74 0h0m-43 0h0m-28 0h0m-46 0h0m-16 0h0m-22 0h0m-3 0h0m-54 0h0m-13 1h0m17 0h0m23 0h0m23 0h0m7 0h0m10 0h0m14 0h0m65 0h0m372 0h0m61 0h0m-246 1h0m-5 0h0m-92 0h0m-8 0h0m-32 0h0m-20 0h0m-33 0h0m-30 0h0m-24 0h0m-18 0h0m-3 0h0m-46 0h0m-3 0h0m-10 0h0m-8 0h0m-7 1h0m4 0h0m16 0h0m11 0h0m9 0h0m9 0h0m2 0h0m13 0h0m16 0h0m1 0h0m26 0h0m14 0h0m8 0h0m90 0h0m123 0h0m-128 1h0m-60 0h0m-34 0h0m-2 0h0m-6 0h0m-38 0h0m-3 0h0m-36 0h0m-9 0h0m-21 0h0m-4 0h0m-4 0h0m-6 1h0m21 0h0m12 0h0m38 0h0m30 0h0m13 0h0m17 0h0m14 0h0m74 0h0m-17 1h0m-12 0h0m-99 0h0m-34 0h0m-33 0h0m-24 1h0m4 0h0m6 0h0m10 0h0m2 0h0m32 0h0m5 0h0m11 0h0m4 0h0m10 0h0m24 0h0m12 0h0m41 0h0m33 0h0m8 0h0m85 1h0m-36 0h0m-49 0h0m-48 0h0m-6 0h0m-16 0h0m-21 0h0m-12 0h0m-6 0h0m-21 0h0m-6 0h0m-22 0h0m-30 1h0m17 0h0m58 0h0m10 0h0m12 0h0m80 0h0m33 0h0m185 1h0m-24 0h0m-95 0h0m-151 0h0m-4 0h0m-76 0h0m-16 0h0m-27 0h0m-5 1h0m26 0h0m9 0h0m10 0h0m2 0h0m45 0h0m33 0h0m4 0h0m26 0h0m21 0h0m23 0h0m3 0h0m8 0h0m12 0h0m47 0h0m-74 1h0m-76 0h0m-16 0h0m-46 0h0m-46 0h0m-1 0h0m-1 0h0m6 1h0m4 0h0m50 0h0m37 0h0m25 0h0m22 0h0m107 0h0m115 0h0m-68 1h0m-33 0h0m-113 0h0m-20 0h0m-4 0h0m-21 0h0m-20 0h0m-19 0h0m-6 0h0m-5 0h0m-1 0h0m-15 0h0m-3 0h0m-10 0h0m-5 0h0m-20 0h0m-9 0h0m-1 0h0m-7 0h0m38 1h0m13 0h0m9 0h0m11 0h0m37 0h0m44 0h0m7 0h0m45 0h0m44 0h0m89 1h0m-160 0h0m-42 0h0m-17 0h0m-28 0h0m-11 0h0m-33 0h0m-8 0h0m-3 0h0m-4 0h0m-29 0h0m24 1h0m15 0h0m3 0h0m11 0h0m45 0h0m45 0h0m2 0h0m49 0h0m44 0h0m43 0h0m-51 1h0m-36 0h0m-50 0h0m-24 0h0m-18 0h0m-3 0h0m-12 0h0m-71 0h0m-13 0h0m-3 1h0m18 0h0m3 0h0m3 0h0m51 0h0m16 0h0m47 0h0m9 0h0m12 0h0m21 0h0m21 0h0m45 0h0m155 1h0m-138 0h0m-180 0h0m-21 0h0m-36 1h0m55 0h0m5 0h0m13 0h0m20 0h0m28 0h0m81 0h0m-70 1h0m-27 0h0m-3 0h0m-40 0h0m-51 0h0m-24 0h0m-4 1h0m8 0h0m22 0h0m6 0h0m12 0h0m14 0h0m27 0h0m77 0h0m19 0h0m40 0h0m-124 1h0m-7 0h0m-41 0h0m-29 0h0m-23 1h0m1 0h0m18 0h0m8 0h0m11 0h0m41 0h0m73 0h0m39 0h0m40 0h0m179 0h0m-1 1h0m-37 0h0m-282 0h0m-3 0h0m-13 0h0m-12 0h0m-9 0h0m-38 0h0m-7 0h0m22 1h0m14 0h0m5 0h0m18 0h0m30 0h0m7 0h0m39 0h0m4 1h0m-66 0h0m-3 0h0m-33 0h0m-16 0h0m-10 0h0m-2 0h0m-9 0h0m-22 1h0m2 0h0m15 0h0m6 0h0m14 0h0m10 0h0m15 0h0m28 0h0m20 0h0m70 0h0m18 0h0m15 0h0m209 1h0m-106 0h0m-71 0h0m-47 0h0m-41 0h0m-47 0h0m-50 0h0m-53 0h0m-7 1h0m5 0h0m4 0h0m3 0h0m23 0h0m3 0h0m5 0h0m9 0h0m12 0h0m14 0h0m155 0h0m-40 1h0m-17 0h0m-53 0h0m-8 0h0m-58 0h0m-24 0h0m-27 1h0m30 0h0m15 0h0m13 0h0m34 0h0m7 0h0m12 0h0m39 0h0m42 0h0m23 0h0m-6 1h0m-46 0h0m-4 0h0m-66 0h0m-4 0h0m-3 0h0m-42 0h0m-2 0h0m-18 0h0m-29 1h0m58 0h0m28 0h0m68 0h0m50 0h0m7 0h0m11 0h0m-30 1h0m-93 0h0m-17 0h0m-22 0h0m-6 0h0m-3 0h0m-32 0h0m28 1h0m102 0h0m149 1h0m-91 0h0m-45 0h0m-2 0h0m-9 0h0m-46 0h0m-9 0h0m-21 0h0m-29 0h0m-5 0h0m-11 0h0m-2 0h0m-22 0h0m8 1h0m9 0h0m31 0h0m118 0h0m-34 1h0m-10 0h0m-29 0h0m-10 0h0m-5 0h0m-8 0h0m-12 0h0m-24 0h0m-8 0h0m-2 0h0m-27 0h0m-3 1h0m29 0h0m97 0h0m8 0h0m82 0h0m38 0h0m-44 1h0m-3 0h0m-43 0h0m-14 0h0m-60 0h0m-54 0h0m-15 0h0m-21 0h0m2 1h0m55 0h0m13 0h0m45 0h0m27 0h0m110 0h0m-114 1h0m-4 0h0m-13 0h0m-14 0h0m-13 0h0m-27 0h0m-17 0h0m-10 0h0m74 1h0m48 0h0m18 0h0m34 1h0m-43 0h0m-30 0h0m-3 0h0m-10 0h0m-47 0h0m-26 0h0m-3 0h0m-12 0h0m-6 0h0m-17 0h0m-21 0h0m-1 1h0m37 0h0m12 0h0m161 0h0m-24 1h0m-45 0h0m-12 0h0m-15 0h0m-9 0h0m-21 0h0m-3 0h0m-49 0h0m-19 1h0m14 0h0m10 0h0m26 0h0m12 0h0m72 0h0m23 0h0m21 1h0m-4 0h0m-24 0h0m-38 0h0m-9 0h0m-6 0h0m-23 0h0m-29 0h0m-16 0h0m-14 1h0m23 0h0m9 0h0m13 0h0m9 0h0m11 0h0m57 0h0m45 0h0m-36 1h0m-30 0h0m-30 0h0m-66 0h0m-26 0h0m3 1h0m4 0h0m6 0h0m4 0h0m17 0h0m21 0h0m3 0h0m2 0h0m13 0h0m8 0h0m14 0h0m5 0h0m3 0h0m85 0h0m-10 1h0m-3 0h0m-4 0h0m-38 0h0m-3 0h0m-41 0h0m-20 0h0m-18 0h0m-13 0h0m-43 1h0m31 0h0m30 0h0m4 0h0m22 0h0m5 0h0m55 0h0m6 0h0m-51 1h0m-5 0h0m-17 0h0m-22 0h0m-15 0h0m-4 0h0m-10 0h0m-2 0h0m-4 0h0m-3 0h0m-10 0h0m2 1h0m12 0h0m26 0h0m21 0h0m2 0h0m57 0h0m77 0h0m38 0h0m-57 1h0m-31 0h0m-18 0h0m-20 0h0m-1 0h0m-39 0h0m-4 0h0m-33 0h0m-3 0h0m-9 0h0m-9 0h0m-8 0h0m-7 0h0m-8 0h0m0 1h0m30 0h0m21 0h0m13 0h0m2 0h0m2 0h0m22 0h0m18 0h0m26 0h0m9 0h0m12 0h0m9 0h0m32 0h0m47 0h0m1 0h0m-59 1h0m-27 0h0m-111 0h0m-5 0h0m-12 0h0m-26 0h0m-3 1h0m46 0h0m3 0h0m16 0h0m13 0h0m4 0h0m4 0h0m33 0h0m16 0h0m83 0h0m-6 1h0m-6 0h0m-164 0h0m-30 1h0m6 0h0m39 0h0m52 0h0m31 0h0m76 1h0m-34 0h0m-25 0h0m-23 0h0m-11 0h0m-36 0h0m-19 0h0m-23 0h0m-9 0h0m14 1h0m55 0h0m7 0h0m45 1h0m-5 0h0m-68 0h0m-35 0h0m-8 0h0m-8 0h0m-2 0h0m-14 0h0m-4 1h0m3 0h0m38 0h0m2 0h0m63 1h0m-42 0h0m-27 0h0m-38 0h0m-9 0h0m26 1h0m12 0h0m57 0h0m14 0h0m43 1h0m-44 0h0m-45 0h0m-52 0h0m-5 0h0m-2 0h0m11 1h0m4 0h0m6 0h0m10 0h0m12 0h0m17 0h0m6 0h0m9 0h0m6 0h0m23 0h0m21 0h0m3 0h0m-49 1h0m-60 0h0m-21 0h0m7 1h0m22 0h0m35 0h0m38 1h0m-28 0h0m-11 0h0m-51 0h0m-12 0h0m-2 0h0" stroke-width="4.20"/><path d="M372 899h0m70 0h0m24 0h0m23 0h0m-59 1h0m-42 0h0m-28 1h0m3 0h0m10 0h0m4 0h0m24 0h0m46 0h0m6 0h0m46 0h0m2 0h0m14 0h0m-42 1h0m-38 0h0m-14 0h0m-86 1h0m32 0h0m26 0h0m86 0h0m11 0h0m84 3h0m-27 0h0m-4 0h0m-32 0h0m-6 0h0m-3 0h0m-20 0h0m-16 0h0m-15 0h0m-18 0h0m-4 0h0m-16 0h0m-12 0h0m-14 0h0m-2 0h0m-1 0h0m-6 0h0m-10 0h0m-15 0h0m-2 0h0m-3 0h0m-3 0h0m-3 0h0m32 3h0m301 0h0m-203 1h0m-7 0h0m-27 0h0m-17 0h0m-20 0h0m-3 0h0m-6 0h0m-4 0h0m-6 0h0m-35 0h0m12 1h0m20 0h0m28 0h0m13 0h0m10 0h0m37 0h0m14 0h0m20 0h0m20 0h0m21 0h0m17 0h0m37 0h0m-53 1h0m-45 0h0m-45 0h0m-40 0h0m-5 0h0m-36 0h0m-9 0h0m-23 0h0m28 1h0m3 0h0m48 0h0m12 0h0m5 0h0m8 0h0m25 0h0m222 1h0m-28 0h0m-87 0h0m-57 0h0m-58 0h0m-29 0h0m-23 0h0m-42 0h0m114 1h0m103 0h0m33 0h0m101 0h0m-166 1h0m-36 0h0m-91 0h0m-36 0h0m-19 0h0m-35 1h0m80 0h0m56 0h0m20 1h0m-22 0h0m-2 0h0m-42 0h0m-89 0h0m10 1h0m50 0h0m41 0h0m50 0h0m72 0h0m27 0h0m372 0h0m-520 1h0m-53 0h0m-45 1h0m43 0h0m23 0h0m19 0h0m113 0h0m28 0h0m56 0h0m5 1h0m-79 0h0m-20 0h0m-59 0h0m-39 0h0m-2 0h0m-11 0h0m-7 0h0m-77 2h0m21 0h0m66 0h0m43 0h0m87 0h0m114 1h0m-35 0h0m-89 0h0m-81 0h0m-47 0h0m-14 0h0m-37 0h0m-16 0h0m-11 1h0m73 0h0m7 0h0m15 0h0m26 0h0m73 0h0m24 0h0m195 0h0m-109 1h0m-58 0h0m-20 0h0m-116 0h0m-9 0h0m-68 0h0m-7 0h0m-32 0h0m29 1h0m47 0h0m124 0h0m55 0h0m28 0h0m82 0h0m-44 1h0m-21 0h0m-21 0h0m-129 0h0m-64 0h0m-64 0h0m-8 1h0m68 0h0m54 0h0m22 0h0m83 0h0m87 0h0m-32 2h0m-56 0h0m-48 0h0m-43 0h0m-4 0h0m-31 0h0m-22 0h0m-38 0h0m-52 0h0m16 2h0m27 0h0m18 0h0m39 0h0m21 0h0m8 0h0m25 0h0m30 0h0m21 0h0m17 0h0m25 0h0m158 1h0m-135 0h0m-81 0h0m-81 0h0m-9 1h0m46 1h0m-14 0h0m-14 0h0m-15 0h0m-4 0h0m-31 0h0m-22 0h0m-26 1h0m23 0h0m15 0h0m9 0h0m8 0h0m15 0h0m19 0h0m4 0h0m24 0h0m6 0h0m34 0h0m7 0h0m46 0h0m47 0h0m18 0h0m6 0h0m-182 1h0m-40 0h0m-49 1h0m19 0h0m6 0h0m20 0h0m114 0h0m62 0h0m62 0h0m-64 1h0m-107 0h0m-4 0h0m-19 0h0m-7 0h0m-11 0h0m-56 0h0m-2 0h0m-35 0h0m-11 1h0m7 0h0m89 0h0m10 0h0m1 0h0m101 0h0m29 0h0m34 1h0m-114 0h0m-77 0h0m-54 1h0m190 1h0m-61 0h0m-21 0h0m-6 0h0m-14 0h0m-20 0h0m-18 0h0m-56 1h0m6 0h0m200 0h0m9 0h0m28 0h0m73 0h0m-63 1h0m-151 0h0m-15 0h0m-61 0h0m-34 1h0m35 0h0m13 0h0m39 0h0m26 0h0m51 0h0m26 0h0m26 0h0m26 0h0m53 1h0m-22 0h0m-23 0h0m-45 0h0m-45 0h0m-3 0h0m-20 0h0m-20 0h0m-2 0h0m-113 0h0m87 1h0m29 0h0m18 0h0m54 0h0m18 0h0m-163 1h0m-38 0h0m-10 0h0m43 1h0m68 0h0m8 0h0m52 0h0m124 2h0m-19 0h0m-15 0h0m-26 0h0m-34 0h0m-27 0h0m-53 0h0m-2 0h0m-24 0h0m-16 0h0m-9 0h0m-2 0h0m-2 0h0m-8 0h0m-2 0h0m-20 0h0m-5 0h0m-7 0h0m-14 0h0m-17 3h0m12 0h0m220 0h0m79 1h0m-95 0h0m-10 0h0m-38 0h0m-84 0h0m-11 0h0m-41 0h0m-15 0h0m-3 0h0m-14 1h0m5 0h0m65 0h0m46 0h0m19 0h0m20 0h0m2 0h0m17 0h0m4 0h0m54 0h0m12 0h0m-11 1h0m-49 0h0m-50 0h0m-25 0h0m-24 0h0m-25 0h0m-50 0h0m-7 1h0m4 0h0m25 0h0m22 0h0m16 0h0m62 0h0m1 0h0m29 0h0m29 0h0m78 1h0m-189 0h0m-35 0h0m-29 1h0m57 0h0m19 0h0m165 1h0m-107 0h0m-128 0h0m-16 1h0m24 0h0m51 0h0m119 0h0m-56 1h0m-51 0h0m-34 0h0m-17 0h0m-17 0h0m-17 0h0m23 1h0m24 0h0m211 0h0m122 0h0m-249 1h0m-27 0h0m-80 0h0m-31 0h0m38 1h0m21 0h0m11 0h0m10 0h0m21 0h0m59 0h0m4 0h0m21 0h0m42 0h0m28 1h0m-151 0h0m-3 0h0m-97 0h0m-3 1h0m7 0h0m16 0h0m40 0h0m8 0h0m24 0h0m79 0h0m207 0h0m-233 1h0m-136 0h0m-7 1h0m14 0h0m113 0h0m11 0h0m83 0h0m5 0h0m77 0h0m28 0h0m-114 2h0m-49 0h0m-44 0h0m-90 0h0m-17 0h0m-5 1h0m49 0h0m117 0h0m156 1h0m-32 0h0m-98 0h0m-87 0h0m-60 0h0m-14 0h0m-38 0h0m19 1h0m20 0h0m16 0h0m5 0h0m5 0h0m5 0h0m30 0h0m41 0h0m38 1h0m-45 0h0m-107 0h0m-23 0h0m-17 1h0m13 0h0m17 0h0m43 0h0m53 0h0m190 1h0m-138 0h0m-98 0h0m-16 0h0m-56 1h0m233 0h0m27 0h0m80 0h0m40 0h0m-246 1h0m-35 0h0m-36 0h0m-7 0h0m-46 0h0m183 1h0m64 0h0m32 0h0m31 0h0m64 0h0m-129 1h0m-106 0h0m-152 1h0m8 0h0m11 0h0m20 0h0m15 0h0m5 0h0m17 0h0m2 0h0m20 0h0m20 0h0m39 0h0m79 0h0m39 0h0m-90 1h0m-88 0h0m-31 0h0m-16 0h0m-10 0h0m-12 0h0m-10 0h0m-4 0h0m-17 0h0m147 1h0m135 2h0m-57 0h0m-43 0h0m-20 0h0m-44 0h0m-38 0h0m-6 0h0m-22 0h0m-25 0h0m50 3h0m167 1h0m-38 0h0m-58 0h0m-19 0h0m-3 0h0m-16 0h0m-1 0h0m-51 0h0m-24 0h0m-10 0h0m-9 0h0m-8 0h0m40 1h0m17 0h0m5 0h0m71 0h0m25 0h0m12 0h0m22 0h0m17 0h0m25 0h0m51 0h0m16 0h0m22 1h0m-91 0h0m-30 0h0m-106 0h0m-45 0h0m-15 0h0m-22 1h0m16 0h0m17 0h0m17 0h0m17 0h0m50 0h0m33 0h0m141 1h0m-169 0h0m-69 0h0m-6 0h0m-32 0h0m-32 1h0m55 0h0m5 0h0m51 0h0m13 0h0m85 0h0m168 1h0m-124 0h0m-99 0h0m-50 0h0m-49 0h0m-8 0h0m-42 0h0m60 1h0m278 1h0m-30 0h0m-59 0h0m-118 0h0m-2 0h0m-27 0h0m-10 0h0m-8 0h0m-29 0h0m-56 0h0m9 1h0m21 0h0m55 0h0m29 0h0m84 0h0m-208 1h0m25 1h0m6 0h0m31 0h0m3 0h0m58 0h0m78 0h0m49 0h0m12 0h0m146 0h0m-238 1h0m-103 0h0m-31 1h0m21 0h0m21 0h0m32 0h0m9 0h0m39 0h0m23 0h0m20 0h0m21 0h0m56 1h0m-29 0h0m-29 0h0m-86 0h0m-57 0h0m-73 1h0m30 0h0m42 0h0m53 0h0m755 1h0m-786 0h0m-33 0h0m-63 1h0m10 0h0m20 0h0m1 0h0m60 0h0m40 0h0m42 0h0m19 0h0m161 1h0m-71 0h0m-71 0h0m-125 0h0m-33 1h0m1 0h0m62 0h0m3 0h0m33 0h0m57 0h0m56 0h0m23 0h0m13 1h0m-94 0h0m-23 0h0m-24 0h0m-23 0h0m-24 0h0m-23 0h0m-10 0h0m-13 0h0m-21 1h0m2 0h0m17 0h0m81 0h0m20 0h0m4 0h0m140 0h0m-230 1h0m-41 0h0m-5 0h0m-15 0h0m-16 2h0m19 0h0m17 0h0m38 0h0m24 0h0m71 0h0m50 0h0m5 0h0m27 0h0m55 0h0m131 0h0m-391 2h0m-21 0h0m-15 1h0m35 0h0m24 0h0m12 0h0m228 1h0m-81 0h0m-19 0h0m-18 0h0m-79 0h0m-40 0h0m-18 0h0m-16 0h0m-3 0h0m-29 0h0m-2 0h0m49 1h0m1 0h0m67 0h0m12 0h0m11 0h0m16 0h0m6 0h0m21 0h0m24 0h0m130 1h0m-319 0h0m9 1h0m57 0h0m115 0h0m49 0h0m33 0h0m34 0h0m-188 1h0m-133 1h0m16 0h0m13 0h0m7 0h0m37 0h0m37 0h0m51 0h0m155 0h0m-4 1h0m-52 0h0m-106 0h0m-26 0h0m-79 0h0m-39 1h0m19 0h0m75 0h0m19 0h0m56 0h0m-24 1h0m-22 0h0m-65 0h0m-6 0h0m-55 2h0m4 0h0m5 0h0m28 0h0m37 0h0m6 0h0m50 0h0m37 0h0m50 1h0m-77 0h0m-11 0h0m-15 0h0m-26 0h0m-52 0h0m-25 0h0m88 1h0m25 1h0m-18 0h0m-36 0h0m-18 0h0m-37 0h0m-26 1h0m59 0h0m54 0h0m89 0h0m96 0h0m-104 1h0m-76 0h0m-25 0h0m-26 0h0m-58 1h0m11 0h0m2 0h0m1 0h0m18 0h0m15 0h0m6 0h0m21 0h0m21 0h0m42 0h0m21 0h0m21 0h0m42 0h0m86 3h0m-81 0h0m-25 0h0m-74 0h0m-134 0h0m114 2h0m201 1h0m-74 0h0m-10 0h0m-58 0h0m-19 0h0m-1 0h0m-34 0h0m-13 0h0m-75 0h0m48 1h0m72 0h0m73 0h0m-14 1h0m-75 0h0m-15 0h0m-15 0h0m-76 0h0m-18 0h0m34 1h0m52 0h0m250 1h0m-40 0h0m-40 0h0m-107 0h0m-113 0h0m-10 0h0m-35 1h0m23 0h0m24 0h0m10 0h0m34 0h0m28 0h0m23 0h0m145 2h0m-59 0h0m-69 0h0m-49 0h0m-45 0h0m-4 0h0m-25 0h0m-17 1h0m1 0h0m19 0h0m3 0h0m11 0h0m13 0h0m23 0h0m31 0h0m16 0h0m93 0h0m-94 1h0m-87 0h0m144 1h0m135 0h0m34 1h0m-57 0h0m-58 0h0m-57 0h0m-29 0h0m-28 0h0m-30 0h0m-3 0h0m-16 0h0m-10 0h0m-14 0h0m-32 0h0m-11 0h0m-16 0h0m38 1h0m23 0h0m114 0h0m-47 1h0m-15 0h0m-14 0h0m-4 0h0m-39 0h0m-4 0h0m-19 0h0m-20 0h0m9 2h0m17 0h0m4 0h0m58 0h0m45 0h0m45 0h0m17 0h0m-76 2h0m-69 1h0m24 0h0m13 0h0m3 0h0m16 0h0m16 0h0m26 1h0m-22 0h0m-22 0h0m-62 0h0m-22 1h0m3 0h0m34 0h0m4 0h0m14 0h0m83 0h0m27 0h0m28 0h0m69 1h0m-36 0h0m-37 0h0m-127 0h0m-36 0h0m-35 1h0m66 0h0m3 0h0m62 0h0m2 0h0m32 1h0m-99 0h0m-3 0h0m-13 0h0m-37 0h0m-9 0h0m-29 2h0m43 0h0m128 0h0m75 1h0m-53 0h0m-106 0h0m-90 1h0m16 0h0m37 0h0m53 0h0m26 0h0m26 0h0m27 0h0m-18 1h0m-11 0h0m-10 0h0m-42 0h0m-42 0h0m-40 3h0m18 0h0m136 0h0m47 0h0m-26 2h0m-58 0h0m-126 1h0m40 0h0m14 0h0m7 0h0m19 0h0m50 0h0m25 0h0m7 0h0m44 0h0m-156 1h0m-23 0h0m-35 0h0m44 1h0m163 2h0m-109 0h0m-41 0h0m-50 0h0m-8 0h0m53 1h0m27 0h0m79 0h0m83 1h0m-66 0h0m-32 0h0m-114 0h0m-22 0h0m-10 1h0m54 0h0m49 0h0m24 0h0m25 0h0m3 0h0m-92 1h0m-18 0h0m1 2h0m51 0h0m199 0h0m-296 1h0m31 1h0m6 0h0m33 0h0m93 0h0m22 1h0m-71 0h0m-23 0h0m-70 0h0m-12 0h0m11 1h0m8 0h0m18 0h0m93 0h0m175 0h0m-276 1h0m-6 1h0m3 0h0m5 0h0m45 0h0m46 0h0m46 0h0m124 1h0m-61 0h0m-30 0h0m-30 0h0m-10 0h0m-55 0h0m-106 0h0m-3 0h0m1 1h0m28 0h0m23 0h0m45 0h0m22 0h0m-24 1h0m-44 0h0m-18 0h0m46 1h0m204 1h0m-15 0h0m-111 0h0m-57 0h0m-3 0h0m-15 0h0m-13 0h0m-40 0h0m-35 0h0m38 1h0m12 0h0m128 1h0m-21 0h0m-3 0h0m-19 0h0m-16 0h0m-93 0h0m-6 0h0m-17 1h0m101 0h0m29 0h0m29 0h0m57 0h0m58 0h0m-180 1h0m-34 0h0m-34 1h0m185 0h0m-155 1h0m-34 0h0m16 1h0m28 0h0m12 0h0m21 0h0m21 0h0m84 0h0m3 0h0m-155 1h0m-17 0h0m-33 0h0m9 2h0m38 0h0m11 0h0m22 0h0m53 0h0m7 0h0m-81 1h0m-4 0h0m-49 1h0m20 0h0m20 0h0m221 1h0m-81 0h0m-66 0h0m-68 0h0m-12 0h0m-8 0h0m-34 0h0m84 1h0m180 0h0m-124 1h0m-13 0h0m-9 0h0m-32 0h0m-91 0h0m6 1h0m118 0h0m98 0h0m-65 2h0m-6 0h0m-26 0h0m-7 0h0m-77 0h0m-4 0h0m-35 0h0m66 1h0m-31 1h0m-18 0h0m124 1h0m-41 1h0m-69 0h0m-21 1h0m31 0h0m68 0h0m7 0h0m44 0h0m48 0h0m-67 1h0m-39 0h0m-49 0h0m-30 0h0m1 2h0m30 0h0m49 0h0m67 0h0m-149 1h0m100 1h0m95 0h0m67 1h0m-71 0h0m-53 0h0m-138 1h0m23 0h0m24 0h0m46 0h0m24 0h0m47 0h0m-133 1h0m-38 0h0m71 1h0m23 0h0m46 0h0m12 0h0m860 0h0m-916 2h0m-52 0h0m-23 0h0m-23 0h0m18 1h0m8 0h0m57 0h0m83 0h0m-37 1h0m-22 0h0m-44 0h0m-22 0h0m-45 0h0m89 2h0m114 0h0m815 0h0m-965 1h0m-39 1h0m22 0h0m21 0h0m231 1h0m-236 1h0m21 0h0m21 0h0m212 1h0m-134 0h0m-42 0h0m-12 0h0m-45 0h0m-67 0h0m17 2h0m20 0h0m41 0h0m1 0h0m19 0h0m98 1h0m-90 0h0m-113 1h0m20 0h0m80 0h0m40 0h0m24 1h0m-118 0h0m-10 0h0m-8 0h0m-31 0h0m-4 2h0m32 0h0m65 0h0m7 0h0m29 0h0m-60 1h0m-19 0h0m-19 0h0m-21 1h0m15 0h0m124 1h0m-47 0h0m-9 0h0m-40 0h0m-29 1h0m18 0h0m37 0h0m93 0h0m-31 1h0m-41 0h0m-14 0h0m-48 0h0m-14 0h0m-4 0h0m-3 0h0m65 1h0m51 1h0m-54 0h0m-44 0h0m-9 0h0m58 1h0m124 0h0m-108 1h0m-43 0h0m-63 0h0m30 1h0m95 0h0m64 0h0m8 1h0m-119 0h0m-36 1h0m101 0h0m51 0h0m-180 1h0m48 1h0m49 0h0m4 1h0m-34 0h0m-25 0h0m-6 0h0m-18 0h0m-15 0h0m-9 0h0m-4 2h0m8 0h0m75 0h0m-17 1h0m-36 2h0m8 0h0m91 0h0m-9 1h0m-19 0h0m-45 0h0m-23 0h0m-4 1h0m88 0h0m66 0h0m89 0h0m133 0h0m-272 2h0m-43 0h0m-66 0h0m-21 0h0m380 1h0m-325 1h0m-5 0h0m-16 0h0m17 1h0m41 0h0m83 0h0m-48 1h0m-60 0h0m-65 1h0m120 0h0m260 0h0m-226 1h0m-83 1h0m96 0h0m78 0h0m-160 1h0m146 1h0m-14 2h0m-36 0h0m-36 0h0m-37 0h0m26 2h0m25 1h0m-30 0h0m-39 0h0m-48 0h0m-24 1h0m51 0h0m180 1h0m-100 0h0m-67 0h0m-25 0h0m-59 0h0m43 1h0m98 0h0m32 0h0m-149 1h0m-4 1h0m16 0h0m51 0h0m76 0h0m32 0h0m32 0h0m20 1h0m-62 0h0m-31 0h0m-62 0h0m-16 0h0m-15 0h0m-31 0h0m-6 1h0m30 0h0m121 0h0m91 0h0m-71 2h0m-29 0h0m-78 0h0m-40 0h0m-53 0h0m133 1h0m58 0h0m-10 1h0m-84 0h0m-28 0h0m-57 0h0m-5 1h0m28 0h0m28 0h0m27 0h0m83 0h0m45 1h0m-27 0h0m-27 0h0m-81 0h0m-16 0h0m-10 0h0m-54 0h0m-5 1h0m79 0h0m79 0h0m36 1h0m-69 0h0m-7 0h0m-19 0h0m-6 0h0m-20 0h0m-26 0h0m-5 0h0m-25 0h0m45 1h0m49 0h0m25 0h0m50 0h0m-130 1h0m-48 0h0m-4 1h0m47 0h0m48 0h0m119 0h0m-78 1h0m-7 0h0m-68 0h0m-46 0h0m18 1h0m78 1h0m-21 0h0m-17 0h0m-5 0h0m-6 0h0m-11 0h0m-5 0h0m-4 1h0m128 0h0m-75 1h0m-62 0h0m37 1h0m55 0h0m14 1h0m-137 0h0m50 1h0m38 1h0m-64 0h0m-4 0h0m11 1h0m66 0h0m-44 1h0m-19 0h0m-16 0h0m-14 0h0m27 1h0m-6 2h0m-28 0h0m102 6h0" stroke-width="4.80"/><path d="M349 899h0m70 0h0m53 1h0m-105 0h0m-21 0h0m48 1h0m289 5h0m-17 0h0m-14 0h0m-21 0h0m-14 0h0m-6 0h0m-14 0h0m-17 0h0m-10 0h0m-7 0h0m-5 0h0m-59 0h0m-5 0h0m-7 0h0m-10 0h0m-8 0h0m-10 0h0m-13 0h0m-6 0h0m-4 0h0m-11 0h0m-15 0h0m-6 0h0m-5 0h0m-8 0h0m-10 0h0m-8 0h0m-10 0h0m-7 0h0m-17 5h0m101 0h0m-54 1h0m-43 1h0m50 0h0m101 0h0m111 1h0m-115 0h0m-87 0h0m-28 0h0m-29 0h0m4 1h0m33 0h0m34 0h0m33 0h0m34 0h0m33 0h0m34 0h0m164 2h0m-80 0h0m-40 0h0m-40 0h0m-40 0h0m-20 0h0m-20 0h0m-20 0h0m-20 0h0m-40 0h0m-20 0h0m-20 0h0m4 1h0m22 0h0m22 0h0m307 1h0m-50 0h0m-49 0h0m-50 0h0m-25 0h0m-24 0h0m-50 0h0m-49 0h0m-25 0h0m-25 0h0m-25 0h0m31 2h0m28 0h0m84 0h0m28 0h0m-138 1h0m-20 0h0m-19 0h0m11 2h0m33 0h0m22 0h0m11 0h0m32 0h0m33 0h0m32 0h0m33 0h0m33 0h0m32 0h0m33 0h0m65 0h0m-198 2h0m-73 0h0m-73 0h0m-10 1h0m38 0h0m39 0h0m39 0h0m38 0h0m39 0h0m78 0h0m77 0h0m-140 1h0m-55 0h0m-28 0h0m-27 0h0m-28 0h0m-27 0h0m-28 0h0m-28 0h0m-6 1h0m107 0h0m299 3h0m-48 0h0m-48 0h0m-47 0h0m-48 0h0m-16 0h0m-32 0h0m-31 0h0m-7 0h0m-9 0h0m-16 0h0m-8 0h0m-24 0h0m-24 0h0m-8 0h0m-16 0h0m-15 0h0m50 2h0m20 0h0m1 0h0m137 1h0m-54 0h0m-27 0h0m-54 0h0m-26 0h0m-27 0h0m-27 0h0m9 2h0m38 0h0m38 0h0m37 0h0m38 0h0m37 0h0m38 0h0m37 0h0m38 0h0m94 3h0m-62 0h0m-62 0h0m-62 0h0m-62 0h0m-31 0h0m-31 0h0m-31 0h0m-31 0h0m-31 0h0m20 2h0m27 0h0m26 0h0m79 0h0m27 0h0m79 0h0m30 1h0m-46 0h0m-46 0h0m-46 0h0m-23 0h0m-23 0h0m-23 0h0m-22 0h0m-23 0h0m-23 0h0m34 2h0m246 1h0m-109 0h0m-36 0h0m-37 0h0m-36 0h0m-37 0h0m-36 0h0m-7 1h0m30 0h0m30 0h0m30 0h0m61 0h0m30 0h0m30 0h0m-61 1h0m-78 0h0m-51 0h0m38 1h0m135 0h0m214 5h0m-133 0h0m-15 0h0m-29 0h0m-18 0h0m-12 0h0m-15 0h0m-8 0h0m-6 0h0m-5 0h0m-25 0h0m-25 0h0m-4 0h0m-6 0h0m-9 0h0m-6 0h0m-9 0h0m-12 0h0m-17 0h0m-13 0h0m-5 0h0m-12 0h0m-8 0h0m-7 0h0m-8 0h0m101 4h0m20 0h0m-73 1h0m-28 0h0m15 1h0m124 0h0m60 1h0m-115 0h0m-29 0h0m-28 0h0m-29 0h0m10 1h0m35 0h0m34 0h0m34 0h0m35 0h0m34 0h0m35 0h0m65 2h0m-86 0h0m-42 0h0m-43 0h0m-43 0h0m-42 0h0m-43 0h0m53 1h0m25 0h0m48 0h0m336 2h0m-56 0h0m-113 0h0m-56 0h0m-28 0h0m-29 0h0m-28 0h0m-28 0h0m-28 0h0m-28 0h0m-28 0h0m-29 0h0m6 2h0m271 1h0m-66 0h0m-34 0h0m-33 0h0m-34 0h0m-33 0h0m-34 0h0m-33 0h0m27 1h0m96 0h0m138 2h0m-28 0h0m-13 0h0m-42 0h0m-27 0h0m-14 0h0m-41 0h0m-21 0h0m-7 0h0m-14 0h0m-13 0h0m-28 0h0m-14 3h0m70 0h0m47 0h0m40 1h0m-32 0h0m-33 0h0m-32 0h0m-33 0h0m-33 0h0m-12 2h0m27 0h0m27 0h0m26 0h0m9 0h0m18 0h0m27 0h0m27 0h0m54 0h0m27 0h0m27 0h0m54 0h0m54 0h0m-295 2h0m-45 0h0m-23 0h0m10 1h0m40 0h0m40 0h0m40 0h0m40 0h0m40 0h0m80 0h0m-75 2h0m-64 0h0m-31 0h0m-32 0h0m-32 0h0m-32 0h0m-31 0h0m14 1h0m27 0h0m26 0h0m53 0h0m-27 1h0m-68 0h0m-31 4h0m16 0h0m11 0h0m4 0h0m10 0h0m13 0h0m8 0h0m5 0h0m7 0h0m19 0h0m26 0h0m5 0h0m8 0h0m13 0h0m10 0h0m15 0h0m26 0h0m13 0h0m8 0h0m31 0h0m39 0h0m12 0h0m26 0h0m155 0h0m-292 5h0m-101 0h0m-65 0h0m-11 0h0m-16 1h0m30 0h0m60 0h0m31 0h0m30 0h0m30 0h0m95 2h0m-37 0h0m-38 0h0m-37 0h0m-38 0h0m-37 0h0m-38 0h0m-38 0h0m96 1h0m42 0h0m182 1h0m-49 0h0m-50 0h0m-49 0h0m-50 0h0m-49 0h0m-50 0h0m-12 2h0m30 0h0m29 0h0m89 0h0m29 0h0m30 0h0m-170 1h0m-54 2h0m36 0h0m12 0h0m25 0h0m24 0h0m12 0h0m12 0h0m25 0h0m36 0h0m36 0h0m73 0h0m37 0h0m-172 3h0m-58 0h0m-29 0h0m-28 0h0m-29 0h0m-16 2h0m23 0h0m24 0h0m24 0h0m48 0h0m24 0h0m23 0h0m48 0h0m48 0h0m95 0h0m-112 2h0m-70 0h0m-36 0h0m-35 0h0m-36 0h0m-35 0h0m-35 0h0m41 1h0m28 0h0m112 0h0m-137 1h0m-30 1h0m13 0h0m276 3h0m-11 0h0m-23 0h0m-23 0h0m-11 0h0m-35 0h0m-34 0h0m-12 0h0m-9 0h0m-14 0h0m-13 0h0m-10 0h0m-11 0h0m-7 0h0m-27 0h0m-28 0h0m-7 0h0m-11 0h0m-10 0h0m71 4h0m5 1h0m-3 0h0m-45 0h0m-5 0h0m-18 0h0m-9 0h0m19 2h0m33 0h0m34 0h0m33 0h0m34 0h0m33 0h0m34 0h0m7 2h0m-45 0h0m-44 0h0m-44 0h0m-44 0h0m-45 0h0m-10 1h0m26 0h0m53 0h0m232 2h0m-65 0h0m-33 0h0m-33 0h0m-32 0h0m-33 0h0m-32 0h0m-33 0h0m-33 0h0m50 2h0m135 1h0m-129 0h0m-70 1h0m43 0h0m21 0h0m21 0h0m43 0h0m43 0h0m42 0h0m43 0h0m43 0h0m43 0h0m-337 1h0m4 1h0m31 0h0m32 0h0m32 0h0m32 0h0m31 0h0m-27 1h0m-126 0h0m70 1h0m260 3h0m-62 0h0m-41 0h0m-21 0h0m-21 0h0m-10 0h0m-31 0h0m-31 0h0m-10 0h0m-9 0h0m-12 0h0m-12 0h0m-9 0h0m-10 0h0m-6 0h0m-25 0h0m-31 0h0m7 3h0m189 1h0m-97 0h0m-49 0h0m-24 0h0m-31 1h0m60 0h0m30 0h0m61 0h0m30 0h0m-152 1h0m-1 1h0m40 0h0m40 0h0m20 0h0m20 0h0m40 0h0m40 0h0m-130 1h0m-24 0h0m-31 0h0m-17 0h0m-2 2h0m20 0h0m10 0h0m29 0h0m59 0h0m30 0h0m29 0h0m59 0h0m59 0h0m50 3h0m-155 0h0m-39 0h0m-38 0h0m-39 0h0m-39 0h0m-38 0h0m-2 1h0m115 0h0m-48 1h0m-73 3h0m23 0h0m15 0h0m8 0h0m11 0h0m19 0h0m37 0h0m28 0h0m10 0h0m18 0h0m19 0h0m38 0h0m56 0h0m56 0h0m-342 4h0m-1 1h0m56 0h0m55 0h0m70 1h0m-36 0h0m-37 0h0m-36 0h0m-37 0h0m-36 0h0m-1 1h0m43 0h0m224 1h0m-54 0h0m-54 0h0m-54 0h0m-27 0h0m-26 0h0m-54 0h0m62 2h0m64 0h0m83 1h0m-35 0h0m-36 0h0m-35 0h0m-36 0h0m-35 0h0m-35 0h0m77 1h0m24 1h0m-73 3h0m17 0h0m11 0h0m7 0h0m13 0h0m21 0h0m26 0h0m8 0h0m18 0h0m17 0h0m34 0h0m35 0h0m17 0h0m17 0h0m34 0h0m-187 3h0m-76 0h0m-18 1h0m33 0h0m34 0h0m33 0h0m34 0h0m67 0h0m60 3h0m-50 0h0m-49 0h0m-25 0h0m-25 0h0m-49 0h0m-50 0h0m-20 2h0m33 0h0m33 0h0m32 0h0m-83 1h0m-24 0h0m6 1h0m299 2h0m-47 0h0m-48 0h0m-16 0h0m-32 0h0m-31 0h0m-16 0h0m-16 0h0m-32 0h0m-32 0h0m-16 0h0m-15 0h0m128 3h0m52 1h0m-31 0h0m-31 0h0m-31 0h0m-31 0h0m-1 0h0m-30 0h0m-31 0h0m13 2h0m46 0h0m45 0h0m46 0h0m46 0h0m46 0h0m46 0h0m-172 1h0m-31 0h0m-30 0h0m-30 0h0m-30 0h0m93 2h0m138 2h0m-30 0h0m-15 0h0m-44 0h0m-29 0h0m-15 0h0m-15 0h0m-29 0h0m-30 0h0m-15 0h0m10 3h0m29 0h0m28 0h0m182 2h0m-85 0h0m-43 0h0m-43 0h0m-42 0h0m-43 0h0m11 2h0m85 0h0m28 0h0m56 0h0m102 3h0m-83 0h0m-41 0h0m-41 0h0m-28 0h0m-14 0h0m-41 0h0m77 2h0m52 1h0m-54 0h0m-27 0h0m-53 0h0m-3 1h0m40 0h0m40 0h0m40 0h0m40 0h0m40 0h0m-71 1h0m-52 0h0m-27 0h0m-54 1h0m229 2h0m-39 0h0m-39 0h0m-38 0h0m-39 0h0m-26 0h0m-13 0h0m-13 0h0m-25 0h0m-5 3h0m151 0h0m26 0h0m83 1h0m-75 0h0m-37 0h0m-38 0h0m-37 0h0m-38 0h0m-38 0h0m-2 1h0m25 0h0m25 0h0m164 3h0m-36 0h0m-36 0h0m-37 0h0m-36 0h0m-37 0h0m-36 0h0m43 2h0m128 1h0m-36 0h0m-35 0h0m-36 0h0m-35 0h0m-35 0h0m28 3h0m12 0h0m23 0h0m34 0h0m34 0h0m69 0h0m35 0h0m34 0h0m-144 2h0m-103 1h0m33 0h0m34 0h0m33 0h0m34 0h0m33 0h0m120 3h0m-65 0h0m-66 0h0m-32 0h0m-33 0h0m-32 0h0m-33 0h0m-33 0h0m-5 3h0m31 0h0m32 0h0m32 0h0m32 0h0m31 0h0m53 2h0m-31 0h0m-31 0h0m-31 0h0m-31 0h0m-31 0h0m-31 0h0m-31 0h0m7 2h0m61 0h0m108 1h0m-30 0h0m-61 0h0m-30 0h0m-30 0h0m-30 0h0m24 2h0m59 0h0m30 0h0m29 0h0m59 0h0m30 0h0m88 0h0m59 0h0m-186 2h0m-29 0h0m-87 0h0m-28 0h0m-35 3h0m29 0h0m28 0h0m56 0h0m56 0h0m57 0h0m56 0h0m-285 1h0m-2 1h0m28 0h0m138 0h0m27 0h0m18 2h0m-27 0h0m-27 0h0m-54 0h0m-53 0h0m-54 0h0m21 2h0m53 0h0m175 1h0m-52 0h0m-51 0h0m-52 0h0m-52 0h0m-25 0h0m-5 2h0m50 0h0m26 0h0m291 2h0m-99 0h0m-99 0h0m-50 0h0m-49 0h0m-50 0h0m-25 0h0m15 3h0m24 0h0m24 0h0m48 0h0m47 0h0m48 0h0m-102 1h0m-93 0h0m-4 2h0m46 0h0m45 0h0m46 0h0m46 0h0m46 0h0m46 0h0m-62 2h0m-89 0h0m-44 0h0m-44 0h0m-45 0h0m-7 3h0m43 0h0m42 0h0m43 0h0m43 0h0m85 0h0m-15 2h0m-42 0h0m-41 0h0m-41 0h0m-42 0h0m-41 0h0m-4 1h0m156 1h0m-40 0h0m-40 0h0m-40 0h0m-40 0h0m95 1h0m91 1h0m-77 0h0m-39 0h0m-39 0h0m-38 0h0m-8 2h0m38 0h0m38 0h0m37 0h0m38 0h0m37 0h0m-121 2h0m-37 0h0m-36 0h0m-6 2h0m35 0h0m35 0h0m36 0h0m71 0h0m35 0h0m-12 1h0m-69 0h0m-68 0h0m-35 0h0m-6 2h0m33 0h0m67 0h0m89 1h0m-98 0h0m-32 0h0m-66 0h0m-5 2h0m63 0h0m32 0h0m32 0h0m-133 1h0m-5 1h0m121 0h0m30 0h0m-38 2h0m-30 0h0m-59 0h0m-5 1h0m29 0h0m28 0h0m50 1h0m-84 0h0m24 4h0m20 1h0m-75 0h0m-2 5h0m136 1h0" stroke-width="5.80"/><path d="M326 1244h0m1 0h0m1 0h0m1 0h0m1 0h0m1 0h0m1 0h0m1 0h0m1 0h0m1 0h0m1 0h0m1 0h0m1 0h0m1 0h0m1 0h0m2 0h0m1 0h0m1 0h0m1 0h0m1 0h0m1 0h0m1 0h0m1 0h0m1 0h0m1 0h0m1 0h0m1 0h0m1 0h0m1 0h0m1 0h0m1 0h0m1 0h0m1 0h0m1 0h0m3 0h0m3 0h0m1 0h0m1 0h0m1 0h0m1 0h0m2 0h0m1 0h0m2 0h0m1 0h0m1 0h0m1 0h0m1 0h0m1 0h0m1 0h0m1 0h0m1 0h0m1 0h0m1 0h0m1 0h0m1 0h0m1 0h0m1 0h0m2 0h0m1 0h0m1 0h0m1 0h0m1 0h0m1 0h0m1 0h0m1 0h0m1 0h0m1 0h0m1 0h0m1 0h0m1 0h0m1 0h0m1 0h0m1 0h0m1 0h0m1 0h0m1 0h0m1 0h0m1 0h0m1 0h0m1 0h0m1 0h0m2 0h0m1 0h0m1 0h0m1 0h0m2 0h0m1 0h0m3 0h0m2 0h0m2 0h0m1 0h0m1 0h0m1 0h0m1 0h0m1 0h0m1 0h0m1 0h0m1 0h0m1 0h0m1 0h0m1 0h0m1 0h0m1 0h0m1 0h0m1 0h0m2 0h0m2 0h0m1 0h0m1 0h0m1 0h0m2 0h0m2 0h0m1 0h0m1 0h0m1 0h0m1 0h0m1 0h0m1 0h0m1 0h0m2 0h0m1 0h0m1 0h0m1 0h0m2 0h0m2 0h0m3 0h0m1 0h0m1 0h0m1 0h0m1 0h0m1 0h0m1 0h0m1 0h0m1 0h0m1 0h0m1 0h0m1 0h0m2 0h0m1 0h0m1 0h0m1 0h0m1 0h0m1 0h0m1 0h0m1 0h0m2 0h0m2 0h0m1 0h0m1 0h0m1 0h0m1 0h0m2 0h0m1 0h0m1 0h0m1 0h0m1 0h0m1 0h0m2 0h0m1 0h0m1 0h0m1 0h0m1 0h0m1 0h0m1 0h0m1 0h0m1 0h0m2 0h0m1 0h0m1 0h0m5 0h0m5 0h0m2 0h0m1 0h0m2 0h0m2 0h0m1 0h0m1 0h0m1 0h0m1 0h0m1 0h0m1 0h0m1 0h0m1 0h0m1 0h0m2 0h0m1 0h0m1 0h0m1 0h0m1 0h0m1 0h0m2 0h0m1 0h0m2 0h0m1 0h0m1 0h0m1 0h0m2 0h0m1 0h0m1 0h0m1 0h0m1 0h0m1 0h0m1 0h0m1 0h0m1 0h0m1 0h0m1 0h0m1 0h0m1 0h0m2 0h0m2 0h0m2 0h0m1 0h0m1 0h0m1 0h0m1 0h0m1 0h0m3 0h0m1 0h0m1 0h0m1 0h0m1 0h0m1 0h0m1 0h0m1 0h0m1 0h0m1 0h0m1 0h0m1 0h0m1 0h0m1 0h0m1 0h0m1 0h0m4 0h0m3 0h0m1 0h0m1 0h0m1 0h0m2 0h0m1 0h0m2 0h0m2 0h0m1 0h0m1 0h0m2 0h0m1 0h0m1 0h0m1 0h0m2 0h0m1 0h0m1 0h0m1 0h0m1 0h0m1 0h0m1 0h0m1 0h0m1 0h0m1 0h0m1 0h0m1 0h0m2 0h0m2 0h0m1 0h0m1 0h0m1 0h0m1 0h0m1 0h0m1 0h0m1 0h0m1 0h0m1 0h0m3 0h0m1 0h0m1 0h0m2 0h0m2 0h0m2 0h0m1 0h0m1 0h0m1 0h0m1 0h0m1 0h0m1 0h0m1 0h0m1 0h0m1 0h0m1 0h0m4 0h0m1 0h0m1 0h0m1 0h0m1 0h0m1 0h0m1 0h0m1 0h0m1 0h0m1 0h0m1 0h0m1 0h0m1 0h0m1 0h0m1 0h0m1 0h0m1 0h0m1 0h0m1 0h0m1 0h0m1 0h0m1 0h0m1 0h0m1 0h0m1 0h0m1 0h0m1 0h0m1 0h0m1 0h0m3 0h0m1 0h0m1 0h0m1 0h0m1 0h0m1 0h0m1 0h0m3 0h0m1 0h0m12 0h0m12 0h0m4 0h0m1 0h0m3 0h0m3 0h0m1 0h0m3 0h0m2 0h0m3 0h0m1 0h0m2 0h0m1 0h0m3 0h0m2 0h0m1 0h0m1 0h0m1 0h0m3 0h0m4 0h0m5 0h0m6 0h0m2 0h0m2 0h0m3 0h0m2 0h0m2 0h0m2 0h0m2 0h0m2 0h0m2 0h0m3 0h0m4 0h0m6 0h0m2 0h0m2 0h0m5 0h0m6 0h0m1 0h0m4 0h0m10 0h0m4 0h0m8 0h0m1 0h0m3 0h0m3 0h0m1 0h0m1 0h0m2 0h0m8 0h0m4 0h0m1 0h0m3 0h0m2 0h0m4 0h0m2 0h0m3 0h0m3 0h0m1 0h0m1 0h0m3 0h0m2 0h0m2 0h0m3 0h0m3 0h0m2 0h0m5 0h0m7 0h0m8 0h0m1 0h0m2 0h0m1 0h0m4 0h0m1 0h0m1 0h0m1 0h0m1 0h0m2 0h0m6 0h0m4 0h0m3 0h0m1 0h0m3 0h0m3 0h0m7 0h0m4 0h0m3 0h0m3 0h0m3 0h0m1 0h0m2 0h0m1 0h0m1 0h0m3 0h0m1 0h0m4 0h0m2 0h0m3 0h0m1 0h0m2 0h0m2 0h0m2 0h0m4 0h0m2 0h0m3 0h0m2 0h0m5 0h0m6 0h0m1 0h0m2 0h0m2 0h0m4 0h0m1 0h0m3 0h0m2 0h0m1 0h0m2 0h0m2 0h0m1 0h0m1 0h0m1 0h0m1 0h0m1 0h0m1 0h0m3 0h0m3 0h0m7 0h0m4 0h0m3 0h0m1 0h0m1 0h0m1 0h0m7 0h0m9 0h0m7 0h0m3 0h0m4 0h0m4 0h0m8 0h0m2 0h0m1 0h0m4 0h0m3 0h0m5 0h0m5 0h0m1 0h0m2 0h0m2 0h0m1 0h0m5 0h0m1 0h0m4 0h0m3 0h0m1 0h0m1 0h0m3 0h0m4 0h0m6 0h0m2 0h0m2 0h0m3 0h0m2 0h0m3 0h0m1 0h0m2 0h0m4 0h0m3 0h0m5 0h0m2 0h0m1 0h0m1 0h0m4 0h0m6 0h0m3 0h0m3 0h0m2 0h0m2 0h0m5 0h0m2 0h0m2 0h0m4 0h0m2 0h0m1 0h0m2 0h0m2 0h0m3 0h0m1 0h0m2 0h0m2 0h0m3 0h0m3 0h0m1 0h0m3 0h0m1 0h0m2 0h0m5 0h0m2 0h0m1 0h0m2 0h0m3 0h0m5 0h0m7 0h0m1 0h0m12 0h0m4 0h0m1 0h0m2 0h0m22 0h0" stroke-width="4.40"/></g><path d="M52.4 7.12H683M162.91 5.32V181.1" class="dot"/><path d="M212.47 1.5V185.5" class="grn"/><path d="M264.08 1.5V185.5" class="grn"/><path d="M322.5 1.5V185.5" class="grn"/><rect x="51.5" y="1.5" width="632" height="184" class="sp"/><path d="M57.6 185.5v3.5M162.91 185.5v3.5M181.5 185.5v3.5M212.47 185.5v3.5M264.1 185.5v3.5M305.4 185.5v3.5M367.35 185.5v3.5M429.3 185.5v3.5M470.6 185.5v3.5M522.23 185.5v3.5M553.2 185.5v3.5M615.15 185.5v3.5M677.1 185.5v3.5M51.5 179.5h-3.5M51.5 154.15h-3.5M51.5 128.8h-3.5M51.5 103.45h-3.5M51.5 78.1h-3.5M51.5 52.75h-3.5M51.5 27.4h-3.5M51.5 7.12h-3.5" class="tk"/><text x="57.6" y="196.5" class="xt">0</text><text x="162.91" y="196.5" class="xt">17</text><text x="181.5" y="196.5" class="xt">20</text><text x="212.47" y="196.5" class="xt">25</text><text x="264.1" y="196.5" class="xt">33</text><text x="305.4" y="196.5" class="xt">40</text><text x="367.35" y="196.5" class="xt">50</text><text x="429.3" y="196.5" class="xt">60</text><text x="470.6" y="196.5" class="xt">67</text><text x="522.23" y="196.5" class="xt">75</text><text x="553.2" y="196.5" class="xt">80</text><text x="615.15" y="196.5" class="xt">90</text><text x="677.1" y="196.5" class="xt">100</text><text x="46" y="182.5" class="yt">0.0</text><text x="46" y="157.15" class="yt">2.5</text><text x="46" y="131.8" class="yt">5.0</text><text x="46" y="106.45" class="yt">7.5</text><text x="46" y="81.1" class="yt">10.0</text><text x="46" y="55.75" class="yt">12.5</text><text x="46" y="30.4" class="yt">15.0</text><text x="46" y="10.12" class="yt">17.0</text><text transform="translate(25.2 93.5) rotate(-90)" class="pl">VADER</text><path d="M52.4 228.32H683M162.91 226.52V402.3" class="dot"/><path d="M204.17 222.5V406.5" class="grn"/><path d="M246.55 222.5V406.5" class="grn"/><path d="M305.21 222.5V406.5" class="grn"/><rect x="51.5" y="222.5" width="632" height="184" class="sp"/><path d="M57.6 406.5v3.5M162.91 406.5v3.5M181.5 406.5v3.5M212.47 406.5v3.5M264.1 406.5v3.5M305.4 406.5v3.5M367.35 406.5v3.5M429.3 406.5v3.5M470.6 406.5v3.5M522.23 406.5v3.5M553.2 406.5v3.5M615.15 406.5v3.5M677.1 406.5v3.5M51.5 400.7h-3.5M51.5 375.35h-3.5M51.5 350h-3.5M51.5 324.65h-3.5M51.5 299.3h-3.5M51.5 273.95h-3.5M51.5 248.6h-3.5M51.5 228.32h-3.5" class="tk"/><text x="57.6" y="417.5" class="xt">0</text><text x="162.91" y="417.5" class="xt">17</text><text x="181.5" y="417.5" class="xt">20</text><text x="212.47" y="417.5" class="xt">25</text><text x="264.1" y="417.5" class="xt">33</text><text x="305.4" y="417.5" class="xt">40</text><text x="367.35" y="417.5" class="xt">50</text><text x="429.3" y="417.5" class="xt">60</text><text x="470.6" y="417.5" class="xt">67</text><text x="522.23" y="417.5" class="xt">75</text><text x="553.2" y="417.5" class="xt">80</text><text x="615.15" y="417.5" class="xt">90</text><text x="677.1" y="417.5" class="xt">100</text><text x="46" y="403.7" class="yt">0.0</text><text x="46" y="378.35" class="yt">2.5</text><text x="46" y="353" class="yt">5.0</text><text x="46" y="327.65" class="yt">7.5</text><text x="46" y="302.3" class="yt">10.0</text><text x="46" y="276.95" class="yt">12.5</text><text x="46" y="251.6" class="yt">15.0</text><text x="46" y="231.32" class="yt">17.0</text><text transform="translate(25.2 314.7) rotate(-90)" class="pl">BERTweet</text><path d="M52.4 449.52H683M162.91 447.72V623.5" class="dot"/><path d="M194.2 443.5V627.5" class="grn"/><path d="M234.16 443.5V627.5" class="grn"/><path d="M288.67 443.5V627.5" class="grn"/><rect x="51.5" y="443.5" width="632" height="184" class="sp"/><path d="M57.6 627.5v3.5M162.91 627.5v3.5M181.5 627.5v3.5M212.47 627.5v3.5M264.1 627.5v3.5M305.4 627.5v3.5M367.35 627.5v3.5M429.3 627.5v3.5M470.6 627.5v3.5M522.23 627.5v3.5M553.2 627.5v3.5M615.15 627.5v3.5M677.1 627.5v3.5M51.5 621.9h-3.5M51.5 596.55h-3.5M51.5 571.2h-3.5M51.5 545.85h-3.5M51.5 520.5h-3.5M51.5 495.15h-3.5M51.5 469.8h-3.5M51.5 449.52h-3.5" class="tk"/><text x="57.6" y="638.5" class="xt">0</text><text x="162.91" y="638.5" class="xt">17</text><text x="181.5" y="638.5" class="xt">20</text><text x="212.47" y="638.5" class="xt">25</text><text x="264.1" y="638.5" class="xt">33</text><text x="305.4" y="638.5" class="xt">40</text><text x="367.35" y="638.5" class="xt">50</text><text x="429.3" y="638.5" class="xt">60</text><text x="470.6" y="638.5" class="xt">67</text><text x="522.23" y="638.5" class="xt">75</text><text x="553.2" y="638.5" class="xt">80</text><text x="615.15" y="638.5" class="xt">90</text><text x="677.1" y="638.5" class="xt">100</text><text x="46" y="624.9" class="yt">0.0</text><text x="46" y="599.55" class="yt">2.5</text><text x="46" y="574.2" class="yt">5.0</text><text x="46" y="548.85" class="yt">7.5</text><text x="46" y="523.5" class="yt">10.0</text><text x="46" y="498.15" class="yt">12.5</text><text x="46" y="472.8" class="yt">15.0</text><text x="46" y="452.52" class="yt">17.0</text><text transform="translate(25.2 535.9) rotate(-90)" class="pl">XLM-T</text><text transform="translate(7.2 310.4) rotate(-90)" class="yl">Negative percentage of interactions</text><text x="357.2" y="664.6" class="xl">Negative percentage of interactions BERT-C</text></svg></body></html>
